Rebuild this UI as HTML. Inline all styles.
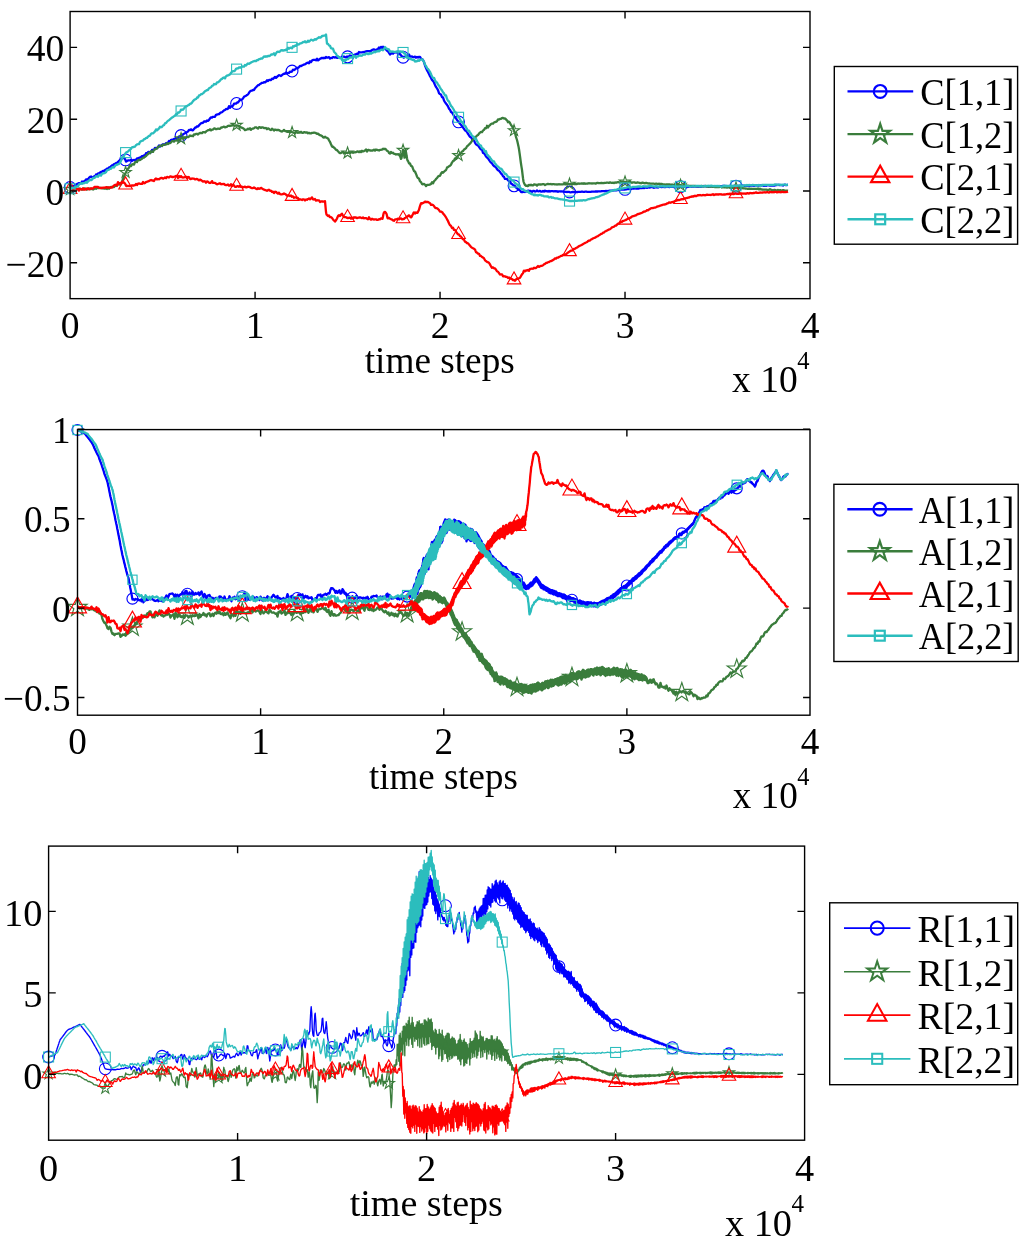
<!DOCTYPE html>
<html><head><meta charset="utf-8"><title>figure</title>
<style>html,body{margin:0;padding:0;background:#fff}svg{display:block}text{font-family:"Liberation Serif", "DejaVu Serif", serif;fill:#000}</style></head><body>
<svg width="1024" height="1244" viewBox="0 0 1024 1244">
<rect width="1024" height="1244" fill="#fff"/>
<path d="M70 187.5L70.5 187.8L71 187.5L71.5 186.6L72 185.8L72.5 186L73 186.2L73.5 186.2L74 186.1L74.5 185.5L75 184.8L75.5 184.8L76 184.8L76.5 184.4L77 184.1L77.5 183.8L78 183.6L78.5 183.4L79 183.1L79.5 183.1L80 183.1L80.5 183.1L81 183.1L81.5 182.3L82 181.5L82.5 181.8L83 182.1L83.5 181.7L84 181.2L84.5 181L85 180.8L85.5 180.1L86 179.4L86.5 179.5L87 179.5L87.5 179.6L88 179.6L88.5 178.6L89 177.8L89.5 177.3L90 176.9L90.5 176.7L91 176.5L91.5 176.8L92 177.2L92.5 177.4L93 177.7L93.5 177L94 176.4L94.5 176.2L95 176L95.5 175.3L96 174.5L96.5 174.7L97 174.8L97.5 174.1L98 173.5L98.5 173.5L99 173.5L99.5 173.1L100 172.6L100.5 172.2L101 171.9L101.5 171.8L102 171.7L102.5 171.2L103 170.8L103.5 171L104 171.2L104.5 170.6L105 170.1L105.5 169.8L106 169.6L106.5 169.1L107 168.6L107.5 168.7L108 168.9L108.5 168.1L109 167.3L109.5 167.3L110 167.4L110.5 166.9L111 166.3L111.5 165.8L112 165.4L112.5 165.2L113 165L113.5 164.6L114 164.2L114.5 164.1L115 163.9L115.5 163.5L116 163.1L116.5 162.9L117 162.7L117.5 162.4L118 162L118.5 161.4L119 160.8L119.5 160.5L120 160.1L120.5 159.8L121 159.5L121.5 159L122 158.3L122.5 158.3L123 158.2L123.5 157.9L124 158L124.5 158.5L125 159L125.5 160.2L126 161.5L126.5 161.4L127 161L127.5 160.7L128 160.4L128.5 160.3L129 160.3L129.5 160.3L130 160.3L130.5 160.2L131 160.1L131.5 160.5L132 161L132.5 160.5L133 160L133.5 160.1L134 160.2L134.5 160.1L135 159.9L135.5 160.1L136 160.2L136.5 159.3L137 158.4L137.5 158.4L138 158.4L138.5 158.1L139 157.9L139.5 157.7L140 157.6L140.5 157.3L141 157.1L141.5 156.6L142 156.1L142.5 156.2L143 156.2L143.5 155.7L144 155.3L144.5 155.5L145 155.8L145.5 154.4L146 153.1L146.5 153.3L147 153.6L147.5 152.8L148 152.1L148.5 152L149 151.8L149.5 152.4L150 152.9L150.5 152.6L151 152.3L151.5 151.1L152 149.9L152.5 150L153 150.1L153.5 149.9L154 149.6L154.5 148.8L155 147.9L155.5 148.1L156 148.4L156.5 148.2L157 148L157.5 147.6L158 147.3L158.5 146.4L159 145.5L159.5 146.1L160 146.6L160.5 146.2L161 145.7L161.5 145.4L162 145.1L162.5 144.6L163 144.3L163.5 144.4L164 144.6L164.5 144.5L165 144.3L165.5 143.8L166 143.2L166.5 143.1L167 143L167.5 143L168 142.9L168.5 141.9L169 141L169.5 141.3L170 141.5L170.5 140.7L171 139.8L171.5 139.8L172 139.7L172.5 139.8L173 139.8L173.5 139.3L174 139L174.5 138.7L175 138.5L175.5 138.4L176 138.2L176.5 138.4L177 138.5L177.5 138.2L178 137.9L178.5 137.2L179 136.5L179.5 136.5L180 136.5L180.5 136.1L181 135.5L181.5 136L182 136.5L182.5 135.3L183 134.2L183.5 134L184 133.8L184.5 133.5L185 133.2L185.5 132.8L186 132.5L186.5 132.3L187 132.1L187.5 131.8L188 131.5L188.5 130.7L189 130L189.5 130.1L190 130.1L190.5 129.7L191 129.3L191.5 129.8L192 130.3L192.5 130.3L193 130.3L193.5 129.6L194 129L194.5 128.4L195 127.7L195.5 127.6L196 127.4L196.5 126.9L197 126.3L197.5 126.4L198 126.5L198.5 125.9L199 125.4L199.5 124.8L200 124.3L200.5 123.8L201 123.3L201.5 123.1L202 123L202.5 122.9L203 122.9L203.5 122.2L204 121.5L204.5 121.5L205 121.5L205.5 121.6L206 121.7L206.5 121.1L207 120.5L207.5 120.7L208 120.9L208.5 120.4L209 120L209.5 119.2L210 118.4L210.5 117.8L211 117.3L211.5 117.4L212 117.5L212.5 117.1L213 116.8L213.5 116.8L214 116.8L214.5 116.8L215 116.8L215.5 115.8L216 114.8L216.5 114.7L217 114.6L217.5 114.4L218 114.3L218.5 114.2L219 114.1L219.5 113.6L220 113.1L220.5 112.7L221 112.4L221.5 112.3L222 112.2L222.5 111.8L223 111.3L223.5 110.8L224 110.4L224.5 110.2L225 110L225.5 109.5L226 109L226.5 109.1L227 109.1L227.5 108.9L228 108.7L228.5 107.4L229 106.1L229.5 106.9L230 107.7L230.5 107.1L231 106.5L231.5 106.4L232 106.2L232.5 106L233 105.8L233.5 104.7L234 103.7L234.5 103.7L235 103.7L235.5 103.6L236 103.6L236.5 103.1L237 102.6L237.5 102.5L238 102.4L238.5 101.8L239 101.2L239.5 100.4L240 99.7L240.5 99.9L241 100.1L241.5 99.8L242 99.5L242.5 98.9L243 98.3L243.5 97.6L244 96.8L244.5 96.5L245 96.2L245.5 96L246 95.8L246.5 95.4L247 95L247.5 94.7L248 94.3L248.5 93.6L249 92.8L249.5 92L250 91.3L250.5 91.1L251 90.8L251.5 90.7L252 90.7L252.5 90.3L253 90L253.5 90L254 90L254.5 89.1L255 88.2L255.5 87.8L256 87.3L256.5 86.8L257 86.2L257.5 85.7L258 85.2L258.5 85.1L259 85L259.5 84.5L260 84L260.5 83.8L261 83.5L261.5 83.1L262 82.8L262.5 82.9L263 82.8L263.5 82.5L264 82.1L264.5 82.3L265 82.4L265.5 82.1L266 81.7L266.5 81L267 80.3L267.5 80.7L268 81.1L268.5 80.5L269 79.9L269.5 79.9L270 79.9L270.5 80L271 80.1L271.5 79.4L272 78.6L272.5 78.8L273 79L273.5 78.5L274 77.8L274.5 77.4L275 76.9L275.5 77.4L276 77.9L276.5 77.4L277 76.9L277.5 76.4L278 76L278.5 75.6L279 75.2L279.5 75.3L280 75.5L280.5 75.7L281 76L281.5 75.5L282 75.1L282.5 74.7L283 74.3L283.5 74L284 73.7L284.5 73.7L285 73.8L285.5 73.1L286 72.5L286.5 73.1L287 73.7L287.5 73.3L288 72.9L288.5 72.9L289 72.9L289.5 72.3L290 71.6L290.5 71.8L291 71.9L291.5 71.7L292 71.4L292.5 70.5L293 69.7L293.5 69.8L294 70L294.5 69.7L295 69.5L295.5 68.9L296 68.4L296.5 68.2L297 68L297.5 67.9L298 67.9L298.5 67.5L299 67.1L299.5 66.5L300 65.9L300.5 66L301 66.2L301.5 65.8L302 65.5L302.5 65.2L303 65L303.5 64.7L304 64.5L304.5 64.4L305 64.3L305.5 64L306 63.6L306.5 63.3L307 62.9L307.5 62.8L308 62.6L308.5 62.9L309 63.2L309.5 62.2L310 61.3L310.5 61.7L311 62.1L311.5 61.3L312 60.5L312.5 60.2L313 59.9L313.5 59.9L314 59.8L314.5 59.8L315 59.9L315.5 60.1L316 60.3L316.5 59.5L317 58.8L317.5 59.6L318 60.4L318.5 60.1L319 59.8L319.5 59.3L320 58.8L320.5 58.6L321 58.4L321.5 58.1L322 57.8L322.5 58.1L323 58.3L323.5 58L324 57.7L324.5 57.9L325 58.1L325.5 57.6L326 57L326.5 57.4L327 57.7L327.5 57.6L328 57.5L328.5 57.3L329 57.1L329.5 57.9L330 58.6L330.5 58.2L331 57.8L331.5 57.9L332 58L332.5 57.6L333 57.1L333.5 57.2L334 57.2L334.5 57.4L335 57.6L335.5 57.3L336 57.1L336.5 57.4L337 57.8L337.5 57.8L338 57.8L338.5 57.6L339 57.3L339.5 57.6L340 57.9L340.5 57.8L341 57.6L341.5 57.5L342 57.3L342.5 57L343 56.6L343.5 56.6L344 56.6L344.5 56.8L345 57.1L345.5 57.3L346 57.5L346.5 57L347 56.5L347.5 56.9L348 57.3L348.5 56.9L349 56.5L349.5 55.9L350 55.4L350.5 55.7L351 55.9L351.5 55.9L352 55.8L352.5 55.4L353 55.1L353.5 55.4L354 55.7L354.5 55L355 54.3L355.5 54.3L356 54.4L356.5 54L357 53.7L357.5 53.8L358 54L358.5 53L359 52L359.5 52.2L360 52.4L360.5 52.4L361 52.3L361.5 52.4L362 52.4L362.5 52.2L363 52L363.5 52.1L364 52.3L364.5 52L365 51.7L365.5 51.6L366 51.4L366.5 51.3L367 51.1L367.5 51.1L368 51.1L368.5 51.2L369 51.3L369.5 51.2L370 51.1L370.5 51L371 50.9L371.5 50.5L372 50.1L372.5 49.8L373 49.6L373.5 49.5L374 49.5L374.5 49.6L375 49.8L375.5 50L376 50.2L376.5 49.8L377 49.3L377.5 49.2L378 49L378.5 48.2L379 47.5L379.5 48.4L380 49.3L380.5 48.1L381 46.9L381.5 47.6L382 48.2L382.5 47.5L383 46.8L383.5 47.1L384 47.7L384.5 48.2L385 48.8L385.5 49.2L386 49.5L386.5 50.1L387 50.6L387.5 51L388 51.3L388.5 52.1L389 52.8L389.5 53.6L390 54.5L390.5 54.1L391 53.8L391.5 53.3L392 52.9L392.5 53.3L393 53.7L393.5 52.9L394 52.2L394.5 52.4L395 52.6L395.5 52.2L396 51.8L396.5 52L397 52.4L397.5 53.2L398 54L398.5 54L399 53.9L399.5 54L400 54.1L400.5 54.7L401 55.3L401.5 56L402 56.7L402.5 56.6L403 56.6L403.5 57.5L404 57.6L404.5 57.3L405 56.9L405.5 56.3L406 55.7L406.5 55.7L407 55.7L407.5 55.6L408 56L408.5 55.3L409 54.5L409.5 55.6L410 56.7L410.5 56.7L411 56.7L411.5 56.6L412 56.4L412.5 56.8L413 57.2L413.5 57.2L414 57.1L414.5 56.8L415 56.6L415.5 57.1L416 57.7L416.5 57.3L417 57L417.5 57.3L418 57.5L418.5 57.1L419 56.9L419.5 56.9L420 56.9L420.5 57.8L421 58.7L421.5 58.9L422 59.2L422.5 59.3L423 60.1L423.5 61.1L424 62.1L424.5 63.8L425 65.5L425.5 66.7L426 68L426.5 69.1L427 70.3L427.5 71.2L428 72L428.5 73L429 74L429.5 75.1L430 76.2L430.5 77L431 77.8L431.5 78.9L432 79.9L432.5 80.4L433 81L433.5 81.7L434 82.5L434.5 83.7L435 84.9L435.5 85.9L436 86.9L436.5 87.7L437 88.4L437.5 89.3L438 90.2L438.5 91.7L439 93.1L439.5 93.6L440 94L440.5 94.3L441 94.5L441.5 95.8L442 97.2L442.5 97.3L443 97.4L443.5 98.9L444 100.5L444.5 101.3L445 102.1L445.5 102.8L446 103.6L446.5 104.2L447 104.8L447.5 105.6L448 106.4L448.5 107.6L449 108.7L449.5 109.2L450 109.8L450.5 110.8L451 111.9L451.5 112.2L452 112.5L452.5 113.3L453 114L453.5 115L454 116L454.5 116.5L455 117L455.5 117.6L456 118.3L456.5 119.1L457 119.9L457.5 120.6L458 121.3L458.5 121.9L459 122.4L459.5 123.1L460 123.8L460.5 124.3L461 124.8L461.5 125.5L462 126.2L462.5 126.8L463 127.5L463.5 128.2L464 128.9L464.5 129.7L465 130.4L465.5 130.6L466 130.8L466.5 131.4L467 132L467.5 132.9L468 133.9L468.5 134.6L469 135.3L469.5 136.1L470 136.9L470.5 137L471 137.1L471.5 138L472 139L472.5 139.6L473 140.2L473.5 140.2L474 140.3L474.5 141.5L475 142.6L475.5 143.5L476 144.3L476.5 144.6L477 144.9L477.5 145.2L478 145.5L478.5 146.2L479 146.9L479.5 147.7L480 148.4L480.5 148.9L481 149.4L481.5 149.3L482 149.2L482.5 151.1L483 152.9L483.5 153L484 153.1L484.5 153.8L485 154.6L485.5 155.5L486 156.5L486.5 157L487 157.5L487.5 157.9L488 158.4L488.5 159.1L489 159.9L489.5 160.7L490 161.4L490.5 162L491 162.5L491.5 162.9L492 163.2L492.5 164.1L493 164.9L493.5 165.5L494 166.1L494.5 166.3L495 166.6L495.5 167L496 167.4L496.5 168.3L497 169.1L497.5 169.7L498 170.3L498.5 170.5L499 170.8L499.5 171.3L500 171.9L500.5 172.7L501 173.5L501.5 174L502 174.4L502.5 175.3L503 176.2L503.5 176.5L504 176.8L504.5 177.9L505 178.9L505.5 178.9L506 178.8L506.5 178.9L507 179L507.5 179.7L508 180.3L508.5 180.8L509 181.3L509.5 181.4L510 181.5L510.5 182.5L511 183.6L511.5 183.8L512 184.1L512.5 184.5L513 184.9L513.5 185.2L514 185.4L514.5 185.8L515 186.1L515.5 186.8L516 187.5L516.5 187.8L517 188.1L517.5 188.8L518 189.4L518.5 189.6L519 189.8L519.5 190.1L520 190.3L520.5 191.1L521 191.9L521.5 192.1L522 192.1L522.5 192L523 192L523.5 191.8L524 191.6L524.5 191.8L525 192.1L525.5 191.5L526 190.9L526.5 191.3L527 191.6L527.5 191.1L528 190.6L528.5 190.7L529 190.8L529.5 190.9L530 191L530.5 191L531 191.1L531.5 191.5L532 191.9L532.5 191.5L533 191L533.5 190.9L534 190.8L534.5 191.2L535 191.5L535.5 191.4L536 191.2L536.5 190.9L537 190.5L537.5 190.9L538 191.2L538.5 191.3L539 191.3L539.5 191.1L540 190.8L540.5 191.2L541 191.6L541.5 191.6L542 191.7L542.5 191.3L543 191L543.5 191.3L544 191.6L544.5 191.1L545 190.6L545.5 191L546 191.3L546.5 191.2L547 191.1L547.5 191.3L548 191.6L548.5 191.3L549 191L549.5 191.3L550 191.6L550.5 191.3L551 191.1L551.5 191.1L552 191.2L552.5 191.2L553 191.2L553.5 191.3L554 191.4L554.5 191.3L555 191.1L555.5 191.3L556 191.5L556.5 191.3L557 191.2L557.5 191.5L558 191.8L558.5 191.6L559 191.3L559.5 191.3L560 191.3L560.5 191.4L561 191.5L561.5 191.4L562 191.3L562.5 191.5L563 191.7L563.5 191.6L564 191.6L564.5 191.7L565 191.9L565.5 191.9L566 191.9L566.5 191.9L567 192L567.5 191.9L568 191.8L568.5 191.8L569 191.9L569.5 192.1L570 192.3L570.5 192.3L571 192.3L571.5 192.2L572 192.2L572.5 192L573 191.9L573.5 192.1L574 192.2L574.5 192.1L575 191.9L575.5 191.9L576 192L576.5 192.1L577 192.2L577.5 192L578 191.9L578.5 191.9L579 191.9L579.5 191.9L580 191.8L580.5 191.8L581 191.8L581.5 191.7L582 191.7L582.5 191.7L583 191.8L583.5 191.8L584 191.8L584.5 191.8L585 191.7L585.5 191.7L586 191.6L586.5 191.7L587 191.8L587.5 191.8L588 191.8L588.5 191.8L589 191.8L589.5 191.8L590 191.9L590.5 191.8L591 191.8L591.5 191.7L592 191.6L592.5 191.6L593 191.6L593.5 191.6L594 191.6L594.5 191.6L595 191.6L595.5 191.5L596 191.4L596.5 191.5L597 191.6L597.5 191.5L598 191.4L598.5 191.4L599 191.4L599.5 191.4L600 191.3L600.5 191.3L601 191.3L601.5 191.2L602 191.2L602.5 191.2L603 191.1L603.5 191.2L604 191.2L604.5 191.2L605 191.3L605.5 191L606 190.8L606.5 191L607 191.2L607.5 191.1L608 191L608.5 190.9L609 190.8L609.5 190.7L610 190.6L610.5 190.6L611 190.6L611.5 190.6L612 190.6L612.5 190.6L613 190.5L613.5 190.4L614 190.3L614.5 190.3L615 190.4L615.5 190.4L616 190.4L616.5 190.3L617 190.2L617.5 190.1L618 190.1L618.5 189.9L619 189.7L619.5 189.7L620 189.8L620.5 189.7L621 189.7L621.5 189.6L622 189.5L622.5 189.6L623 189.6L623.5 189.6L624 189.6L624.5 189.5L625 189.5L625.5 189.4L626 189.3L626.5 189.3L627 189.2L627.5 189.2L628 189.1L628.5 189L629 188.9L629.5 188.9L630 188.9L630.5 188.9L631 188.9L631.5 188.8L632 188.6L632.5 188.5L633 188.4L633.5 188.5L634 188.6L634.5 188.4L635 188.3L635.5 188.5L636 188.7L636.5 188.6L637 188.5L637.5 188.5L638 188.5L638.5 188.5L639 188.4L639.5 188.3L640 188.1L640.5 188.2L641 188.2L641.5 188.2L642 188.2L642.5 188L643 187.8L643.5 187.9L644 188.1L644.5 187.9L645 187.7L645.5 187.6L646 187.6L646.5 187.7L647 187.9L647.5 187.7L648 187.5L648.5 187.4L649 187.3L649.5 187.5L650 187.6L650.5 187.3L651 186.9L651.5 187L652 187.1L652.5 187.3L653 187.5L653.5 187.7L654 187.8L654.5 187.6L655 187.3L655.5 187.4L656 187.4L656.5 187.2L657 187L657.5 187.3L658 187.6L658.5 187.3L659 187L659.5 186.7L660 186.5L660.5 186.8L661 187.1L661.5 187L662 187L662.5 186.9L663 186.8L663.5 186.9L664 187L664.5 187.1L665 187.2L665.5 186.9L666 186.6L666.5 186.8L667 187L667.5 186.8L668 186.6L668.5 186.8L669 187.1L669.5 187L670 186.9L670.5 186.8L671 186.7L671.5 186.8L672 186.9L672.5 186.9L673 186.8L673.5 186.9L674 187L674.5 186.9L675 186.9L675.5 187L676 187.1L676.5 187.3L677 187.4L677.5 187.1L678 186.9L678.5 187L679 187L679.5 187L680 186.9L680.5 186.8L681 186.7L681.5 186.8L682 186.9L682.5 186.9L683 186.9L683.5 186.9L684 186.8L684.5 186.7L685 186.7L685.5 186.6L686 186.6L686.5 186.8L687 187L687.5 186.9L688 186.8L688.5 186.8L689 186.9L689.5 186.6L690 186.4L690.5 186.6L691 186.8L691.5 186.5L692 186.2L692.5 186.4L693 186.6L693.5 186.6L694 186.6L694.5 186.6L695 186.6L695.5 186.5L696 186.5L696.5 186.6L697 186.7L697.5 186.7L698 186.6L698.5 186.6L699 186.6L699.5 186.7L700 186.9L700.5 186.8L701 186.6L701.5 186.5L702 186.4L702.5 186.4L703 186.3L703.5 186.1L704 186L704.5 186.1L705 186.3L705.5 186.3L706 186.3L706.5 186.3L707 186.3L707.5 186.4L708 186.4L708.5 186.6L709 186.8L709.5 186.7L710 186.5L710.5 186.4L711 186.4L711.5 186.3L712 186.2L712.5 186.4L713 186.6L713.5 186.4L714 186.3L714.5 186.5L715 186.7L715.5 186.5L716 186.3L716.5 186.5L717 186.6L717.5 186.5L718 186.4L718.5 186.3L719 186.2L719.5 186.2L720 186.2L720.5 186.2L721 186.2L721.5 186.2L722 186.1L722.5 186L723 185.8L723.5 185.8L724 185.8L724.5 185.9L725 186.1L725.5 186.1L726 186L726.5 186.1L727 186.2L727.5 186.2L728 186.2L728.5 186.2L729 186.3L729.5 186.2L730 186.1L730.5 186.2L731 186.2L731.5 186.2L732 186.2L732.5 186.3L733 186.3L733.5 186.1L734 185.9L734.5 185.8L735 185.7L735.5 185.8L736 186L736.5 186.1L737 186.2L737.5 186.1L738 185.9L738.5 185.9L739 185.9L739.5 185.8L740 185.7L740.5 185.7L741 185.8L741.5 185.8L742 185.9L742.5 185.7L743 185.6L743.5 185.7L744 185.9L744.5 185.9L745 185.9L745.5 185.9L746 185.8L746.5 185.8L747 185.9L747.5 185.8L748 185.7L748.5 185.9L749 186.1L749.5 186L750 185.9L750.5 185.7L751 185.5L751.5 185.6L752 185.7L752.5 185.6L753 185.5L753.5 185.7L754 185.9L754.5 185.7L755 185.5L755.5 185.4L756 185.3L756.5 185.5L757 185.7L757.5 185.7L758 185.6L758.5 185.5L759 185.5L759.5 185.4L760 185.4L760.5 185.4L761 185.4L761.5 185.5L762 185.5L762.5 185.4L763 185.3L763.5 185.6L764 185.9L764.5 185.7L765 185.4L765.5 185.7L766 185.9L766.5 185.6L767 185.3L767.5 185.4L768 185.4L768.5 185.4L769 185.3L769.5 185.5L770 185.6L770.5 185.6L771 185.6L771.5 185.5L772 185.4L772.5 185.5L773 185.6L773.5 185.6L774 185.6L774.5 185.5L775 185.5L775.5 185.3L776 185.1L776.5 185L777 185L777.5 184.9L778 184.9L778.5 184.9L779 185L779.5 185.1L780 185.2L780.5 185.1L781 185L781.5 185.1L782 185.2L782.5 185.3L783 185.5L783.5 185.2L784 185L784.5 184.8L785 184.6L785.5 184.9L786 185.2L786.5 185.1L787 185L787.5 184.9L788 184.9" fill="none" stroke="#0000ff" stroke-width="2.3" stroke-linejoin="round" stroke-linecap="butt"/>
<circle cx="70.1" cy="187.45" r="5.9" fill="none" stroke="#0000ff" stroke-width="1.1"/>
<circle cx="125.59" cy="159.9" r="5.9" fill="none" stroke="#0000ff" stroke-width="1.1"/>
<circle cx="181.08" cy="135.56" r="5.9" fill="none" stroke="#0000ff" stroke-width="1.1"/>
<circle cx="236.58" cy="103.47" r="5.9" fill="none" stroke="#0000ff" stroke-width="1.1"/>
<circle cx="292.07" cy="71.06" r="5.9" fill="none" stroke="#0000ff" stroke-width="1.1"/>
<circle cx="347.56" cy="56.82" r="5.9" fill="none" stroke="#0000ff" stroke-width="1.1"/>
<circle cx="403.05" cy="57.19" r="5.9" fill="none" stroke="#0000ff" stroke-width="1.1"/>
<circle cx="458.55" cy="121.87" r="5.9" fill="none" stroke="#0000ff" stroke-width="1.1"/>
<circle cx="514.04" cy="185.83" r="5.9" fill="none" stroke="#0000ff" stroke-width="1.1"/>
<circle cx="569.53" cy="192" r="5.9" fill="none" stroke="#0000ff" stroke-width="1.1"/>
<circle cx="625.02" cy="189.4" r="5.9" fill="none" stroke="#0000ff" stroke-width="1.1"/>
<circle cx="680.52" cy="186.7" r="5.9" fill="none" stroke="#0000ff" stroke-width="1.1"/>
<circle cx="736.01" cy="186.1" r="5.9" fill="none" stroke="#0000ff" stroke-width="1.1"/>
<path d="M70 189.5L70.5 189.7L71 189.1L71.5 189L72 188.9L72.5 188.3L73 187.7L73.5 188.4L74 189L74.5 189L75 188.9L75.5 188.8L76 188.7L76.5 188.9L77 189.2L77.5 189.2L78 189.3L78.5 188.9L79 188.6L79.5 188.7L80 188.8L80.5 188.9L81 189.1L81.5 189.4L82 189.6L82.5 189.5L83 189.4L83.5 188.9L84 188.3L84.5 188.3L85 188.3L85.5 188.8L86 189.2L86.5 189.4L87 189.6L87.5 189.2L88 188.7L88.5 188.5L89 188.4L89.5 188.8L90 189.3L90.5 188.9L91 188.6L91.5 188.9L92 189.1L92.5 189.3L93 189.5L93.5 189.2L94 188.9L94.5 188.7L95 188.5L95.5 188.6L96 188.8L96.5 188.4L97 188L97.5 188.1L98 188.1L98.5 188L99 187.9L99.5 187.9L100 188.1L100.5 188L101 188L101.5 188.1L102 188.3L102.5 188.3L103 188.3L103.5 188.4L104 188.5L104.5 188.5L105 188.4L105.5 188.5L106 188.5L106.5 188.8L107 189L107.5 188.2L108 187.3L108.5 188L109 188.7L109.5 188.2L110 187.8L110.5 187.3L111 186.8L111.5 186.9L112 187.1L112.5 187L113 186.9L113.5 187L114 187.1L114.5 186.4L115 185.7L115.5 185.8L116 186L116.5 185.8L117 185.6L117.5 185L118 184.3L118.5 184.2L119 184.2L119.5 184.4L120 184.7L120.5 184.5L121 184.3L121.5 183.1L122 181.9L122.5 180.5L123 179.1L123.5 177.8L124 176.6L124.5 175.2L125 173.9L125.5 173L126 172.5L126.5 171.2L127 169.9L127.5 169.4L128 168.8L128.5 168.2L129 167.6L129.5 166.4L130 165.2L130.5 165.7L131 166.1L131.5 165.3L132 164.4L132.5 164.3L133 164.2L133.5 164.4L134 164.6L134.5 163.4L135 162.2L135.5 161.9L136 161.6L136.5 161.8L137 162.1L137.5 161.1L138 160.2L138.5 160.1L139 160L139.5 160L140 160L140.5 159.7L141 159.3L141.5 159L142 158.7L142.5 158.2L143 157.8L143.5 157.7L144 157.6L144.5 157.2L145 156.8L145.5 156.4L146 156L146.5 155.4L147 154.8L147.5 154.5L148 154.1L148.5 153.4L149 152.7L149.5 153L150 153.3L150.5 152.2L151 151.2L151.5 151.5L152 151.9L152.5 151.9L153 151.9L153.5 150.8L154 149.8L154.5 149.6L155 149.4L155.5 149.1L156 148.7L156.5 148.7L157 148.6L157.5 147.8L158 146.9L158.5 146.7L159 146.5L159.5 146.1L160 145.7L160.5 145.6L161 145.6L161.5 145.8L162 146.1L162.5 145.3L163 144.6L163.5 144.7L164 144.8L164.5 144.7L165 144.6L165.5 144.6L166 144.6L166.5 143.9L167 143.2L167.5 143.6L168 144L168.5 143.7L169 143.3L169.5 143.2L170 143.2L170.5 142.8L171 142.4L171.5 141.7L172 141.1L172.5 141.1L173 141.2L173.5 141.4L174 141.6L174.5 141.1L175 140.7L175.5 140.5L176 140.2L176.5 140.5L177 140.7L177.5 140.7L178 140.7L178.5 140L179 139.3L179.5 139.7L180 140.1L180.5 139L181 137.9L181.5 137.7L182 137.5L182.5 138.1L183 138.7L183.5 138.3L184 137.8L184.5 137.9L185 137.9L185.5 137.8L186 137.6L186.5 137.3L187 137L187.5 137.1L188 137.2L188.5 136.9L189 136.6L189.5 136L190 135.4L190.5 135.7L191 136L191.5 135.9L192 135.7L192.5 136L193 136.2L193.5 135.2L194 134.3L194.5 134.4L195 134.5L195.5 134.2L196 133.9L196.5 133.8L197 133.8L197.5 134.1L198 134.5L198.5 134L199 133.5L199.5 133.2L200 132.9L200.5 133L201 133L201.5 133.1L202 133.2L202.5 132.7L203 132.1L203.5 132.1L204 132.1L204.5 132.3L205 132.5L205.5 132.1L206 131.6L206.5 131.2L207 130.7L207.5 130.5L208 130.2L208.5 130.2L209 130.2L209.5 129.7L210 129.2L210.5 129.8L211 130.4L211.5 130.1L212 129.8L212.5 129.6L213 129.5L213.5 129L214 128.5L214.5 128.5L215 128.6L215.5 128.9L216 129.2L216.5 129.1L217 129L217.5 128.8L218 128.6L218.5 128.7L219 128.8L219.5 128.8L220 128.8L220.5 128.2L221 127.6L221.5 127.5L222 127.5L222.5 127.2L223 127L223.5 126.8L224 126.6L224.5 127L225 127.4L225.5 127.2L226 127L226.5 126.9L227 126.8L227.5 126.3L228 125.8L228.5 125.8L229 125.7L229.5 125.8L230 126L230.5 125.8L231 125.6L231.5 125.6L232 125.6L232.5 125.3L233 124.9L233.5 125.2L234 125.4L234.5 125.6L235 125.8L235.5 125.6L236 125.4L236.5 125.5L237 125.8L237.5 125.6L238 125.5L238.5 126L239 126.5L239.5 126.4L240 126.4L240.5 127L241 127.7L241.5 127.7L242 127.7L242.5 128L243 128.3L243.5 128.6L244 128.9L244.5 129.6L245 130.2L245.5 130L246 129.8L246.5 129.7L247 129.5L247.5 129.1L248 128.7L248.5 129L249 129.3L249.5 128.8L250 128.3L250.5 129.1L251 129.8L251.5 129.3L252 128.8L252.5 128.7L253 128.7L253.5 128.5L254 128.3L254.5 127.8L255 127.3L255.5 127.3L256 127.3L256.5 127.6L257 127.9L257.5 128.3L258 128.6L258.5 127.9L259 127.2L259.5 127.2L260 127.3L260.5 127.6L261 127.9L261.5 127.6L262 127.3L262.5 127.4L263 127.4L263.5 127.7L264 128L264.5 128.1L265 128.2L265.5 128.1L266 128L266.5 128.6L267 129.2L267.5 128.8L268 128.4L268.5 128.6L269 128.8L269.5 129.3L270 129.7L270.5 129.9L271 130L271.5 129.3L272 128.6L272.5 129L273 129.5L273.5 130L274 130.6L274.5 130L275 129.5L275.5 129.7L276 129.9L276.5 130L277 130L277.5 130L278 130L278.5 130L279 130.1L279.5 130.4L280 130.7L280.5 131L281 131.3L281.5 131.4L282 131.5L282.5 131.2L283 130.8L283.5 130.4L284 129.9L284.5 130.5L285 131.1L285.5 131.1L286 131.2L286.5 131.5L287 131.8L287.5 131.8L288 131.8L288.5 131.4L289 131.1L289.5 131.7L290 132.4L290.5 131.8L291 131.2L291.5 131.7L292 132.1L292.5 132.3L293 132.6L293.5 132.7L294 132.7L294.5 133.1L295 133.4L295.5 132.4L296 131.4L296.5 132L297 132.7L297.5 132.7L298 132.8L298.5 132.5L299 132.1L299.5 132.4L300 132.6L300.5 132.2L301 131.8L301.5 132.3L302 132.8L302.5 132.9L303 132.9L303.5 132.5L304 132.1L304.5 132.2L305 132.3L305.5 132.5L306 132.6L306.5 132.5L307 132.4L307.5 132.9L308 133.3L308.5 133.1L309 132.8L309.5 133.1L310 133.4L310.5 133.4L311 133.4L311.5 133.1L312 132.9L312.5 132.9L313 132.9L313.5 132.7L314 132.6L314.5 132.7L315 132.8L315.5 132.9L316 133.1L316.5 133.5L317 133.9L317.5 133.7L318 133.6L318.5 134.1L319 134.6L319.5 134.9L320 135.2L320.5 135.3L321 135.4L321.5 135.7L322 136L322.5 136.6L323 137.2L323.5 137.4L324 137.6L324.5 137.2L325 136.7L325.5 137.1L326 137.5L326.5 137.7L327 137.9L327.5 138.2L328 138.5L328.5 139.2L329 140.4L329.5 141.1L330 141.9L330.5 143L331 144.2L331.5 145.3L332 146.4L332.5 146.8L333 146.6L333.5 147.1L334 147.6L334.5 148L335 148.5L335.5 149.2L336 149.8L336.5 149.9L337 150.1L337.5 150.7L338 151.3L338.5 151.8L339 152.4L339.5 152.8L340 153.2L340.5 153.1L341 152.9L341.5 152.6L342 152.3L342.5 152.2L343 152L343.5 152.7L344 153.5L344.5 153.3L345 153.2L345.5 152.9L346 152.6L346.5 152.7L347 152.9L347.5 152.8L348 152.8L348.5 152.4L349 152.1L349.5 152.5L350 153L350.5 152.6L351 152.3L351.5 152.4L352 152.4L352.5 152.6L353 152.8L353.5 152.5L354 152.2L354.5 152.3L355 152.4L355.5 152.2L356 152.1L356.5 151.9L357 151.6L357.5 151.5L358 151.4L358.5 151.8L359 152.2L359.5 151.7L360 151.2L360.5 151.6L361 152.1L361.5 151.4L362 150.8L362.5 151.2L363 151.5L363.5 151.3L364 151.1L364.5 150.8L365 150.5L365.5 150L366 149.4L366.5 150.5L367 151.5L367.5 150.8L368 150L368.5 150L369 150L369.5 150.2L370 150.5L370.5 150.5L371 150.5L371.5 150.6L372 150.6L372.5 150.5L373 150.4L373.5 150L374 149.6L374.5 150.1L375 150.6L375.5 150.1L376 149.5L376.5 149.7L377 149.9L377.5 150L378 150.1L378.5 150.3L379 150.5L379.5 150.2L380 149.8L380.5 149.8L381 149.8L381.5 149.7L382 149.7L382.5 149.2L383 148.7L383.5 148.9L384 149.1L384.5 148.9L385 148.8L385.5 149.1L386 149.4L386.5 150.1L387 150.8L387.5 151L388 151.2L388.5 152L389 152.9L389.5 153.2L390 153.6L390.5 152.7L391 151.9L391.5 152.5L392 153.1L392.5 152.9L393 152.7L393.5 153.3L394 153.8L394.5 153.9L395 153.9L395.5 154.2L396 154.5L396.5 154.3L397 154.2L397.5 154.3L398 154.5L398.5 154.2L399 154.5L399.5 155.2L400 155.8L400.5 157.3L401 158.9L401.5 158.1L402 155.3L402.5 152.5L403 149.7L403.5 152.1L404 154.5L404.5 157.7L405 154.5L405.5 150L406 152.2L406.5 155.3L407 158.3L407.5 160.5L408 160.9L408.5 162.1L409 163.4L409.5 163.5L410 163.5L410.5 164.7L411 165.9L411.5 166L412 166.2L412.5 167.3L413 168.7L413.5 169.9L414 171.2L414.5 171.3L415 171.5L415.5 172.7L416 173.9L416.5 175.2L417 176.5L417.5 177.4L418 178L418.5 178.3L419 178.7L419.5 180L420 181.3L420.5 181.7L421 182.1L421.5 183L422 184L422.5 184.3L423 184.3L423.5 184.1L424 183.9L424.5 184.3L425 184.7L425.5 185.4L426 186.1L426.5 185.6L427 185L427.5 184.9L428 184.9L428.5 184.8L429 184.8L429.5 184.7L430 184.6L430.5 184.3L431 184L431.5 183.1L432 182.3L432.5 183L433 183.4L433.5 182.3L434 181.2L434.5 180.7L435 180.2L435.5 179.7L436 179.1L436.5 178.5L437 178L437.5 177.3L438 176.6L438.5 176.3L439 176L439.5 175.9L440 175.9L440.5 174.7L441 173.5L441.5 172.8L442 172.1L442.5 172.4L443 172.7L443.5 172.2L444 171.7L444.5 171.2L445 170.7L445.5 170.4L446 170.1L446.5 168.9L447 167.6L447.5 167.3L448 167.1L448.5 166.7L449 166.3L449.5 166L450 165.7L450.5 165.2L451 164.7L451.5 163.6L452 162.5L452.5 161.8L453 161L453.5 160.7L454 160.4L454.5 159.4L455 158.5L455.5 158.7L456 158.8L456.5 157.9L457 156.9L457.5 156.4L458 155.9L458.5 155.2L459 154.5L459.5 154.6L460 154.7L460.5 153.8L461 153L461.5 152.2L462 151.5L462.5 151.3L463 151L463.5 150.3L464 149.6L464.5 149.2L465 148.9L465.5 148.6L466 148.2L466.5 147.3L467 146.3L467.5 145.9L468 145.6L468.5 145L469 144.5L469.5 144.1L470 143.7L470.5 143L471 142.3L471.5 141.6L472 140.9L472.5 140.2L473 139.4L473.5 139.1L474 138.8L474.5 137.8L475 136.8L475.5 136.8L476 136.8L476.5 136.2L477 135.5L477.5 135.3L478 135L478.5 134.3L479 133.6L479.5 133.1L480 132.7L480.5 132.2L481 131.8L481.5 131.9L482 132.1L482.5 131.3L483 130.6L483.5 130.2L484 129.8L484.5 129L485 128.2L485.5 128.3L486 128.3L486.5 127.1L487 125.8L487.5 126.7L488 127.5L488.5 126.7L489 125.9L489.5 125.6L490 125.2L490.5 124.6L491 124L491.5 123.8L492 123.6L492.5 123.6L493 123.7L493.5 123.1L494 122.5L494.5 122.3L495 122.1L495.5 121.9L496 121.9L496.5 121.5L497 121.2L497.5 120.3L498 119.4L498.5 119.4L499 119.5L499.5 119.2L500 118.9L500.5 118.8L501 118.8L501.5 118.4L502 118.1L502.5 118L503 117.9L503.5 118.2L504 118.5L504.5 118.5L505 118.4L505.5 118.7L506 119.5L506.5 119.9L507 120.2L507.5 121.2L508 122.2L508.5 121.9L509 121.6L509.5 122.3L510 122.9L510.5 123.9L511 124.9L511.5 125.5L512 126.3L512.5 127.1L513 127.9L513.5 129.3L514 130.7L514.5 131.8L515 132.9L515.5 134.9L516 136.9L516.5 138.5L517 140L517.5 142.1L518 144.2L518.5 146.4L519 149.2L519.5 152.7L520 156.2L520.5 160L521 163.8L521.5 166.9L522 169.9L522.5 174.1L523 178.2L523.5 181.5L524 183L524.5 183.9L525 184.9L525.5 185.4L526 185.8L526.5 185.7L527 185.5L527.5 186L528 186.1L528.5 185.4L529 184.8L529.5 185L530 185.3L530.5 185L531 184.7L531.5 185L532 185.4L532.5 185.4L533 185.4L533.5 184.9L534 184.5L534.5 184.5L535 184.6L535.5 184.6L536 184.6L536.5 185.1L537 185.6L537.5 185L538 184.5L538.5 184.5L539 184.5L539.5 184.4L540 184.4L540.5 184.5L541 184.5L541.5 184.4L542 184.4L542.5 184.2L543 184.1L543.5 184.2L544 184.3L544.5 184.6L545 185L545.5 184.7L546 184.5L546.5 184.3L547 184.2L547.5 184L548 183.9L548.5 184.1L549 184.2L549.5 184.2L550 184.2L550.5 184.1L551 184L551.5 184.2L552 184.4L552.5 184.2L553 184.1L553.5 184.1L554 184.2L554.5 184.3L555 184.4L555.5 184.4L556 184.3L556.5 184.4L557 184.5L557.5 184.4L558 184.3L558.5 184.3L559 184.2L559.5 184.3L560 184.4L560.5 184.3L561 184.3L561.5 184.4L562 184.4L562.5 184.4L563 184.3L563.5 184.2L564 184.2L564.5 184.2L565 184.3L565.5 184.3L566 184.3L566.5 184.1L567 183.9L567.5 184L568 184.1L568.5 184.1L569 184L569.5 184.2L570 184.3L570.5 184.2L571 184L571.5 184.1L572 184.3L572.5 184L573 183.8L573.5 183.9L574 184L574.5 184.1L575 184.2L575.5 184L576 183.9L576.5 184L577 184.1L577.5 183.8L578 183.5L578.5 183.6L579 183.8L579.5 183.7L580 183.7L580.5 183.7L581 183.6L581.5 183.5L582 183.3L582.5 183.6L583 183.8L583.5 183.5L584 183.2L584.5 183.5L585 183.8L585.5 183.7L586 183.6L586.5 183.7L587 183.7L587.5 183.6L588 183.4L588.5 183.3L589 183.2L589.5 183.3L590 183.3L590.5 183.3L591 183.3L591.5 183.4L592 183.5L592.5 183.4L593 183.3L593.5 183.4L594 183.4L594.5 183.4L595 183.4L595.5 183.5L596 183.5L596.5 183.2L597 182.8L597.5 182.9L598 183L598.5 183.1L599 183.2L599.5 183.2L600 183.2L600.5 183.1L601 183L601.5 183L602 183L602.5 183.1L603 183.1L603.5 183.1L604 183L604.5 182.9L605 182.8L605.5 182.8L606 182.8L606.5 182.7L607 182.6L607.5 182.6L608 182.7L608.5 182.8L609 182.9L609.5 182.6L610 182.4L610.5 182.5L611 182.7L611.5 182.8L612 182.9L612.5 182.8L613 182.6L613.5 182.8L614 183.1L614.5 182.8L615 182.5L615.5 182.6L616 182.8L616.5 182.6L617 182.4L617.5 182.2L618 182.1L618.5 182.2L619 182.4L619.5 182.5L620 182.6L620.5 182.4L621 182.1L621.5 182.2L622 182.3L622.5 182.1L623 181.9L623.5 181.9L624 181.9L624.5 182L625 182.1L625.5 182.1L626 182L626.5 182.1L627 182.2L627.5 182.3L628 182.4L628.5 182.2L629 182L629.5 182.1L630 182.1L630.5 182.2L631 182.3L631.5 182.6L632 182.8L632.5 182.6L633 182.3L633.5 182.3L634 182.3L634.5 182.4L635 182.6L635.5 182.7L636 182.9L636.5 182.7L637 182.5L637.5 182.5L638 182.6L638.5 182.7L639 182.7L639.5 182.9L640 183L640.5 183.1L641 183.3L641.5 183L642 182.7L642.5 182.7L643 182.7L643.5 182.9L644 183.1L644.5 183.2L645 183.3L645.5 183L646 182.8L646.5 183L647 183.1L647.5 183.3L648 183.5L648.5 183.4L649 183.3L649.5 183.4L650 183.6L650.5 183.6L651 183.6L651.5 183.7L652 183.7L652.5 183.7L653 183.7L653.5 183.7L654 183.7L654.5 183.9L655 184L655.5 183.8L656 183.6L656.5 183.7L657 183.8L657.5 183.9L658 184L658.5 183.8L659 183.7L659.5 183.8L660 183.9L660.5 183.9L661 183.9L661.5 184L662 184L662.5 184.3L663 184.7L663.5 184.5L664 184.4L664.5 184.5L665 184.7L665.5 184.6L666 184.5L666.5 184.4L667 184.4L667.5 184.4L668 184.4L668.5 184.5L669 184.5L669.5 184.5L670 184.5L670.5 184.7L671 184.8L671.5 184.7L672 184.5L672.5 184.7L673 184.8L673.5 184.9L674 184.9L674.5 184.9L675 184.8L675.5 184.8L676 184.9L676.5 185L677 185.1L677.5 185.1L678 185.2L678.5 185.2L679 185.1L679.5 185.2L680 185.3L680.5 185.2L681 185.2L681.5 185.3L682 185.5L682.5 185.4L683 185.3L683.5 185.2L684 185L684.5 185.2L685 185.4L685.5 185.6L686 185.7L686.5 185.7L687 185.8L687.5 185.7L688 185.6L688.5 185.8L689 186L689.5 185.9L690 185.9L690.5 185.9L691 185.9L691.5 186L692 186.1L692.5 186L693 185.8L693.5 185.9L694 186L694.5 185.9L695 185.9L695.5 186L696 186.2L696.5 186.2L697 186.3L697.5 186.2L698 186.2L698.5 186.2L699 186.3L699.5 186.1L700 186L700.5 186.1L701 186.3L701.5 186.1L702 185.9L702.5 186.3L703 186.6L703.5 186.6L704 186.5L704.5 186.3L705 186L705.5 185.9L706 185.9L706.5 186.3L707 186.8L707.5 186.6L708 186.4L708.5 186.5L709 186.7L709.5 186.5L710 186.4L710.5 186.5L711 186.7L711.5 186.7L712 186.6L712.5 186.8L713 186.9L713.5 186.9L714 186.8L714.5 187L715 187.2L715.5 186.9L716 186.7L716.5 186.9L717 187.1L717.5 187L718 186.9L718.5 187L719 187.1L719.5 186.9L720 186.8L720.5 186.8L721 186.8L721.5 187.2L722 187.5L722.5 187.3L723 187.1L723.5 187.2L724 187.4L724.5 187.4L725 187.4L725.5 187.4L726 187.3L726.5 187.4L727 187.6L727.5 187.4L728 187.2L728.5 187.2L729 187.3L729.5 187.5L730 187.8L730.5 187.6L731 187.5L731.5 187.7L732 187.9L732.5 187.9L733 187.9L733.5 188L734 188.1L734.5 188.1L735 188L735.5 187.8L736 187.5L736.5 187.7L737 187.8L737.5 187.9L738 187.9L738.5 188.1L739 188.3L739.5 188.2L740 188.1L740.5 188.1L741 188L741.5 188.1L742 188.3L742.5 188.2L743 188.2L743.5 188.3L744 188.4L744.5 188.4L745 188.4L745.5 188.6L746 188.7L746.5 188.7L747 188.7L747.5 188.8L748 188.9L748.5 188.8L749 188.7L749.5 188.8L750 188.9L750.5 188.8L751 188.7L751.5 188.8L752 188.9L752.5 188.9L753 188.8L753.5 188.8L754 188.8L754.5 188.8L755 188.8L755.5 188.8L756 188.8L756.5 188.9L757 189L757.5 188.8L758 188.5L758.5 188.9L759 189.4L759.5 189.1L760 188.7L760.5 189.1L761 189.4L761.5 189.4L762 189.5L762.5 189.6L763 189.7L763.5 189.7L764 189.6L764.5 189.6L765 189.6L765.5 189.6L766 189.6L766.5 189.7L767 189.8L767.5 190L768 190.1L768.5 189.9L769 189.7L769.5 189.4L770 189.2L770.5 189.5L771 189.7L771.5 189.8L772 190L772.5 190.3L773 190.7L773.5 190.3L774 189.9L774.5 189.9L775 190L775.5 190.2L776 190.3L776.5 190.3L777 190.3L777.5 190.1L778 190L778.5 190.3L779 190.5L779.5 190.3L780 190.1L780.5 190.2L781 190.3L781.5 190.5L782 190.7L782.5 190.4L783 190.1L783.5 190.2L784 190.3L784.5 190.6L785 190.9L785.5 190.8L786 190.6L786.5 190.6L787 190.6L787.5 190.7L788 190.8" fill="none" stroke="#3a7d3c" stroke-width="2.3" stroke-linejoin="round" stroke-linecap="butt"/>
<path d="M70.1 183.5L71.45 187.64L75.81 187.64L72.28 190.2L73.63 194.35L70.1 191.79L66.57 194.35L67.92 190.2L64.39 187.64L68.75 187.64Z" fill="none" stroke="#3a7d3c" stroke-width="1.1" stroke-linejoin="miter"/>
<path d="M125.59 166.37L126.94 170.52L131.3 170.52L127.77 173.08L129.12 177.23L125.59 174.66L122.07 177.23L123.41 173.08L119.89 170.52L124.25 170.52Z" fill="none" stroke="#3a7d3c" stroke-width="1.1" stroke-linejoin="miter"/>
<path d="M181.08 132.65L182.43 136.8L186.79 136.8L183.26 139.36L184.61 143.5L181.08 140.94L177.56 143.5L178.91 139.36L175.38 136.8L179.74 136.8Z" fill="none" stroke="#3a7d3c" stroke-width="1.1" stroke-linejoin="miter"/>
<path d="M236.58 119.19L237.92 123.33L242.28 123.33L238.76 125.9L240.1 130.04L236.58 127.48L233.05 130.04L234.4 125.9L230.87 123.33L235.23 123.33Z" fill="none" stroke="#3a7d3c" stroke-width="1.1" stroke-linejoin="miter"/>
<path d="M292.07 126.5L293.42 130.65L297.78 130.65L294.25 133.21L295.6 137.35L292.07 134.79L288.54 137.35L289.89 133.21L286.36 130.65L290.72 130.65Z" fill="none" stroke="#3a7d3c" stroke-width="1.1" stroke-linejoin="miter"/>
<path d="M347.56 146.94L348.91 151.08L353.27 151.08L349.74 153.64L351.09 157.79L347.56 155.23L344.04 157.79L345.38 153.64L341.86 151.08L346.22 151.08Z" fill="none" stroke="#3a7d3c" stroke-width="1.1" stroke-linejoin="miter"/>
<path d="M403.05 144.27L404.4 148.42L408.76 148.42L405.23 150.98L406.58 155.13L403.05 152.57L399.53 155.13L400.88 150.98L397.35 148.42L401.71 148.42Z" fill="none" stroke="#3a7d3c" stroke-width="1.1" stroke-linejoin="miter"/>
<path d="M458.55 149.48L459.89 153.63L464.25 153.63L460.73 156.19L462.07 160.34L458.55 157.78L455.02 160.34L456.37 156.19L452.84 153.63L457.2 153.63Z" fill="none" stroke="#3a7d3c" stroke-width="1.1" stroke-linejoin="miter"/>
<path d="M514.04 124.58L515.39 128.73L519.75 128.73L516.22 131.29L517.57 135.43L514.04 132.87L510.51 135.43L511.86 131.29L508.33 128.73L512.69 128.73Z" fill="none" stroke="#3a7d3c" stroke-width="1.1" stroke-linejoin="miter"/>
<path d="M569.53 178.09L570.88 182.24L575.24 182.24L571.71 184.8L573.06 188.95L569.53 186.38L566.01 188.95L567.35 184.8L563.83 182.24L568.19 182.24Z" fill="none" stroke="#3a7d3c" stroke-width="1.1" stroke-linejoin="miter"/>
<path d="M625.02 176L626.37 180.15L630.73 180.15L627.2 182.71L628.55 186.86L625.02 184.29L621.5 186.86L622.85 182.71L619.32 180.15L623.68 180.15Z" fill="none" stroke="#3a7d3c" stroke-width="1.1" stroke-linejoin="miter"/>
<path d="M680.52 179.26L681.86 183.41L686.22 183.41L682.7 185.97L684.04 190.11L680.52 187.55L676.99 190.11L678.34 185.97L674.81 183.41L679.17 183.41Z" fill="none" stroke="#3a7d3c" stroke-width="1.1" stroke-linejoin="miter"/>
<path d="M736.01 181.9L737.36 186.05L741.72 186.05L738.19 188.61L739.54 192.75L736.01 190.19L732.48 192.75L733.83 188.61L730.3 186.05L734.66 186.05Z" fill="none" stroke="#3a7d3c" stroke-width="1.1" stroke-linejoin="miter"/>
<path d="M70 189.5L70.5 189.6L71 189.3L71.5 189.6L72 189.8L72.5 189.3L73 188.8L73.5 189.5L74 190.1L74.5 189.4L75 188.7L75.5 189.1L76 189.4L76.5 189.3L77 189.2L77.5 189L78 188.8L78.5 189.7L79 190.6L79.5 189.7L80 188.7L80.5 189L81 189.2L81.5 189.4L82 189.5L82.5 188.9L83 188.3L83.5 189L84 189.7L84.5 189.3L85 188.9L85.5 189.2L86 189.5L86.5 188.9L87 188.4L87.5 188.4L88 188.4L88.5 188.9L89 189.4L89.5 189.1L90 188.8L90.5 188.6L91 188.4L91.5 188.5L92 188.5L92.5 188.4L93 188.3L93.5 187.9L94 187.4L94.5 187.1L95 186.8L95.5 186.9L96 187L96.5 187L97 187L97.5 186.9L98 186.9L98.5 187.3L99 187.8L99.5 187.9L100 187.9L100.5 187.9L101 188L101.5 188L102 188.1L102.5 187.8L103 187.6L103.5 187.6L104 187.7L104.5 187.7L105 187.8L105.5 187.5L106 187.2L106.5 187.2L107 187.3L107.5 187.5L108 187.8L108.5 187.6L109 187.4L109.5 187.5L110 187.6L110.5 187.5L111 187.4L111.5 187.5L112 187.6L112.5 187L113 186.5L113.5 186L114 185.5L114.5 185.2L115 184.9L115.5 184.8L116 184.7L116.5 185.1L117 185.5L117.5 183.8L118 182.2L118.5 183L119 183.8L119.5 183.5L120 183.2L120.5 183.2L121 183.2L121.5 182.5L122 181.7L122.5 182.3L123 182.8L123.5 182.3L124 182.3L124.5 183L125 183.6L125.5 184.6L126 185.7L126.5 186L127 185.7L127.5 185.9L128 186L128.5 185.9L129 185.8L129.5 186L130 186.2L130.5 186L131 185.8L131.5 185.6L132 185.4L132.5 185.5L133 185.6L133.5 185.5L134 185.4L134.5 185.3L135 185.1L135.5 184.6L136 184L136.5 184.5L137 185.1L137.5 184.4L138 183.7L138.5 183.6L139 183.5L139.5 183.6L140 183.8L140.5 183.8L141 183.8L141.5 183.8L142 183.9L142.5 182.9L143 182L143.5 182.6L144 183.3L144.5 183.2L145 183.2L145.5 182.5L146 181.8L146.5 181.8L147 181.8L147.5 181.6L148 181.4L148.5 181.2L149 181.1L149.5 180.8L150 180.4L150.5 180.2L151 180L151.5 180.3L152 180.5L152.5 180.5L153 180.4L153.5 180.7L154 181L154.5 180.1L155 179.2L155.5 178.8L156 178.5L156.5 179L157 179.5L157.5 179.3L158 179L158.5 179.2L159 179.3L159.5 178.9L160 178.6L160.5 178.2L161 177.9L161.5 178L162 178L162.5 178.3L163 178.7L163.5 178.4L164 178.2L164.5 177.8L165 177.4L165.5 177.8L166 178.2L166.5 177.6L167 176.9L167.5 177L168 177.2L168.5 177.3L169 177.5L169.5 177L170 176.5L170.5 176.5L171 176.5L171.5 176.8L172 177.1L172.5 177L173 177L173.5 176.9L174 176.8L174.5 176.6L175 176.5L175.5 176.3L176 176L176.5 176L177 176L177.5 177L178 178L178.5 177L179 176L179.5 176.6L180 177.1L180.5 176.6L181 176.1L181.5 176.7L182 177.3L182.5 177.4L183 177.5L183.5 177.4L184 177.4L184.5 177.2L185 177L185.5 176.9L186 176.7L186.5 177.4L187 178.1L187.5 177.6L188 177L188.5 177.1L189 177.2L189.5 178.1L190 178.9L190.5 179L191 179.1L191.5 178.8L192 178.5L192.5 178.6L193 178.6L193.5 178.6L194 178.6L194.5 179L195 179.4L195.5 179.3L196 179.2L196.5 179L197 178.9L197.5 179.2L198 179.6L198.5 180L199 180.4L199.5 180L200 179.6L200.5 179.9L201 180.1L201.5 180.4L202 180.8L202.5 181.3L203 181.7L203.5 181.5L204 181.2L204.5 181.3L205 181.4L205.5 182.1L206 182.7L206.5 182.1L207 181.4L207.5 181.6L208 181.7L208.5 182.2L209 182.7L209.5 182.8L210 183L210.5 182.8L211 182.7L211.5 181.9L212 181.1L212.5 182L213 182.9L213.5 182.9L214 182.9L214.5 182.9L215 182.9L215.5 183.2L216 183.6L216.5 184L217 184.3L217.5 184.2L218 184L218.5 183.8L219 183.6L219.5 183.4L220 183.2L220.5 183.8L221 184.3L221.5 184.2L222 184L222.5 184.1L223 184.2L223.5 184L224 183.9L224.5 184.4L225 184.8L225.5 184.9L226 185.1L226.5 185.1L227 185.1L227.5 184.8L228 184.5L228.5 185.1L229 185.7L229.5 185.6L230 185.6L230.5 184.9L231 184.2L231.5 185.1L232 186L232.5 185.4L233 184.8L233.5 185.1L234 185.5L234.5 186.2L235 186.8L235.5 186.9L236 186.9L236.5 186.6L237 186.3L237.5 186.2L238 186.2L238.5 186.5L239 186.8L239.5 186.2L240 185.7L240.5 186.3L241 186.9L241.5 186.8L242 186.7L242.5 187L243 187.4L243.5 187.2L244 187.1L244.5 186.8L245 186.6L245.5 187L246 187.4L246.5 187.3L247 187.2L247.5 186.9L248 186.7L248.5 186.8L249 186.9L249.5 187L250 187.1L250.5 187.4L251 187.7L251.5 188L252 188.2L252.5 188.1L253 188L253.5 187.8L254 187.5L254.5 187.8L255 188.1L255.5 188.4L256 188.7L256.5 188.9L257 189.1L257.5 188.6L258 188.2L258.5 188.5L259 188.9L259.5 188.7L260 188.6L260.5 188.2L261 187.8L261.5 188.1L262 188.5L262.5 188.8L263 189.2L263.5 189.4L264 189.6L264.5 189.8L265 190.1L265.5 190.2L266 190.3L266.5 190.6L267 190.8L267.5 190.5L268 190.1L268.5 189.9L269 189.7L269.5 190.2L270 190.8L270.5 190.8L271 190.7L271.5 191.3L272 191.9L272.5 191.8L273 191.6L273.5 192.4L274 193L274.5 192.4L275 191.7L275.5 191.8L276 191.8L276.5 192.4L277 192.9L277.5 193.3L278 193.7L278.5 193.2L279 192.6L279.5 193.4L280 194.1L280.5 194.2L281 194.4L281.5 194.3L282 194.3L282.5 194.2L283 194.1L283.5 193.7L284 193.4L284.5 193.7L285 194L285.5 194.3L286 194.6L286.5 195.1L287 195.6L287.5 195.5L288 195.5L288.5 195.5L289 195.5L289.5 195.8L290 196.1L290.5 195.8L291 195.5L291.5 196.1L292 196.8L292.5 196.6L293 196.4L293.5 197.1L294 197.8L294.5 197.6L295 197.4L295.5 197.3L296 197.3L296.5 197.7L297 198L297.5 198L298 198L298.5 198.8L299 199.6L299.5 199.5L300 199.3L300.5 199.4L301 199.6L301.5 199.8L302 200L302.5 199.6L303 199.3L303.5 199.3L304 199.4L304.5 200L305 200.5L305.5 200L306 199.5L306.5 199.6L307 199.8L307.5 199.4L308 199L308.5 198.8L309 198.5L309.5 198.9L310 199.3L310.5 198.9L311 198.5L311.5 197.9L312 197.4L312.5 198.3L313 199.3L313.5 199.4L314 199.5L314.5 199.3L315 199L315.5 199.8L316 200.6L316.5 200.4L317 200.2L317.5 200.3L318 200.3L318.5 200.4L319 200.5L319.5 201.2L320 202L320.5 201.7L321 201.3L321.5 201.4L322 201.5L322.5 201.5L323 201.6L323.5 201.6L324 201.5L324.5 201.3L325 201.2L325.5 206.6L326 212L326.5 214.6L327 214.8L327.5 215.5L328 216.1L328.5 215.8L329 215.5L329.5 216.3L330 217.1L330.5 217.1L331 217.1L331.5 217.5L332 218L332.5 218.7L333 219.4L333.5 220L334 220.5L334.5 221L335 221.6L335.5 220.9L336 220.3L336.5 219.4L337 218.5L337.5 217.3L338 216.1L338.5 215.5L339 215.2L339.5 215.6L340 216L340.5 215.4L341 214.7L341.5 214.1L342 213.8L342.5 214.7L343 215.6L343.5 216.3L344 217L344.5 217.1L345 217.2L345.5 217.2L346 217.2L346.5 217.5L347 217.9L347.5 218L348 218.1L348.5 217.9L349 217.8L349.5 217.7L350 217.6L350.5 218.2L351 218.7L351.5 218.2L352 217.7L352.5 218.1L353 218.5L353.5 217.8L354 217.2L354.5 217.4L355 217.6L355.5 217.5L356 217.4L356.5 217.8L357 218.2L357.5 218L358 217.7L358.5 217.7L359 217.6L359.5 217.5L360 217.4L360.5 217.6L361 217.8L361.5 218L362 218.2L362.5 217.8L363 217.5L363.5 217.9L364 218.3L364.5 218.2L365 218.2L365.5 218.1L366 218.1L366.5 218.4L367 218.7L367.5 218.9L368 219.2L368.5 218.2L369 217.2L369.5 218.1L370 219L370.5 219.3L371 219.7L371.5 219.2L372 218.7L372.5 219L373 219.3L373.5 219.4L374 219.5L374.5 219.4L375 219.3L375.5 219.3L376 219.3L376.5 219.6L377 219.9L377.5 219.9L378 219.8L378.5 219.5L379 219.2L379.5 219.2L380 219.3L380.5 218.9L381 218.4L381.5 218.6L382 218.8L382.5 218.8L383 216.4L383.5 213.8L384 212.4L384.5 212.1L385 211.9L385.5 212.4L386 213L386.5 213.8L387 215.7L387.5 217.9L388 218.4L388.5 218.1L389 217.9L389.5 218.3L390 218.8L390.5 219L391 219.2L391.5 219.4L392 219.5L392.5 220L393 220.4L393.5 220.6L394 220.8L394.5 220.1L395 219.4L395.5 219.4L396 219.4L396.5 219.2L397 219L397.5 218.8L398 218.7L398.5 219L399 219.3L399.5 218.9L400 218.6L400.5 218.5L401 218.4L401.5 218.9L402 219.4L402.5 219.3L403 219.1L403.5 219.1L404 218.9L404.5 218.4L405 218L405.5 217.8L406 217.5L406.5 217L407 216.6L407.5 216.4L408 216.2L408.5 215.6L409 215.4L409.5 215.9L410 216.4L410.5 217L411 217.4L411.5 217.1L412 216L412.5 215L413 214L413.5 212.9L414 212.4L414.5 212.9L415 213.5L415.5 212.9L416 212.4L416.5 212.7L417 212.9L417.5 212.9L418 211.7L418.5 210.7L419 209.7L419.5 207.9L420 206.1L420.5 204.7L421 203.3L421.5 203.1L422 203.6L422.5 203.3L423 203L423.5 202.7L424 202.4L424.5 202L425 201.6L425.5 201.9L426 202.1L426.5 201.9L427 202L427.5 202L428 202L428.5 202.3L429 202.7L429.5 202.9L430 203.2L430.5 204L431 204.9L431.5 204.8L432 204.7L432.5 204.8L433 205L433.5 205.5L434 206L434.5 206.8L435 207.6L435.5 207.9L436 208.1L436.5 208.2L437 208.3L437.5 208.6L438 209L438.5 209.5L439 210.1L439.5 210.8L440 211.5L440.5 211.6L441 211.6L441.5 211.9L442 212.1L442.5 212.5L443 213.4L443.5 214L444 214.6L444.5 215.2L445 215.9L445.5 216.6L446 217.3L446.5 218.3L447 219.2L447.5 220.1L448 221L448.5 222.2L449 223.4L449.5 224.3L450 225.1L450.5 225.5L451 225.9L451.5 227L452 228L452.5 227.8L453 227.7L453.5 228.8L454 229.9L454.5 229.8L455 229.8L455.5 230.6L456 231.4L456.5 232.3L457 233.1L457.5 233.7L458 234.3L458.5 234.4L459 234.6L459.5 235.4L460 236.1L460.5 236.3L461 236.5L461.5 237.3L462 238.1L462.5 238.7L463 239.3L463.5 239.5L464 239.7L464.5 240.7L465 241.7L465.5 241.9L466 242.1L466.5 242.6L467 243.1L467.5 243.2L468 243.3L468.5 243.9L469 244.5L469.5 245.1L470 245.6L470.5 246.3L471 246.9L471.5 247.3L472 247.8L472.5 248L473 248.2L473.5 248.5L474 248.8L474.5 249.2L475 249.5L475.5 250.9L476 252.2L476.5 252.4L477 252.6L477.5 253.2L478 253.7L478.5 253.7L479 253.8L479.5 254.8L480 255.9L480.5 255.9L481 256L481.5 256.5L482 257L482.5 257.3L483 257.6L483.5 257.9L484 258.2L484.5 259.3L485 260.3L485.5 260.7L486 261L486.5 261.5L487 261.9L487.5 262.1L488 262.2L488.5 262.5L489 262.9L489.5 263.6L490 264.4L490.5 265.4L491 266.3L491.5 267.1L492 267.8L492.5 267.5L493 267.3L493.5 267.8L494 268.3L494.5 268.4L495 268.5L495.5 269.1L496 269.7L496.5 270.5L497 271.3L497.5 271.5L498 271.7L498.5 272.4L499 273L499.5 273.8L500 274.5L500.5 274.4L501 274.3L501.5 274.3L502 274.3L502.5 275.3L503 276.3L503.5 276.3L504 276.2L504.5 276.3L505 276.4L505.5 276.6L506 276.9L506.5 276.9L507 277L507.5 277.5L508 278L508.5 277.7L509 277.4L509.5 278.1L510 278.7L510.5 278.5L511 278.4L511.5 278.8L512 279.3L512.5 279.6L513 280L513.5 279.9L514 279.8L514.5 280.5L515 280.8L515.5 280.2L516 279.5L516.5 279.1L517 278.7L517.5 278.8L518 278.8L518.5 278.5L519 278.2L519.5 278L520 277.7L520.5 276.9L521 276L521.5 275.1L522 274.3L522.5 273.7L523 273.2L523.5 271.7L524 270.6L524.5 271L525 271.3L525.5 270.9L526 270.5L526.5 270.5L527 270.6L527.5 270.3L528 270L528.5 270.4L529 270.8L529.5 269.8L530 268.8L530.5 268.8L531 268.8L531.5 268.7L532 268.7L532.5 268.7L533 268.8L533.5 268.2L534 267.7L534.5 267.9L535 268.1L535.5 268.1L536 268.1L536.5 267.5L537 267L537.5 266.5L538 266L538.5 266.5L539 266.9L539.5 266.6L540 266.3L540.5 266.1L541 265.9L541.5 265.8L542 265.8L542.5 265.5L543 265.2L543.5 264.8L544 264.3L544.5 264.1L545 263.9L545.5 263.5L546 263L546.5 262.9L547 262.9L547.5 262.5L548 262.3L548.5 262.1L549 262L549.5 261.7L550 261.3L550.5 261.2L551 261.1L551.5 260.9L552 260.6L552.5 260.4L553 260.1L553.5 259.8L554 259.4L554.5 258.9L555 258.4L555.5 258.5L556 258.6L556.5 258.1L557 257.7L557.5 257.7L558 257.7L558.5 257.4L559 257L559.5 256.7L560 256.5L560.5 256.2L561 255.8L561.5 255.8L562 255.8L562.5 255.3L563 254.8L563.5 254.8L564 254.8L564.5 254.6L565 254.4L565.5 254.4L566 254.3L566.5 253.8L567 253.4L567.5 253L568 252.5L568.5 252.2L569 251.8L569.5 251.6L570 251.3L570.5 250.9L571 250.6L571.5 250.6L572 250.6L572.5 250.2L573 249.8L573.5 249.4L574 248.9L574.5 248.8L575 248.7L575.5 248.4L576 248L576.5 247.8L577 247.6L577.5 247.3L578 246.9L578.5 246.5L579 246.1L579.5 245.9L580 245.7L580.5 245.5L581 245.3L581.5 245L582 244.7L582.5 244.4L583 244.2L583.5 243.8L584 243.5L584.5 243.3L585 243L585.5 242.7L586 242.5L586.5 242.3L587 242L587.5 241.6L588 241.1L588.5 240.9L589 240.6L589.5 240.6L590 240.6L590.5 240L591 239.5L591.5 239.3L592 239.1L592.5 238.7L593 238.4L593.5 238.2L594 238L594.5 237.8L595 237.7L595.5 237.4L596 237.1L596.5 236.8L597 236.5L597.5 236.3L598 236.1L598.5 235.7L599 235.2L599.5 235L600 234.8L600.5 234.3L601 233.9L601.5 233.8L602 233.7L602.5 233.2L603 232.7L603.5 232.6L604 232.5L604.5 232L605 231.5L605.5 231.3L606 231.1L606.5 230.8L607 230.6L607.5 230.3L608 230L608.5 229.7L609 229.4L609.5 229.3L610 229.2L610.5 228.8L611 228.3L611.5 227.9L612 227.4L612.5 227.2L613 227L613.5 226.8L614 226.7L614.5 226.2L615 225.7L615.5 225.7L616 225.6L616.5 225.1L617 224.6L617.5 224.1L618 223.7L618.5 223.7L619 223.7L619.5 223.2L620 222.7L620.5 222.2L621 221.6L621.5 221.7L622 221.8L622.5 221.4L623 221L623.5 220.9L624 220.7L624.5 220.5L625 220.3L625.5 220.1L626 219.9L626.5 219.6L627 219.2L627.5 218.9L628 218.5L628.5 218.6L629 218.6L629.5 218.3L630 217.9L630.5 217.6L631 217.4L631.5 216.9L632 216.5L632.5 216.3L633 216.2L633.5 216.1L634 216L634.5 215.8L635 215.6L635.5 215.4L636 215.3L636.5 214.9L637 214.6L637.5 214.3L638 214L638.5 214L639 213.9L639.5 213.7L640 213.4L640.5 213.3L641 213.2L641.5 213L642 212.8L642.5 212.5L643 212.1L643.5 211.9L644 211.6L644.5 211.6L645 211.5L645.5 211.2L646 211L646.5 210.6L647 210.1L647.5 210.2L648 210.3L648.5 209.9L649 209.5L649.5 209.2L650 208.9L650.5 208.6L651 208.3L651.5 208.2L652 208.1L652.5 208.1L653 208L653.5 207.9L654 207.7L654.5 207.7L655 207.7L655.5 207.5L656 207.3L656.5 206.9L657 206.6L657.5 206.5L658 206.4L658.5 206.3L659 206.1L659.5 205.9L660 205.7L660.5 205.6L661 205.4L661.5 205.2L662 205.1L662.5 204.9L663 204.7L663.5 204.7L664 204.6L664.5 204.5L665 204.3L665.5 204.3L666 204.2L666.5 203.8L667 203.5L667.5 203.4L668 203.3L668.5 202.8L669 202.4L669.5 202.6L670 202.8L670.5 202.7L671 202.6L671.5 202.3L672 202.1L672.5 202.1L673 202L673.5 201.7L674 201.5L674.5 201.3L675 201.1L675.5 200.9L676 200.6L676.5 200.5L677 200.4L677.5 200.1L678 199.9L678.5 200L679 200.2L679.5 200L680 199.8L680.5 199.6L681 199.4L681.5 199.3L682 199.1L682.5 199.2L683 199.3L683.5 199.1L684 198.8L684.5 198.6L685 198.3L685.5 198.3L686 198.2L686.5 198.1L687 198L687.5 197.8L688 197.7L688.5 197.6L689 197.5L689.5 197.2L690 196.9L690.5 196.9L691 196.9L691.5 196.6L692 196.4L692.5 196.5L693 196.6L693.5 196.4L694 196.1L694.5 195.9L695 195.7L695.5 195.9L696 196.2L696.5 195.9L697 195.7L697.5 195.4L698 195.1L698.5 195.2L699 195.3L699.5 195.2L700 195L700.5 195.2L701 195.3L701.5 195.3L702 195.3L702.5 195.2L703 195L703.5 195.1L704 195.2L704.5 195.2L705 195.3L705.5 195.2L706 195.1L706.5 194.8L707 194.6L707.5 194.7L708 194.9L708.5 194.9L709 194.9L709.5 194.9L710 194.8L710.5 194.9L711 195L711.5 194.8L712 194.6L712.5 194.4L713 194.2L713.5 194.6L714 195L714.5 194.7L715 194.4L715.5 194.5L716 194.6L716.5 194.4L717 194.2L717.5 194.5L718 194.7L718.5 194.4L719 194.2L719.5 194.3L720 194.4L720.5 194.3L721 194.2L721.5 194.4L722 194.6L722.5 194.6L723 194.7L723.5 194.6L724 194.4L724.5 194.5L725 194.5L725.5 194.4L726 194.3L726.5 194.2L727 194.2L727.5 194.1L728 193.9L728.5 194L729 194.2L729.5 193.9L730 193.6L730.5 193.9L731 194.2L731.5 194.1L732 194L732.5 193.9L733 193.9L733.5 194L734 194.1L734.5 193.8L735 193.5L735.5 193.5L736 193.6L736.5 193.8L737 193.9L737.5 193.8L738 193.7L738.5 193.8L739 193.8L739.5 193.7L740 193.6L740.5 193.5L741 193.4L741.5 193.5L742 193.6L742.5 193.6L743 193.5L743.5 193.6L744 193.6L744.5 193.6L745 193.5L745.5 193.7L746 193.8L746.5 193.5L747 193.2L747.5 193.2L748 193.2L748.5 193.4L749 193.6L749.5 193.3L750 193L750.5 193.1L751 193.2L751.5 193.2L752 193.3L752.5 193.2L753 193.1L753.5 193L754 193L754.5 192.9L755 192.8L755.5 192.6L756 192.4L756.5 192.6L757 192.9L757.5 192.9L758 192.9L758.5 192.8L759 192.8L759.5 192.7L760 192.5L760.5 192.6L761 192.6L761.5 192.7L762 192.7L762.5 192.6L763 192.4L763.5 192.4L764 192.4L764.5 192.3L765 192.2L765.5 192.4L766 192.5L766.5 192.3L767 192.1L767.5 192.2L768 192.3L768.5 192.5L769 192.7L769.5 192.3L770 191.8L770.5 191.9L771 192L771.5 192.2L772 192.3L772.5 192.2L773 192L773.5 192.2L774 192.3L774.5 192.1L775 191.8L775.5 191.9L776 191.9L776.5 192.1L777 192.4L777.5 192.1L778 191.9L778.5 192L779 192.1L779.5 192L780 192L780.5 192.2L781 192.3L781.5 192L782 191.7L782.5 191.9L783 192L783.5 192.1L784 192.1L784.5 192.1L785 192.2L785.5 192L786 191.9L786.5 191.9L787 192L787.5 191.8L788 191.6" fill="none" stroke="#ff0000" stroke-width="2.3" stroke-linejoin="round" stroke-linecap="butt"/>
<path d="M63.3 193.5L76.9 193.5L70.1 181.5Z" fill="none" stroke="#ff0000" stroke-width="1.1" stroke-linejoin="miter"/>
<path d="M118.79 188.94L132.39 188.94L125.59 176.94Z" fill="none" stroke="#ff0000" stroke-width="1.1" stroke-linejoin="miter"/>
<path d="M174.28 180.32L187.88 180.32L181.08 168.32Z" fill="none" stroke="#ff0000" stroke-width="1.1" stroke-linejoin="miter"/>
<path d="M229.78 190.28L243.38 190.28L236.58 178.28Z" fill="none" stroke="#ff0000" stroke-width="1.1" stroke-linejoin="miter"/>
<path d="M285.27 200.38L298.87 200.38L292.07 188.38Z" fill="none" stroke="#ff0000" stroke-width="1.1" stroke-linejoin="miter"/>
<path d="M340.76 221.52L354.36 221.52L347.56 209.52Z" fill="none" stroke="#ff0000" stroke-width="1.1" stroke-linejoin="miter"/>
<path d="M396.25 222.78L409.85 222.78L403.05 210.78Z" fill="none" stroke="#ff0000" stroke-width="1.1" stroke-linejoin="miter"/>
<path d="M451.75 238.5L465.35 238.5L458.55 226.5Z" fill="none" stroke="#ff0000" stroke-width="1.1" stroke-linejoin="miter"/>
<path d="M507.24 283.87L520.84 283.87L514.04 271.87Z" fill="none" stroke="#ff0000" stroke-width="1.1" stroke-linejoin="miter"/>
<path d="M562.73 255.67L576.33 255.67L569.53 243.67Z" fill="none" stroke="#ff0000" stroke-width="1.1" stroke-linejoin="miter"/>
<path d="M618.23 224.09L631.82 224.09L625.02 212.09Z" fill="none" stroke="#ff0000" stroke-width="1.1" stroke-linejoin="miter"/>
<path d="M673.72 203.55L687.32 203.55L680.52 191.55Z" fill="none" stroke="#ff0000" stroke-width="1.1" stroke-linejoin="miter"/>
<path d="M729.21 197.75L742.81 197.75L736.01 185.75Z" fill="none" stroke="#ff0000" stroke-width="1.1" stroke-linejoin="miter"/>
<path d="M70 188.8L70.5 188.7L71 188.9L71.5 188.5L72 188.1L72.5 188L73 187.9L73.5 188L74 188L74.5 187.6L75 187.1L75.5 187.2L76 187.2L76.5 186.8L77 186.5L77.5 186.4L78 186.3L78.5 185.4L79 184.4L79.5 184.2L80 184L80.5 183.6L81 183.2L81.5 183.5L82 183.8L82.5 183.4L83 183.1L83.5 183.2L84 183.3L84.5 183L85 182.7L85.5 182.4L86 182.1L86.5 182.4L87 182.7L87.5 182.1L88 181.5L88.5 181.1L89 180.7L89.5 180.1L90 179.6L90.5 179.9L91 180.2L91.5 179.9L92 179.6L92.5 178.8L93 178L93.5 178L94 178L94.5 177.8L95 177.7L95.5 177L96 176.2L96.5 176.3L97 176.4L97.5 176.6L98 176.8L98.5 175.7L99 174.7L99.5 175L100 175.3L100.5 175.4L101 175.6L101.5 174.7L102 173.8L102.5 173.6L103 173.4L103.5 173.4L104 173.2L104.5 173.1L105 172.9L105.5 172.5L106 172.1L106.5 171.2L107 170.3L107.5 170.2L108 170L108.5 169.8L109 169.7L109.5 169.2L110 168.7L110.5 168.7L111 168.8L111.5 168.1L112 167.5L112.5 167.2L113 166.9L113.5 167.2L114 167.5L114.5 166.7L115 165.9L115.5 165.4L116 164.9L116.5 164.9L117 164.8L117.5 164.5L118 164.2L118.5 164.1L119 163.9L119.5 163.5L120 163L120.5 161.8L121 160.7L121.5 159.6L122 158.7L122.5 157.7L123 156.7L123.5 156.2L124 155.8L124.5 155L125 154.2L125.5 153.3L126 152.5L126.5 152.3L127 152.2L127.5 151.8L128 151.5L128.5 151L129 150.4L129.5 150.1L130 149.6L130.5 149.2L131 148.8L131.5 148L132 147.3L132.5 147.1L133 147.1L133.5 147L134 147L134.5 146.8L135 146.6L135.5 145.9L136 145.2L136.5 144.8L137 144.4L137.5 144.3L138 144.2L138.5 144.2L139 144.2L139.5 143.1L140 141.9L140.5 141.6L141 141.3L141.5 141L142 140.8L142.5 140.7L143 140.6L143.5 139.9L144 139.2L144.5 139.2L145 139.2L145.5 138.5L146 137.9L146.5 137.9L147 137.9L147.5 137.3L148 136.7L148.5 136.3L149 135.9L149.5 135.8L150 135.7L150.5 134.8L151 133.9L151.5 133.6L152 133.3L152.5 133.3L153 133.3L153.5 132.9L154 132.5L154.5 131.9L155 131.4L155.5 130.4L156 129.4L156.5 129.9L157 130.3L157.5 129.9L158 129.4L158.5 128.9L159 128.4L159.5 127.5L160 126.7L160.5 127L161 127.3L161.5 127.1L162 127L162.5 126.2L163 125.5L163.5 125.3L164 125.1L164.5 124.2L165 123.3L165.5 123.1L166 123L166.5 122.4L167 121.7L167.5 121.2L168 120.7L168.5 120.5L169 120.3L169.5 119.7L170 119.2L170.5 118.8L171 118.4L171.5 118L172 117.6L172.5 117.3L173 117L173.5 116.6L174 116.2L174.5 116L175 115.7L175.5 115L176 114.2L176.5 114.3L177 114.3L177.5 113.4L178 112.4L178.5 112.5L179 112.5L179.5 112.1L180 111.7L180.5 110.7L181 109.6L181.5 109.7L182 109.8L182.5 109.7L183 109.7L183.5 109.1L184 108.5L184.5 107.8L185 107.1L185.5 106.8L186 106.4L186.5 106.2L187 106.1L187.5 105.7L188 105.3L188.5 105.1L189 104.9L189.5 104.4L190 103.9L190.5 103.7L191 103.6L191.5 103.1L192 102.6L192.5 101.9L193 101.1L193.5 100.6L194 100.1L194.5 99.8L195 99.4L195.5 99.2L196 99L196.5 98.3L197 97.5L197.5 97.5L198 97.5L198.5 96.4L199 95.4L199.5 95.3L200 95.2L200.5 94.7L201 94.2L201.5 94.1L202 94.1L202.5 93.7L203 93.3L203.5 92.9L204 92.4L204.5 91.8L205 91.2L205.5 90.9L206 90.7L206.5 90.4L207 90.1L207.5 90L208 90L208.5 89.1L209 88.2L209.5 88L210 87.8L210.5 87.5L211 87.3L211.5 86.6L212 85.9L212.5 85.7L213 85.5L213.5 84.8L214 84L214.5 84.2L215 84.3L215.5 84.2L216 84.1L216.5 83.2L217 82.4L217.5 82.3L218 82.3L218.5 81.9L219 81.6L219.5 81.1L220 80.6L220.5 79.9L221 79.3L221.5 79.1L222 78.9L222.5 78.4L223 77.9L223.5 77.7L224 77.4L224.5 77.9L225 78.4L225.5 77.3L226 76.3L226.5 75.9L227 75.6L227.5 75.5L228 75.4L228.5 75.2L229 74.9L229.5 74.6L230 74.4L230.5 73.6L231 72.8L231.5 72.3L232 71.8L232.5 71.5L233 71.1L233.5 71.2L234 71.2L234.5 70.9L235 70.6L235.5 69.7L236 68.8L236.5 68.6L237 68.5L237.5 68.4L238 68.4L238.5 67.9L239 67.5L239.5 67.5L240 67.4L240.5 67.6L241 67.8L241.5 67L242 66.3L242.5 66.5L243 66.7L243.5 66.7L244 66.7L244.5 65.8L245 64.9L245.5 65.2L246 65.5L246.5 64.9L247 64.3L247.5 63.8L248 63.5L248.5 63.7L249 63.9L249.5 63.5L250 63.1L250.5 62.9L251 62.6L251.5 62.3L252 62L252.5 61.8L253 61.5L253.5 61.3L254 61.2L254.5 61.1L255 60.9L255.5 61L256 61.1L256.5 60.6L257 60.1L257.5 60.1L258 60L258.5 59.6L259 59.2L259.5 59.2L260 59.1L260.5 58.8L261 58.4L261.5 58.5L262 58.7L262.5 58.2L263 57.7L263.5 57L264 56.4L264.5 56.6L265 56.8L265.5 56.5L266 56.2L266.5 56.5L267 56.7L267.5 56.3L268 55.9L268.5 56L269 56.1L269.5 55.9L270 55.7L270.5 55.2L271 54.6L271.5 54.5L272 54.5L272.5 54.4L273 54.3L273.5 53.8L274 53.3L274.5 54.3L275 55.3L275.5 54.3L276 53.4L276.5 52.7L277 52.1L277.5 51.8L278 51.6L278.5 51.8L279 52L279.5 51.7L280 51.4L280.5 50.9L281 50.4L281.5 50.2L282 50.1L282.5 50.4L283 50.7L283.5 50.4L284 50.2L284.5 50.2L285 50.3L285.5 49.9L286 49.6L286.5 49.7L287 49.8L287.5 48.8L288 47.8L288.5 48.3L289 48.8L289.5 48.3L290 47.9L290.5 47.7L291 47.6L291.5 48L292 48.4L292.5 47.3L293 46.2L293.5 46.3L294 46.5L294.5 46.1L295 45.7L295.5 45.8L296 45.9L296.5 45L297 44.1L297.5 44.4L298 44.6L298.5 44.4L299 44.3L299.5 43.9L300 43.5L300.5 43.4L301 43.3L301.5 43.1L302 42.9L302.5 42.5L303 42L303.5 42.1L304 42.2L304.5 41.7L305 41.2L305.5 41.8L306 42.4L306.5 42.2L307 42.1L307.5 41.3L308 40.6L308.5 41.1L309 41.7L309.5 41.2L310 40.7L310.5 40.2L311 39.7L311.5 39.8L312 40L312.5 40.2L313 40.5L313.5 40.2L314 39.9L314.5 39.6L315 39.1L315.5 39.4L316 39.6L316.5 39.1L317 38.7L317.5 38.3L318 38L318.5 37.6L319 37.2L319.5 37.4L320 37.6L320.5 37.5L321 37.4L321.5 36.6L322 35.9L322.5 36L323 36L323.5 35.8L324 35.6L324.5 35.6L325 35.5L325.5 35L326 34.5L326.5 39L327 43.6L327.5 43.8L328 43.9L328.5 44.7L329 45.4L329.5 45.6L330 45.8L330.5 47L331 48.2L331.5 48.3L332 48.5L332.5 48.6L333 48.7L333.5 50.2L334 51.7L334.5 52.2L335 52.7L335.5 53.3L336 53.8L336.5 54.8L337 55.7L337.5 56.1L338 56.2L338.5 56.9L339 57.6L339.5 57.9L340 58.2L340.5 58.1L341 58L341.5 59L342 60L342.5 60.6L343 61.2L343.5 60.7L344 59.8L344.5 60.4L345 61L345.5 60.5L346 59.9L346.5 59.5L347 59.2L347.5 59.2L348 59.2L348.5 58.6L349 58.1L349.5 57.7L350 57.3L350.5 57.5L351 57.6L351.5 57.4L352 57.2L352.5 57.3L353 57.3L353.5 56.5L354 55.7L354.5 56.1L355 56.6L355.5 57.2L356 57.8L356.5 57.1L357 56.4L357.5 56.4L358 56.4L358.5 56.1L359 55.8L359.5 55.6L360 55.3L360.5 55.6L361 55.8L361.5 55.7L362 55.6L362.5 55.2L363 54.7L363.5 54.6L364 54.5L364.5 54.6L365 54.6L365.5 54.1L366 53.6L366.5 53.4L367 53.3L367.5 53.7L368 54.2L368.5 54.1L369 54L369.5 53.5L370 53L370.5 53.4L371 53.7L371.5 53.4L372 53.1L372.5 52.8L373 52.6L373.5 52.2L374 51.9L374.5 52.1L375 52.3L375.5 51.9L376 51.4L376.5 51.5L377 51.5L377.5 51.2L378 50.8L378.5 51.1L379 51.4L379.5 51L380 50.5L380.5 50.1L381 49.8L381.5 49.7L382 49.7L382.5 49.9L383 50.2L383.5 49.5L384 48.9L384.5 48L385 47L385.5 47.6L386 48.3L386.5 48.6L387 48.9L387.5 49L388 49.1L388.5 49.3L389 49.6L389.5 50.7L390 51.8L390.5 51.6L391 51.5L391.5 51.6L392 51.7L392.5 51.6L393 51.5L393.5 51.7L394 51.9L394.5 51.9L395 51.9L395.5 51.9L396 51.8L396.5 51.7L397 51.6L397.5 51.4L398 51.2L398.5 51.3L399 51.4L399.5 51.6L400 51.8L400.5 51.6L401 51.4L401.5 51.8L402 52.2L402.5 51.9L403 51.6L403.5 52.2L404 53.3L404.5 53.4L405 53.5L405.5 54.6L406 55.8L406.5 56.7L407 57.6L407.5 58L408 58.1L408.5 57.9L409 57.8L409.5 58.4L410 59.1L410.5 59L411 58.9L411.5 59.3L412 59.7L412.5 59.8L413 60L413.5 59.8L414 59.7L414.5 60.6L415 61.5L415.5 61.4L416 61.2L416.5 61.3L417 61.3L417.5 60.8L418 60.2L418.5 60.6L419 60.9L419.5 60.4L420 60L420.5 59.7L421 59.5L421.5 59.4L422 59.3L422.5 59.4L423 60.6L423.5 61.2L424 61.9L424.5 63.2L425 64.6L425.5 65.3L426 66L426.5 66.9L427 67.9L427.5 68.5L428 69L428.5 69.7L429 70.4L429.5 71.1L430 71.8L430.5 72.9L431 74L431.5 75.2L432 76.3L432.5 77.1L433 77.8L433.5 77.8L434 77.8L434.5 79L435 80.3L435.5 81.1L436 82L436.5 82.3L437 82.6L437.5 83.6L438 84.5L438.5 85.1L439 85.6L439.5 86.6L440 87.5L440.5 88.3L441 89.1L441.5 89.8L442 90.4L442.5 91.3L443 92.1L443.5 92.8L444 93.4L444.5 94.4L445 95.4L445.5 95.4L446 95.3L446.5 97.1L447 98.8L447.5 99.8L448 100.8L448.5 101.1L449 101.4L449.5 102.6L450 103.8L450.5 104.8L451 105.9L451.5 106.4L452 106.8L452.5 107.6L453 108.3L453.5 109.3L454 110.2L454.5 111.2L455 112.2L455.5 112.4L456 112.6L456.5 113.8L457 115L457.5 115.8L458 116.7L458.5 117L459 117.2L459.5 118.3L460 119.3L460.5 120.3L461 121.3L461.5 121.6L462 121.9L462.5 122.5L463 123.1L463.5 124.2L464 125.3L464.5 125.5L465 125.6L465.5 126.4L466 127.2L466.5 128.2L467 129.2L467.5 130L468 130.8L468.5 130.7L469 130.6L469.5 131.5L470 132.3L470.5 133.1L471 133.9L471.5 134.8L472 135.6L472.5 136L473 136.4L473.5 136.7L474 137.1L474.5 138.1L475 139.1L475.5 138.9L476 138.7L476.5 139.9L477 141.1L477.5 141.9L478 142.8L478.5 143.5L479 144.3L479.5 144.8L480 145.3L480.5 145.5L481 145.6L481.5 146.9L482 148.1L482.5 148.3L483 148.5L483.5 149.1L484 149.7L484.5 150.7L485 151.7L485.5 151.5L486 151.3L486.5 153L487 154.7L487.5 154.9L488 155.2L488.5 155.8L489 156.5L489.5 157L490 157.4L490.5 158.3L491 159.1L491.5 159.7L492 160.3L492.5 160.7L493 161.2L493.5 161.3L494 161.4L494.5 162.5L495 163.5L495.5 164L496 164.5L496.5 165.2L497 165.8L497.5 166.2L498 166.6L498.5 167L499 167.5L499.5 168L500 168.5L500.5 168.6L501 168.7L501.5 169.1L502 169.5L502.5 170.5L503 171.5L503.5 171.9L504 172.3L504.5 173.1L505 174L505.5 174L506 174L506.5 174.6L507 175.3L507.5 176L508 176.8L508.5 177.1L509 177.4L509.5 177.6L510 177.8L510.5 178.7L511 179.5L511.5 179.9L512 180.3L512.5 180.4L513 180.5L513.5 181L514 181.6L514.5 182.3L515 183L515.5 183.3L516 183.7L516.5 184.1L517 184.5L517.5 184.9L518 185.3L518.5 185.2L519 185.1L519.5 186.4L520 187.7L520.5 188.1L521 188.6L521.5 188.9L522 189.3L522.5 189.4L523 189.1L523.5 189.7L524 190.3L524.5 190.6L525 190.9L525.5 191L526 191.2L526.5 191.4L527 191.7L527.5 191.4L528 191.1L528.5 192L529 192.8L529.5 193L530 193.2L530.5 193.4L531 193.7L531.5 194L532 194.3L532.5 194.3L533 194.3L533.5 194.7L534 195.2L534.5 194.9L535 194.5L535.5 195L536 195.3L536.5 195.2L537 195L537.5 195.3L538 195.6L538.5 195.2L539 194.9L539.5 194.9L540 194.8L540.5 195L541 195.1L541.5 195.4L542 195.7L542.5 195.6L543 195.6L543.5 196L544 196.3L544.5 196.4L545 196.4L545.5 196.4L546 196.3L546.5 196.4L547 196.5L547.5 196.5L548 196.5L548.5 196.9L549 197.4L549.5 197.3L550 197.3L550.5 197.1L551 197L551.5 197.4L552 197.8L552.5 197.6L553 197.5L553.5 197.8L554 198L554.5 198.2L555 198.3L555.5 198.3L556 198.3L556.5 198.3L557 198.4L557.5 198.5L558 198.7L558.5 198.8L559 199L559.5 199.1L560 199.1L560.5 199.3L561 199.4L561.5 199.4L562 199.3L562.5 199.5L563 199.7L563.5 199.7L564 199.7L564.5 199.9L565 200.1L565.5 200.1L566 200.1L566.5 200.2L567 200.3L567.5 200.4L568 200.5L568.5 200.7L569 200.9L569.5 201L570 201L570.5 201L571 201L571.5 201L572 201.1L572.5 200.9L573 200.8L573.5 201L574 201.2L574.5 201L575 200.8L575.5 200.8L576 200.7L576.5 200.8L577 200.9L577.5 200.7L578 200.6L578.5 200.6L579 200.5L579.5 200.6L580 200.6L580.5 200.4L581 200.3L581.5 200.5L582 200.6L582.5 200.4L583 200.2L583.5 200.2L584 200.2L584.5 200.3L585 200.4L585.5 200.3L586 200.2L586.5 200L587 199.8L587.5 199.5L588 199.3L588.5 199.2L589 199.2L589.5 199L590 198.9L590.5 198.7L591 198.6L591.5 198.4L592 198.4L592.5 198.3L593 198.2L593.5 198.2L594 198.1L594.5 197.9L595 197.7L595.5 197.5L596 197.2L596.5 197.2L597 197.1L597.5 197L598 196.8L598.5 196.7L599 196.5L599.5 196.2L600 195.9L600.5 195.7L601 195.5L601.5 195.3L602 195.1L602.5 194.8L603 194.6L603.5 194.5L604 194.4L604.5 194.1L605 193.8L605.5 193.7L606 193.6L606.5 193.3L607 193.1L607.5 192.8L608 192.5L608.5 192.2L609 192L609.5 191.7L610 191.4L610.5 191.3L611 191.1L611.5 190.9L612 190.7L612.5 190.6L613 190.5L613.5 190.2L614 189.9L614.5 190L615 190.1L615.5 189.9L616 189.8L616.5 189.7L617 189.6L617.5 189.4L618 189.1L618.5 189L619 188.9L619.5 188.9L620 188.9L620.5 188.8L621 188.7L621.5 188.5L622 188.2L622.5 188.4L623 188.6L623.5 188.3L624 188.1L624.5 187.9L625 187.8L625.5 187.8L626 187.8L626.5 187.6L627 187.4L627.5 187.2L628 187L628.5 187.2L629 187.3L629.5 187.3L630 187.2L630.5 187.2L631 187.3L631.5 187.3L632 187.3L632.5 187.1L633 186.8L633.5 186.8L634 186.8L634.5 186.9L635 187L635.5 187L636 187L636.5 186.8L637 186.6L637.5 186.6L638 186.5L638.5 186.5L639 186.5L639.5 186.4L640 186.4L640.5 186.6L641 186.9L641.5 186.8L642 186.7L642.5 186.5L643 186.2L643.5 186.3L644 186.3L644.5 186.4L645 186.6L645.5 186.5L646 186.5L646.5 186.5L647 186.5L647.5 186.5L648 186.5L648.5 186.3L649 186.1L649.5 186.1L650 186L650.5 186L651 186L651.5 186.1L652 186.2L652.5 186.3L653 186.4L653.5 186.3L654 186.3L654.5 186.5L655 186.8L655.5 186.4L656 186.1L656.5 186.2L657 186.4L657.5 186.5L658 186.6L658.5 186.7L659 186.8L659.5 186.5L660 186.2L660.5 186.3L661 186.4L661.5 186.4L662 186.4L662.5 186.2L663 185.9L663.5 186.2L664 186.6L664.5 186.5L665 186.5L665.5 186.4L666 186.4L666.5 186.5L667 186.6L667.5 186.5L668 186.4L668.5 186.3L669 186.2L669.5 186.4L670 186.6L670.5 186.4L671 186.2L671.5 186.5L672 186.7L672.5 186.3L673 185.9L673.5 186.3L674 186.6L674.5 186.5L675 186.4L675.5 186.5L676 186.5L676.5 186.5L677 186.5L677.5 186.6L678 186.7L678.5 186.5L679 186.3L679.5 186.4L680 186.4L680.5 186.4L681 186.4L681.5 186.5L682 186.6L682.5 186.5L683 186.5L683.5 186.5L684 186.5L684.5 186.5L685 186.5L685.5 186.2L686 186L686.5 186.1L687 186.2L687.5 186.2L688 186.2L688.5 186.2L689 186.2L689.5 186.4L690 186.7L690.5 186.5L691 186.3L691.5 186.3L692 186.4L692.5 186.2L693 186L693.5 186.2L694 186.3L694.5 186.4L695 186.5L695.5 186.3L696 186L696.5 186L697 186L697.5 185.9L698 185.8L698.5 185.9L699 185.9L699.5 186.2L700 186.5L700.5 186.2L701 185.9L701.5 186L702 186.2L702.5 186.3L703 186.3L703.5 186.3L704 186.2L704.5 186.2L705 186.1L705.5 186.1L706 186L706.5 186.1L707 186.2L707.5 186L708 185.7L708.5 185.8L709 185.9L709.5 186L710 186L710.5 185.8L711 185.6L711.5 185.7L712 185.8L712.5 185.9L713 186L713.5 186.1L714 186.3L714.5 186.1L715 185.8L715.5 186L716 186.2L716.5 186L717 185.8L717.5 186.1L718 186.3L718.5 186.1L719 185.9L719.5 186.1L720 186.3L720.5 186.5L721 186.8L721.5 186.5L722 186.3L722.5 186.3L723 186.3L723.5 186L724 185.7L724.5 185.8L725 186L725.5 186L726 186L726.5 186L727 185.9L727.5 186L728 186.1L728.5 185.9L729 185.8L729.5 185.9L730 185.9L730.5 185.9L731 185.8L731.5 185.7L732 185.7L732.5 185.9L733 186.1L733.5 185.9L734 185.7L734.5 185.8L735 185.9L735.5 186.1L736 186.2L736.5 186.1L737 186L737.5 185.8L738 185.6L738.5 185.6L739 185.6L739.5 185.6L740 185.5L740.5 185.6L741 185.6L741.5 185.8L742 186L742.5 186L743 185.9L743.5 185.7L744 185.4L744.5 185.3L745 185.2L745.5 185.4L746 185.7L746.5 185.3L747 184.9L747.5 185.2L748 185.5L748.5 185.2L749 184.9L749.5 185.1L750 185.4L750.5 185.4L751 185.3L751.5 185.2L752 185.1L752.5 185L753 185L753.5 185.1L754 185.3L754.5 185.2L755 185.2L755.5 185.2L756 185.2L756.5 185.4L757 185.7L757.5 185.4L758 185.1L758.5 185.1L759 185L759.5 185.2L760 185.4L760.5 185.6L761 185.8L761.5 185.4L762 185L762.5 185L763 185L763.5 184.9L764 184.9L764.5 184.9L765 185L765.5 185L766 185.1L766.5 184.9L767 184.8L767.5 184.8L768 184.9L768.5 184.8L769 184.8L769.5 184.9L770 185L770.5 184.9L771 184.9L771.5 184.9L772 185L772.5 184.9L773 184.8L773.5 184.8L774 184.9L774.5 184.6L775 184.4L775.5 184.5L776 184.6L776.5 184.7L777 184.7L777.5 184.8L778 184.8L778.5 184.7L779 184.6L779.5 184.6L780 184.7L780.5 184.8L781 185L781.5 184.9L782 184.9L782.5 184.7L783 184.6L783.5 184.7L784 184.7L784.5 184.7L785 184.7L785.5 184.8L786 184.8L786.5 184.8L787 184.8L787.5 184.7L788 184.6" fill="none" stroke="#2bbdbd" stroke-width="2.3" stroke-linejoin="round" stroke-linecap="butt"/>
<rect x="65.1" y="183.71" width="10" height="10" fill="none" stroke="#2bbdbd" stroke-width="1.1"/>
<rect x="120.59" y="147.6" width="10" height="10" fill="none" stroke="#2bbdbd" stroke-width="1.1"/>
<rect x="176.08" y="105.98" width="10" height="10" fill="none" stroke="#2bbdbd" stroke-width="1.1"/>
<rect x="231.58" y="64.11" width="10" height="10" fill="none" stroke="#2bbdbd" stroke-width="1.1"/>
<rect x="287.07" y="42.34" width="10" height="10" fill="none" stroke="#2bbdbd" stroke-width="1.1"/>
<rect x="342.56" y="53.61" width="10" height="10" fill="none" stroke="#2bbdbd" stroke-width="1.1"/>
<rect x="398.05" y="47.46" width="10" height="10" fill="none" stroke="#2bbdbd" stroke-width="1.1"/>
<rect x="453.55" y="112.28" width="10" height="10" fill="none" stroke="#2bbdbd" stroke-width="1.1"/>
<rect x="509.04" y="177.08" width="10" height="10" fill="none" stroke="#2bbdbd" stroke-width="1.1"/>
<rect x="564.53" y="196.09" width="10" height="10" fill="none" stroke="#2bbdbd" stroke-width="1.1"/>
<rect x="620.02" y="182.9" width="10" height="10" fill="none" stroke="#2bbdbd" stroke-width="1.1"/>
<rect x="675.52" y="181.4" width="10" height="10" fill="none" stroke="#2bbdbd" stroke-width="1.1"/>
<rect x="731.01" y="180.8" width="10" height="10" fill="none" stroke="#2bbdbd" stroke-width="1.1"/>
<rect x="70.1" y="11.5" width="739.9" height="287.15" fill="none" stroke="#000" stroke-width="1.4"/>
<text x="70.1" y="338.25" font-size="37.5" text-anchor="middle" >0</text>
<text x="255.07" y="338.25" font-size="37.5" text-anchor="middle" >1</text>
<text x="440.05" y="338.25" font-size="37.5" text-anchor="middle" >2</text>
<text x="625.02" y="338.25" font-size="37.5" text-anchor="middle" >3</text>
<text x="810" y="338.25" font-size="37.5" text-anchor="middle" >4</text>
<text x="64.2" y="61.3" font-size="37.5" text-anchor="end" >40</text>
<text x="64.2" y="133.08" font-size="37.5" text-anchor="end" >20</text>
<text x="64.2" y="204.86" font-size="37.5" text-anchor="end" >0</text>
<text x="64.2" y="276.64" font-size="37.5" text-anchor="end" >−20</text>
<path d="M255.07 298.65v-7M255.07 11.5v7M440.05 298.65v-7M440.05 11.5v7M625.02 298.65v-7M625.02 11.5v7M70.1 47.4h7M810 47.4h-7M70.1 119.18h7M810 119.18h-7M70.1 190.96h7M810 190.96h-7M70.1 262.74h7M810 262.74h-7" stroke="#000" stroke-width="1.4" fill="none"/>
<text x="439.75" y="372.95" font-size="37.5" text-anchor="middle" textLength="150" lengthAdjust="spacingAndGlyphs">time steps</text>
<text x="797.7" y="392.45" font-size="37.5" text-anchor="end" >x 10</text>
<text x="797.2" y="368.85" font-size="24.5" text-anchor="start" >4</text>
<rect x="834.3" y="66.5" width="183.3" height="177.7" fill="#fff" stroke="#000" stroke-width="1.4"/>
<path d="M847.5 91.4H913.2" stroke="#0000ff" stroke-width="2.4" fill="none"/>
<circle cx="880.2" cy="91.4" r="6.4" fill="none" stroke="#0000ff" stroke-width="2.2"/>
<text x="920.2" y="104.9" font-size="37.5" text-anchor="start" textLength="94.2" lengthAdjust="spacingAndGlyphs">C[1,1]</text>
<path d="M847.5 134.1H913.2" stroke="#3a7d3c" stroke-width="2.4" fill="none"/>
<path d="M880.2 123.9L882.49 130.95L889.9 130.95L883.91 135.3L886.2 142.35L880.2 138L874.2 142.35L876.49 135.3L870.5 130.95L877.91 130.95Z" fill="none" stroke="#3a7d3c" stroke-width="2.2" stroke-linejoin="miter"/>
<text x="920.2" y="147.6" font-size="37.5" text-anchor="start" textLength="94.2" lengthAdjust="spacingAndGlyphs">C[1,2]</text>
<path d="M847.5 176.6H913.2" stroke="#ff0000" stroke-width="2.4" fill="none"/>
<path d="M871.1 182.1L889.3 182.1L880.2 165.8Z" fill="none" stroke="#ff0000" stroke-width="2.2" stroke-linejoin="miter"/>
<text x="920.2" y="190.1" font-size="37.5" text-anchor="start" textLength="94.2" lengthAdjust="spacingAndGlyphs">C[2,1]</text>
<path d="M847.5 219.3H913.2" stroke="#2bbdbd" stroke-width="2.4" fill="none"/>
<rect x="875.25" y="214.35" width="9.9" height="9.9" fill="none" stroke="#2bbdbd" stroke-width="2.2"/>
<text x="920.2" y="232.8" font-size="37.5" text-anchor="start" textLength="94.2" lengthAdjust="spacingAndGlyphs">C[2,2]</text>
<path d="M77.5 430L77.8 430.2L78 430.3L78.2 430.4L78.5 430.5L78.8 430.6L79 430.7L79.2 430.9L79.5 431L79.8 431L80 431L80.2 431L80.5 431L80.8 431.2L81 431.4L81.2 431.6L81.5 431.7L81.8 431.9L82 432.1L82.2 432.3L82.5 432.6L82.8 432.7L83 432.8L83.2 433L83.5 433.2L83.8 433.2L84 433.2L84.2 433.3L84.5 433.3L84.8 433.5L85 433.7L85.2 434.1L85.5 434.5L85.8 434.8L86 435.1L86.2 435.5L86.5 435.8L86.8 436.1L87 436.4L87.2 436.7L87.5 437L87.8 437.3L88 437.6L88.2 437.9L88.5 438.2L88.8 438.5L89 438.8L89.2 439.2L89.5 439.5L89.8 439.8L90 440.2L90.2 440.5L90.5 440.9L90.8 441.2L91 441.5L91.2 441.8L91.5 442.2L91.8 442.6L92 443L92.2 443.4L92.5 443.9L92.8 444.4L93 444.9L93.2 445.4L93.5 445.9L93.8 446.5L94 447.2L94.2 447.8L94.5 448.4L94.8 448.9L95 449.4L95.2 449.9L95.5 450.4L95.8 450.9L96 451.4L96.2 451.9L96.5 452.5L96.8 453L97 453.5L97.2 454L97.5 454.5L97.8 454.9L98 455.3L98.2 455.7L98.5 456L98.8 456.8L99 457.7L99.2 458.5L99.5 459.3L99.8 459.8L100 460.4L100.2 461.2L100.5 461.9L100.8 462.6L101 463.2L101.2 463.9L101.5 464.6L101.8 465.3L102 466.1L102.2 466.8L102.5 467.6L102.8 468.4L103 469.1L103.2 469.9L103.5 470.6L103.8 471.5L104 472.3L104.2 473.2L104.5 474L104.8 474.7L105 475.3L105.2 475.9L105.5 476.6L105.8 477.2L106 477.8L106.2 478.4L106.5 479L106.8 479.8L107 480.6L107.2 481.4L107.5 482.2L107.8 483.4L108 484.5L108.2 485.6L108.5 486.8L108.8 488L109 489.3L109.2 490.6L109.5 491.9L109.8 493.1L110 494.4L110.2 495.6L110.5 496.8L110.8 497.7L111 498.7L111.2 499.7L111.5 500.7L111.8 501.8L112 503L112.2 504.1L112.5 505.3L112.8 506.6L113 508L113.2 509.3L113.5 510.7L113.8 511.7L114 512.8L114.2 513.8L114.5 514.9L114.8 516.2L115 517.4L115.2 518.8L115.5 520.2L115.8 521.3L116 522.4L116.2 523.5L116.5 524.6L116.8 525.9L117 527.2L117.2 528.5L117.5 529.8L117.8 531L118 532.3L118.2 533.6L118.5 534.9L118.8 536.1L119 537.3L119.2 538.6L119.5 539.8L119.8 541.2L120 542.7L120.2 544.1L120.5 545.6L120.8 546.8L121 548L121.2 549.2L121.5 550.4L121.8 551.7L122 553L122.2 554.2L122.5 555.4L122.8 556.4L123 557.4L123.2 558.4L123.5 559.4L123.8 560.4L124 561.5L124.2 562.6L124.5 563.7L124.8 564.6L125 565.6L125.2 566.6L125.5 567.6L125.8 568.6L126 569.6L126.2 570.6L126.5 571.6L126.8 572.6L127 573.5L127.2 574.4L127.5 575.3L127.8 576.1L128 576.8L128.2 577.5L128.5 578.2L128.8 579.4L129 580.9L129.2 582.3L129.5 583.8L129.8 585.1L130 586.4L130.2 587.7L130.5 589L130.8 590.3L131 591.6L131.2 593L131.5 594.3L131.8 595.6L132 596.9L132.2 598.2L132.5 599.5L132.8 599.4L133 599.3L133.2 599.2L133.5 599.2L133.8 599.4L134 599.7L134.2 599.9L134.5 600.1L134.8 599.8L135 599.6L135.2 599.3L135.5 598.9L135.8 599L136 599.1L136.2 599.1L136.5 599.3L136.8 599.3L137 599.2L137.2 599.2L137.5 599.1L137.8 599.3L138 599.5L138.2 599.7L138.5 599.9L138.8 600L139 600.1L139.2 600.3L139.5 600.4L139.8 600.2L140 600.1L140.2 599.9L140.5 599.7L140.8 600.1L141 600.5L141.2 600.9L141.5 601.3L141.8 600.5L142 599.6L142.2 598.8L142.5 598L142.8 599.1L143 600.2L143.2 601.3L143.5 602.3L143.8 601.7L144 601.1L144.2 600.5L144.5 599.9L144.8 600.1L145 600.2L145.2 600.4L145.5 600.5L145.8 599.8L146 599L146.2 598.3L146.5 597.5L146.8 598.1L147 598.7L147.2 599.4L147.5 600L147.8 599.9L148 599.8L148.2 599.7L148.5 599.6L148.8 599.4L149 599.2L149.2 598.9L149.5 598.7L149.8 598.9L150 599L150.2 599.2L150.5 599.3L150.8 599.1L151 599L151.2 598.9L151.5 598.7L151.8 598.9L152 599.1L152.2 599.2L152.5 599.4L152.8 599.5L153 599.6L153.2 599.7L153.5 599.7L153.8 600L154 600.2L154.2 600.5L154.5 600.7L154.8 600.8L155 600.9L155.2 600.9L155.5 601L155.8 600.9L156 600.8L156.2 600.7L156.5 600.6L156.8 600.5L157 600.3L157.2 600.1L157.5 599.9L157.8 600.2L158 600.5L158.2 600.8L158.5 601.2L158.8 600.8L159 600.5L159.2 600.3L159.5 600L159.8 600.3L160 600.5L160.2 600.7L160.5 600.8L160.8 600.4L161 599.9L161.2 599.4L161.5 599L161.8 599.6L162 600.2L162.2 600.8L162.5 601.4L162.8 600.7L163 600L163.2 599.2L163.5 598.5L163.8 599L164 599.5L164.2 599.9L164.5 600.4L164.8 599.6L165 598.8L165.2 598L165.5 597.1L165.8 596.7L166 596.3L166.2 595.9L166.5 595.4L166.8 596.3L167 597.2L167.2 598.1L167.5 599L167.8 598.4L168 597.7L168.2 597L168.5 596.3L168.8 595.8L169 595.2L169.2 594.7L169.5 594.1L169.8 594L170 593.8L170.2 593.8L170.5 593.9L170.8 593.8L171 593.8L171.2 593.7L171.5 593.7L171.8 593.6L172 593.6L172.2 593.5L172.5 593.5L172.8 593.8L173 594.1L173.2 594.4L173.5 594.7L173.8 595.3L174 595.8L174.2 596.4L174.5 596.9L174.8 596.3L175 595.7L175.2 595.1L175.5 594.5L175.8 595.1L176 595.7L176.2 596.3L176.5 596.9L176.8 596.4L177 595.9L177.2 595.3L177.5 594.8L177.8 595.3L178 595.8L178.2 596.4L178.5 596.9L178.8 596.5L179 596.1L179.2 595.7L179.5 595.4L179.8 595.1L180 594.8L180.2 594.5L180.5 594.2L180.8 594.2L181 594.2L181.2 594.2L181.5 594.2L181.8 593.7L182 593.2L182.2 592.6L182.5 592.1L182.8 592.6L183 593.2L183.2 593.8L183.5 594.3L183.8 594.5L184 594.7L184.2 594.8L184.5 595L184.8 594L185 592.9L185.2 591.9L185.5 590.9L185.8 590.9L186 590.9L186.2 590.9L186.5 590.9L186.8 591.9L187 593L187.2 594L187.5 595L187.8 594.9L188 594.9L188.2 594.8L188.5 594.8L188.8 594.2L189 593.6L189.2 593L189.5 592.4L189.8 593.2L190 594L190.2 594.8L190.5 595.6L190.8 595.3L191 595.1L191.2 594.9L191.5 594.6L191.8 593.9L192 593.1L192.2 592.4L192.5 591.6L192.8 592.4L193 593.1L193.2 593.8L193.5 594.5L193.8 594.5L194 594.6L194.2 594.6L194.5 594.7L194.8 594.2L195 593.8L195.2 593.4L195.5 592.9L195.8 593.2L196 593.5L196.2 593.8L196.5 594.1L196.8 594L197 593.9L197.2 593.8L197.5 593.7L197.8 593.4L198 593.1L198.2 592.7L198.5 592.4L198.8 593.2L199 593.9L199.2 594.6L199.5 595.3L199.8 594.7L200 594.1L200.2 593.7L200.5 593.2L200.8 592.8L201 592.3L201.2 591.9L201.5 591.5L201.8 592.3L202 593L202.2 593.8L202.5 594.6L202.8 595.3L203 596.1L203.2 596.8L203.5 597.5L203.8 596.6L204 595.7L204.2 594.9L204.5 594L204.8 594.4L205 594.7L205.2 595.1L205.5 595.5L205.8 596.3L206 597.1L206.2 597.9L206.5 598.8L206.8 598.1L207 597.4L207.2 596.8L207.5 596.2L207.8 595.9L208 595.7L208.2 595.4L208.5 595.1L208.8 595.1L209 595.1L209.2 595L209.5 595L209.8 595.5L210 596L210.2 596.4L210.5 596.8L210.8 597.3L211 597.8L211.2 598.3L211.5 598.7L211.8 598.5L212 598.3L212.2 598L212.5 597.8L212.8 598L213 598.2L213.2 598.3L213.5 598.5L213.8 598.9L214 599.2L214.2 599.5L214.5 599.9L214.8 599.4L215 598.9L215.2 598.5L215.5 598L215.8 598L216 597.9L216.2 597.9L216.5 597.9L216.8 598L217 598.2L217.2 598.3L217.5 598.5L217.8 598.6L218 598.7L218.2 598.7L218.5 598.7L218.8 598.1L219 597.5L219.2 596.9L219.5 596.3L219.8 596.3L220 596.4L220.2 596.4L220.5 596.4L220.8 596.7L221 597L221.2 597.3L221.5 597.6L221.8 597.8L222 598L222.2 598.3L222.5 598.6L222.8 599.1L223 599.6L223.2 600.1L223.5 600.6L223.8 599.6L224 598.6L224.2 597.6L224.5 596.5L224.8 597.4L225 598.2L225.2 599L225.5 599.9L225.8 599.8L226 599.7L226.2 599.7L226.5 599.6L226.8 599.6L227 599.6L227.2 599.6L227.5 599.6L227.8 599.4L228 599.2L228.2 599L228.5 598.8L228.8 598.1L229 597.5L229.2 596.9L229.5 596.2L229.8 597L230 597.8L230.2 598.6L230.5 599.3L230.8 599.8L231 600.2L231.2 600.7L231.5 601.2L231.8 600.3L232 599.5L232.2 598.6L232.5 597.7L232.8 597.9L233 598.1L233.2 598.4L233.5 598.6L233.8 598.1L234 597.6L234.2 597.1L234.5 596.7L234.8 597.3L235 598L235.2 598.6L235.5 599.3L235.8 599.1L236 598.9L236.2 598.7L236.5 598.5L236.8 598.4L237 598.3L237.2 598.2L237.5 598.1L237.8 597.7L238 597.4L238.2 597L238.5 596.6L238.8 596.7L239 596.7L239.2 596.8L239.5 596.9L239.8 597.2L240 597.5L240.2 597.9L240.5 598.2L240.8 597.7L241 597.3L241.2 596.9L241.5 596.4L241.8 596.3L242 596.1L242.2 595.9L242.5 595.8L242.8 595.8L243 595.8L243.2 595.8L243.5 595.8L243.8 594.8L244 593.9L244.2 593.1L244.5 592.4L244.8 594.2L245 596L245.2 597.8L245.5 599.6L245.8 599L246 598.5L246.2 598L246.5 597.4L246.8 598L247 598.6L247.2 599.2L247.5 599.8L247.8 599.1L248 598.1L248.2 597.1L248.5 596.1L248.8 597L249 598L249.2 599L249.5 599.9L249.8 599.4L250 598.9L250.2 598.3L250.5 597.8L250.8 597.7L251 597.7L251.2 597.6L251.5 597.6L251.8 597.7L252 597.7L252.2 597.8L252.5 597.8L252.8 597.5L253 597.3L253.2 597L253.5 596.7L253.8 597.4L254 598.2L254.2 598.9L254.5 599.6L254.8 599.8L255 600.1L255.2 600.3L255.5 600.5L255.8 599.7L256 598.8L256.2 598L256.5 597.1L256.8 597.3L257 597.5L257.2 597.7L257.5 597.9L257.8 598L258 598.1L258.2 598.2L258.5 598.3L258.8 598.7L259 599.1L259.2 599.6L259.5 600.1L259.8 599.2L260 598.4L260.2 597.5L260.5 596.6L260.8 597.1L261 597.7L261.2 598.3L261.5 598.9L261.8 599.3L262 599.7L262.2 600.1L262.5 600.5L262.8 599.8L263 599.2L263.2 598.5L263.5 597.8L263.8 597.8L264 597.8L264.2 597.8L264.5 597.8L264.8 598.4L265 599L265.2 599.6L265.5 600.1L265.8 599.7L266 599.2L266.2 598.8L266.5 598.3L266.8 597.8L267 597.3L267.2 596.8L267.5 596.3L267.8 596.7L268 597.1L268.2 597.5L268.5 597.9L268.8 598.3L269 598.7L269.2 599L269.5 599.4L269.8 599.1L270 598.8L270.2 598.4L270.5 598L270.8 597.9L271 597.7L271.2 597.5L271.5 597.4L271.8 597.1L272 596.8L272.2 596.5L272.5 596.2L272.8 595.8L273 595.5L273.2 595.1L273.5 594.8L273.8 595.1L274 595.4L274.2 595.8L274.5 596.1L274.8 596.4L275 596.8L275.2 597.2L275.5 597.5L275.8 597.5L276 597.5L276.2 597.5L276.5 597.5L276.8 597.1L277 596.8L277.2 596.4L277.5 595.9L277.8 597L278 598L278.2 599L278.5 600L278.8 599.5L279 599L279.2 598.5L279.5 598L279.8 598.2L280 598.4L280.2 598.7L280.5 598.9L280.8 598.8L281 598.8L281.2 598.8L281.5 598.8L281.8 599.1L282 599.3L282.2 599.6L282.5 599.9L282.8 599.4L283 598.9L283.2 598.4L283.5 597.9L283.8 598.7L284 599.5L284.2 600.3L284.5 601.1L284.8 600.9L285 600.6L285.2 600.4L285.5 600.1L285.8 599.5L286 598.9L286.2 598.3L286.5 597.7L286.8 596.9L287 596L287.2 595.1L287.5 594.2L287.8 594.9L288 595.6L288.2 596.3L288.5 597L288.8 597.4L289 597.7L289.2 598L289.5 598.4L289.8 598.1L290 597.8L290.2 597.5L290.5 597.3L290.8 596.9L291 596.6L291.2 596.2L291.5 595.9L291.8 596.4L292 597L292.2 597.5L292.5 598.1L292.8 597.8L293 597.4L293.2 597L293.5 596.7L293.8 597.5L294 598.3L294.2 599.2L294.5 600L294.8 599.4L295 598.7L295.2 598.1L295.5 597.5L295.8 598.1L296 598.7L296.2 599.2L296.5 599.8L296.8 599.2L297 598.7L297.2 598.2L297.5 597.7L297.8 596.9L298 596.1L298.2 595.3L298.5 594.5L298.8 594.6L299 594.7L299.2 594.8L299.5 594.9L299.8 594.8L300 594.7L300.2 594.9L300.5 595L300.8 595.6L301 596.2L301.2 596.8L301.5 597.4L301.8 596.7L302 595.9L302.2 595.2L302.5 594.4L302.8 595.5L303 596.5L303.2 597.6L303.5 598.4L303.8 598.1L304 597.8L304.2 597.4L304.5 597.1L304.8 596.7L305 596.4L305.2 596L305.5 595.7L305.8 596.1L306 596.5L306.2 596.9L306.5 597.4L306.8 597L307 596.7L307.2 596.5L307.5 596.3L307.8 596.8L308 597.3L308.2 597.8L308.5 598.4L308.8 598.2L309 598L309.2 597.9L309.5 597.7L309.8 597.7L310 597.8L310.2 597.8L310.5 597.8L310.8 597.6L311 597.5L311.2 597.3L311.5 597.1L311.8 597.9L312 598.7L312.2 599.5L312.5 600.3L312.8 600.2L313 600L313.2 599.9L313.5 599.7L313.8 599.7L314 599.7L314.2 599.6L314.5 599.4L314.8 599.2L315 598.9L315.2 598.5L315.5 598.1L315.8 598.3L316 598.5L316.2 598.6L316.5 598.8L316.8 598L317 597.3L317.2 596.6L317.5 595.8L317.8 595.5L318 595.1L318.2 595L318.5 594.8L318.8 594.9L319 595.1L319.2 595.2L319.5 595.3L319.8 595.1L320 594.9L320.2 594.7L320.5 594.5L320.8 595.3L321 596.1L321.2 597L321.5 597.8L321.8 597.4L322 596.9L322.2 596.4L322.5 595.9L322.8 595.6L323 595.3L323.2 595L323.5 594.7L323.8 594.7L324 594.6L324.2 594.6L324.5 594.6L324.8 594.4L325 594.3L325.2 594L325.5 593.8L325.8 594.1L326 594.4L326.2 594.7L326.5 595L326.8 594.7L327 594.4L327.2 594.1L327.5 593.8L327.8 593.7L328 593.5L328.2 593.4L328.5 593.2L328.8 593.3L329 593.4L329.2 593.5L329.5 593.5L329.8 592.5L330 591.6L330.2 590.6L330.5 589.6L330.8 589.2L331 588.7L331.2 588.2L331.5 588.1L331.8 588.1L332 588.1L332.2 588.2L332.5 588.2L332.8 588.4L333 588.7L333.2 589L333.5 589.3L333.8 589.5L334 589.7L334.2 590L334.5 590.2L334.8 590.9L335 591.6L335.2 592.2L335.5 592.9L335.8 592.4L336 591.9L336.2 591.4L336.5 590.9L336.8 591.4L337 591.9L337.2 592.4L337.5 592.9L337.8 592.5L338 592.2L338.2 591.8L338.5 591.5L338.8 591.2L339 590.8L339.2 590.5L339.5 590.2L339.8 591.1L340 591.9L340.2 592.8L340.5 593.6L340.8 593.5L341 593.4L341.2 593.3L341.5 593.2L341.8 592.2L342 591.2L342.2 590.2L342.5 589.1L342.8 589.5L343 589.9L343.2 590.3L343.5 590.7L343.8 591.2L344 592L344.2 592.9L344.5 593.7L344.8 593.5L345 593.2L345.2 592.9L345.5 592.7L345.8 593.4L346 594.2L346.2 594.9L346.5 595.7L346.8 595.4L347 595.1L347.2 594.8L347.5 594.4L347.8 595.8L348 597L348.2 598.3L348.5 599.6L348.8 598.8L349 598L349.2 597.2L349.5 596.4L349.8 597L350 597.7L350.2 598.1L350.5 598.5L350.8 598.2L351 598L351.2 597.7L351.5 597.4L351.8 597.1L352 596.8L352.2 596.5L352.5 596.3L352.8 596.8L353 597.3L353.2 597.9L353.5 598.4L353.8 598.6L354 598.7L354.2 598.9L354.5 599L354.8 598.5L355 598L355.2 597.6L355.5 597.1L355.8 596.8L356 596.5L356.2 596.2L356.5 595.9L356.8 596.2L357 596.5L357.2 596.9L357.5 597.2L357.8 597.4L358 597.6L358.2 597.8L358.5 598L358.8 597.7L359 597.6L359.2 597.4L359.5 597.3L359.8 597.3L360 597.4L360.2 597.5L360.5 597.5L360.8 597.5L361 597.6L361.2 597.6L361.5 597.6L361.8 597.8L362 598.1L362.2 598.3L362.5 598.5L362.8 598.3L363 598.1L363.2 597.9L363.5 597.7L363.8 598.1L364 598.6L364.2 599L364.5 599.5L364.8 599.1L365 598.6L365.2 598.1L365.5 597.6L365.8 597.9L366 598.1L366.2 598.2L366.5 598.4L366.8 598L367 597.6L367.2 597.2L367.5 596.8L367.8 597.4L368 598L368.2 598.7L368.5 599.3L368.8 599.2L369 599.2L369.2 599.2L369.5 599.1L369.8 599.2L370 599.4L370.2 599.5L370.5 599.6L370.8 598.9L371 598.2L371.2 597.4L371.5 596.7L371.8 596.7L372 596.7L372.2 596.8L372.5 596.8L372.8 596.6L373 596.4L373.2 596.2L373.5 596L373.8 596L374 596.1L374.2 596.1L374.5 596.1L374.8 596.1L375 596.1L375.2 596.2L375.5 596.2L375.8 596.1L376 595.9L376.2 595.7L376.5 595.5L376.8 595.9L377 596.3L377.2 596.7L377.5 597.2L377.8 597.6L378 598L378.2 598.4L378.5 598.8L378.8 598.5L379 598.3L379.2 598L379.5 597.7L379.8 597.4L380 597.1L380.2 596.8L380.5 596.4L380.8 597.2L381 597.9L381.2 598.6L381.5 599.3L381.8 598.6L382 598L382.2 597.4L382.5 596.7L382.8 596.7L383 596.7L383.2 596.6L383.5 596.6L383.8 597L384 597.3L384.2 597.7L384.5 598L384.8 598L385 598L385.2 598L385.5 598L385.8 597.1L386 596.2L386.2 595.3L386.5 594.3L386.8 594.2L387 594L387.2 593.8L387.5 593.7L387.8 594.7L388 595.6L388.2 596.6L388.5 597.6L388.8 596.9L389 596.2L389.2 595.5L389.5 594.9L389.8 595.5L390 596.1L390.2 596.8L390.5 597.4L390.8 597.7L391 598L391.2 598.3L391.5 598.7L391.8 598.6L392 598.5L392.2 598.4L392.5 598.3L392.8 598.3L393 598.3L393.2 598.3L393.5 598.3L393.8 598.2L394 598L394.2 597.9L394.5 597.7L394.8 597.7L395 597.7L395.2 597.6L395.5 597.6L395.8 597.7L396 597.8L396.2 597.8L396.5 597.9L396.8 598.2L397 598.5L397.2 598.8L397.5 599.1L397.8 598.7L398 598.4L398.2 598L398.5 597.7L398.8 598.1L399 598.6L399.2 599L399.5 599.5L399.8 598.9L400 598.4L400.2 597.8L400.5 597.2L400.8 597.5L401 597.9L401.2 598.2L401.5 598.6L401.8 598.8L402 598.9L402.2 599.1L402.5 599.2L402.8 598.5L403 597.8L403.2 597.2L403.5 596.6L403.8 597.1L404 597.6L404.2 598.1L404.5 598.7L404.8 598.3L405 598L405.2 597.7L405.5 597.3L405.8 597.3L406 597.3L406.2 597.3L406.5 597.2L406.8 597.1L407 596.9L407.2 596.7L407.5 596.4L407.8 596.3L408 596.1L408.2 596L408.5 595.8L408.8 595.9L409 595.9L409.2 595.8L409.5 596.3L409.8 595.8L410 596.8L410.2 595.4L410.5 596.7L410.8 594.3L411 595.7L411.2 592.9L411.5 594.7L411.8 592.1L412 594.5L412.2 591.6L412.5 594.7L412.8 590.3L413 594L413.2 588.4L413.5 593.4L413.8 586.8L414 594.6L414.2 585.2L414.5 595.5L414.8 584L415 596.9L415.2 583.8L415.5 596.7L415.8 582.3L416 593.1L416.2 579.4L416.5 589.6L416.8 577.5L417 591.8L417.2 577.8L417.5 594L417.8 576.3L418 592.1L418.2 573.6L418.5 589.7L418.8 571.6L419 589.1L419.2 570.6L419.5 588L419.8 570.2L420 587.2L420.2 570.1L420.5 586.5L420.8 569.5L421 584.9L421.2 568.7L421.5 583.2L421.8 567.6L422 581.3L422.2 565.7L422.5 580L422.8 562.8L423 577.2L423.2 559.2L423.5 574.1L423.8 557.8L424 574.2L424.2 558.2L424.5 574.2L424.8 558.3L425 573L425.2 558.4L425.5 572.1L425.8 557.9L426 569.5L426.2 556.3L426.5 567.9L426.8 554.8L427 568.4L427.2 554.3L427.5 568.9L427.8 554.4L428 569.1L428.2 555L428.5 569.4L428.8 554.2L429 566.7L429.2 551.8L429.5 563.7L429.8 550.3L430 562.9L430.2 549.9L430.5 562.6L430.8 547.7L431 561.3L431.2 544.6L431.5 560.1L431.8 542.2L432 558.9L432.2 542L432.5 557L432.8 542.8L433 557.2L433.2 544.5L433.5 558.2L433.8 543.6L434 555.7L434.2 540.9L434.5 553.1L434.8 539.6L435 553.7L435.2 539.7L435.5 554.1L435.8 538.6L436 552.2L436.2 537.1L436.5 549.7L436.8 536.3L437 548.2L437.2 536L437.5 547L437.8 535.2L438 546L438.2 534.4L438.5 545.1L438.8 533.8L439 545.3L439.2 532.6L439.5 545.9L439.8 530.2L440 543.8L440.2 526.9L440.5 541L440.8 526.7L441 542.2L441.2 528.6L441.5 543.1L441.8 529.3L442 542.1L442.2 528.6L442.5 541.1L442.8 527L443 538.3L443.2 524.5L443.5 535.6L443.8 522.8L444 534.3L444.2 521.7L444.5 532.9L444.8 520.3L445 531.6L445.2 519.3L445.5 530.8L445.8 519.7L446 532L446.2 521.4L446.5 533L446.8 521.7L447 531.8L447.2 521L447.5 530.5L447.8 520.3L448 529.2L448.2 519.7L448.5 528L448.8 519.7L449 528.6L449.2 520.6L449.5 529.7L449.8 521.1L450 529.5L450.2 521L450.5 529.2L450.8 521L451 529.4L451.2 521.4L451.5 529.7L451.8 521.7L452 529.9L452.2 522L452.5 530.1L452.8 522.1L453 530.3L453.2 521.3L453.5 530.8L453.8 520.4L454 531.1L454.2 519.7L454.5 530.9L454.8 519.8L455 530.9L455.2 520.1L455.5 531L455.8 520.9L456 532L456.2 522.3L456.5 533.1L456.8 522.6L457 532.1L457.2 521.9L457.5 531.2L457.8 521.5L458 531L458.2 521.4L458.5 531L458.8 521.3L459 531.3L459.2 521.4L459.5 531.7L459.8 521.7L460 532.9L460.2 522.2L460.5 534L460.8 522.5L461 534.8L461.2 522.9L461.5 535L461.8 524L462 535.5L462.2 525.3L462.5 536L462.8 525.3L463 535L463.2 523.8L463.5 533.9L463.8 523.9L464 536L464.2 525.3L464.5 538.3L464.8 525.6L465 538.3L465.2 524.7L465.5 538.1L465.8 525.5L466 539.7L466.2 527.5L466.5 541.4L466.8 528.2L467 540L467.2 528L467.5 538.4L467.8 528.6L468 538.2L468.2 529.7L468.5 539L468.8 529.6L469 539.4L469.2 529.3L469.5 539.8L469.8 529.1L470 540.4L470.2 528.9L470.5 540.9L470.8 528.8L471 541.1L471.2 529.1L471.5 540.8L471.8 529.4L472 540.1L472.2 529.5L472.5 539.4L472.8 530.2L473 540L473.2 531.5L473.5 540.6L473.8 532.8L474 541.7L474.2 533.4L474.5 543L474.8 533.1L475 542.6L475.2 532.3L475.5 542.2L475.8 532.2L476 542.5L476.2 532.5L476.5 542.7L476.8 533.1L477 544.3L477.2 534L477.5 545.7L477.8 534.7L478 546.6L478.2 535.3L478.5 547.1L478.8 536.3L479 548L479.2 537.3L479.5 548.6L479.8 538.4L480 548.5L480.2 539.2L480.5 548.3L480.8 540.1L481 548.9L481.2 540.6L481.5 549.7L481.8 541.7L482 551.7L482.2 543.4L482.5 553.5L482.8 544.2L483 553.7L483.2 544.2L483.5 553.9L483.8 544.8L484 554.6L484.2 545.9L484.5 555.3L484.8 546.5L485 555.2L485.2 546.8L485.5 555.1L485.8 547.5L486 555.9L486.2 548.6L486.5 556.5L486.8 549.3L487 555.7L487.2 549.5L487.5 554.9L487.8 550L488 555.6L488.2 550.3L488.5 556.7L488.8 550.5L489 557.4L489.2 550.6L489.5 557.6L489.8 551.6L490 558.7L490.2 553L490.5 559.8L490.8 554.3L491 560.9L491.2 555.5L491.5 561.9L491.8 556L492 561.7L492.2 556L492.5 561.4L492.8 556.3L493 561.8L493.2 557L493.5 562.4L493.8 557.7L494 563.8L494.2 558.8L494.5 565.3L494.8 559.2L495 565.2L495.2 559L495.5 564.7L495.8 559.5L496 565.8L496.2 560.6L496.5 566.8L496.8 561.3L497 566.7L497.2 561.3L497.5 566.6L497.8 561.4L498 567L498.2 561.6L498.5 567.5L498.8 561.9L499 568.2L499.2 562.3L499.5 569.1L499.8 562.7L500 569.8L500.2 563L500.5 570.3L500.8 563.7L501 570.3L501.2 564.4L501.5 570.3L501.8 565.1L502 570.5L502.2 565.6L502.5 570.7L502.8 566L503 571L503.2 566.3L503.5 571.6L503.8 566.6L504 573.2L504.2 567.4L504.5 574.8L504.8 567.5L505 574L505.2 567.1L505.5 573.3L505.8 567.2L506 573.7L506.2 568L506.5 574.1L506.8 568.7L507 574.5L507.2 569.5L507.5 574.9L507.8 570.2L508 575.3L508.2 570.9L508.5 575.7L508.8 571.4L509 576.1L509.2 571.7L509.5 576.6L509.8 572L510 577.3L510.2 572.4L510.5 578L510.8 572.4L511 578.1L511.2 572.1L511.5 578.1L511.8 572.3L512 578.6L512.2 573L512.5 579.1L512.8 573.3L513 578.9L513.2 573L513.5 578.9L513.8 573.3L514 580L514.2 574L514.5 580.9L514.8 574.3L515 581L515.2 574.3L515.5 581L515.8 574.7L516 581.9L516.2 575.6L516.5 582.6L516.8 576.1L517 582.6L517.2 576.2L517.5 582.4L517.8 576.6L518 582.2L518.2 577.1L518.5 582.2L518.8 577.6L519 583.5L519.2 578.2L519.5 584.7L519.8 578.6L520 585.4L520.2 579.2L520.5 585.6L520.8 579.9L521 585.7L521.2 580.7L521.5 585.9L521.8 581.5L522 586L522.2 582.3L522.5 586.2L522.8 582.8L523 586.4L523.2 582.6L523.5 586.9L523.8 582.7L524 587.8L524.2 583.3L524.5 588.2L524.8 584.4L525 588.5L525.2 585.5L525.5 588.9L525.8 586.1L526 589.2L526.2 586.4L526.5 589.1L526.8 586L527 588.8L527.2 585.7L527.5 588.6L527.8 585.5L528 588.6L528.2 585.5L528.5 588.6L528.8 585.1L529 588L529.2 584.5L529.5 587.4L529.8 583.8L530 586.9L530.2 583.1L530.5 586.5L530.8 582.7L531 586.4L531.2 582.6L531.5 586.1L531.8 582.7L532 585.7L532.2 582.8L532.5 585.3L532.8 582.2L533 584.5L533.2 581L533.5 583.8L533.8 579.9L534 583.3L534.2 579.2L534.5 582.6L534.8 578.7L535 582.2L535.2 578.3L535.5 581.7L535.8 577.8L536 581L536.2 577.1L536.5 581L536.8 577.8L537 581.5L537.2 578.4L537.5 581.9L537.8 579.1L538 582.6L538.2 579.8L538.5 583.4L538.8 580.5L539 584.3L539.2 581.2L539.5 585.1L539.8 582L540 585.9L540.2 582.8L540.5 586.8L540.8 583.6L541 587.6L541.2 584.5L541.5 588.1L541.8 584.7L542 588.1L542.2 584.9L542.5 588.1L542.8 585.1L543 588.7L543.2 585.5L543.5 589.3L543.8 585.9L544 589.4L544.2 586.3L544.5 589.5L544.8 586.7L545 589.6L545.2 587.1L545.5 589.9L545.8 587.3L546 590.3L546.2 587.5L546.5 590.8L546.8 587.7L547 590.7L547.2 587.8L547.5 590.6L547.8 588.2L548 591.3L548.2 588.9L548.5 592.3L548.8 589.2L549 592.6L549.2 589.2L549.5 592.9L549.8 589.5L550 593.2L550.2 590L550.5 593.4L550.8 590.2L551 593.3L551.2 590.1L551.5 593.3L551.8 590.2L552 593.5L552.2 590.3L552.5 593.6L552.8 590.5L553 594.1L553.2 590.9L553.5 594.5L553.8 591.1L554 594.3L554.2 591L554.5 594.1L554.8 591.2L555 594.5L555.2 591.6L555.5 595L555.8 591.7L556 595.2L556.2 591.7L556.5 595.3L556.8 592.3L557 595.7L557.2 593.1L557.5 596.1L557.8 593.6L558 596L558.2 593.5L558.5 596.1L558.8 593.4L559 596.1L559.2 593.4L559.5 596L559.8 593.5L560 596.1L560.2 593.8L560.5 596.2L560.8 593.9L561 596.6L561.2 593.9L561.5 596.9L561.8 594.1L562 597.5L562.2 594.5L562.5 598L562.8 594.6L563 598L563.2 594.6L563.5 598.1L563.8 594.6L564 598.3L564.2 594.7L564.5 598.4L564.8 594.9L565 598.6L565.2 595.3L565.5 598.7L565.8 595.8L566 599.1L566.2 596.5L566.5 599.6L566.8 596.8L567 599.5L567.2 596.7L567.5 599.3L567.8 596.8L568 599.7L568.2 597.1L568.5 600.1L568.8 597.1L569 600.1L569.2 596.9L569.5 600.1L569.8 597L570 600.7L570.2 597.4L570.5 601.2L570.8 597.8L571 601L571.2 598L571.5 600.7L571.8 598.3L572 600.9L572.2 598.5L572.5 601.1L572.8 598.5L573 601.1L573.2 598.3L573.5 601.1L573.8 598.4L574 601.9L574.2 598.9L574.5 602.7L574.8 599.3L575 602.9L575.2 599.4L575.5 603.1L575.8 599.5L576 603.1L576.2 599.5L576.5 603L576.8 599.8L577 603.3L577.2 600.3L577.5 603.5L577.8 600.6L578 603.5L578.2 600.9L578.5 603.5L578.8 600.9L579 603.2L579.2 600.6L579.5 603.1L579.8 600.4L580 603.4L580.2 600.6L580.5 603.6L580.8 600.9L581 603.8L581.2 601.1L581.5 604L581.8 601.4L582 604.5L582.2 601.9L582.5 605.1L582.8 602L583 604.9L583.2 601.7L583.5 604.8L583.8 601.8L584 605.2L584.2 602.1L584.5 605.5L584.8 602.4L585 605.4L585.2 602.6L585.5 605.2L585.8 602.7L586 605.3L586.2 602.6L586.5 605.6L586.8 602.5L587 605.8L587.2 602.3L587.5 605.8L587.8 602.3L588 605.9L588.2 602.3L588.5 606L588.8 602.4L589 606L589.2 602.6L589.5 606.1L589.8 602.7L590 606L590.2 602.7L590.5 606L590.8 602.7L591 605.8L591.2 602.5L591.5 605.5L591.8 602.8L592 605.8L592.2 603.3L592.5 606.1L592.8 603.6L593 606.1L593.2 603.3L593.5 606.3L593.8 603L594 606.3L594.2 602.7L594.5 606.1L594.8 602.8L595 606.2L595.2 603.2L595.5 606.3L595.8 603.4L596 606.6L596.2 603.4L596.5 606.9L596.8 603.3L597 606.9L597.2 603.3L597.5 606.6L597.8 603.4L598 606.2L598.2 603.5L598.5 606L598.8 603.1L599 605.7L599.2 602.7L599.5 605.4L599.8 602.3L600 605.2L600.2 602L600.5 604.8L600.8 601.7L601 604.5L601.2 601.4L601.5 604.2L601.8 601.2L602 604.1L602.2 601L602.5 603.9L602.8 600.9L603 603.7L603.2 600.9L603.5 603.5L603.8 600.7L604 602.9L604.2 600.2L604.5 602.5L604.8 599.8L605 602.7L605.2 599.7L605.5 602.8L605.8 599.4L606 602.4L606.2 598.8L606.5 602L606.8 598.5L607 602L607.2 598.5L607.5 602L607.8 598.3L608 601.5L608.2 597.9L608.5 600.9L608.8 597.8L609 600.8L609.2 597.8L609.5 600.6L609.8 597.7L610 600.5L610.2 597.2L610.5 600.2L610.8 596.5L611 599.7L611.2 595.9L611.5 599L611.8 595.6L612 598.9L612.2 595.6L612.5 598.8L612.8 595.2L613 598.1L613.2 594.5L613.5 597.3L613.8 594.1L614 597.1L614.2 593.9L614.5 596.9L614.8 593.6L615 596.6L615.2 593.3L615.5 596.2L615.8 592.9L616 595.4L616.2 592.3L616.5 594.6L616.8 591.8L617 594.5L617.2 591.5L617.5 594.4L617.8 591L618 593.9L618.2 590.4L618.5 593.3L618.8 590L619 592.8L619.2 589.7L619.5 592.4L619.8 589.2L620 591.9L620.2 588.6L620.5 591.5L620.8 588.2L621 591.3L621.2 588.2L621.5 591L621.8 588.1L622 590.6L622.2 588L622.5 590.4L622.8 587.4L623 589.7L623.2 586.6L623.5 589L623.8 586.2L624 588.9L624.2 586.4L624.5 588.7L624.8 586.3L625 588.2L625.2 585.7L625.5 587.9L625.8 585.2L626 587.9L626.2 584.9L626.5 587.8L626.8 584.5L627 586.9L627.2 583.8L627.5 586L627.8 583.3L628 585.6L628.2 582.8L628.5 585.3L628.8 582.1L629 584.9L629.2 581.5L629.5 584.3L629.8 581.1L630 583.9L630.2 580.8L630.5 583.5L630.8 580.6L631 583.3L631.2 580.7L631.5 583L631.8 580.3L632 581.9L632.2 579.2L632.5 581.1L632.8 578.5L633 581L633.2 578.1L633.5 580.9L633.8 577.9L634 580.3L634.2 577.7L634.5 579.8L634.8 577.4L635 579.3L635.2 576.7L635.5 578.9L635.8 576.2L636 578.8L636.2 575.9L636.5 578.4L636.8 575.6L637 577.8L637.2 575.2L637.5 577.2L637.8 574.7L638 576.7L638.2 574.1L638.5 576.3L638.8 573.5L639 576L639.2 573.1L639.5 575.5L639.8 572.9L640 575.1L640.2 572.6L640.5 574.7L640.8 572.1L641 574.2L641.2 571.5L641.5 573.8L641.8 570.8L642 573.1L642.2 570.4L642.5 572.3L642.8 570L643 571.6L643.2 569.5L643.5 571.1L643.8 569.1L644 570.7L644.2 568.7L644.5 570.3L644.8 568.2L645 569.9L645.2 567.4L645.5 569.5L645.8 566.7L646 569L646.2 566.2L646.5 568.2L646.8 565.7L647 567.3L647.2 565.1L647.5 566.5L647.8 564.6L648 566.2L648.2 564.3L648.5 565.9L648.8 563.8L649 565.4L649.2 563.1L649.5 564.8L649.8 562.4L650 564.2L650.2 561.7L650.5 563.4L650.8 561.2L651 562.9L651.2 560.9L651.5 562.5L651.8 560.4L652 562.1L652.2 559.7L652.5 561.6L652.8 559L653 561.4L653.2 558.7L653.5 560.9L653.8 558.3L654 560L654.2 557.8L654.5 559.2L654.8 557.3L655 558.7L655.2 556.8L655.5 558.2L655.8 556.4L656 557.9L656.2 555.9L656.5 557.6L656.8 555.3L657 557L657.2 554.5L657.5 556.2L657.8 553.9L658 555.5L658.2 553.3L658.5 554.8L658.8 552.8L659 554.3L659.2 552.2L659.5 553.7L659.8 551.6L660 553.2L660.2 551.2L660.5 552.7L660.8 550.9L661 552.6L661.2 551L661.5 552.6L661.8 550.5L662 551.8L662.2 549.7L662.5 550.9L662.8 549.1L663 550.5L663.2 548.7L663.5 550.1L663.8 548L664 549.1L664.2 547L664.5 548L664.8 546.3L665 547.9L665.2 546.1L665.5 547.8L665.8 545.7L666 547L666.2 544.9L666.5 546.3L666.8 544.6L667 546.3L667.2 544.6L667.5 546.3L667.8 544.2L668 545.8L668.2 543.5L668.5 545.2L668.8 542.8L669 544.5L669.2 542.2L669.5 543.8L669.8 541.7L670 543.4L670.2 541.4L670.5 543.1L670.8 541.1L671 542.5L671.2 540.6L671.5 541.9L671.8 540.3L672 541.6L672.2 540.2L672.5 541.3L672.8 539.7L673 540.7L673.2 538.9L673.5 540.1L673.8 538.3L674 539.6L674.2 537.8L674.5 539.1L674.8 537.5L675 538.8L675.2 537.3L675.5 538.4L675.8 537.1L676 538.5L676.2 537.1L676.5 538.5L676.8 537.2L677 538.5L677.2 537.3L677.5 538.5L677.8 536.9L678 537.6L678.2 536.1L678.5 536.7L678.8 535.1L679 535.5L679.2 533.8L679.5 534.2L679.8 533.4L680 534.7L680.2 533.7L680.5 535.1L680.8 533.8L681 535.1L681.2 533.7L681.5 535.1L681.8 533.2L682 534.2L682.2 532.3L682.5 533.2L682.8 531.9L683 533.1L683.2 531.9L683.5 533L683.8 531.9L684 532.7L684.2 531.6L684.5 532.3L684.8 531.2L685 531.9L685.2 530.8L685.5 531.6L685.8 530.5L686 531.6L686.2 530.4L686.5 531.6L686.8 529.9L687 530.6L687.2 529L687.5 529.6L687.8 528.4L688 529.1L688.2 527.9L688.5 528.8L688.8 527.5L689 528.2L689.2 526.9L689.5 527.7L689.8 526.3L690 527.1L690.2 525.8L690.5 526.6L690.8 525.3L691 526.1L691.2 524.9L691.5 525.4L691.8 524.2L692 525L692.2 524L692.5 524.8L692.8 523.5L693 524.1L693.2 522.8L693.5 523.4L693.8 521.9L694 522.1L694.2 520.7L694.5 520.9L694.8 519.5L695 519.7L695.2 518.3L695.5 518.4L695.8 517.4L696 517.6L696.2 516.6L696.5 516.8L696.8 516.2L697 516.7L697.2 516.1L697.5 516.7L697.8 515.4L698 515.4L698.2 514L698.5 514.1L698.8 513L699 513.3L699.2 512.1L699.5 512.5L699.8 511.2L700 511.3L700.2 510.2L700.5 510.6L700.8 509.9L701 510.6L701.2 510L701.5 510.5L701.8 509.8L702 510.1L702.2 509.4L702.5 509.7L702.8 509.2L703 509.7L703.2 509.1L703.5 509.7L703.8 508.6L704 508.6L704.2 507.5L704.5 507.6L704.8 507.1L705 507.9L705.2 507.5L705.5 508.3L705.8 507.5L706 507.9L706.2 507.1L706.5 507.5L706.8 506.7L707 507.1L707.2 506.2L707.5 506.6L707.8 506.3L708 507.1L708.2 506.7L708.5 507.5L708.8 506.5L709 506.4L709.2 505.4L709.5 505.4L709.8 504.7L710 505.1L710.2 504.3L710.5 504.8L710.8 504L711 504.5L711.2 503.7L711.5 504.2L711.8 503.4L712 503.9L712.2 503.2L712.5 503.6L712.8 502.5L713 502.4L713.2 501.3L713.5 501.2L713.8 500.9L714 501.7L714.2 501.4L714.5 502.2L714.8 501.3L715 501.6L715.2 500.7L715.5 501L715.8 500.6L716 501.3L716.2 501L716.5 501.7L716.8 500.8L717 500.9L717.2 500.1L717.5 500.2L717.8 499.5L718 499.6L718.2 498.9L718.5 499L718.8 498.3L719 498.4L719.2 497.6L719.5 497.7L719.8 497.5L720 498.1L720.2 497.9L720.5 498.6L720.8 497.6L721 497.6L721.2 496.5L721.5 496.5L721.8 496.2L722 497L722.2 496.7L722.5 497.5L722.8 496.6L723 496.7L723.2 495.8L723.5 495.9L723.8 495.3L724 495.6L724.2 495.1L724.5 495.3L724.8 494.5L725 494.7L725.2 493.8L725.5 494L725.8 493.3L726 493.7L726.2 492.9L726.5 493.3L726.8 492.5L727 493L727.2 492.2L727.5 492.7L727.8 492.4L728 493.3L728.2 493L728.5 493.8L728.8 492.9L729 493.1L729.2 492.3L729.5 492.4L729.8 491.7L730 491.8L730.2 491L730.5 491.2L730.8 491.1L731 492L731.2 491.8L731.5 492.7L731.8 491.8L732 491.9L732.2 491L732.5 491.2L732.8 490.9L733 491.7L733.2 491.4L733.5 492.2L733.8 491.1L734 491L734.2 489.8L734.5 489.8L734.8 489.3L735 490L735.2 489.6L735.5 490.3L735.8 489.6L736 489.9L736.2 489.2L736.5 489.5L736.8 488.7L737 488.9L737.2 488.2L737.5 488.4L737.8 487.7L738 487.9L738.2 487.2L738.5 487.4L738.8 486.6L739 486.8L739.2 486L739.5 486.2L739.8 485.8L740 486.4L740.2 486L740.5 486.6L740.8 485.7L741 485.7L741.2 484.9L741.5 484.9L741.8 484L742 483.9L742.2 482.9L742.5 483L742.8 482.5L743 483.3L743.2 482.8L743.5 483.5L743.8 482.8L744 483.2L744.2 482.4L744.5 482.8L744.8 482.2L745 482.6L745.2 482.1L745.5 482.5L745.8 481.5L746 481.5L746.2 480.5L746.5 480.5L746.8 479.7L747 480L747.2 479.3L747.5 479.5L747.8 479.3L748 479.9L748.2 479.7L748.5 480.3L748.8 480.1L749 480.9L749.2 480.7L749.5 481.4L749.8 481.2L750 481.8L750.2 481.6L750.5 482.2L750.8 481.9L751 482.3L751.2 482L751.5 482.4L751.8 482.4L752 483.1L752.2 483.1L752.5 483.8L752.8 483.6L753 484.2L753.2 484.1L753.5 484.6L753.8 484.6L754 485.3L754.2 485.2L754.5 486L754.8 485.8L755 486.6L755.2 485.6L755.5 485.6L755.8 484.3L756 483.8L756.2 482.6L756.5 482.1L756.8 481.4L757 481.6L757.2 480.9L757.5 481.1L757.8 480.1L758 479.8L758.2 478.8L758.5 478.5L758.8 477.6L759 477.5L759.2 476.5L759.5 476.5L759.8 475.5L760 475.5L760.2 474.6L760.5 474.6L760.8 473.6L761 473.5L761.2 472.5L761.5 472.5L761.8 471.6L762 471.7L762.2 470.9L762.5 471L762.8 470.6L763 471L763.2 470.7L763.5 471.1L763.8 471.2L764 472L764.2 472.1L764.5 472.9L764.8 473.3L765 474.4L765.2 474.8L765.5 476L765.8 475.7L766 476.2L766.2 475.9L766.5 476.4L766.8 475.9L767 476.4L767.2 476L767.5 476.4L767.8 476.7L768 478L768.2 478.3L768.5 479.5L768.8 479.3L769 480L769.2 479.7L769.5 480.4L769.8 480.3L770 481.1L770.2 480.2L770.5 480.1L770.8 479.2L771 479L771.2 478.1L771.5 477.8L771.8 477.2L772 477.3L772.2 476.7L772.5 476.7L772.8 475.9L773 475.8L773.2 474.9L773.5 474.8L773.8 474.1L774 474.3L774.2 473.6L774.5 473.7L774.8 473L775 473L775.2 472.3L775.5 472.3L775.8 471.4L776 471.2L776.2 470.3L776.5 471L776.8 471.3L777 472.2L777.2 472.4L777.5 473.3L777.8 473.5L778 474.4L778.2 474.6L778.5 475.5L778.8 475.5L779 476.4L779.2 476.3L779.5 477.2L779.8 477.3L780 478.2L780.2 478.4L780.5 479.3L780.8 479.4L781 480L781.2 480.1L781.5 480L781.8 479.4L782 479.4L782.2 478.7L782.5 478.7L782.8 477.9L783 477.7L783.2 476.9L783.5 476.7L783.8 476.3L784 476.7L784.2 476.3L784.5 476.7L784.8 476.2L785 476.6L785.2 476.1L785.5 476.4L785.8 475.8L786 475.7L786.2 475.1L786.5 475L786.8 474.6L787 474.7L787.2 474.2L787.5 474.3L787.8 473.9L788 474.1" fill="none" stroke="#0000ff" stroke-width="2.3" stroke-linejoin="round" stroke-linecap="butt"/>
<circle cx="77.5" cy="430" r="5.5" fill="none" stroke="#0000ff" stroke-width="1.15"/>
<circle cx="132.44" cy="598.69" r="5.5" fill="none" stroke="#0000ff" stroke-width="1.15"/>
<circle cx="187.38" cy="593.77" r="5.5" fill="none" stroke="#0000ff" stroke-width="1.15"/>
<circle cx="242.31" cy="596.29" r="5.5" fill="none" stroke="#0000ff" stroke-width="1.15"/>
<circle cx="297.25" cy="597.99" r="5.5" fill="none" stroke="#0000ff" stroke-width="1.15"/>
<circle cx="352.19" cy="597.68" r="5.5" fill="none" stroke="#0000ff" stroke-width="1.15"/>
<circle cx="407.12" cy="596.61" r="5.5" fill="none" stroke="#0000ff" stroke-width="1.15"/>
<circle cx="462.06" cy="529.8" r="5.5" fill="none" stroke="#0000ff" stroke-width="1.15"/>
<circle cx="517" cy="579.15" r="5.5" fill="none" stroke="#0000ff" stroke-width="1.15"/>
<circle cx="571.94" cy="599.79" r="5.5" fill="none" stroke="#0000ff" stroke-width="1.15"/>
<circle cx="626.88" cy="585.49" r="5.5" fill="none" stroke="#0000ff" stroke-width="1.15"/>
<circle cx="681.81" cy="533.33" r="5.5" fill="none" stroke="#0000ff" stroke-width="1.15"/>
<circle cx="736.75" cy="488.36" r="5.5" fill="none" stroke="#0000ff" stroke-width="1.15"/>
<path d="M77.5 607.5L77.8 607.4L78 607.4L78.2 607.5L78.5 607.5L78.8 607.7L79 607.9L79.2 608.1L79.5 608.3L79.8 608.1L80 607.8L80.2 607.6L80.5 607.4L80.8 607.7L81 608L81.2 608.4L81.5 608.7L81.8 608.3L82 608L82.2 607.6L82.5 607.2L82.8 607.4L83 607.7L83.2 607.9L83.5 608.1L83.8 608.1L84 608.1L84.2 608.1L84.5 608.1L84.8 608.4L85 608.6L85.2 608.9L85.5 609.1L85.8 608.9L86 608.7L86.2 608.5L86.5 608.3L86.8 608.2L87 608.1L87.2 607.9L87.5 607.8L87.8 608.2L88 608.6L88.2 609.1L88.5 609.5L88.8 609.6L89 609.7L89.2 609.8L89.5 609.9L89.8 609.4L90 608.9L90.2 608.4L90.5 607.9L90.8 608.2L91 608.6L91.2 609L91.5 609.3L91.8 609.1L92 608.8L92.2 608.6L92.5 608.3L92.8 608.6L93 609L93.2 609.3L93.5 609.7L93.8 609.9L94 610.1L94.2 610.3L94.5 610.5L94.8 610.2L95 610L95.2 609.7L95.5 609.4L95.8 610L96 610.6L96.2 611.2L96.5 611.8L96.8 611.6L97 611.5L97.2 611.4L97.5 611.2L97.8 611.4L98 611.6L98.2 611.9L98.5 612.1L98.8 612.5L99 612.8L99.2 613.2L99.5 613.6L99.8 613.3L100 613L100.2 612.9L100.5 612.8L100.8 613.4L101 614L101.2 614.5L101.5 615.1L101.8 616.1L102 617.1L102.2 618.1L102.5 619.1L102.8 619.6L103 620.2L103.2 620.7L103.5 621.3L103.8 621.7L104 622.1L104.2 622.5L104.5 623L104.8 622.9L105 622.8L105.2 622.7L105.5 622.6L105.8 623.3L106 624.1L106.2 624.8L106.5 625.6L106.8 626.2L107 626.8L107.2 627.5L107.5 628.2L107.8 628.4L108 628.6L108.2 628.8L108.5 629L108.8 628.4L109 627.9L109.2 627.3L109.5 626.8L109.8 627L110 627.2L110.2 627.4L110.5 627.6L110.8 628.6L111 629.6L111.2 630.7L111.5 631.7L111.8 632.3L112 632.9L112.2 633.5L112.5 634L112.8 633.9L113 633.8L113.2 633.7L113.5 633.5L113.8 634.2L114 634.5L114.2 634.9L114.5 635.2L114.8 634.9L115 634.6L115.2 634.3L115.5 634.1L115.8 634L116 633.9L116.2 633.9L116.5 633.8L116.8 633.8L117 633.8L117.2 633.8L117.5 633.7L117.8 633.7L118 633.6L118.2 633.5L118.5 633.6L118.8 633.5L119 633.4L119.2 633.3L119.5 633.3L119.8 634.1L120 635L120.2 635.9L120.5 636.8L120.8 636.6L121 636.4L121.2 636.3L121.5 636.1L121.8 635.7L122 635.3L122.2 634.8L122.5 634.4L122.8 634.5L123 634.6L123.2 634.8L123.5 634.9L123.8 634.7L124 634.5L124.2 634.3L124.5 634.1L124.8 634.6L125 635.2L125.2 635.5L125.5 635.8L125.8 634.9L126 633.9L126.2 632.9L126.5 631.9L126.8 632L127 632L127.2 632.1L127.5 632.1L127.8 632.1L128 632.2L128.2 632.2L128.5 632.3L128.8 631.9L129 631.5L129.2 631.1L129.5 630.8L129.8 630.6L130 630.4L130.2 630.2L130.5 630.1L130.8 629.3L131 628.5L131.2 627.7L131.5 626.8L131.8 627.2L132 627.5L132.2 627.9L132.5 628.2L132.8 627.6L133 627L133.2 626.4L133.5 625.7L133.8 625.9L134 626.1L134.2 626.2L134.5 626.4L134.8 625.5L135 624.6L135.2 623.8L135.5 622.9L135.8 623.2L136 623.6L136.2 623.9L136.5 624.2L136.8 623.5L137 622.6L137.2 621.8L137.5 621L137.8 620.9L138 620.9L138.2 620.8L138.5 620.7L138.8 620.1L139 619.5L139.2 618.9L139.5 618.4L139.8 618.2L140 618L140.2 617.8L140.5 617.6L140.8 617.5L141 617.3L141.2 617.2L141.5 617L141.8 617.4L142 617.7L142.2 618L142.5 618.3L142.8 617.7L143 617L143.2 616.4L143.5 615.8L143.8 615.7L144 615.7L144.2 615.6L144.5 615.5L144.8 615.8L145 616L145.2 616.3L145.5 616.6L145.8 616.1L146 615.7L146.2 615.3L146.5 614.9L146.8 614.4L147 614L147.2 613.5L147.5 613.1L147.8 613.2L148 613.4L148.2 613.6L148.5 613.8L148.8 613.2L149 612.7L149.2 612.1L149.5 611.5L149.8 611.5L150 611.5L150.2 611.4L150.5 611.4L150.8 612.1L151 612.8L151.2 613.4L151.5 614.1L151.8 614.9L152 615.8L152.2 616.6L152.5 617.4L152.8 617.2L153 617L153.2 616.7L153.5 616.5L153.8 616.7L154 616.9L154.2 617.1L154.5 617.3L154.8 616.7L155 616L155.2 615.4L155.5 614.8L155.8 614.4L156 614.1L156.2 613.7L156.5 613.4L156.8 614L157 614.6L157.2 615.2L157.5 615.7L157.8 615L158 614.3L158.2 613.5L158.5 612.8L158.8 612.2L159 611.7L159.2 611L159.5 610.4L159.8 611.5L160 612.6L160.2 613.7L160.5 614.8L160.8 615L161 615.2L161.2 615.4L161.5 615.6L161.8 615.5L162 615.4L162.2 615.2L162.5 615.1L162.8 615.4L163 615.8L163.2 616.1L163.5 616.5L163.8 616.2L164 616L164.2 615.8L164.5 615.6L164.8 615.5L165 615.4L165.2 615.3L165.5 615.3L165.8 614.8L166 614.4L166.2 614L166.5 613.5L166.8 613.8L167 614.1L167.2 614.5L167.5 614.8L167.8 614.4L168 614L168.2 613.7L168.5 613.3L168.8 613.6L169 613.9L169.2 614.2L169.5 614.4L169.8 615.2L170 616L170.2 616.8L170.5 617.6L170.8 617L171 616.4L171.2 615.9L171.5 615.3L171.8 615.4L172 615.4L172.2 615.5L172.5 615.6L172.8 615.2L173 614.8L173.2 614.5L173.5 614.1L173.8 615.2L174 616.4L174.2 617.6L174.5 618.8L174.8 617.3L175 615.8L175.2 614.2L175.5 612.7L175.8 613.1L176 613.6L176.2 614L176.5 614.4L176.8 615.1L177 615.8L177.2 616.5L177.5 617.2L177.8 616.6L178 616.1L178.2 615.5L178.5 614.9L178.8 614.9L179 614.9L179.2 614.9L179.5 614.9L179.8 615.3L180 615.8L180.2 616.3L180.5 616.7L180.8 616.8L181 616.9L181.2 617L181.5 617.1L181.8 617.2L182 617.2L182.2 617.2L182.5 617.2L182.8 616.7L183 616.3L183.2 615.8L183.5 615.3L183.8 615.9L184 616.5L184.2 617.1L184.5 617.7L184.8 617.1L185 616.4L185.2 615.8L185.5 615.1L185.8 615.3L186 615.4L186.2 615.5L186.5 615.7L186.8 615.7L187 615.7L187.2 615.7L187.5 615.7L187.8 616.2L188 616.6L188.2 617.1L188.5 617.6L188.8 617.3L189 617L189.2 616.8L189.5 616.5L189.8 616.2L190 616L190.2 615.7L190.5 615.5L190.8 615.8L191 616.1L191.2 616.4L191.5 616.7L191.8 616.3L192 615.9L192.2 615.5L192.5 615.1L192.8 615.3L193 615.5L193.2 615.7L193.5 615.9L193.8 615.9L194 616L194.2 616.1L194.5 616.1L194.8 616L195 615.9L195.2 615.9L195.5 615.8L195.8 615.6L196 615.5L196.2 615.3L196.5 615.2L196.8 615.1L197 615.1L197.2 615L197.5 614.9L197.8 615.8L198 616.6L198.2 617.5L198.5 618.3L198.8 617.2L199 616.1L199.2 615L199.5 614L199.8 614.8L200 615.5L200.2 616.3L200.5 617L200.8 616.5L201 616L201.2 615.5L201.5 615.1L201.8 615L202 614.9L202.2 614.9L202.5 614.8L202.8 614.3L203 613.9L203.2 613.4L203.5 613L203.8 613.5L204 614.1L204.2 614.7L204.5 615.3L204.8 615.1L205 614.8L205.2 614.6L205.5 614.4L205.8 614.9L206 615.5L206.2 616L206.5 616.5L206.8 615.9L207 615.3L207.2 614.8L207.5 614.2L207.8 614L208 613.8L208.2 613.6L208.5 613.5L208.8 613.4L209 613.4L209.2 613.4L209.5 613.3L209.8 614.1L210 614.8L210.2 615.6L210.5 616.3L210.8 616.2L211 615.9L211.2 615.7L211.5 615.4L211.8 615L212 614.5L212.2 614.1L212.5 613.7L212.8 614.2L213 614.8L213.2 615.4L213.5 616L213.8 615.4L214 614.8L214.2 614.2L214.5 613.6L214.8 613.3L215 613.1L215.2 612.9L215.5 612.6L215.8 612.9L216 613.2L216.2 613.4L216.5 613.7L216.8 613.1L217 612.5L217.2 611.9L217.5 611.3L217.8 611.7L218 612.1L218.2 612.6L218.5 613L218.8 612.6L219 612.2L219.2 611.8L219.5 611.4L219.8 612L220 612.7L220.2 613.3L220.5 613.9L220.8 614L221 614L221.2 614.1L221.5 614.1L221.8 613.9L222 613.7L222.2 613.5L222.5 613.3L222.8 613.8L223 614.2L223.2 614.7L223.5 615.2L223.8 614.6L224 614L224.2 613.5L224.5 612.9L224.8 613.4L225 613.9L225.2 614.4L225.5 614.9L225.8 614.6L226 614.4L226.2 614.1L226.5 613.9L226.8 613.5L227 613.1L227.2 612.8L227.5 612.4L227.8 613L228 613.7L228.2 614.3L228.5 614.9L228.8 615.3L229 615.6L229.2 616L229.5 616.3L229.8 616.8L230 617.3L230.2 617.7L230.5 618.2L230.8 617.2L231 616.1L231.2 615L231.5 613.9L231.8 614.1L232 614.2L232.2 614.3L232.5 614.4L232.8 614.8L233 615.3L233.2 615.7L233.5 616.2L233.8 615.2L234 614.2L234.2 613.2L234.5 612.3L234.8 613.2L235 614.1L235.2 615L235.5 615.8L235.8 614.7L236 613.5L236.2 612.4L236.5 611.2L236.8 611.3L237 611.5L237.2 611.6L237.5 611.7L237.8 611.9L238 612.2L238.2 612.5L238.5 612.7L238.8 612.6L239 612.5L239.2 612.3L239.5 612.2L239.8 612.6L240 613L240.2 613.5L240.5 613.9L240.8 613.2L241 612.5L241.2 611.8L241.5 611.1L241.8 611.4L242 611.7L242.2 612.1L242.5 612.4L242.8 612.3L243 612.3L243.2 612.2L243.5 612.1L243.8 612.3L244 612.5L244.2 612.6L244.5 612.8L244.8 612.9L245 613L245.2 613.1L245.5 613.2L245.8 613.2L246 613.3L246.2 613.3L246.5 613.4L246.8 613.1L247 612.9L247.2 612.6L247.5 612.3L247.8 612.3L248 612.4L248.2 612.4L248.5 612.5L248.8 612.4L249 612.3L249.2 612.2L249.5 612.1L249.8 611.6L250 611L250.2 610.5L250.5 609.9L250.8 609.9L251 609.8L251.2 609.7L251.5 609.6L251.8 610.3L252 611L252.2 611.8L252.5 612.5L252.8 611.8L253 611.1L253.2 610.4L253.5 609.7L253.8 609.8L254 610L254.2 610.1L254.5 610.3L254.8 610.6L255 610.9L255.2 611.2L255.5 611.6L255.8 611.5L256 611.3L256.2 611.2L256.5 611L256.8 610.9L257 610.8L257.2 610.6L257.5 610.5L257.8 610.5L258 610.5L258.2 610.5L258.5 610.5L258.8 610.9L259 611.3L259.2 611.6L259.5 612L259.8 612.5L260 613L260.2 613.5L260.5 614L260.8 612.9L261 611.8L261.2 610.7L261.5 609.5L261.8 610.1L262 610.6L262.2 611.1L262.5 611.7L262.8 612.1L263 612.5L263.2 612.9L263.5 613.4L263.8 613.1L264 612.8L264.2 612.6L264.5 612.3L264.8 612L265 611.7L265.2 611.4L265.5 611.1L265.8 611.3L266 611.5L266.2 611.7L266.5 612L266.8 612.1L267 612.2L267.2 612.4L267.5 612.5L267.8 612.7L268 613L268.2 613.2L268.5 613.4L268.8 612.5L269 611.5L269.2 610.6L269.5 609.7L269.8 609.9L270 610.2L270.2 610.5L270.5 610.7L270.8 611.2L271 611.6L271.2 612L271.5 612.4L271.8 612.5L272 612.5L272.2 612.6L272.5 612.7L272.8 612.6L273 612.6L273.2 612.5L273.5 612.4L273.8 612.5L274 612.7L274.2 612.8L274.5 612.9L274.8 613.1L275 613.4L275.2 613.6L275.5 613.8L275.8 613.7L276 613.6L276.2 613.5L276.5 613.4L276.8 614.2L277 615L277.2 615.8L277.5 616.6L277.8 615.4L278 614.2L278.2 613.1L278.5 611.9L278.8 612L279 612.1L279.2 612.2L279.5 612.4L279.8 612L280 611.6L280.2 611.2L280.5 610.8L280.8 611.5L281 612.3L281.2 612.9L281.5 613.6L281.8 613.4L282 613.2L282.2 613L282.5 612.9L282.8 612.7L283 612.4L283.2 612.2L283.5 612L283.8 611.6L284 611.2L284.2 610.8L284.5 610.4L284.8 611.4L285 612.6L285.2 613.7L285.5 614.9L285.8 614.3L286 613.8L286.2 613.3L286.5 612.7L286.8 612.9L287 613.1L287.2 613.3L287.5 613.4L287.8 612.7L288 611.9L288.2 611.1L288.5 610.4L288.8 611L289 611.6L289.2 612.3L289.5 612.9L289.8 613L290 613.1L290.2 613.2L290.5 613.2L290.8 613.7L291 614.2L291.2 614.6L291.5 615.1L291.8 614.7L292 614.3L292.2 613.9L292.5 613.5L292.8 613.7L293 613.8L293.2 614L293.5 614.2L293.8 613.2L294 612.3L294.2 611.3L294.5 610.3L294.8 610.8L295 611.3L295.2 611.8L295.5 612.3L295.8 612.4L296 612.5L296.2 612.6L296.5 612.8L296.8 612.7L297 612.7L297.2 612.7L297.5 612.6L297.8 612.6L298 612.5L298.2 612.4L298.5 612.4L298.8 612.4L299 612.3L299.2 612.3L299.5 612.3L299.8 612.8L300 613.4L300.2 613.9L300.5 614.4L300.8 613.7L301 613L301.2 612.3L301.5 611.6L301.8 612L302 612.3L302.2 612.7L302.5 613.1L302.8 613L303 612.9L303.2 612.8L303.5 612.8L303.8 612.4L304 612.1L304.2 611.7L304.5 611.3L304.8 611.5L305 611.7L305.2 611.9L305.5 612.1L305.8 611.2L306 610.3L306.2 609.4L306.5 608.5L306.8 609.1L307 609.7L307.2 610.3L307.5 610.8L307.8 611.3L308 611.8L308.2 612.3L308.5 612.8L308.8 612.1L309 611.3L309.2 610.6L309.5 609.8L309.8 609.2L310 608.6L310.2 607.9L310.5 607.3L310.8 608.4L311 609.5L311.2 610.6L311.5 611.7L311.8 610.9L312 610.1L312.2 609.3L312.5 608.5L312.8 609.4L313 610.4L313.2 611.4L313.5 612.4L313.8 611.9L314 611.4L314.2 610.9L314.5 610.3L314.8 609.8L315 609.3L315.2 608.7L315.5 608.2L315.8 608.4L316 608.5L316.2 608.7L316.5 608.8L316.8 609.6L317 610.4L317.2 611.1L317.5 611.9L317.8 611.3L318 610.7L318.2 610.2L318.5 609.6L318.8 609.5L319 609.3L319.2 609.2L319.5 609L319.8 609L320 609.1L320.2 609.1L320.5 609.1L320.8 609L321 608.8L321.2 608.6L321.5 608.4L321.8 608.2L322 607.9L322.2 607.6L322.5 607.4L322.8 607.7L323 608.1L323.2 608.4L323.5 608.8L323.8 609L324 609.2L324.2 609.3L324.5 609.5L324.8 608.9L325 608.3L325.2 608L325.5 607.7L325.8 608.6L326 609.5L326.2 610.4L326.5 611.3L326.8 611.5L327 611.7L327.2 611.9L327.5 612L327.8 611.4L328 610.8L328.2 610.2L328.5 609.6L328.8 610.8L329 611.9L329.2 613L329.5 614.1L329.8 614.6L330 615.1L330.2 615.4L330.5 615.8L330.8 614.6L331 613.5L331.2 612.4L331.5 611.2L331.8 611.9L332 612.5L332.2 613.1L332.5 613.8L332.8 614.2L333 614.7L333.2 615.2L333.5 615.6L333.8 615.2L334 614.8L334.2 614.4L334.5 614.1L334.8 614.5L335 614.9L335.2 615.3L335.5 615.7L335.8 615.7L336 615.7L336.2 615.7L336.5 615.6L336.8 615.5L337 615.4L337.2 615.3L337.5 615.1L337.8 615.1L338 615.2L338.2 615.2L338.5 615.2L338.8 614.8L339 614.4L339.2 614L339.5 613.6L339.8 613.4L340 613.3L340.2 613.1L340.5 612.9L340.8 612.6L341 612.2L341.2 611.9L341.5 611.5L341.8 611L342 610.4L342.2 609.8L342.5 609.2L342.8 609.1L343 609.1L343.2 609.1L343.5 609L343.8 609.1L344 609.1L344.2 609.2L344.5 609.3L344.8 609.7L345 610.1L345.2 610.5L345.5 610.9L345.8 610.4L346 609.8L346.2 609.3L346.5 608.7L346.8 609.6L347 610.5L347.2 611.4L347.5 612.3L347.8 611.4L348 610.6L348.2 609.8L348.5 609L348.8 610L349 611L349.2 612.1L349.5 613.1L349.8 612.3L350 611.5L350.2 610.8L350.5 610L350.8 609.9L351 609.8L351.2 609.8L351.5 609.7L351.8 609.7L352 609.8L352.2 609.8L352.5 609.8L352.8 610.2L353 610.5L353.2 610.8L353.5 611.2L353.8 611L354 610.9L354.2 610.7L354.5 610.6L354.8 610.2L355 609.7L355.2 609.3L355.5 608.9L355.8 609.3L356 609.7L356.2 610.1L356.5 610.4L356.8 610.5L357 610.6L357.2 610.7L357.5 610.8L357.8 610.7L358 610.6L358.2 610.5L358.5 610.3L358.8 610.7L359 611L359.2 611.3L359.5 611.6L359.8 610L360 608.5L360.2 607L360.5 605.4L360.8 606.2L361 606.9L361.2 607.6L361.5 608.3L361.8 608L362 607.7L362.2 607.5L362.5 607.2L362.8 607.6L363 608L363.2 608.3L363.5 608.7L363.8 609.2L364 609.7L364.2 610.2L364.5 610.7L364.8 609.5L365 608.2L365.2 607L365.5 605.8L365.8 606L366 606.2L366.2 606.5L366.5 606.7L366.8 607L367 607.3L367.2 607.5L367.5 607.8L367.8 608.3L368 608.8L368.2 609.3L368.5 609.8L368.8 609.9L369 609.9L369.2 610L369.5 610.1L369.8 609.5L370 608.9L370.2 608.3L370.5 607.7L370.8 608.4L371 609L371.2 609.7L371.5 610.3L371.8 610L372 609.8L372.2 609.5L372.5 609.2L372.8 609.7L373 610.1L373.2 610.6L373.5 611.1L373.8 610.7L374 610.3L374.2 609.9L374.5 609.5L374.8 609.6L375 609.7L375.2 609.8L375.5 610L375.8 609.7L376 609.5L376.2 609.2L376.5 609L376.8 608.6L377 608.2L377.2 607.8L377.5 607.5L377.8 607.5L378 607.5L378.2 607.5L378.5 607.6L378.8 608.1L379 608.7L379.2 609.2L379.5 609.8L379.8 609.4L380 608.9L380.2 608.7L380.5 608.4L380.8 608.5L381 608.5L381.2 608.5L381.5 608.6L381.8 609L382 609.4L382.2 609.8L382.5 610.2L382.8 610.5L383 610.9L383.2 611.3L383.5 611.6L383.8 611.8L384 612L384.2 612.2L384.5 612.4L384.8 612L385 611.6L385.2 611.2L385.5 610.8L385.8 611.2L386 611.5L386.2 611.8L386.5 612.1L386.8 612.5L387 612.9L387.2 613.3L387.5 613.7L387.8 613.4L388 613L388.2 612.7L388.5 612.4L388.8 613.2L389 614L389.2 614.8L389.5 615.6L389.8 615.4L390 615.3L390.2 615L390.5 614.6L390.8 614.2L391 613.7L391.2 613.2L391.5 612.7L391.8 613.3L392 613.9L392.2 614.5L392.5 615.1L392.8 614.7L393 614.3L393.2 614L393.5 613.6L393.8 614.3L394 615L394.2 615.6L394.5 616.3L394.8 615.7L395 615L395.2 614.3L395.5 613.7L395.8 614.3L396 614.8L396.2 615.3L396.5 615.8L396.8 616L397 616.2L397.2 616.4L397.5 616.5L397.8 615.8L398 615.1L398.2 614.3L398.5 613.6L398.8 613.5L399 613.3L399.2 613.2L399.5 613.1L399.8 612.7L400 612.4L400.2 612.1L400.5 611.8L400.8 612.1L401 612.3L401.2 612.6L401.5 612.8L401.8 613.1L402 613.5L402.2 613.8L402.5 614.1L402.8 614.6L403 615.1L403.2 615.6L403.5 616.1L403.8 615.9L404 615.7L404.2 615.4L404.5 615.2L404.8 614.5L405 613.8L405.2 613L405.5 612.3L405.8 613.2L406 614L406.2 614.9L406.5 615.8L406.8 615.1L407 614.4L407.2 613.7L407.5 613L407.8 613.8L408 614.6L408.2 615.2L408.5 616.3L408.8 615.3L409 615.2L409.2 614L409.5 614.1L409.8 612.7L410 613.1L410.2 611.3L410.5 612.2L410.8 609.5L411 610.4L411.2 607.3L411.5 608.8L411.8 606.3L412 609.5L412.2 606.4L412.5 610L412.8 605.6L413 608.6L413.2 604L413.5 607.4L413.8 602.7L414 607L414.2 601.7L414.5 606.6L414.8 600.7L415 606.4L415.2 600.3L415.5 605.6L415.8 599.8L416 604.1L416.2 599L416.5 602.8L416.8 598.1L417 602.8L417.2 597.7L417.5 602.9L417.8 597L418 602.5L418.2 596.4L418.5 602.1L418.8 595.8L419 601.8L419.2 595.3L419.5 601.4L419.8 594.5L420 600.4L420.2 593.5L420.5 599.8L420.8 593.2L421 599.2L421.2 593.2L421.5 598.6L421.8 593.6L422 598.8L422.2 593.8L422.5 599.4L422.8 593.6L423 599.4L423.2 593.1L423.5 599.3L423.8 592.3L424 598.2L424.2 591.2L424.5 597L424.8 590.8L425 597.5L425.2 591.3L425.5 598L425.8 591.4L426 597.8L426.2 591.2L426.5 597.8L426.8 591.3L427 597.2L427.2 591L427.5 596.7L427.8 591.2L428 597.4L428.2 591.8L428.5 598.2L428.8 591.9L429 598L429.2 591.7L429.5 597.8L429.8 591.6L430 598L430.2 591.7L430.5 598L430.8 592L431 597.7L431.2 592.1L431.5 597.3L431.8 592.8L432 598.4L432.2 593.6L432.5 599.6L432.8 593.6L433 599.2L433.2 593L433.5 598.5L433.8 592.6L434 597.8L434.2 592.2L434.5 597L434.8 592.3L435 597.9L435.2 592.9L435.5 598.8L435.8 593.3L436 599.4L436.2 593.6L436.5 599.9L436.8 593.7L437 599.9L437.2 593.6L437.5 600L437.8 594.2L438 601.2L438.2 595.5L438.5 602.4L438.8 595.9L439 601.8L439.2 595.8L439.5 601.1L439.8 596L440 601.4L440.2 596.7L440.5 601.8L440.8 597L441 602.2L441.2 597.4L441.5 602.6L441.8 597.8L442 602.9L442.2 598.2L442.5 603.3L442.8 598.3L443 602.8L443.2 597.8L443.5 602.4L443.8 597.6L444 602.7L444.2 597.7L444.5 602.9L444.8 598.3L445 603.4L445.2 599.3L445.5 604.3L445.8 600.6L446 605.7L446.2 601.6L446.5 607.2L446.8 602.3L447 607.9L447.2 602.7L447.5 608.4L447.8 603.5L448 609.3L448.2 604.7L448.5 610.1L448.8 605.2L449 610.8L449.2 605.1L449.5 611.4L449.8 605.5L450 612.9L450.2 607L450.5 614.4L450.8 608.4L451 615.1L451.2 609.4L451.5 616.1L451.8 610.4L452 617.4L452.2 611.4L452.5 618.7L452.8 612.6L453 620.2L453.2 614L453.5 621.6L453.8 615.2L454 622.9L454.2 616.4L454.5 623.9L454.8 617.9L455 624.9L455.2 619L455.5 625.3L455.8 619.5L456 625.7L456.2 619.4L456.5 626L456.8 619.9L457 627.5L457.2 621.1L457.5 628.7L457.8 622.1L458 629.2L458.2 622.8L458.5 629.7L458.8 623.6L459 630.5L459.2 624.6L459.5 631.4L459.8 625.5L460 631.8L460.2 626.5L460.5 632.1L460.8 627.4L461 632.3L461.2 628.1L461.5 633L461.8 628.7L462 634.2L462.2 629.4L462.5 635.5L462.8 630.5L463 636.4L463.2 631.7L463.5 637.3L463.8 632.6L464 637.6L464.2 632.9L464.5 638.2L464.8 633.2L465 639L465.2 633.5L465.5 639.7L465.8 634L466 640.5L466.2 634.7L466.5 641.4L466.8 635.5L467 642.5L467.2 636.6L467.5 643.4L467.8 637.2L468 643.6L468.2 637.4L468.5 643.8L468.8 637.9L469 644.8L469.2 638.7L469.5 645.8L469.8 639.6L470 646.1L470.2 640.5L470.5 646.3L470.8 641.3L471 646.4L471.2 641.6L471.5 646.7L471.8 642.5L472 648.2L472.2 643.8L472.5 649.8L472.8 644.7L473 650.7L473.2 645.2L473.5 651.7L473.8 645.5L474 651.8L474.2 646.1L474.5 651.7L474.8 646.8L475 652.1L475.2 647.7L475.5 652.7L475.8 648.3L476 653.5L476.2 649.1L476.5 654.4L476.8 649.9L477 655.6L477.2 650.7L477.5 656.9L477.8 651L478 657.2L478.2 650.8L478.5 657.5L478.8 651.3L479 659.2L479.2 652.5L479.5 660.7L479.8 653.7L480 660.8L480.2 654.6L480.5 660.9L480.8 654.9L481 660.6L481.2 654L481.5 660.4L481.8 654L482 662.1L482.2 655.2L482.5 663L482.8 656.7L483 663.4L483.2 658.1L483.5 663.8L483.8 658.9L484 664.3L484.2 659.2L484.5 664.8L484.8 659.7L485 666L485.2 660.5L485.5 667.5L485.8 660.8L486 668.3L486.2 660.7L486.5 668.9L486.8 661.4L487 669.4L487.2 662.3L487.5 669.9L487.8 663L488 670.1L488.2 663.5L488.5 670.4L488.8 663.9L489 670.5L489.2 664L489.5 670.8L489.8 664.7L490 672.4L490.2 666L490.5 674L490.8 666.8L491 674.2L491.2 667.1L491.5 674.3L491.8 667.9L492 675.5L492.2 669.5L492.5 676.5L492.8 670.8L493 676.5L493.2 671.6L493.5 676.9L493.8 672.2L494 679L494.2 673.2L494.5 681.1L494.8 673.5L495 681L495.2 673.1L495.5 680.3L495.8 672.7L496 679.8L496.2 672.5L496.5 679.1L496.8 673.6L497 680.5L497.2 675.8L497.5 682L497.8 676.8L498 681.8L498.2 676.5L498.5 681.7L498.8 676.7L499 682.4L499.2 677L499.5 683.5L499.8 676.9L500 684.2L500.2 676.7L500.5 684.6L500.8 676.9L501 683.5L501.2 676.7L501.5 682.4L501.8 676.9L502 682.4L502.2 677L502.5 682.7L502.8 677.4L503 683.6L503.2 678.2L503.5 684.6L503.8 678.6L504 684.2L504.2 678.3L504.5 683.8L504.8 678.3L505 683.7L505.2 678.5L505.5 683.6L505.8 679L506 684.3L506.2 679.4L506.5 685.5L506.8 679.6L507 686.5L507.2 679.6L507.5 687.1L507.8 680.4L508 687.1L508.2 681.4L508.5 687.1L508.8 682L509 687.1L509.2 681.3L509.5 687.3L509.8 680.8L510 688L510.2 680.7L510.5 688L510.8 681.2L511 688.4L511.2 682L511.5 688.7L511.8 682.5L512 688.7L512.2 682.8L512.5 688.6L512.8 683.2L513 689L513.2 683.4L513.5 689.7L513.8 683.1L514 689.4L514.2 682.3L514.5 689.1L514.8 682.8L515 690.3L515.2 684.2L515.5 691.6L515.8 684.5L516 690.6L516.2 683.7L516.5 689.5L516.8 683.9L517 690.3L517.2 685L517.5 691.2L517.8 685.6L518 691.1L518.2 685.7L518.5 691L518.8 685.3L519 690.6L519.2 684.6L519.5 690.2L519.8 684.3L520 690.6L520.2 684.4L520.5 691L520.8 684.3L521 691.1L521.2 683.9L521.5 691L521.8 684.2L522 691.5L522.2 684.8L522.5 692L522.8 685.2L523 692.3L523.2 685.3L523.5 692.8L523.8 685.1L524 692.8L524.2 684.9L524.5 692.3L524.8 685.3L525 692.2L525.2 685.8L525.5 692.1L525.8 686L526 691.6L526.2 685.8L526.5 691.2L526.8 686.1L527 691.7L527.2 686.5L527.5 692.5L527.8 686.5L528 692.7L528.2 686.3L528.5 692.9L528.8 686.1L529 692.8L529.2 685.8L529.5 692.6L529.8 685.5L530 692.6L530.2 685.1L530.5 692.4L530.8 685L531 693.1L531.2 685.5L531.5 693.7L531.8 685.4L532 692.8L532.2 684.6L532.5 692L532.8 684.4L533 691.7L533.2 684.6L533.5 691.5L533.8 684.7L534 691.1L534.2 684.5L534.5 691L534.8 684.4L535 691.4L535.2 684.5L535.5 691.6L535.8 684.5L536 691.4L536.2 684.2L536.5 691.1L536.8 683.8L537 690.6L537.2 683L537.5 690.1L537.8 682.6L538 690.4L538.2 682.7L538.5 690L538.8 683.2L539 689.3L539.2 683.5L539.5 688.5L539.8 683.8L540 688.9L540.2 684.1L540.5 689.2L540.8 684.4L541 689.6L541.2 684.3L541.5 690.3L541.8 683.7L542 690.4L542.2 682.8L542.5 690L542.8 682.9L543 689.3L543.2 683.2L543.5 688.5L543.8 683.4L544 688.4L544.2 683L544.5 688.7L544.8 682.2L545 688.4L545.2 681.4L545.5 687.5L545.8 681.4L546 687.3L546.2 681.8L546.5 687L546.8 681.6L547 687.2L547.2 680.9L547.5 687.3L547.8 680.6L548 688.1L548.2 681.4L548.5 688.2L548.8 681.8L549 687.3L549.2 681.7L549.5 686.7L549.8 681L550 686.4L550.2 680.1L550.5 686L550.8 679.7L551 686.4L551.2 680.1L551.5 686.7L551.8 680.1L552 686.3L552.2 679.8L552.5 685.8L552.8 679.9L553 685.9L553.2 680.2L553.5 685.9L553.8 680.2L554 685.1L554.2 679.8L554.5 684.4L554.8 679.5L555 684.1L555.2 679.3L555.5 683.9L555.8 679.2L556 684.1L556.2 679.3L556.5 684.4L556.8 679L557 684.7L557.2 678.5L557.5 685L557.8 678.3L558 685.4L558.2 678.6L558.5 685.7L558.8 678.4L559 685.1L559.2 677.9L559.5 684.6L559.8 677.4L560 684.6L560.2 677.1L560.5 684.5L560.8 676.9L561 684.6L561.2 676.9L561.5 684.7L561.8 676.6L562 684L562.2 676.4L562.5 682.8L562.8 676.7L563 682.2L563.2 677.3L563.5 682.2L563.8 677L564 682.9L564.2 676.7L564.5 683.7L564.8 676L565 683.2L565.2 675.2L565.5 682.4L565.8 675L566 683L566.2 675.7L566.5 683.1L566.8 676.2L567 681.9L567.2 676.1L567.5 680.7L567.8 675.9L568 681L568.2 675.8L568.5 681.2L568.8 675.6L569 681.6L569.2 675.5L569.5 682.1L569.8 675.1L570 682.2L570.2 674.4L570.5 682L570.8 674L571 681.2L571.2 673.5L571.5 680.4L571.8 673.2L572 679.8L572.2 673.2L572.5 679.2L572.8 673.7L573 679.3L573.2 674.3L573.5 679.7L573.8 674.3L574 679.1L574.2 673.7L574.5 678.5L574.8 673.4L575 678.5L575.2 673.6L575.5 678.4L575.8 673.7L576 678.6L576.2 673.5L576.5 679.3L576.8 672.9L577 679.3L577.2 672L577.5 679.1L577.8 671.7L578 678.7L578.2 671.6L578.5 678.3L578.8 671.4L579 677.8L579.2 671.3L579.5 677.2L579.8 671.6L580 677.2L580.2 672L580.5 677.7L580.8 672.2L581 678.6L581.2 672.6L581.5 679.6L581.8 672.2L582 678.6L582.2 670.8L582.5 677.6L582.8 670L583 677.4L583.2 669.9L583.5 676.9L583.8 670.2L584 677L584.2 670.8L584.5 677L584.8 671.2L585 677.4L585.2 671.7L585.5 677.7L585.8 671.6L586 677.1L586.2 670.8L586.5 676.6L586.8 670.3L587 676.7L587.2 670L587.5 676.7L587.8 669.8L588 676.7L588.2 669.6L588.5 676.7L588.8 669.6L589 676.4L589.2 669.8L589.5 676.1L589.8 669.8L590 675.3L590.2 669.4L590.5 674.7L590.8 669.2L591 674.2L591.2 669.1L591.5 673.9L591.8 669.2L592 674.2L592.2 669.5L592.5 674.5L592.8 670L593 675.1L593.2 670.6L593.5 675.7L593.8 670.2L594 674.4L594.2 668.9L594.5 673.2L594.8 668.4L595 673.7L595.2 668.7L595.5 674.2L595.8 668.6L596 674.5L596.2 668.2L596.5 674.8L596.8 667.7L597 674.8L597.2 667.7L597.5 674.3L597.8 668.1L598 674.2L598.2 668.6L598.5 674.2L598.8 668.5L599 674.2L599.2 668L599.5 674.1L599.8 667.9L600 674.7L600.2 668.2L600.5 675.4L600.8 667.9L601 675L601.2 667.3L601.5 674.3L601.8 667.1L602 673.9L602.2 667L602.5 673.5L602.8 667.2L603 673.8L603.2 667.6L603.5 674.3L603.8 668L604 674.5L604.2 668.4L604.5 674.6L604.8 669.1L605 675.3L605.2 670.1L605.5 676L605.8 670L606 674.9L606.2 669L606.5 673.9L606.8 668.9L607 674.5L607.2 669.6L607.5 675.2L607.8 669.4L608 674.1L608.2 668.4L608.5 673.1L608.8 668.2L609 674L609.2 669L609.5 675L609.8 669.6L610 675L610.2 669.9L610.5 675.1L610.8 669.9L611 674.4L611.2 669.4L611.5 673.8L611.8 669.3L612 674L612.2 669.6L612.5 674.5L612.8 669.1L613 674.5L613.2 668.2L613.5 674.5L613.8 667.6L614 674.3L614.2 667.9L614.5 673.9L614.8 668.3L615 673.7L615.2 668.6L615.5 674.2L615.8 668.6L616 675L616.2 668.7L616.5 675.8L616.8 668.4L617 675L617.2 667.9L617.5 674.1L617.8 668.3L618 675.1L618.2 669.7L618.5 676L618.8 670.3L619 675.2L619.2 670.1L619.5 674.7L619.8 669.5L620 674.9L620.2 669.2L620.5 675.2L620.8 669.2L621 676.1L621.2 669.6L621.5 677L621.8 669.6L622 677L622.2 669.3L622.5 676.6L622.8 670L623 677.3L623.2 671.2L623.5 678L623.8 671.2L624 676.8L624.2 670.2L624.5 675.6L624.8 669.9L625 676L625.2 670.1L625.5 676.7L625.8 670L626 677L626.2 669.6L626.5 677L626.8 670.3L627 677.2L627.2 671.5L627.5 677.4L627.8 672L628 676.6L628.2 671.4L628.5 676.1L628.8 671L629 676L629.2 670.8L629.5 676.3L629.8 670.3L630 676.4L630.2 669.8L630.5 676.6L630.8 669.8L631 677L631.2 670.4L631.5 677.4L631.8 671L632 678.1L632.2 671.8L632.5 678.6L632.8 672.2L633 678.3L633.2 672.2L633.5 678L633.8 672.6L634 678.7L634.2 673.5L634.5 679.4L634.8 673.6L635 678.5L635.2 673L635.5 677.5L635.8 673.1L636 677.9L636.2 673.8L636.5 678.6L636.8 674L637 678.4L637.2 673.8L637.5 678.3L637.8 673.8L638 679.2L638.2 674.1L638.5 680L638.8 674.2L639 680.2L639.2 674.4L639.5 680L639.8 674.9L640 679.9L640.2 675.3L640.5 679.9L640.8 675L641 679.7L641.2 674.4L641.5 679.3L641.8 674.5L642 680L642.2 675.8L642.5 680.7L642.8 676.3L643 679.8L643.2 675.8L643.5 679.1L643.8 675.4L644 679.5L644.2 675.7L644.5 679.9L644.8 676L645 680L645.2 676.4L645.5 680.1L645.8 676.9L646 680.4L646.2 677.4L646.5 680.6L646.8 678.3L647 681.8L647.2 679.8L647.5 683L647.8 680.6L648 683.1L648.2 680.8L648.5 683.1L648.8 680.9L649 682.7L649.2 680.6L649.5 682.4L649.8 680.1L650 681.7L650.2 679.6L650.5 681L650.8 679.8L651 681.8L651.2 681L651.5 682.8L651.8 681.4L652 682.5L652.2 681.2L652.5 682.2L652.8 680.6L653 681L653.2 679.3L653.5 679.7L653.8 679.4L654 681.2L654.2 680.8L654.5 682.6L654.8 682L655 683.4L655.2 683.1L655.5 684.3L655.8 683.6L656 683.9L656.2 683.3L656.5 683.4L656.8 683.5L657 684.1L657.2 684.3L657.5 684.7L657.8 685.4L658 686.2L658.2 686.9L658.5 687.6L658.8 687.6L659 687.7L659.2 687.7L659.5 687.7L659.8 686.5L660 685.3L660.2 684.1L660.5 682.9L660.8 683.9L661 684.8L661.2 685.8L661.5 686.7L661.8 686.6L662 686.5L662.2 686.5L662.5 686.6L662.8 686.8L663 687.1L663.2 687.3L663.5 687.6L663.8 687.4L664 687.2L664.2 687L664.5 686.8L664.8 687.2L665 687.7L665.2 688.1L665.5 688.6L665.8 687.8L666 687.1L666.2 686.3L666.5 685.5L666.8 686.3L667 687.1L667.2 687.9L667.5 688.7L667.8 689.2L668 689.7L668.2 690.2L668.5 690.7L668.8 690.1L669 689.5L669.2 688.9L669.5 688.3L669.8 688.7L670 689.1L670.2 689.5L670.5 689.9L670.8 689.9L671 690L671.2 690L671.5 690L671.8 690.5L672 690.9L672.2 691.4L672.5 691.8L672.8 692.3L673 692.7L673.2 693.1L673.5 693.5L673.8 693.1L674 692.7L674.2 692.2L674.5 691.8L674.8 692.7L675 693.6L675.2 694.4L675.5 695.2L675.8 694.3L676 693.5L676.2 692.6L676.5 691.8L676.8 692.3L677 692.7L677.2 693.1L677.5 693.6L677.8 693.5L678 693.4L678.2 693.3L678.5 693.2L678.8 692.6L679 692.1L679.2 691.6L679.5 691L679.8 691.1L680 691.2L680.2 691.3L680.5 691.3L680.8 691.6L681 691.9L681.2 692.2L681.5 692.5L681.8 692.2L682 691.9L682.2 691.5L682.5 691.2L682.8 691.2L683 691.1L683.2 691L683.5 691L683.8 691.4L684 691.7L684.2 692.1L684.5 692.5L684.8 692.2L685 691.9L685.2 691.7L685.5 691.4L685.8 691.9L686 692.3L686.2 692.7L686.5 693.2L686.8 693.1L687 693.1L687.2 693.1L687.5 693.1L687.8 693.4L688 693.7L688.2 693.9L688.5 694.1L688.8 694.2L689 694.3L689.2 694.3L689.5 694.4L689.8 693.7L690 692.9L690.2 692.2L690.5 691.5L690.8 691.8L691 692.1L691.2 692.4L691.5 692.6L691.8 692.9L692 693.2L692.2 693.5L692.5 693.7L692.8 694.4L693 695L693.2 695.6L693.5 696.2L693.8 695.8L694 695.4L694.2 695L694.5 694.6L694.8 694.8L695 695L695.2 695.3L695.5 695.5L695.8 695.5L696 695.6L696.2 695.7L696.5 695.7L696.8 696.6L697 697.4L697.2 698.2L697.5 699.1L697.8 698.6L698 698.2L698.2 697.8L698.5 697.4L698.8 697.7L699 698L699.2 698.3L699.5 698.6L699.8 698.7L700 698.9L700.2 699.1L700.5 699.2L700.8 698.9L701 698.6L701.2 698.3L701.5 698L701.8 698.1L702 698.1L702.2 698.2L702.5 698.3L702.8 698.1L703 697.9L703.2 697.7L703.5 697.5L703.8 697.6L704 697.6L704.2 697.6L704.5 697.7L704.8 697.6L705 697.5L705.2 697.5L705.5 697.4L705.8 696.9L706 696.4L706.2 695.9L706.5 695.4L706.8 695.6L707 695.9L707.2 696.1L707.5 696.4L707.8 695.6L708 694.9L708.2 694.2L708.5 693.4L708.8 693.3L709 693.2L709.2 693.2L709.5 693.1L709.8 692.7L710 692.4L710.2 692L710.5 691.7L710.8 691.3L711 690.9L711.2 690.5L711.5 690.1L711.8 690L712 689.9L712.2 689.8L712.5 689.7L712.8 689.5L713 689.3L713.2 689.2L713.5 689L713.8 688.5L714 688L714.2 687.5L714.5 686.9L714.8 686.9L715 686.8L715.2 686.7L715.5 686.6L715.8 686.2L716 685.7L716.2 685.2L716.5 684.7L716.8 684.8L717 684.8L717.2 684.9L717.5 684.9L717.8 684.3L718 683.8L718.2 683.2L718.5 682.6L718.8 682.4L719 682.2L719.2 682L719.5 681.8L719.8 681.7L720 681.5L720.2 681.4L720.5 681.2L720.8 681.3L721 681.3L721.2 681.4L721.5 681.4L721.8 681.4L722 681.3L722.2 681.3L722.5 681.3L722.8 680.6L723 680L723.2 679.3L723.5 678.7L723.8 678.8L724 679L724.2 679.1L724.5 679.2L724.8 679.1L725 678.9L725.2 678.7L725.5 678.4L725.8 678L726 677.6L726.2 677.1L726.5 676.7L726.8 676.7L727 676.6L727.2 676.6L727.5 676.5L727.8 676.3L728 676.1L728.2 675.9L728.5 675.6L728.8 675.3L729 674.9L729.2 674.6L729.5 674.2L729.8 673.8L730 673.3L730.2 672.9L730.5 672.5L730.8 672.7L731 672.9L731.2 673.1L731.5 673.3L731.8 673.1L732 672.8L732.2 672.6L732.5 672.3L732.8 672.2L733 672.1L733.2 672L733.5 671.9L733.8 671.7L734 671.6L734.2 671.5L734.5 671.3L734.8 671.4L735 671.4L735.2 671.5L735.5 671.5L735.8 670.9L736 670.3L736.2 669.6L736.5 668.9L736.8 668.8L737 668.7L737.2 668.7L737.5 668.6L737.8 668.2L738 667.7L738.2 667.3L738.5 666.9L738.8 666.4L739 666L739.2 665.6L739.5 665.1L739.8 664.8L740 664.4L740.2 664L740.5 663.7L740.8 663.3L741 663L741.2 662.6L741.5 662.3L741.8 661.9L742 661.5L742.2 661.1L742.5 660.7L742.8 660.9L743 661L743.2 661.1L743.5 661.3L743.8 661L744 660.7L744.2 660.4L744.5 660.1L744.8 659.6L745 659.1L745.2 658.5L745.5 658L745.8 658L746 657.9L746.2 657.9L746.5 657.9L746.8 657.4L747 657L747.2 656.6L747.5 656.2L747.8 655.8L748 655.5L748.2 655.1L748.5 654.8L748.8 654.3L749 653.9L749.2 653.4L749.5 653L749.8 652.7L750 652.4L750.2 652L750.5 651.7L750.8 651.6L751 651.5L751.2 651.4L751.5 651.4L751.8 651L752 650.7L752.2 650.3L752.5 650L752.8 649.6L753 649.2L753.2 648.7L753.5 648.3L753.8 648.2L754 648.1L754.2 648L754.5 647.9L754.8 647.4L755 647L755.2 646.6L755.5 646.1L755.8 645.5L756 644.8L756.2 644.2L756.5 643.5L756.8 643.6L757 643.7L757.2 643.8L757.5 643.9L757.8 643.2L758 642.6L758.2 642L758.5 641.4L758.8 641.5L759 641.5L759.2 641.5L759.5 641.6L759.8 640.8L760 640L760.2 639.2L760.5 638.4L760.8 637.9L761 637.4L761.2 636.8L761.5 636.3L761.8 636.4L762 636.6L762.2 636.6L762.5 636.7L762.8 636.5L763 636.3L763.2 636.1L763.5 635.9L763.8 635.2L764 634.5L764.2 633.8L764.5 633.1L764.8 632.8L765 632.4L765.2 632.2L765.5 631.9L765.8 632L766 632.1L766.2 632.2L766.5 632.2L766.8 631.8L767 631.4L767.2 631L767.5 630.6L767.8 630.4L768 630.1L768.2 629.9L768.5 629.6L768.8 629.2L769 628.8L769.2 628.4L769.5 627.9L769.8 627.6L770 627.3L770.2 627L770.5 626.8L770.8 626.4L771 626L771.2 625.7L771.5 625.3L771.8 625.1L772 624.8L772.2 624.6L772.5 624.4L772.8 624.3L773 624.2L773.2 624L773.5 623.9L773.8 623.7L774 623.5L774.2 623.3L774.5 623.1L774.8 623.1L775 623L775.2 622.9L775.5 622.8L775.8 622.5L776 622.2L776.2 621.8L776.5 621.5L776.8 621L777 620.5L777.2 620L777.5 619.6L777.8 619.3L778 619L778.2 618.7L778.5 618.4L778.8 618.1L779 617.8L779.2 617.6L779.5 617.3L779.8 617L780 616.6L780.2 616.2L780.5 615.8L780.8 615.9L781 615.9L781.2 615.9L781.5 615.9L781.8 615.3L782 614.7L782.2 614.2L782.5 613.6L782.8 613.4L783 613.2L783.2 613L783.5 612.8L783.8 612.4L784 612L784.2 611.6L784.5 611.1L784.8 610.8L785 610.6L785.2 610.3L785.5 610L785.8 610L786 610L786.2 610L786.5 610L786.8 609.8L787 609.6L787.2 609.4L787.5 609.2L787.8 608.9L788 608.6" fill="none" stroke="#3a7d3c" stroke-width="2.3" stroke-linejoin="round" stroke-linecap="butt"/>
<path d="M77.5 597.5L79.75 604.41L87.01 604.41L81.13 608.68L83.38 615.59L77.5 611.32L71.62 615.59L73.87 608.68L67.99 604.41L75.25 604.41Z" fill="none" stroke="#3a7d3c" stroke-width="1.15" stroke-linejoin="miter"/>
<path d="M132.44 617.09L134.68 624L141.95 624L136.07 628.27L138.32 635.18L132.44 630.91L126.56 635.18L128.8 628.27L122.93 624L130.19 624Z" fill="none" stroke="#3a7d3c" stroke-width="1.15" stroke-linejoin="miter"/>
<path d="M187.38 606.24L189.62 613.15L196.89 613.15L191.01 617.42L193.25 624.33L187.38 620.06L181.5 624.33L183.74 617.42L177.86 613.15L185.13 613.15Z" fill="none" stroke="#3a7d3c" stroke-width="1.15" stroke-linejoin="miter"/>
<path d="M242.31 602.84L244.56 609.75L251.82 609.75L245.95 614.02L248.19 620.93L242.31 616.66L236.43 620.93L238.68 614.02L232.8 609.75L240.07 609.75Z" fill="none" stroke="#3a7d3c" stroke-width="1.15" stroke-linejoin="miter"/>
<path d="M297.25 602.5L299.5 609.41L306.76 609.41L300.88 613.68L303.13 620.59L297.25 616.32L291.37 620.59L293.62 613.68L287.74 609.41L295 609.41Z" fill="none" stroke="#3a7d3c" stroke-width="1.15" stroke-linejoin="miter"/>
<path d="M352.19 601.21L354.43 608.12L361.7 608.12L355.82 612.39L358.07 619.3L352.19 615.03L346.31 619.3L348.55 612.39L342.68 608.12L349.94 608.12Z" fill="none" stroke="#3a7d3c" stroke-width="1.15" stroke-linejoin="miter"/>
<path d="M407.12 603.69L409.37 610.6L416.64 610.6L410.76 614.87L413 621.78L407.12 617.51L401.25 621.78L403.49 614.87L397.61 610.6L404.88 610.6Z" fill="none" stroke="#3a7d3c" stroke-width="1.15" stroke-linejoin="miter"/>
<path d="M462.06 621.84L464.31 628.75L471.57 628.75L465.7 633.02L467.94 639.93L462.06 635.66L456.18 639.93L458.43 633.02L452.55 628.75L459.82 628.75Z" fill="none" stroke="#3a7d3c" stroke-width="1.15" stroke-linejoin="miter"/>
<path d="M517 677.31L519.25 684.22L526.51 684.22L520.63 688.49L522.88 695.4L517 691.13L511.12 695.4L513.37 688.49L507.49 684.22L514.75 684.22Z" fill="none" stroke="#3a7d3c" stroke-width="1.15" stroke-linejoin="miter"/>
<path d="M571.94 667.3L574.18 674.21L581.45 674.21L575.57 678.48L577.82 685.39L571.94 681.12L566.06 685.39L568.3 678.48L562.43 674.21L569.69 674.21Z" fill="none" stroke="#3a7d3c" stroke-width="1.15" stroke-linejoin="miter"/>
<path d="M626.88 663.62L629.12 670.53L636.39 670.53L630.51 674.81L632.75 681.72L626.88 677.45L621 681.72L623.24 674.81L617.36 670.53L624.63 670.53Z" fill="none" stroke="#3a7d3c" stroke-width="1.15" stroke-linejoin="miter"/>
<path d="M681.81 682.5L684.06 689.41L691.32 689.41L685.45 693.68L687.69 700.59L681.81 696.32L675.93 700.59L678.18 693.68L672.3 689.41L679.57 689.41Z" fill="none" stroke="#3a7d3c" stroke-width="1.15" stroke-linejoin="miter"/>
<path d="M736.75 659.09L739 666L746.26 666L740.38 670.27L742.63 677.18L736.75 672.91L730.87 677.18L733.12 670.27L727.24 666L734.5 666Z" fill="none" stroke="#3a7d3c" stroke-width="1.15" stroke-linejoin="miter"/>
<path d="M77.5 607.5L77.8 607.3L78 607.1L78.2 607L78.5 606.8L78.8 607.1L79 607.4L79.2 607.7L79.5 608L79.8 607.8L80 607.7L80.2 607.5L80.5 607.3L80.8 607.3L81 607.2L81.2 607.2L81.5 607.2L81.8 607.1L82 607L82.2 607L82.5 606.9L82.8 607.2L83 607.5L83.2 607.8L83.5 608.2L83.8 607.9L84 607.5L84.2 607.2L84.5 606.9L84.8 607.2L85 607.5L85.2 607.9L85.5 608.2L85.8 608L86 607.8L86.2 607.6L86.5 607.4L86.8 607.6L87 607.7L87.2 607.9L87.5 608L87.8 608L88 608L88.2 607.9L88.5 607.9L88.8 608.1L89 608.2L89.2 608.4L89.5 608.5L89.8 608.5L90 608.6L90.2 608.6L90.5 608.6L90.8 608.1L91 607.6L91.2 607.1L91.5 606.6L91.8 607.1L92 607.6L92.2 608.1L92.5 608.6L92.8 608.6L93 608.5L93.2 608.5L93.5 608.5L93.8 608.6L94 608.7L94.2 608.8L94.5 609L94.8 609.1L95 609.3L95.2 609.7L95.5 610L95.8 609.4L96 608.7L96.2 608L96.5 607.3L96.8 608.5L97 609.7L97.2 610.9L97.5 612.2L97.8 611.3L98 610.4L98.2 609.5L98.5 608.5L98.8 609L99 609.5L99.2 610L99.5 610.5L99.8 611L100 611.5L100.2 612L100.5 612.5L100.8 612.9L101 613.3L101.2 613.7L101.5 614.2L101.8 614.2L102 614.2L102.2 614.2L102.5 614.3L102.8 614.4L103 614.6L103.2 614.8L103.5 615L103.8 615.3L104 615.7L104.2 616L104.5 616.4L104.8 616.1L105 615.8L105.2 615.6L105.5 615.3L105.8 615.9L106 616.6L106.2 617.3L106.5 617.9L106.8 619L107 620.2L107.2 621.3L107.5 622.5L107.8 621.2L108 619.8L108.2 618.5L108.5 617.1L108.8 618.2L109 619.3L109.2 620.4L109.5 621.5L109.8 621.9L110 622.3L110.2 622.2L110.5 622.2L110.8 621.8L111 621.4L111.2 621L111.5 620.6L111.8 620.7L112 620.8L112.2 620.9L112.5 621L112.8 620.9L113 620.9L113.2 620.8L113.5 620.8L113.8 620.5L114 620.9L114.2 621.3L114.5 621.7L114.8 622.2L115 622.7L115.2 623.2L115.5 623.7L115.8 623.9L116 624L116.2 624.1L116.5 624.2L116.8 625.2L117 626.2L117.2 627.3L117.5 628.3L117.8 628.3L118 628.3L118.2 628.4L118.5 628.4L118.8 628.7L119 628.4L119.2 628L119.5 627.7L119.8 628.5L120 629.4L120.2 630.3L120.5 631.2L120.8 630.1L121 629L121.2 627.9L121.5 626.8L121.8 626.6L122 626.5L122.2 626.4L122.5 626.3L122.8 626.1L123 625.9L123.2 625.7L123.5 625.5L123.8 626.6L124 627.7L124.2 628.7L124.5 629.8L124.8 629.6L125 629.4L125.2 629.2L125.5 629L125.8 629.4L126 629.8L126.2 630.1L126.5 630.5L126.8 631.2L127 631.9L127.2 632.7L127.5 633.4L127.8 632.6L128 631.9L128.2 631.1L128.5 630.4L128.8 629.3L129 628.2L129.2 627L129.5 626L129.8 625.8L130 625.5L130.2 625.3L130.5 625.1L130.8 624.4L131 623.8L131.2 623.1L131.5 622.9L131.8 622.5L132 622.2L132.2 621.9L132.5 621.5L132.8 621.1L133 620.7L133.2 620.2L133.5 619.7L133.8 620L134 620.2L134.2 620.5L134.5 620.8L134.8 619.9L135 619L135.2 618.1L135.5 617.3L135.8 617.8L136 618.3L136.2 618.9L136.5 619.4L136.8 619.1L137 619L137.2 618.8L137.5 618.6L137.8 618.2L138 617.7L138.2 617.3L138.5 616.8L138.8 616.9L139 616.9L139.2 616.9L139.5 617L139.8 618.2L140 619.4L140.2 620.6L140.5 621.7L140.8 620L141 618.3L141.2 616.6L141.5 614.9L141.8 615.5L142 616.1L142.2 616.7L142.5 617.3L142.8 617L143 616.7L143.2 616.4L143.5 616.1L143.8 616.3L144 616.4L144.2 616.6L144.5 616.9L144.8 616.8L145 616.7L145.2 616.6L145.5 616.6L145.8 616.8L146 617L146.2 617.2L146.5 617.4L146.8 617.3L147 617.3L147.2 617.2L147.5 617.1L147.8 616.9L148 616.5L148.2 616.1L148.5 615.8L148.8 615.2L149 614.6L149.2 614L149.5 613.5L149.8 613.7L150 614L150.2 614.3L150.5 614.6L150.8 614.7L151 614.9L151.2 615.1L151.5 615.3L151.8 615.2L152 615.1L152.2 615L152.5 614.9L152.8 615.1L153 615.2L153.2 615.3L153.5 615.5L153.8 614.9L154 614.4L154.2 613.9L154.5 613.3L154.8 612.9L155 612.5L155.2 612.1L155.5 611.7L155.8 611.8L156 612L156.2 612.1L156.5 612.3L156.8 612.5L157 612.8L157.2 613L157.5 613.2L157.8 613.4L158 613.6L158.2 613.8L158.5 614L158.8 614L159 613.9L159.2 613.9L159.5 613.9L159.8 613.8L160 613.6L160.2 613.6L160.5 613.5L160.8 612.8L161 612.1L161.2 611.4L161.5 610.7L161.8 611L162 611.3L162.2 611.6L162.5 611.9L162.8 612.2L163 612.5L163.2 612.8L163.5 613.1L163.8 613L164 612.9L164.2 612.8L164.5 612.7L164.8 612.9L165 613L165.2 613.2L165.5 613.3L165.8 612.6L166 611.8L166.2 611.1L166.5 610.4L166.8 611L167 611.6L167.2 612.3L167.5 612.9L167.8 611.7L168 610.5L168.2 609.3L168.5 608.2L168.8 608.9L169 609.7L169.2 610.5L169.5 611.3L169.8 611.5L170 611.7L170.2 611.7L170.5 611.8L170.8 611.6L171 611.3L171.2 611.1L171.5 610.8L171.8 611.1L172 611.4L172.2 611.7L172.5 612.1L172.8 611.5L173 611L173.2 610.5L173.5 610L173.8 609.9L174 610L174.2 610L174.5 610.1L174.8 610.2L175 610.4L175.2 610.6L175.5 610.8L175.8 610.2L176 609.7L176.2 609.1L176.5 608.5L176.8 609.3L177 610.1L177.2 610.9L177.5 611.6L177.8 610.8L178 610.1L178.2 609.3L178.5 608.5L178.8 608.9L179 609.3L179.2 609.6L179.5 610L179.8 609.9L180 609.7L180.2 609.5L180.5 609.3L180.8 609L181 608.8L181.2 608.5L181.5 608.1L181.8 608.2L182 608.2L182.2 608.3L182.5 608.3L182.8 608.2L183 608.2L183.2 608.1L183.5 608.1L183.8 607.7L184 607.3L184.2 606.9L184.5 606.5L184.8 607.2L185 608.1L185.2 609.1L185.5 610L185.8 608.9L186 607.8L186.2 606.7L186.5 605.5L186.8 605.9L187 606.2L187.2 606.6L187.5 607L187.8 607.4L188 607.8L188.2 608.2L188.5 608.6L188.8 608.3L189 608.1L189.2 607.9L189.5 607.6L189.8 607.8L190 608L190.2 608.2L190.5 608.4L190.8 607.4L191 606.5L191.2 605.6L191.5 604.7L191.8 605.1L192 605.5L192.2 606L192.5 606.3L192.8 606.3L193 606.3L193.2 606.3L193.5 606.3L193.8 606.7L194 607L194.2 607.3L194.5 607.7L194.8 606.8L195 606L195.2 605.2L195.5 604.4L195.8 604.6L196 604.8L196.2 605L196.5 605.2L196.8 605.9L197 606.5L197.2 607.2L197.5 607.9L197.8 607.3L198 606.8L198.2 606.2L198.5 605.7L198.8 605.6L199 605.6L199.2 605.6L199.5 605.6L199.8 605.4L200 605.1L200.2 605L200.5 604.8L200.8 605.3L201 605.8L201.2 606.2L201.5 606.7L201.8 605.6L202 604.6L202.2 603.5L202.5 602.5L202.8 602.9L203 603.3L203.2 603.7L203.5 604.1L203.8 604.2L204 604.4L204.2 604.5L204.5 604.7L204.8 605L205 605.3L205.2 605.6L205.5 605.9L205.8 605.9L206 605.9L206.2 605.9L206.5 606L206.8 605.3L207 604.6L207.2 603.8L207.5 603.1L207.8 603.9L208 604.7L208.2 605.5L208.5 606.3L208.8 605.9L209 605.6L209.2 605.3L209.5 604.9L209.8 606.2L210 607.5L210.2 608.8L210.5 610.1L210.8 609.1L211 608.1L211.2 607.1L211.5 606.2L211.8 606.7L212 607.3L212.2 607.9L212.5 608.5L212.8 608.1L213 607.6L213.2 607.2L213.5 606.7L213.8 606.9L214 607.2L214.2 607.4L214.5 607.6L214.8 607.4L215 607.2L215.2 607L215.5 606.8L215.8 607.4L216 608L216.2 608.7L216.5 609.3L216.8 609.4L217 609.6L217.2 609.8L217.5 610L217.8 609.1L218 608.2L218.2 607.3L218.5 606.3L218.8 607L219 607.6L219.2 608.2L219.5 608.8L219.8 608.9L220 609L220.2 609.1L220.5 609.2L220.8 609.4L221 609.6L221.2 609.8L221.5 610L221.8 609.3L222 608.7L222.2 608.2L222.5 607.6L222.8 608.4L223 609.2L223.2 610L223.5 610.8L223.8 609.9L224 609L224.2 608.2L224.5 607.3L224.8 607.9L225 608.5L225.2 609.1L225.5 609.7L225.8 609.4L226 609.1L226.2 608.8L226.5 608.5L226.8 608.6L227 608.6L227.2 608.6L227.5 608.7L227.8 609.1L228 609.6L228.2 610L228.5 610.5L228.8 610.3L229 610L229.2 609.8L229.5 609.6L229.8 610.4L230 611.3L230.2 612.1L230.5 612.9L230.8 611.9L231 610.8L231.2 609.8L231.5 608.7L231.8 608.4L232 608.2L232.2 608L232.5 607.7L232.8 608.4L233 609L233.2 609.7L233.5 610.3L233.8 609.9L234 609.5L234.2 609.1L234.5 608.8L234.8 608.5L235 608.2L235.2 607.8L235.5 607.5L235.8 608L236 608.6L236.2 609.1L236.5 609.6L236.8 609.7L237 609.7L237.2 609.8L237.5 609.9L237.8 608.9L238 607.8L238.2 606.8L238.5 605.8L238.8 606.2L239 606.6L239.2 607L239.5 607.5L239.8 608L240 608.6L240.2 609.2L240.5 609.8L240.8 609.2L241 608.5L241.2 607.9L241.5 607.2L241.8 608.1L242 609.1L242.2 610L242.5 610.9L242.8 610.3L243 609.7L243.2 609.1L243.5 608.5L243.8 608.8L244 609L244.2 609.2L244.5 609.4L244.8 609.4L245 609.3L245.2 609.2L245.5 609.2L245.8 608.7L246 608.3L246.2 607.8L246.5 607.4L246.8 607.8L247 608.1L247.2 608.5L247.5 608.8L247.8 608.6L248 608.3L248.2 608L248.5 607.8L248.8 607.8L249 607.8L249.2 607.8L249.5 607.8L249.8 608.2L250 608.7L250.2 609.1L250.5 609.6L250.8 609.3L251 609.1L251.2 608.8L251.5 608.6L251.8 608.3L252 608.1L252.2 607.8L252.5 607.5L252.8 607.7L253 607.9L253.2 608.1L253.5 608.4L253.8 608.8L254 609.3L254.2 609.8L254.5 610.3L254.8 609.8L255 609.3L255.2 608.7L255.5 608.1L255.8 607.9L256 607.7L256.2 607.5L256.5 607.3L256.8 607.6L257 607.9L257.2 608.3L257.5 608.6L257.8 608.1L258 607.6L258.2 607L258.5 606.5L258.8 606.2L259 605.9L259.2 605.7L259.5 605.5L259.8 606.6L260 607.7L260.2 608.9L260.5 610L260.8 608.9L261 607.9L261.2 606.8L261.5 605.7L261.8 606.2L262 606.7L262.2 607.1L262.5 607.6L262.8 607.7L263 607.8L263.2 607.8L263.5 607.9L263.8 607.6L264 607.3L264.2 607L264.5 606.8L264.8 607.5L265 608.3L265.2 609.1L265.5 609.9L265.8 609.9L266 609.9L266.2 609.9L266.5 609.9L266.8 609.3L267 608.8L267.2 608.3L267.5 607.7L267.8 607L268 606.3L268.2 605.6L268.5 604.9L268.8 605.6L269 606.3L269.2 607L269.5 607.7L269.8 606.9L270 606.1L270.2 605.4L270.5 604.6L270.8 605.4L271 606.2L271.2 607.1L271.5 607.9L271.8 608L272 608.1L272.2 608.2L272.5 608.3L272.8 608.1L273 607.8L273.2 607.6L273.5 607.4L273.8 607.8L274 608.2L274.2 608.5L274.5 608.9L274.8 608.5L275 608.2L275.2 607.8L275.5 607.4L275.8 607L276 606.7L276.2 606.3L276.5 605.9L276.8 606.1L277 606.3L277.2 606.5L277.5 606.6L277.8 607.1L278 607.6L278.2 608.1L278.5 608.6L278.8 607.3L279 606L279.2 604.7L279.5 603.5L279.8 604.3L280 605.1L280.2 605.9L280.5 606.7L280.8 606.1L281 605.5L281.2 605L281.5 604.5L281.8 605.9L282 607.3L282.2 608.7L282.5 610.1L282.8 608.8L283 607.5L283.2 606.2L283.5 604.9L283.8 604.7L284 604.5L284.2 604.3L284.5 604.1L284.8 605.4L285 606.5L285.2 607.6L285.5 608.8L285.8 608.7L286 608.6L286.2 608.6L286.5 608.5L286.8 607.8L287 607.2L287.2 606.5L287.5 605.9L287.8 606.1L288 606.2L288.2 606.4L288.5 606.5L288.8 605.9L289 605.4L289.2 604.8L289.5 604.3L289.8 604.6L290 604.9L290.2 605.2L290.5 605.5L290.8 605.8L291 606.1L291.2 606.4L291.5 606.6L291.8 606.3L292 606L292.2 605.8L292.5 605.6L292.8 605.4L293 605.3L293.2 605.2L293.5 605.1L293.8 604.9L294 604.7L294.2 604.5L294.5 604.3L294.8 605L295 605.6L295.2 606.3L295.5 606.9L295.8 607.2L296 607.6L296.2 608L296.5 608.4L296.8 608.4L297 608.4L297.2 608.4L297.5 608.4L297.8 607.6L298 606.7L298.2 605.8L298.5 605L298.8 605.7L299 606.4L299.2 607.1L299.5 607.8L299.8 607.3L300 606.8L300.2 606.3L300.5 605.8L300.8 605.9L301 605.9L301.2 606L301.5 606L301.8 606.2L302 606.4L302.2 606.5L302.5 606.7L302.8 607.4L303 608.2L303.2 608.9L303.5 609.8L303.8 609L304 608.2L304.2 607.4L304.5 606.5L304.8 606.5L305 606.4L305.2 606.4L305.5 606.4L305.8 606.2L306 606.1L306.2 606L306.5 605.8L306.8 606.3L307 606.7L307.2 607.1L307.5 607.4L307.8 606.5L308 605.7L308.2 604.8L308.5 603.9L308.8 604.7L309 605.5L309.2 606.3L309.5 607.1L309.8 607.1L310 607.2L310.2 607.2L310.5 607.2L310.8 606.5L311 606L311.2 605.5L311.5 605L311.8 606.1L312 607.2L312.2 608.3L312.5 609.4L312.8 609.9L313 610.3L313.2 610.7L313.5 611.1L313.8 610.1L314 609.1L314.2 608.1L314.5 606.9L314.8 607.3L315 607.7L315.2 608.1L315.5 608.5L315.8 607.8L316 607.1L316.2 606.4L316.5 605.7L316.8 605.4L317 605.1L317.2 604.8L317.5 604.5L317.8 604.9L318 605.2L318.2 605.9L318.5 606.6L318.8 606.5L319 606.4L319.2 606.3L319.5 606.2L319.8 605.7L320 605.2L320.2 604.7L320.5 604.1L320.8 604.1L321 604.2L321.2 604.2L321.5 604.2L321.8 604.9L322 605.5L322.2 606L322.5 606.6L322.8 605.9L323 605.2L323.2 604.5L323.5 603.8L323.8 603.8L324 603.7L324.2 603.7L324.5 603.7L324.8 604L325 604.3L325.2 604.6L325.5 604.8L325.8 604.6L326 604.4L326.2 604.2L326.5 604L326.8 604.2L327 604.5L327.2 604.7L327.5 604.9L327.8 605.4L328 605.9L328.2 606.4L328.5 606.9L328.8 605.5L329 604.2L329.2 602.8L329.5 601.5L329.8 602.5L330 603.4L330.2 604.4L330.5 605.4L330.8 604.2L331 603L331.2 601.9L331.5 600.7L331.8 601.1L332 601.6L332.2 602.1L332.5 602.5L332.8 603.1L333 603.6L333.2 604.1L333.5 604.7L333.8 605.3L334 606L334.2 606.6L334.5 607.3L334.8 605.9L335 604.4L335.2 603L335.5 601.6L335.8 603.1L336 604.5L336.2 605.9L336.5 607.4L336.8 606.8L337 606.2L337.2 605.7L337.5 605.1L337.8 605.3L338 605.5L338.2 605.8L338.5 606L338.8 606.2L339 606.5L339.2 606.8L339.5 607.1L339.8 607.7L340 608.3L340.2 608.8L340.5 609.4L340.8 609.8L341 610.1L341.2 610.4L341.5 610.7L341.8 610L342 609.4L342.2 608.7L342.5 608L342.8 607.8L343 607.5L343.2 607.2L343.5 606.9L343.8 606.9L344 607L344.2 606.9L344.5 606.9L344.8 606.4L345 605.9L345.2 605.5L345.5 605L345.8 605.3L346 605.6L346.2 605.8L346.5 606.1L346.8 607.2L347 608.3L347.2 609.3L347.5 610.4L347.8 609.3L348 608.1L348.2 607L348.5 605.8L348.8 605.9L349 606L349.2 606.1L349.5 606.2L349.8 606.3L350 606.5L350.2 606.7L350.5 606.8L350.8 606.7L351 606.5L351.2 606.4L351.5 606.4L351.8 606.3L352 606.3L352.2 606.2L352.5 606.2L352.8 606.2L353 606.1L353.2 606.1L353.5 606L353.8 606.2L354 606.3L354.2 606.5L354.5 606.7L354.8 607.4L355 608.2L355.2 609L355.5 609.8L355.8 609.5L356 609.2L356.2 608.9L356.5 608.6L356.8 608.4L357 608.2L357.2 607.9L357.5 607.7L357.8 607.4L358 607L358.2 606.7L358.5 606.4L358.8 606.7L359 606.9L359.2 607.1L359.5 607.3L359.8 607.2L360 607.1L360.2 607.1L360.5 607L360.8 606.4L361 605.9L361.2 605.3L361.5 604.8L361.8 604.5L362 604.3L362.2 604.1L362.5 603.9L362.8 604.4L363 605L363.2 605.5L363.5 606.1L363.8 605.7L364 605.3L364.2 605L364.5 604.6L364.8 604.6L365 604.6L365.2 604.6L365.5 604.6L365.8 604.9L366 605.2L366.2 605.4L366.5 605.6L366.8 605.5L367 605.4L367.2 605.3L367.5 605.2L367.8 604.8L368 604.4L368.2 604L368.5 603.5L368.8 604.5L369 605.4L369.2 606.3L369.5 607.3L369.8 606.7L370 606.2L370.2 605.8L370.5 605.3L370.8 605.2L371 605.1L371.2 605L371.5 604.8L371.8 605.2L372 605.7L372.2 606.1L372.5 606.5L372.8 606.8L373 607.1L373.2 607.4L373.5 607.7L373.8 607.1L374 606.5L374.2 605.9L374.5 605.3L374.8 604.2L375 603.1L375.2 602L375.5 600.9L375.8 601.4L376 601.8L376.2 602.3L376.5 602.7L376.8 603.1L377 603.5L377.2 603.9L377.5 604.4L377.8 604.6L378 604.8L378.2 605L378.5 605.2L378.8 605.8L379 606.3L379.2 606.9L379.5 607.5L379.8 607.3L380 607L380.2 606.8L380.5 606.6L380.8 606.4L381 606.1L381.2 605.8L381.5 605.5L381.8 605.9L382 606.3L382.2 606.7L382.5 607.1L382.8 606.5L383 605.9L383.2 605.3L383.5 604.7L383.8 605.3L384 605.9L384.2 606.5L384.5 607.1L384.8 606.1L385 605.1L385.2 604L385.5 602.9L385.8 604.1L386 605.2L386.2 606.3L386.5 607.5L386.8 606.7L387 606L387.2 605.2L387.5 604.5L387.8 604.9L388 605.3L388.2 605.6L388.5 606.1L388.8 605.8L389 605.5L389.2 605.1L389.5 604.8L389.8 604.5L390 604.1L390.2 603.8L390.5 603.5L390.8 604L391 604.6L391.2 605.1L391.5 605.7L391.8 605.9L392 606.1L392.2 606.2L392.5 606.4L392.8 606.5L393 606.6L393.2 606.7L393.5 606.8L393.8 606.8L394 606.8L394.2 606.8L394.5 606.8L394.8 607L395 607.1L395.2 607.3L395.5 607.4L395.8 607.1L396 606.7L396.2 606.4L396.5 606L396.8 605.6L397 605.2L397.2 604.8L397.5 604.3L397.8 604.8L398 605.3L398.2 605.8L398.5 606.3L398.8 606L399 605.6L399.2 605.3L399.5 605L399.8 605.5L400 606L400.2 606.4L400.5 606.8L400.8 606.7L401 606.6L401.2 606.4L401.5 606.3L401.8 606.4L402 606.5L402.2 606.5L402.5 606.6L402.8 606.3L403 606L403.2 605.7L403.5 605.3L403.8 605.7L404 606.1L404.2 606.4L404.5 606.8L404.8 606.7L405 606.6L405.2 606.5L405.5 606.4L405.8 606.4L406 606.4L406.2 606.4L406.5 606.3L406.8 606.2L407 605.9L407.2 605.6L407.5 605.3L407.8 605.2L408 605.4L408.2 604.9L408.5 605.5L408.8 604.6L409 605.4L409.2 604.2L409.5 605.4L409.8 603.4L410 604.5L410.2 602.7L410.5 604L410.8 601.9L411 603.2L411.2 600.8L411.5 602.7L411.8 601L412 604.4L412.2 602.2L412.5 606L412.8 603.4L413 607.6L413.2 604.5L413.5 609L413.8 604.1L414 608.4L414.2 602.7L414.5 607.8L414.8 602.4L415 608.9L415.2 603.1L415.5 609.9L415.8 603.5L416 610L416.2 603.4L416.5 610L416.8 603.8L417 610.8L417.2 604.7L417.5 611.6L417.8 605.4L418 611.8L418.2 606L418.5 612L418.8 606.6L419 612.4L419.2 607.2L419.5 613L419.8 607.7L420 614.1L420.2 608.3L420.5 615.1L420.8 608.7L421 615.4L421.2 608.7L421.5 615.7L421.8 609.7L422 617.7L422.2 611.9L422.5 619.4L422.8 613.4L423 619.1L423.2 613.9L423.5 619L423.8 614.1L424 618.9L424.2 614.2L424.5 618.8L424.8 614.6L425 619.5L425.2 615.2L425.5 620.3L425.8 615.7L426 621.2L426.2 616.4L426.5 622.2L426.8 616.7L427 622.3L427.2 616.6L427.5 622.5L427.8 616.8L428 622.7L428.2 617.3L428.5 623L428.8 618.2L429 623.5L429.2 618.4L429.5 624.2L429.8 618.1L430 623.9L430.2 617.3L430.5 623.5L430.8 617L431 623.6L431.2 617L431.5 623.6L431.8 617L432 623.4L432.2 617.3L432.5 623.1L432.8 617.2L433 621.9L433.2 616.5L433.5 621.2L433.8 616L434 621.9L434.2 616.3L434.5 622.7L434.8 616.2L435 622.2L435.2 615.7L435.5 621.6L435.8 615L436 620.7L436.2 613.9L436.5 619.9L436.8 613.1L437 619.6L437.2 612.6L437.5 619.2L437.8 612.5L438 619.3L438.2 612.7L438.5 619.4L438.8 612.8L439 619L439.2 612.8L439.5 618.4L439.8 612.7L440 617.4L440.2 612.2L440.5 616.7L440.8 611.8L441 616.5L441.2 611.6L441.5 616.3L441.8 611.4L442 616.1L442.2 611L442.5 615.8L442.8 610.6L443 615.6L443.2 610L443.5 615.5L443.8 609.4L444 615.7L444.2 609L444.5 615.7L444.8 609L445 615.6L445.2 609.1L445.5 615.4L445.8 609.1L446 615.1L446.2 608.9L446.5 614.8L446.8 608.2L447 613.5L447.2 607L447.5 612.2L447.8 606.5L448 611.9L448.2 606.4L448.5 611.5L448.8 606L449 611.1L449.2 605.2L449.5 610.6L449.8 604.6L450 610.4L450.2 604.1L450.5 609L450.8 603.1L451 607.3L451.2 602L451.5 605.8L451.8 600.5L452 605.5L452.2 599.3L452.5 605.2L452.8 597.9L453 603.8L453.2 596.8L453.5 602L453.8 595.6L454 599.8L454.2 594.1L454.5 597.9L454.8 592.9L455 597.2L455.2 592.4L455.5 597L455.8 591.6L456 595.6L456.2 590.1L456.5 594.1L456.8 589L457 593.6L457.2 588.5L457.5 593L457.8 587.9L458 592.3L458.2 587.3L458.5 591.6L458.8 586.3L459 590.6L459.2 585.1L459.5 589.6L459.8 583.9L460 588.9L460.2 582.7L460.5 588.2L460.8 581.7L461 588.1L461.2 581.2L461.5 587.4L461.8 581L462 586.4L462.2 580.7L462.5 585.3L462.8 580L463 584.6L463.2 578.6L463.5 583.8L463.8 577.8L464 583.8L464.2 577.7L464.5 583.5L464.8 577.4L465 582.2L465.2 576.5L465.5 581L465.8 575.3L466 579.9L466.2 574.1L466.5 578.7L466.8 573.2L467 578.6L467.2 572.4L467.5 578.5L467.8 571.3L468 577.7L468.2 570.1L468.5 576.2L468.8 569.7L469 575.2L469.2 569.7L469.5 574.2L469.8 569.1L470 573.9L470.2 567.8L470.5 573.6L470.8 566.5L471 573.2L471.2 565.5L471.5 572.3L471.8 564.9L472 571.8L472.2 564.5L472.5 571.3L472.8 563.5L473 570.1L473.2 562.2L473.5 568.8L473.8 561.2L474 568.1L474.2 560.8L474.5 567.4L474.8 560.1L475 566.2L475.2 559.2L475.5 565.5L475.8 558.1L476 564.8L476.2 556.9L476.5 564L476.8 556.2L477 563.8L477.2 555.9L477.5 563.6L477.8 555.4L478 563.1L478.2 555L478.5 562.5L478.8 554.1L479 560.7L479.2 552.5L479.5 558.8L479.8 552.2L480 558.8L480.2 552.9L480.5 558.7L480.8 553L481 558L481.2 552.3L481.5 557.6L481.8 551.8L482 557.3L482.2 551.4L482.5 557L482.8 550.8L483 556.2L483.2 550L483.5 555.3L483.8 549.4L484 554.9L484.2 549.2L484.5 554.5L484.8 548.6L485 553.4L485.2 547.4L485.5 552.3L485.8 546.3L486 551.6L486.2 545.3L486.5 550.9L486.8 544.4L487 551L487.2 543.7L487.5 551L487.8 542.5L488 549.7L488.2 541.5L488.5 548.1L488.8 541.4L489 548.1L489.2 542L489.5 548.3L489.8 541.4L490 546.7L490.2 539.8L490.5 545L490.8 539.1L491 545.7L491.2 539.3L491.5 546.5L491.8 538.5L492 545.3L492.2 537L492.5 543.9L492.8 536L493 543.3L493.2 535.4L493.5 542.9L493.8 534.5L494 542.3L494.2 533.3L494.5 541.8L494.8 532.6L495 541.3L495.2 533L495.5 540.8L495.8 533.5L496 540.1L496.2 533.7L496.5 539.9L496.8 533L497 539.1L497.2 531.8L497.5 538.2L497.8 530.9L498 537.9L498.2 530.5L498.5 537.5L498.8 530.4L499 538L499.2 530.8L499.5 538.6L499.8 530.2L500 537.5L500.2 528.9L500.5 536.3L500.8 528.7L501 536.6L501.2 529.4L501.5 536.8L501.8 529.6L502 536.8L502.2 528.8L502.5 537L502.8 527.5L503 536.2L503.2 526L503.5 535.4L503.8 526.3L504 536.9L504.2 527.9L504.5 538.5L504.8 527.9L505 536.7L505.2 526.4L505.5 534.9L505.8 525.3L506 534.1L506.2 525L506.5 532.9L506.8 525.8L507 533.4L507.2 527.2L507.5 534.2L507.8 526.8L508 533.7L508.2 525.4L508.5 533.2L508.8 524.2L509 532.5L509.2 523.4L509.5 531.7L509.8 523L510 531.6L510.2 522.9L510.5 531.8L510.8 522.8L511 532.8L511.2 523L511.5 533.8L511.8 523.4L512 533.5L512.2 523.7L512.5 533.2L512.8 523.7L513 532L513.2 522.8L513.5 531.3L513.8 522L514 530.8L514.2 521.2L514.5 530L514.8 521.2L515 529.5L515.2 521.7L515.5 529L515.8 522.3L516 529.5L516.2 522.2L516.5 530.3L516.8 521.6L517 530.2L517.2 520.7L517.5 529.7L517.8 520.5L518 529.5L518.2 520.5L518.5 529.4L518.8 520.4L519 529L519.2 520.3L519.5 528.7L519.8 520.5L520 529L520.2 521L520.5 529.1L520.8 520.8L521 527.7L521.2 519.8L521.5 526.6L521.8 518.8L522 527L522.2 518.3L522.5 527.4L522.8 517.4L523 526.2L523.2 516.7L523.5 524.6L523.8 516.9L524 525L524.2 518.1L524.5 525.8L524.8 518L525 524.9L525.2 516L525.5 520.3L525.8 513.5L526 517L526.2 511.7L526.5 511L526.8 509.9L527 508.5L527.2 506.9L527.5 505.3L527.8 502.8L528 500.2L528.2 497.6L528.5 495.1L528.8 492.7L529 490.3L529.2 487.8L529.5 485.4L529.8 482.5L530 479.6L530.2 476.8L530.5 473.9L530.8 471.6L531 469.4L531.2 467.1L531.5 466L531.8 464.7L532 463.4L532.2 462.1L532.5 460.7L532.8 459.3L533 457.9L533.2 456.5L533.5 455.1L533.8 453.8L534 453.7L534.2 453.6L534.5 453.4L534.8 453.1L535 452.7L535.2 452.3L535.5 452L535.8 452L536 452.1L536.2 452.1L536.5 452.9L536.8 453.2L537 453.5L537.2 453.8L537.5 454.2L537.8 454.7L538 455.3L538.2 455.9L538.5 456.5L538.8 457.2L539 458.9L539.2 460.7L539.5 462.4L539.8 463.9L540 465.5L540.2 467.1L540.5 468.7L540.8 470.1L541 471.5L541.2 472.9L541.5 473.5L541.8 473.9L542 474.3L542.2 474.7L542.5 475.1L542.8 476L543 476.9L543.2 477.8L543.5 478.7L543.8 479.4L544 480.2L544.2 481L544.5 481.7L544.8 482.6L545 483.6L545.2 483.7L545.5 483.8L545.8 484.1L546 484.3L546.2 484.6L546.5 484.9L546.8 484.8L547 484.7L547.2 484.6L547.5 484.5L547.8 484L548 483.5L548.2 483L548.5 482.4L548.8 482.7L549 483L549.2 483.2L549.5 483.5L549.8 483.4L550 483.4L550.2 483.3L550.5 483.2L550.8 483L551 482.7L551.2 482.5L551.5 482.3L551.8 482.3L552 482.3L552.2 482.3L552.5 482.3L552.8 482.7L553 483L553.2 483.4L553.5 483.8L553.8 483.6L554 483.3L554.2 483.1L554.5 482.9L554.8 482.9L555 482.9L555.2 482.9L555.5 482.9L555.8 482.9L556 482.8L556.2 482.7L556.5 482.7L556.8 482L557 481.4L557.2 480.7L557.5 480L557.8 480.8L558 481.6L558.2 482.4L558.5 483.1L558.8 483.3L559 483.5L559.2 483.7L559.5 483.9L559.8 484.2L560 484.5L560.2 484.8L560.5 485.2L560.8 485.4L561 485.6L561.2 485.8L561.5 486L561.8 485.3L562 484.7L562.2 484L562.5 483.4L562.8 483.7L563 484.1L563.2 484.4L563.5 484.8L563.8 484.8L564 484.8L564.2 484.8L564.5 484.8L564.8 485.1L565 485.4L565.2 485.7L565.5 486L565.8 485.9L566 485.7L566.2 485.6L566.5 485.5L566.8 486L567 486.5L567.2 487L567.5 487.5L567.8 487.8L568 488.1L568.2 488.4L568.5 488.7L568.8 488.9L569 489.1L569.2 489.3L569.5 489.5L569.8 489.6L570 489.6L570.2 489.7L570.5 489.7L570.8 489.9L571 490.2L571.2 490.4L571.5 490.7L571.8 490.5L572 490.3L572.2 490L572.5 489.8L572.8 489.9L573 489.9L573.2 489.9L573.5 490L573.8 490.2L574 490.3L574.2 490.5L574.5 490.7L574.8 490.8L575 490.8L575.2 490.9L575.5 490.9L575.8 491.2L576 491.4L576.2 491.7L576.5 492L576.8 492.2L577 492.5L577.2 492.8L577.5 493.1L577.8 493L578 492.9L578.2 492.7L578.5 492.6L578.8 492.3L579 492.1L579.2 491.9L579.5 491.6L579.8 491.8L580 491.9L580.2 492.1L580.5 492.3L580.8 492.9L581 493.6L581.2 494.2L581.5 494.9L581.8 495L582 495.2L582.2 495.4L582.5 495.6L582.8 495.7L583 495.8L583.2 495.9L583.5 496L583.8 495.4L584 494.7L584.2 494L584.5 493.4L584.8 494.4L585 495.4L585.2 496.4L585.5 497.4L585.8 498.1L586 498.8L586.2 499.4L586.5 500.1L586.8 499.5L587 499L587.2 498.5L587.5 497.9L587.8 498L588 498.1L588.2 498.2L588.5 498.2L588.8 498.7L589 499.1L589.2 499.5L589.5 500L589.8 499.6L590 499.2L590.2 498.8L590.5 498.4L590.8 498.4L591 498.4L591.2 498.4L591.5 498.4L591.8 499.1L592 499.8L592.2 500.6L592.5 501.3L592.8 501L593 500.6L593.2 500.2L593.5 499.8L593.8 500.4L594 501L594.2 501.6L594.5 502.2L594.8 502L595 501.9L595.2 501.7L595.5 501.6L595.8 501.7L596 501.9L596.2 502.1L596.5 502.3L596.8 502.2L597 502.2L597.2 502.1L597.5 502.1L597.8 502.5L598 503L598.2 503.5L598.5 504L598.8 504L599 503.9L599.2 503.9L599.5 503.8L599.8 503.9L600 504L600.2 504.1L600.5 504.1L600.8 504.2L601 504.2L601.2 504.2L601.5 504.2L601.8 504.3L602 504.3L602.2 504.4L602.5 504.5L602.8 505L603 505.5L603.2 506L603.5 506.5L603.8 506.5L604 506.5L604.2 506.4L604.5 506.4L604.8 506.5L605 506.6L605.2 506.7L605.5 506.7L605.8 506.2L606 505.7L606.2 505.1L606.5 504.6L606.8 505.1L607 505.7L607.2 506.2L607.5 506.8L607.8 506.3L608 505.9L608.2 505.4L608.5 504.9L608.8 506L609 507L609.2 508L609.5 509L609.8 509.2L610 509.3L610.2 509.5L610.5 509.8L610.8 509.8L611 509.9L611.2 510L611.5 510.1L611.8 510L612 509.9L612.2 509.9L612.5 509.8L612.8 510L613 510.2L613.2 510.4L613.5 510.6L613.8 510.6L614 510.6L614.2 510.5L614.5 510.4L614.8 510.4L615 510.4L615.2 510.2L615.5 510L615.8 510.5L616 511.1L616.2 511.6L616.5 512.1L616.8 512.1L617 512.2L617.2 512.3L617.5 512.4L617.8 512L618 511.6L618.2 511.2L618.5 510.9L618.8 510.6L619 510.4L619.2 510.2L619.5 509.9L619.8 510.2L620 510.5L620.2 510.8L620.5 511L620.8 511.1L621 511.2L621.2 511.3L621.5 511.3L621.8 511.1L622 510.9L622.2 510.8L622.5 510.6L622.8 510.1L623 509.7L623.2 509.3L623.5 508.8L623.8 508.8L624 508.8L624.2 508.9L624.5 508.9L624.8 509.2L625 509.5L625.2 510L625.5 510.5L625.8 511.1L626 511.7L626.2 512.4L626.5 513L626.8 512.1L627 511.2L627.2 510.3L627.5 509.4L627.8 510L628 510.5L628.2 511.1L628.5 511.6L628.8 511.6L629 511.4L629.2 511.3L629.5 511.1L629.8 511.3L630 511.5L630.2 511.7L630.5 511.9L630.8 511.8L631 511.7L631.2 511.7L631.5 511.6L631.8 511.9L632 512.2L632.2 512.5L632.5 512.8L632.8 512.5L633 512.2L633.2 511.9L633.5 511.6L633.8 511.4L634 511.2L634.2 511L634.5 510.8L634.8 511.1L635 511.3L635.2 511.6L635.5 511.9L635.8 511.9L636 511.9L636.2 511.8L636.5 511.8L636.8 512L637 512.2L637.2 512.4L637.5 512.6L637.8 512.5L638 512.4L638.2 512.3L638.5 512.1L638.8 512.1L639 512.1L639.2 512.1L639.5 512.1L639.8 511.9L640 511.7L640.2 511.5L640.5 511.3L640.8 511.2L641 511.2L641.2 511.1L641.5 511L641.8 511L642 510.9L642.2 510.9L642.5 510.9L642.8 511L643 511.1L643.2 511.2L643.5 511.4L643.8 511.7L644 512L644.2 512.3L644.5 512.6L644.8 512.7L645 512.8L645.2 512.6L645.5 512.4L645.8 511.6L646 510.7L646.2 509.8L646.5 509L646.8 508.9L647 508.7L647.2 508.6L647.5 508.5L647.8 508.5L648 508.6L648.2 508.6L648.5 508.7L648.8 509.2L649 509.7L649.2 510.2L649.5 510.7L649.8 509.9L650 509.2L650.2 508.4L650.5 507.6L650.8 507.9L651 508.1L651.2 508.4L651.5 508.7L651.8 508L652 507.3L652.2 506.6L652.5 505.9L652.8 506.7L653 507.4L653.2 508.2L653.5 508.9L653.8 508.6L654 508.2L654.2 507.9L654.5 507.5L654.8 507.7L655 507.9L655.2 508.1L655.5 508.2L655.8 508.4L656 508.6L656.2 508.8L656.5 508.9L656.8 508.2L657 507.5L657.2 506.8L657.5 506.1L657.8 505.8L658 505.4L658.2 505.1L658.5 504.8L658.8 505.5L659 506.2L659.2 506.9L659.5 507.7L659.8 507.4L660 507.1L660.2 506.8L660.5 506.5L660.8 506.8L661 507L661.2 507.3L661.5 507.6L661.8 507.8L662 508L662.2 508.3L662.5 508.5L662.8 507.8L663 507.1L663.2 506.4L663.5 505.7L663.8 505.6L664 505.5L664.2 505.3L664.5 505.2L664.8 505.3L665 505.3L665.2 505.4L665.5 505.5L665.8 505.2L666 505L666.2 504.8L666.5 504.5L666.8 504.8L667 505L667.2 505.2L667.5 505.4L667.8 505.9L668 506.4L668.2 506.8L668.5 507.3L668.8 506.8L669 506.3L669.2 505.8L669.5 505.3L669.8 505.1L670 504.8L670.2 504.5L670.5 504.3L670.8 504.6L671 505L671.2 505.4L671.5 505.7L671.8 505.6L672 505.6L672.2 505.5L672.5 505.4L672.8 504.8L673 504.2L673.2 503.6L673.5 503.1L673.8 503.8L674 504.5L674.2 505.3L674.5 506L674.8 506L675 506L675.2 506.1L675.5 506.1L675.8 506.5L676 506.9L676.2 507.3L676.5 507.7L676.8 507.6L677 507.4L677.2 507.2L677.5 506.9L677.8 507.1L678 507.2L678.2 507.3L678.5 507.4L678.8 507.3L679 507.2L679.2 507.1L679.5 507L679.8 507.8L680 508.6L680.2 509.4L680.5 510.2L680.8 509.9L681 509.6L681.2 509.2L681.5 508.9L681.8 509L682 509.1L682.2 509.2L682.5 509.3L682.8 509.4L683 509.4L683.2 509.5L683.5 509.6L683.8 509.6L684 509.6L684.2 509.5L684.5 509.5L684.8 509.9L685 510.3L685.2 510.8L685.5 511.2L685.8 511.1L686 511.1L686.2 511.1L686.5 511.1L686.8 511.7L687 512.2L687.2 512.8L687.5 513.4L687.8 513.2L688 513L688.2 512.7L688.5 512.5L688.8 512.7L689 513L689.2 513.3L689.5 513.6L689.8 513.1L690 512.6L690.2 512.1L690.5 511.6L690.8 511.9L691 512.1L691.2 512.4L691.5 512.7L691.8 512.9L692 513L692.2 513.1L692.5 513.3L692.8 513.1L693 512.9L693.2 512.7L693.5 512.6L693.8 512.8L694 513L694.2 513.2L694.5 513.4L694.8 513.5L695 513.5L695.2 513.5L695.5 513.6L695.8 513.5L696 513.4L696.2 513.3L696.5 513.2L696.8 513.7L697 514.1L697.2 514.5L697.5 514.9L697.8 514.7L698 514.5L698.2 514.2L698.5 514L698.8 514.2L699 514.4L699.2 514.6L699.5 514.8L699.8 514.6L700 514.3L700.2 514.1L700.5 513.9L700.8 514.2L701 514.6L701.2 514.9L701.5 515.2L701.8 515.2L702 515.2L702.2 515.2L702.5 515.1L702.8 515.4L703 515.7L703.2 515.9L703.5 516.1L703.8 516.7L704 517.2L704.2 517.8L704.5 518.4L704.8 518.5L705 518.6L705.2 518.7L705.5 518.8L705.8 518.7L706 518.7L706.2 518.7L706.5 518.6L706.8 518.8L707 518.9L707.2 519L707.5 519.2L707.8 519.6L708 520L708.2 520.5L708.5 520.9L708.8 520.7L709 520.6L709.2 520.4L709.5 520.2L709.8 520.5L710 520.7L710.2 520.9L710.5 521.3L710.8 521.9L711 522.4L711.2 523L711.5 523.5L711.8 523.8L712 524L712.2 524.3L712.5 524.5L712.8 524.5L713 524.5L713.2 524.6L713.5 524.6L713.8 524.8L714 525L714.2 525.2L714.5 525.4L714.8 525.7L715 525.9L715.2 526.2L715.5 526.4L715.8 526.5L716 526.7L716.2 526.8L716.5 526.9L716.8 527.2L717 527.4L717.2 527.6L717.5 527.9L717.8 528.3L718 528.7L718.2 529.1L718.5 529.5L718.8 529.5L719 529.5L719.2 529.5L719.5 529.5L719.8 529.7L720 529.8L720.2 530L720.5 530.1L720.8 530.2L721 530.3L721.2 530.4L721.5 530.5L721.8 530.9L722 531.4L722.2 531.8L722.5 532.2L722.8 532.2L723 532.1L723.2 532.1L723.5 532L723.8 532.4L724 532.8L724.2 533.2L724.5 533.6L724.8 533.5L725 533.5L725.2 533.5L725.5 533.5L725.8 533.9L726 534.3L726.2 534.7L726.5 535.1L726.8 535.5L727 535.9L727.2 536.3L727.5 536.7L727.8 536.8L728 536.9L728.2 537L728.5 537.1L728.8 537.6L729 538L729.2 538.4L729.5 538.9L729.8 539.1L730 539.4L730.2 539.6L730.5 539.9L730.8 540.1L731 540.2L731.2 540.4L731.5 540.6L731.8 541.1L732 541.6L732.2 542L732.5 542.5L732.8 542.7L733 542.9L733.2 543L733.5 543.2L733.8 543.4L734 543.5L734.2 543.6L734.5 543.7L734.8 544.1L735 544.4L735.2 544.8L735.5 545.1L735.8 545.5L736 545.9L736.2 546.3L736.5 546.7L736.8 546.7L737 546.7L737.2 546.7L737.5 546.7L737.8 546.9L738 547.2L738.2 547.5L738.5 547.8L738.8 548.4L739 549.1L739.2 549.8L739.5 550.5L739.8 550.5L740 550.5L740.2 550.5L740.5 550.5L740.8 550.9L741 551.3L741.2 551.8L741.5 552.2L741.8 552.2L742 552.3L742.2 552.3L742.5 552.4L742.8 553.1L743 553.8L743.2 554.4L743.5 555.1L743.8 555.5L744 555.9L744.2 556.3L744.5 556.6L744.8 556.7L745 556.7L745.2 556.7L745.5 556.7L745.8 557.3L746 557.9L746.2 558.5L746.5 559.1L746.8 559.2L747 559.2L747.2 559.2L747.5 559.2L747.8 559.7L748 560.1L748.2 560.6L748.5 561L748.8 561.6L749 562.2L749.2 562.7L749.5 563.3L749.8 563.7L750 564L750.2 564.4L750.5 564.8L750.8 564.8L751 564.8L751.2 564.8L751.5 564.8L751.8 565.4L752 565.9L752.2 566.4L752.5 567L752.8 566.9L753 566.9L753.2 566.9L753.5 566.9L753.8 567.4L754 568L754.2 568.6L754.5 569.1L754.8 569L755 568.8L755.2 568.7L755.5 568.5L755.8 569.2L756 569.8L756.2 570.4L756.5 571L756.8 571.1L757 571.3L757.2 571.4L757.5 571.6L757.8 571.7L758 571.9L758.2 572L758.5 572.2L758.8 572.7L759 573.1L759.2 573.6L759.5 574.1L759.8 574.4L760 574.7L760.2 575L760.5 575.3L760.8 575.6L761 576L761.2 576.4L761.5 576.7L761.8 577.2L762 577.7L762.2 578.1L762.5 578.5L762.8 578.5L763 578.6L763.2 578.6L763.5 578.7L763.8 579L764 579.3L764.2 579.5L764.5 579.8L764.8 580.2L765 580.6L765.2 581L765.5 581.4L765.8 581.6L766 581.9L766.2 582.1L766.5 582.3L766.8 582.7L767 583.1L767.2 583.5L767.5 583.9L767.8 584.1L768 584.2L768.2 584.3L768.5 584.5L768.8 585.1L769 585.8L769.2 586.4L769.5 587L769.8 587L770 587L770.2 587L770.5 587L770.8 587.6L771 588.2L771.2 588.8L771.5 589.3L771.8 589.6L772 589.9L772.2 590.2L772.5 590.4L772.8 590.4L773 590.5L773.2 590.5L773.5 590.6L773.8 591.1L774 591.6L774.2 592.1L774.5 592.6L774.8 593L775 593.4L775.2 593.8L775.5 594.2L775.8 594.3L776 594.3L776.2 594.4L776.5 594.4L776.8 594.8L777 595.2L777.2 595.6L777.5 595.9L777.8 596L778 596L778.2 596.1L778.5 596.1L778.8 596.7L779 597.3L779.2 597.8L779.5 598.4L779.8 598.5L780 598.6L780.2 598.8L780.5 598.9L780.8 599.4L781 600L781.2 600.5L781.5 601L781.8 601.2L782 601.5L782.2 601.7L782.5 601.9L782.8 602.1L783 602.3L783.2 602.4L783.5 602.6L783.8 602.8L784 603L784.2 603.1L784.5 603.3L784.8 603.8L785 604.3L785.2 604.9L785.5 605.4L785.8 605.7L786 606L786.2 606.3L786.5 606.6L786.8 606.6L787 606.6L787.2 606.7L787.5 606.7L787.8 607.2L788 607.6" fill="none" stroke="#ff0000" stroke-width="2.3" stroke-linejoin="round" stroke-linecap="butt"/>
<path d="M68.5 612.8L86.5 612.8L77.5 596.9Z" fill="none" stroke="#ff0000" stroke-width="1.15" stroke-linejoin="miter"/>
<path d="M123.44 627.01L141.44 627.01L132.44 611.11Z" fill="none" stroke="#ff0000" stroke-width="1.15" stroke-linejoin="miter"/>
<path d="M178.38 612.83L196.38 612.83L187.38 596.93Z" fill="none" stroke="#ff0000" stroke-width="1.15" stroke-linejoin="miter"/>
<path d="M233.31 613.59L251.31 613.59L242.31 597.69Z" fill="none" stroke="#ff0000" stroke-width="1.15" stroke-linejoin="miter"/>
<path d="M288.25 611.56L306.25 611.56L297.25 595.66Z" fill="none" stroke="#ff0000" stroke-width="1.15" stroke-linejoin="miter"/>
<path d="M343.19 612.8L361.19 612.8L352.19 596.9Z" fill="none" stroke="#ff0000" stroke-width="1.15" stroke-linejoin="miter"/>
<path d="M398.12 610.13L416.12 610.13L407.12 594.23Z" fill="none" stroke="#ff0000" stroke-width="1.15" stroke-linejoin="miter"/>
<path d="M453.06 588.53L471.06 588.53L462.06 572.63Z" fill="none" stroke="#ff0000" stroke-width="1.15" stroke-linejoin="miter"/>
<path d="M508 530.49L526 530.49L517 514.59Z" fill="none" stroke="#ff0000" stroke-width="1.15" stroke-linejoin="miter"/>
<path d="M562.94 494.99L580.94 494.99L571.94 479.08Z" fill="none" stroke="#ff0000" stroke-width="1.15" stroke-linejoin="miter"/>
<path d="M617.88 516.52L635.88 516.52L626.88 500.62Z" fill="none" stroke="#ff0000" stroke-width="1.15" stroke-linejoin="miter"/>
<path d="M672.81 513.84L690.81 513.84L681.81 497.94Z" fill="none" stroke="#ff0000" stroke-width="1.15" stroke-linejoin="miter"/>
<path d="M727.75 552.16L745.75 552.16L736.75 536.26Z" fill="none" stroke="#ff0000" stroke-width="1.15" stroke-linejoin="miter"/>
<path d="M77.5 430L77.8 430.1L78 430.2L78.2 430.3L78.5 430.3L78.8 430.4L79 430.5L79.2 430.5L79.5 430.6L79.8 430.8L80 430.9L80.2 431.1L80.5 431.3L80.8 431.4L81 431.5L81.2 431.6L81.5 431.6L81.8 431.7L82 431.7L82.2 431.7L82.5 431.7L82.8 431.8L83 432L83.2 432.1L83.5 432.2L83.8 432.3L84 432.3L84.2 432.4L84.5 432.4L84.8 432.5L85 432.6L85.2 432.7L85.5 432.8L85.8 433L86 433.3L86.2 433.5L86.5 433.7L86.8 433.7L87 433.7L87.2 433.7L87.5 433.7L87.8 434.1L88 434.5L88.2 434.9L88.5 435.3L88.8 435.6L89 435.9L89.2 436.2L89.5 436.5L89.8 436.8L90 437.1L90.2 437.5L90.5 437.8L90.8 438.1L91 438.3L91.2 438.6L91.5 438.9L91.8 439.2L92 439.5L92.2 439.9L92.5 440.2L92.8 440.6L93 441L93.2 441.4L93.5 441.8L93.8 442.1L94 442.5L94.2 442.9L94.5 443.2L94.8 443.4L95 443.6L95.2 443.9L95.5 444.3L95.8 444.9L96 445.4L96.2 446L96.5 446.6L96.8 447.2L97 447.8L97.2 448.4L97.5 449L97.8 449.6L98 450.2L98.2 450.8L98.5 451.4L98.8 452L99 452.5L99.2 453L99.5 453.5L99.8 454.1L100 454.6L100.2 455.2L100.5 455.8L100.8 456.3L101 456.8L101.2 457.3L101.5 457.8L101.8 458.3L102 458.8L102.2 459.2L102.5 459.7L102.8 460.5L103 461.3L103.2 462.1L103.5 462.9L103.8 463.8L104 464.6L104.2 465.5L104.5 466.4L104.8 467.1L105 467.7L105.2 468.4L105.5 469.1L105.8 469.8L106 470.5L106.2 471.2L106.5 471.8L106.8 472.8L107 473.7L107.2 474.6L107.5 475.5L107.8 476.2L108 476.9L108.2 477.6L108.5 478.2L108.8 479L109 479.7L109.2 480.5L109.5 481.2L109.8 482.1L110 482.9L110.2 483.7L110.5 484.5L110.8 485.1L111 485.7L111.2 486.2L111.5 486.8L111.8 487.6L112 488.3L112.2 489.1L112.5 489.8L112.8 490.9L113 492L113.2 493L113.5 494.1L113.8 495.5L114 496.9L114.2 498.3L114.5 499.7L114.8 500.9L115 502.2L115.2 503.4L115.5 504.6L115.8 505.8L116 506.9L116.2 508.1L116.5 509.2L116.8 510.4L117 511.6L117.2 512.8L117.5 514L117.8 515.3L118 516.5L118.2 517.8L118.5 519.1L118.8 520.2L119 521.4L119.2 522.5L119.5 523.6L119.8 524.8L120 526L120.2 527.1L120.5 528.3L120.8 529.5L121 530.6L121.2 531.7L121.5 532.8L121.8 534L122 535.2L122.2 536.4L122.5 537.5L122.8 538.8L123 540L123.2 541.3L123.5 542.5L123.8 543.6L124 544.7L124.2 545.8L124.5 546.8L124.8 548L125 549.1L125.2 550.2L125.5 551.4L125.8 552.5L126 553.7L126.2 554.8L126.5 555.8L126.8 556.8L127 557.8L127.2 558.9L127.5 559.9L127.8 560.9L128 561.9L128.2 562.9L128.5 564L128.8 565L129 566L129.2 567L129.5 568L129.8 569L130 570L130.2 571L130.5 572L130.8 572.9L131 573.9L131.2 574.9L131.5 575.8L131.8 576.7L132 577.6L132.2 578.5L132.5 579.4L132.8 580.4L133 581.5L133.2 582.5L133.5 583.6L133.8 584.3L134 585L134.2 585.7L134.5 586.4L134.8 587.3L135 588.2L135.2 589.2L135.5 590.1L135.8 591.1L136 592.2L136.2 593.3L136.5 593.9L136.8 594L137 594.1L137.2 594.2L137.5 594.2L137.8 594.2L138 594.2L138.2 594.1L138.5 594L138.8 594.5L139 595.1L139.2 595.7L139.5 596.3L139.8 596.2L140 596L140.2 595.6L140.5 595.3L140.8 595.3L141 595.3L141.2 595.3L141.5 595.2L141.8 595.8L142 596.4L142.2 597.1L142.5 597.7L142.8 597.5L143 597.4L143.2 597.3L143.5 597.1L143.8 598L144 598.8L144.2 599.7L144.5 600.5L144.8 599.2L145 597.9L145.2 596.5L145.5 595.2L145.8 595.6L146 596L146.2 596.3L146.5 596.7L146.8 596.9L147 597.1L147.2 597.2L147.5 597.4L147.8 597.7L148 598L148.2 598.3L148.5 598.6L148.8 598.1L149 597.6L149.2 597.1L149.5 596.6L149.8 597.2L150 597.8L150.2 598.4L150.5 599L150.8 598.6L151 598.1L151.2 597.7L151.5 597.2L151.8 597L152 596.7L152.2 596.5L152.5 596.2L152.8 596.4L153 596.6L153.2 596.9L153.5 597.1L153.8 597.1L154 597.2L154.2 597.3L154.5 597.3L154.8 597.3L155 597.3L155.2 597.3L155.5 597.2L155.8 597.1L156 596.9L156.2 596.7L156.5 596.5L156.8 596.6L157 596.7L157.2 596.8L157.5 596.9L157.8 597.2L158 597.6L158.2 597.9L158.5 598.3L158.8 598.2L159 598.2L159.2 598.3L159.5 598.4L159.8 598.8L160 599.3L160.2 599.8L160.5 600.2L160.8 599.5L161 598.8L161.2 598.1L161.5 597.4L161.8 597.5L162 597.5L162.2 597.6L162.5 597.7L162.8 598.8L163 599.8L163.2 600.8L163.5 601.9L163.8 601.3L164 600.8L164.2 600.2L164.5 599.7L164.8 599.7L165 599.7L165.2 599.7L165.5 599.7L165.8 599.3L166 598.9L166.2 598.5L166.5 598.2L166.8 598.6L167 599.1L167.2 599.5L167.5 600L167.8 599.9L168 599.9L168.2 599.8L168.5 599.8L168.8 599.8L169 599.9L169.2 599.9L169.5 599.9L169.8 600.4L170 600.8L170.2 601.2L170.5 601.6L170.8 601L171 600.3L171.2 599.7L171.5 599.1L171.8 599.4L172 599.7L172.2 600.1L172.5 600.4L172.8 599.8L173 599.2L173.2 598.6L173.5 598L173.8 598.7L174 599.4L174.2 600L174.5 600.7L174.8 600.1L175 599.6L175.2 599L175.5 598.5L175.8 599.4L176 600.2L176.2 601.1L176.5 602L176.8 600.9L177 599.9L177.2 598.8L177.5 597.8L177.8 598.8L178 599.8L178.2 600.8L178.5 601.8L178.8 601.1L179 600.3L179.2 599.6L179.5 598.8L179.8 598.6L180 598.4L180.2 598.2L180.5 598L180.8 598.7L181 599.3L181.2 599.9L181.5 600.4L181.8 600.4L182 600.4L182.2 600.3L182.5 600.3L182.8 599.9L183 599.5L183.2 599.1L183.5 598.6L183.8 598.5L184 598.4L184.2 598.2L184.5 598.1L184.8 597.7L185 597.3L185.2 597L185.5 596.7L185.8 597.3L186 598L186.2 598.7L186.5 599.4L186.8 599.6L187 599.9L187.2 600.1L187.5 600.3L187.8 599.6L188 598.9L188.2 598.1L188.5 597.4L188.8 598.1L189 598.8L189.2 599.6L189.5 600.3L189.8 600.8L190 601.3L190.2 601.8L190.5 602.3L190.8 601.3L191 600.2L191.2 599.2L191.5 598.1L191.8 598.9L192 599.7L192.2 600.5L192.5 601.2L192.8 601.2L193 601.3L193.2 601.3L193.5 601.3L193.8 600.9L194 600.6L194.2 600.2L194.5 599.9L194.8 600.2L195 600.5L195.2 600.8L195.5 601.1L195.8 600.7L196 600.2L196.2 599.8L196.5 599.3L196.8 599.7L197 600.2L197.2 600.7L197.5 601.1L197.8 601.5L198 601.8L198.2 602.2L198.5 602.5L198.8 601.9L199 601.2L199.2 600.5L199.5 599.9L199.8 599.8L200 599.7L200.2 599.6L200.5 599.5L200.8 599L201 598.5L201.2 598.1L201.5 597.6L201.8 598.9L202 600.1L202.2 601.3L202.5 602.6L202.8 602.6L203 602.6L203.2 602.6L203.5 602.6L203.8 601.8L204 601.1L204.2 600.3L204.5 599.5L204.8 599.7L205 600L205.2 600.2L205.5 600.4L205.8 600.3L206 600.3L206.2 600.2L206.5 600.2L206.8 600.7L207 601.1L207.2 601.7L207.5 602.2L207.8 601.3L208 600.5L208.2 599.6L208.5 598.7L208.8 599.5L209 600.3L209.2 601.1L209.5 601.9L209.8 601L210 600.1L210.2 599.2L210.5 598.3L210.8 599.3L211 600.2L211.2 601L211.5 601.9L211.8 601.4L212 600.9L212.2 600.4L212.5 599.9L212.8 600.5L213 601.1L213.2 601.7L213.5 602.3L213.8 602L214 601.7L214.2 601.4L214.5 601.1L214.8 600.7L215 600.2L215.2 599.7L215.5 599.3L215.8 599.2L216 599L216.2 598.9L216.5 598.8L216.8 598.5L217 598.3L217.2 598.1L217.5 597.8L217.8 598.7L218 599.5L218.2 600.5L218.5 601.5L218.8 601.5L219 601.4L219.2 601.3L219.5 601.2L219.8 600.7L220 600.3L220.2 599.9L220.5 599.4L220.8 599.3L221 599.2L221.2 599L221.5 598.9L221.8 599.6L222 600.2L222.2 600.8L222.5 601.4L222.8 601.2L223 601L223.2 600.9L223.5 600.7L223.8 600.5L224 600.3L224.2 600.2L224.5 600L224.8 600.2L225 600.3L225.2 600.5L225.5 600.7L225.8 600.8L226 600.9L226.2 601L226.5 601.1L226.8 600.8L227 600.5L227.2 600.2L227.5 599.9L227.8 600.1L228 600.2L228.2 600.4L228.5 600.5L228.8 600.2L229 599.9L229.2 599.7L229.5 599.4L229.8 599.5L230 599.6L230.2 599.6L230.5 599.6L230.8 599.3L231 598.9L231.2 598.6L231.5 598.3L231.8 598.6L232 599L232.2 599.3L232.5 599.7L232.8 599.4L233 599.1L233.2 598.9L233.5 598.7L233.8 598.5L234 598.3L234.2 598.1L234.5 597.9L234.8 598.1L235 598.2L235.2 598.3L235.5 598.4L235.8 598.3L236 598.1L236.2 597.9L236.5 597.8L236.8 597.7L237 597.7L237.2 597.7L237.5 597.7L237.8 597.9L238 598.2L238.2 598.4L238.5 598.6L238.8 598.7L239 598.8L239.2 598.9L239.5 599L239.8 598.1L240 597.3L240.2 596.4L240.5 595.5L240.8 595.9L241 596.3L241.2 596.6L241.5 597L241.8 597L242 596.9L242.2 596.9L242.5 596.9L242.8 596.4L243 595.9L243.2 595.4L243.5 594.9L243.8 595.3L244 595.7L244.2 596.1L244.5 596.5L244.8 596.2L245 595.9L245.2 595.7L245.5 595.5L245.8 595.4L246 595.3L246.2 595.2L246.5 595.2L246.8 594.8L247 594.4L247.2 594L247.5 593.7L247.8 593.8L248 594.1L248.2 594.3L248.5 594.6L248.8 595.3L249 595.9L249.2 596.6L249.5 597.3L249.8 598L250 598.7L250.2 599.4L250.5 600.1L250.8 599.6L251 599L251.2 598.4L251.5 597.9L251.8 597.4L252 597L252.2 596.5L252.5 596L252.8 597.2L253 598.4L253.2 599.6L253.5 600.8L253.8 600.6L254 600.3L254.2 600.1L254.5 599.8L254.8 600.2L255 600.7L255.2 601L255.5 601.2L255.8 600.5L256 599.9L256.2 599.2L256.5 598.5L256.8 599L257 599.4L257.2 599.8L257.5 600.2L257.8 599.9L258 599.7L258.2 599.5L258.5 599.2L258.8 598.6L259 598.1L259.2 597.7L259.5 597.2L259.8 597.5L260 597.9L260.2 598.2L260.5 598.6L260.8 598.8L261 599L261.2 599.2L261.5 599.4L261.8 599.2L262 598.9L262.2 598.6L262.5 598.3L262.8 599L263 599.7L263.2 600.4L263.5 601.1L263.8 600.6L264 600.1L264.2 599.5L264.5 599L264.8 599.5L265 599.9L265.2 600.3L265.5 600.7L265.8 600.4L266 600L266.2 599.7L266.5 599.3L266.8 599.6L267 599.9L267.2 600.3L267.5 600.6L267.8 600.6L268 600.6L268.2 600.6L268.5 600.6L268.8 599.8L269 599L269.2 598.2L269.5 597.4L269.8 598L270 598.5L270.2 599.1L270.5 599.6L270.8 600L271 600.3L271.2 600.6L271.5 600.9L271.8 600.6L272 600.2L272.2 599.9L272.5 599.5L272.8 600.1L273 600.8L273.2 601.4L273.5 602L273.8 601.9L274 601.9L274.2 601.9L274.5 601.9L274.8 601.2L275 600.6L275.2 600L275.5 599.3L275.8 599.7L276 600L276.2 600.4L276.5 600.7L276.8 600.9L277 601L277.2 601.2L277.5 601.3L277.8 601L278 600.6L278.2 600.3L278.5 599.9L278.8 600.7L279 601.5L279.2 602.3L279.5 603.2L279.8 602.9L280 602.7L280.2 602.4L280.5 602.2L280.8 602L281 601.8L281.2 601.5L281.5 601.3L281.8 601L282 600.7L282.2 600.4L282.5 600.1L282.8 600.1L283 600L283.2 600L283.5 600L283.8 600L284 600L284.2 600L284.5 600.1L284.8 600.5L285 601L285.2 601.4L285.5 601.8L285.8 601.2L286 600.5L286.2 599.9L286.5 599.3L286.8 599.8L287 600.3L287.2 600.8L287.5 601.3L287.8 601.7L288 602.1L288.2 602.5L288.5 602.9L288.8 601.7L289 600.5L289.2 599.4L289.5 598.2L289.8 598.5L290 598.7L290.2 599L290.5 599.3L290.8 599.9L291 600.5L291.2 601.1L291.5 601.7L291.8 601.5L292 601.3L292.2 601L292.5 600.8L292.8 600.4L293 600.1L293.2 599.8L293.5 599.4L293.8 599.7L294 600L294.2 600.3L294.5 600.6L294.8 600.7L295 600.7L295.2 600.8L295.5 600.8L295.8 601.1L296 601.4L296.2 601.7L296.5 602L296.8 601.5L297 601L297.2 600.5L297.5 600L297.8 600.3L298 600.5L298.2 600.7L298.5 601L298.8 601.1L299 601.1L299.2 601.2L299.5 601.3L299.8 601.5L300 601.6L300.2 601.8L300.5 602L300.8 601.8L301 601.6L301.2 601.4L301.5 601.3L301.8 600.9L302 600.5L302.2 600.1L302.5 599.7L302.8 599.7L303 599.8L303.2 599.9L303.5 599.9L303.8 600.8L304 601.7L304.2 602.5L304.5 603.4L304.8 602.9L305 602.4L305.2 601.8L305.5 601.3L305.8 601.5L306 601.7L306.2 602L306.5 602.2L306.8 602.2L307 602.2L307.2 602.1L307.5 602.1L307.8 602.2L308 602.3L308.2 602.4L308.5 602.5L308.8 602.8L309 603.1L309.2 603.4L309.5 603.7L309.8 603.3L310 602.8L310.2 602.4L310.5 601.9L310.8 602.1L311 602.2L311.2 602.4L311.5 602.5L311.8 602.3L312 602.1L312.2 601.9L312.5 601.7L312.8 601.5L313 601.3L313.2 601.1L313.5 600.9L313.8 600.4L314 599.8L314.2 599.2L314.5 598.8L314.8 599.1L315 599.3L315.2 599.5L315.5 599.7L315.8 600.2L316 600.6L316.2 601.1L316.5 601.5L316.8 601.1L317 600.7L317.2 600.2L317.5 599.8L317.8 599.8L318 599.8L318.2 599.7L318.5 599.7L318.8 599.7L319 599.7L319.2 599.7L319.5 599.8L319.8 599.4L320 599.1L320.2 598.8L320.5 598.5L320.8 598.6L321 598.7L321.2 598.8L321.5 598.9L321.8 599.2L322 599.5L322.2 599.8L322.5 600.1L322.8 599.6L323 599.2L323.2 598.8L323.5 598.4L323.8 598.2L324 598L324.2 597.8L324.5 597.6L324.8 598.2L325 598.8L325.2 599.4L325.5 600L325.8 599.9L326 599.9L326.2 599.8L326.5 599.7L326.8 599.3L327 598.9L327.2 598.6L327.5 598.2L327.8 597.8L328 597.3L328.2 596.9L328.5 596.5L328.8 597.1L329 597.7L329.2 598.3L329.5 599L329.8 598.8L330 598.6L330.2 598.4L330.5 598.2L330.8 597.6L331 596.9L331.2 596.3L331.5 595.6L331.8 595.9L332 596.1L332.2 596.3L332.5 596.5L332.8 596.5L333 596.5L333.2 596.4L333.5 596.4L333.8 596.3L334 596.2L334.2 596.2L334.5 596.1L334.8 597.3L335 598.5L335.2 599.8L335.5 601L335.8 601.2L336 601.4L336.2 601.5L336.5 601.7L336.8 600.6L337 599.5L337.2 598.4L337.5 597.3L337.8 598.3L338 599.3L338.2 600.3L338.5 601.2L338.8 601.1L339 600.9L339.2 600.8L339.5 600.6L339.8 600.9L340 601.1L340.2 601.2L340.5 601.3L340.8 601.5L341 601.7L341.2 601.8L341.5 602L341.8 602L342 602L342.2 602L342.5 602L342.8 601.7L343 601.4L343.2 601.1L343.5 600.8L343.8 600.6L344 600.4L344.2 600.3L344.5 600.1L344.8 600.6L345 601L345.2 601.5L345.5 602L345.8 602.4L346 602.9L346.2 603.3L346.5 603.7L346.8 602.8L347 601.8L347.2 600.9L347.5 599.9L347.8 600.1L348 600.2L348.2 600.3L348.5 600.4L348.8 600.5L349 600.6L349.2 600.7L349.5 600.9L349.8 600.5L350 600.2L350.2 599.9L350.5 599.6L350.8 599.7L351 599.8L351.2 599.9L351.5 600L351.8 600.5L352 601L352.2 601.4L352.5 601.9L352.8 601.8L353 601.6L353.2 601.5L353.5 601.3L353.8 601.2L354 601L354.2 600.9L354.5 600.7L354.8 600.8L355 600.9L355.2 601L355.5 601.1L355.8 600.9L356 600.7L356.2 600.5L356.5 600.4L356.8 600.9L357 601.5L357.2 602L357.5 602.6L357.8 602.2L358 601.8L358.2 601.5L358.5 601.1L358.8 600.9L359 600.7L359.2 600.4L359.5 600.2L359.8 600.3L360 600.4L360.2 600.6L360.5 600.7L360.8 600.8L361 600.9L361.2 601.1L361.5 601.2L361.8 601.6L362 602.1L362.2 602.5L362.5 602.9L362.8 602.4L363 601.8L363.2 601.2L363.5 600.7L363.8 600.5L364 600.3L364.2 600.1L364.5 600L364.8 600.8L365 601.6L365.2 602.4L365.5 603.2L365.8 602.4L366 601.6L366.2 600.9L366.5 600.2L366.8 600.7L367 601.2L367.2 601.8L367.5 602.3L367.8 602L368 601.8L368.2 601.6L368.5 601.4L368.8 601.5L369 601.6L369.2 601.7L369.5 601.9L369.8 601.3L370 600.7L370.2 600.1L370.5 599.4L370.8 599.9L371 600.4L371.2 600.8L371.5 601.3L371.8 601L372 600.6L372.2 600.3L372.5 600L372.8 599.7L373 599.5L373.2 599.2L373.5 599L373.8 599.5L374 600L374.2 600.5L374.5 601.1L374.8 600.9L375 600.7L375.2 600.5L375.5 600.3L375.8 600.4L376 600.4L376.2 600.5L376.5 600.6L376.8 600.8L377 601.1L377.2 601.3L377.5 601.6L377.8 600.5L378 599.3L378.2 598.2L378.5 597.1L378.8 597.9L379 598.7L379.2 599.5L379.5 600.3L379.8 599.6L380 598.9L380.2 598.3L380.5 597.6L380.8 597.5L381 597.4L381.2 597.4L381.5 597.3L381.8 597.8L382 598.4L382.2 598.9L382.5 599.5L382.8 599.3L383 599.1L383.2 599L383.5 598.8L383.8 598.2L384 597.5L384.2 596.9L384.5 596.3L384.8 597L385 597.7L385.2 598.4L385.5 599.1L385.8 599.2L386 599.2L386.2 599.3L386.5 599.3L386.8 599.7L387 600L387.2 600.3L387.5 600.6L387.8 600.5L388 600.4L388.2 600.4L388.5 600.2L388.8 599.7L389 599.2L389.2 598.7L389.5 598.2L389.8 597.6L390 597L390.2 596.3L390.5 595.7L390.8 596L391 596.4L391.2 596.7L391.5 597L391.8 597.1L392 597.2L392.2 597.3L392.5 597.5L392.8 597.5L393 597.5L393.2 597.6L393.5 597.6L393.8 597.6L394 597.7L394.2 597.7L394.5 597.7L394.8 597.4L395 597.1L395.2 596.8L395.5 596.5L395.8 596.5L396 596.6L396.2 596.7L396.5 596.7L396.8 596.4L397 596.1L397.2 595.8L397.5 595.4L397.8 595.5L398 595.5L398.2 595.5L398.5 595.6L398.8 595.9L399 596.1L399.2 596.4L399.5 596.7L399.8 596.9L400 597L400.2 597.2L400.5 597.3L400.8 596.7L401 596L401.2 595.3L401.5 594.7L401.8 594.9L402 595.2L402.2 595.5L402.5 595.8L402.8 595.9L403 596L403.2 596.1L403.5 596.1L403.8 596.3L404 596.5L404.2 596.7L404.5 597L404.8 596.7L405 596.4L405.2 596.1L405.5 595.8L405.8 596.7L406 597.5L406.2 598.4L406.5 599.3L406.8 598.5L407 597.5L407.2 596.5L407.5 595.4L407.8 594.8L408 594.3L408.2 593.5L408.5 593.4L408.8 592.7L409 593.7L409.2 592.4L409.5 594.1L409.8 591.8L410 593.8L410.2 591L410.5 593.6L410.8 590.6L411 594L411.2 590.5L411.5 594.4L411.8 590.4L412 594.6L412.2 589.8L412.5 595.4L412.8 589.3L413 596.3L413.2 589L413.5 597.4L413.8 588.6L414 597.9L414.2 588L414.5 598.3L414.8 587L415 598.2L415.2 585.4L415.5 596.8L415.8 582.9L416 594.6L416.2 580.4L416.5 591.8L416.8 579.3L417 591.6L417.2 579.3L417.5 591.3L417.8 578.3L418 589.1L418.2 575.8L418.5 587.2L418.8 574.2L419 586.8L419.2 573.4L419.5 585.9L419.8 572.9L420 585L420.2 572.4L420.5 584L420.8 571L421 583L421.2 568.8L421.5 582.1L421.8 567.5L422 583.1L422.2 567.6L422.5 583.8L422.8 566.2L423 581.1L423.2 563.1L423.5 578.2L423.8 561.4L424 576.1L424.2 560.4L424.5 574L424.8 559.5L425 572.6L425.2 558.5L425.5 571.9L425.8 558L426 572.1L426.2 558.2L426.5 571.7L426.8 557.3L427 568.3L427.2 554.9L427.5 564.9L427.8 553.4L428 565.7L428.2 552.6L428.5 566.5L428.8 551.1L429 565.8L429.2 549.5L429.5 564.4L429.8 548.7L430 564.2L430.2 548.6L430.5 564.1L430.8 547.3L431 562.3L431.2 545.1L431.5 560.5L431.8 544.1L432 560.5L432.2 545L432.5 560.2L432.8 545.8L433 559.8L433.2 546.5L433.5 560L433.8 545.4L434 558.1L434.2 543.2L434.5 556.2L434.8 542.1L435 557.7L435.2 542.1L435.5 558.9L435.8 540.5L436 557.1L436.2 538.5L436.5 554.1L436.8 537.4L437 552.5L437.2 537.2L437.5 551.2L437.8 535.6L438 549.3L438.2 533.3L438.5 547.4L438.8 532.1L439 547.3L439.2 532.5L439.5 546.9L439.8 532.2L440 545.2L440.2 531.2L440.5 543.9L440.8 530L441 542.5L441.2 528.9L441.5 540.9L441.8 528.2L442 540.4L442.2 527.8L442.5 539.8L442.8 526.6L443 537.6L443.2 524.9L443.5 535.3L443.8 524.6L444 535.4L444.2 525.5L444.5 535.8L444.8 524.3L445 534.2L445.2 522.4L445.5 533.4L445.8 521.2L446 532.3L446.2 521L446.5 531.1L446.8 521L447 530.7L447.2 521.3L447.5 530.5L447.8 521.3L448 530.1L448.2 521L448.5 529.7L448.8 520.4L449 528.8L449.2 519.5L449.5 528.5L449.8 519.3L450 528.7L450.2 519.6L450.5 528.5L450.8 520.7L451 529.7L451.2 522.4L451.5 531.3L451.8 522.5L452 531.7L452.2 521.5L452.5 532L452.8 521L453 532.4L453.2 522.2L453.5 532.3L453.8 523.6L454 532.6L454.2 525.1L454.5 533.3L454.8 525.4L455 532.6L455.2 524.8L455.5 531.7L455.8 523.8L456 531.9L456.2 522.3L456.5 532L456.8 521.7L457 533.7L457.2 522.7L457.5 534.4L457.8 523.3L458 533.3L458.2 522.9L458.5 532.2L458.8 523.5L459 533.1L459.2 525.2L459.5 534.2L459.8 526.1L460 534.4L460.2 525.5L460.5 535L460.8 525.1L461 536.2L461.2 525.3L461.5 536.8L461.8 525.3L462 535.7L462.2 524.5L462.5 534.6L462.8 523.9L463 534.4L463.2 523.5L463.5 534.1L463.8 524.1L464 535.8L464.2 525.5L464.5 537.6L464.8 526.4L465 538.3L465.2 526.8L465.5 539L465.8 527.1L466 538.7L466.2 527L466.5 538.5L466.8 526.9L467 538.2L467.2 527.3L467.5 537.8L467.8 527.8L468 537.7L468.2 528.3L468.5 537.9L468.8 528.5L469 538.1L469.2 528.7L469.5 538.3L469.8 529.4L470 538.9L470.2 530.5L470.5 539.6L470.8 530.7L471 538.6L471.2 529.7L471.5 538.1L471.8 529.4L472 539.4L472.2 530.1L472.5 540.4L472.8 531.1L473 541L473.2 532.1L473.5 541.5L473.8 532.7L474 541.6L474.2 532.4L474.5 542L474.8 532.1L475 542.4L475.2 532.3L475.5 542.7L475.8 533.4L476 543.2L476.2 534.7L476.5 543.7L476.8 535.9L477 545L477.2 537L477.5 546.2L477.8 537.9L478 547L478.2 538.8L478.5 547.7L478.8 539L479 547.1L479.2 538.7L479.5 546.6L479.8 539.7L480 549L480.2 542.1L480.5 551.4L480.8 543.2L481 551.4L481.2 542.8L481.5 551.6L481.8 542.8L482 552.4L482.2 543.4L482.5 552.7L482.8 544.2L483 552.7L483.2 544.9L483.5 552.6L483.8 545.9L484 553.3L484.2 547.1L484.5 554L484.8 548.5L485 555.2L485.2 549.9L485.5 556.4L485.8 550.8L486 556.8L486.2 551.4L486.5 557.3L486.8 551.5L487 557L487.2 551.4L487.5 556.8L487.8 551.8L488 557.9L488.2 552.5L488.5 559.1L488.8 553L489 560.1L489.2 553.6L489.5 560.9L489.8 554.2L490 561.1L490.2 554.4L490.5 561.4L490.8 555.4L491 562.5L491.2 557.3L491.5 563.5L491.8 558.6L492 563.5L492.2 558.9L492.5 564L492.8 558.9L493 564.2L493.2 558.8L493.5 564.4L493.8 558.9L494 564.7L494.2 559L494.5 565L494.8 559.6L495 566.2L495.2 560.7L495.5 567.3L495.8 561.3L496 567.6L496.2 561.6L496.5 567.8L496.8 562.1L497 568.1L497.2 562.7L497.5 568.5L497.8 562.9L498 569L498.2 562.8L498.5 569.6L498.8 563.2L499 570.8L499.2 564.4L499.5 571.5L499.8 565.4L500 571.4L500.2 565.9L500.5 571.3L500.8 566.7L501 572L501.2 567.7L501.5 572.6L501.8 568.4L502 573.1L502.2 568.3L502.5 573.9L502.8 568.1L503 574.4L503.2 567.8L503.5 574.5L503.8 568.1L504 575.2L504.2 568.7L504.5 575.8L504.8 569.1L505 575.9L505.2 569.4L505.5 576L505.8 569.8L506 576.6L506.2 570.5L506.5 577.3L506.8 570.8L507 577.5L507.2 570.9L507.5 577.6L507.8 571.3L508 578.6L508.2 572.2L508.5 579.6L508.8 572.5L509 579L509.2 572.2L509.5 578.4L509.8 572.7L510 579.5L510.2 574.1L510.5 580.4L510.8 575L511 580.5L511.2 575.5L511.5 580.6L511.8 576.1L512 581.1L512.2 576.8L512.5 581.6L512.8 577.2L513 581.5L513.2 576.8L513.5 581.9L513.8 576.7L514 583L514.2 577L514.5 583.9L514.8 578.1L515 584.1L515.2 579.2L515.5 584.3L515.8 580.1L516 584.5L516.2 580.1L516.5 585.1L516.8 580.2L517 586L517.2 580.5L517.5 586.8L517.8 580.9L518 587.5L518.2 581.3L518.5 588.2L518.8 581.8L519 588.7L519.2 582.3L519.5 589.2L519.8 582.8L520 589.7L520.2 583.8L520.5 589.5L520.8 585L521 588.6L521.2 585.7L521.5 587.9L521.8 586.6L522 589.1L522.2 588.7L522.5 590.5L522.8 590.3L523 590.6L523.2 590.8L523.5 591L523.8 591.8L524 592.7L524.2 593.4L524.5 594.1L524.8 593.6L525 593.1L525.2 592.7L525.5 592.4L525.8 593.3L526 594.2L526.2 595L526.5 595.8L526.8 595.9L527 596L527.2 596.2L527.5 596.5L527.8 598.2L528 599.9L528.2 601.6L528.5 603.3L528.8 606.1L529 608.8L529.2 611.6L529.5 614.4L529.8 613.9L530 613.3L530.2 612.8L530.5 612.2L530.8 611.2L531 610.2L531.2 609.1L531.5 608.1L531.8 607.4L532 606.8L532.2 606.1L532.5 605.4L532.8 605.2L533 604.9L533.2 604.7L533.5 604.4L533.8 603.8L534 603.3L534.2 602.7L534.5 602.1L534.8 602L535 601.9L535.2 601.8L535.5 601.7L535.8 601.3L536 600.9L536.2 600.5L536.5 600.1L536.8 600.1L537 600L537.2 599.9L537.5 599.8L537.8 599.2L538 598.7L538.2 598.1L538.5 597.5L538.8 597.9L539 598.3L539.2 598.7L539.5 599L539.8 598.9L540 598.9L540.2 598.7L540.5 598.6L540.8 598.8L541 599L541.2 599.2L541.5 599.3L541.8 599.4L542 599.5L542.2 599.7L542.5 599.8L542.8 599.7L543 599.7L543.2 599.7L543.5 599.7L543.8 599.7L544 599.7L544.2 599.7L544.5 599.7L544.8 599.9L545 600.1L545.2 600.3L545.5 600.6L545.8 600.3L546 600.1L546.2 599.9L546.5 599.7L546.8 600L547 600.4L547.2 600.7L547.5 601L547.8 600.9L548 600.8L548.2 600.7L548.5 600.6L548.8 600.4L549 600.2L549.2 600.1L549.5 599.9L549.8 600.2L550 600.4L550.2 600.7L550.5 601L550.8 601.1L551 601.1L551.2 601.2L551.5 601.3L551.8 601.4L552 601.4L552.2 601.5L552.5 601.6L552.8 601.4L553 601.3L553.2 601.2L553.5 601.1L553.8 601.4L554 601.7L554.2 602L554.5 602.2L554.8 602.7L555 603.1L555.2 603.5L555.5 603.9L555.8 604L556 604L556.2 604L556.5 604.1L556.8 603.7L557 603.3L557.2 602.8L557.5 602.4L557.8 602.6L558 602.8L558.2 603L558.5 603.2L558.8 603.1L559 603.1L559.2 603L559.5 603L559.8 602.8L560 602.7L560.2 602.6L560.5 602.4L560.8 602.4L561 602.4L561.2 602.4L561.5 602.4L561.8 602.7L562 602.9L562.2 603.2L562.5 603.4L562.8 603.7L563 603.9L563.2 604.1L563.5 604.4L563.8 604.3L564 604.3L564.2 604.2L564.5 604.2L564.8 604.3L565 604.3L565.2 604.4L565.5 604.4L565.8 604.6L566 604.7L566.2 604.9L566.5 605L566.8 604.7L567 604.3L567.2 603.9L567.5 603.5L567.8 603.6L568 603.7L568.2 603.8L568.5 604L568.8 603.8L569 603.6L569.2 603.4L569.5 603.2L569.8 603.5L570 603.8L570.2 604L570.5 604.3L570.8 604.5L571 604.7L571.2 604.8L571.5 605L571.8 605.2L572 605.4L572.2 605.6L572.5 605.8L572.8 605.5L573 605.1L573.2 604.8L573.5 604.5L573.8 604.6L574 604.7L574.2 604.8L574.5 604.9L574.8 604.9L575 605L575.2 605.1L575.5 605.2L575.8 605.2L576 605.3L576.2 605.3L576.5 605.3L576.8 605.1L577 604.9L577.2 604.7L577.5 604.5L577.8 604.9L578 605.3L578.2 605.8L578.5 606.2L578.8 606.1L579 606L579.2 605.9L579.5 605.8L579.8 605.8L580 605.9L580.2 605.9L580.5 606L580.8 605.9L581 605.9L581.2 605.8L581.5 605.8L581.8 605.8L582 605.9L582.2 606L582.5 606.1L582.8 606L583 605.9L583.2 605.8L583.5 605.7L583.8 605.8L584 605.8L584.2 605.9L584.5 606L584.8 606.3L585 606.6L585.2 606.9L585.5 607.2L585.8 607.1L586 606.9L586.2 606.8L586.5 606.6L586.8 606.8L587 606.9L587.2 607.1L587.5 607.2L587.8 607.2L588 607.1L588.2 607L588.5 606.9L588.8 606.6L589 606.2L589.2 605.9L589.5 605.6L589.8 605.5L590 605.4L590.2 605.2L590.5 605.1L590.8 605.4L591 605.8L591.2 606.1L591.5 606.5L591.8 606.2L592 606L592.2 605.7L592.5 605.5L592.8 605.5L593 605.6L593.2 605.7L593.5 605.7L593.8 605.6L594 605.5L594.2 605.4L594.5 605.3L594.8 605.2L595 605L595.2 604.9L595.5 604.8L595.8 605.2L596 605.6L596.2 606.1L596.5 606.5L596.8 606.7L597 606.9L597.2 607.1L597.5 607.4L597.8 607.1L598 606.8L598.2 606.6L598.5 606.3L598.8 605.8L599 605.4L599.2 604.9L599.5 604.4L599.8 604.5L600 604.5L600.2 604.6L600.5 604.6L600.8 604.7L601 604.7L601.2 604.7L601.5 604.8L601.8 604.4L602 604.1L602.2 603.7L602.5 603.4L602.8 603.4L603 603.5L603.2 603.6L603.5 603.7L603.8 603.8L604 603.8L604.2 603.9L604.5 603.9L604.8 604.1L605 604.3L605.2 604.6L605.5 604.8L605.8 604.1L606 603.5L606.2 602.8L606.5 602.2L606.8 602.4L607 602.6L607.2 602.7L607.5 602.9L607.8 602.6L608 602.2L608.2 601.9L608.5 601.6L608.8 601.2L609 600.9L609.2 600.6L609.5 600.3L609.8 600.7L610 601.1L610.2 601.5L610.5 601.9L610.8 601.4L611 600.8L611.2 600.3L611.5 599.8L611.8 599.9L612 600.1L612.2 600.3L612.5 600.5L612.8 600.6L613 600.8L613.2 600.9L613.5 601L613.8 600.8L614 600.6L614.2 600.4L614.5 600.2L614.8 600L615 599.8L615.2 599.5L615.5 599.3L615.8 599.4L616 599.5L616.2 599.5L616.5 599.6L616.8 599.2L617 598.8L617.2 598.4L617.5 597.9L617.8 597.7L618 597.6L618.2 597.5L618.5 597.4L618.8 597.6L619 597.9L619.2 598.2L619.5 598.4L619.8 598.1L620 597.8L620.2 597.5L620.5 597.2L620.8 597L621 596.7L621.2 596.5L621.5 596.2L621.8 596L622 595.7L622.2 595.5L622.5 595.3L622.8 595.2L623 595.2L623.2 595.2L623.5 595.1L623.8 595.2L624 595.4L624.2 595.5L624.5 595.6L624.8 595.2L625 594.7L625.2 594.3L625.5 594L625.8 594L626 594L626.2 594.1L626.5 594.1L626.8 594.2L627 594.4L627.2 594.5L627.5 594.7L627.8 594.5L628 594.4L628.2 594.2L628.5 594.1L628.8 593.5L629 592.8L629.2 592L629.5 591.3L629.8 591.6L630 591.8L630.2 592.1L630.5 592.3L630.8 591.5L631 590.6L631.2 589.7L631.5 588.8L631.8 589.2L632 589.5L632.2 589.9L632.5 590.2L632.8 589.7L633 589.2L633.2 588.7L633.5 588.1L633.8 588.1L634 588L634.2 588L634.5 587.9L634.8 587.8L635 587.7L635.2 587.5L635.5 587.4L635.8 587.2L636 587L636.2 586.8L636.5 586.6L636.8 586.5L637 586.4L637.2 586.4L637.5 586.3L637.8 586L638 585.7L638.2 585.4L638.5 585.2L638.8 585.4L639 585.6L639.2 585.8L639.5 586L639.8 585.4L640 584.8L640.2 584.3L640.5 583.7L640.8 583.4L641 583L641.2 582.7L641.5 582.4L641.8 582.4L642 582.4L642.2 582.4L642.5 582.4L642.8 582.1L643 581.7L643.2 581.3L643.5 580.9L643.8 580.7L644 580.6L644.2 580.5L644.5 580.4L644.8 580.1L645 579.8L645.2 579.4L645.5 579.1L645.8 579L646 578.8L646.2 578.7L646.5 578.5L646.8 578.3L647 578.2L647.2 578L647.5 577.8L647.8 577.7L648 577.6L648.2 577.4L648.5 577.3L648.8 577.2L649 577L649.2 576.9L649.5 576.8L649.8 576.4L650 576.1L650.2 575.8L650.5 575.4L650.8 575.1L651 574.7L651.2 574.4L651.5 574L651.8 573.7L652 573.5L652.2 573.2L652.5 572.9L652.8 572.6L653 572.4L653.2 572.1L653.5 571.8L653.8 572.1L654 572.3L654.2 572.6L654.5 572.9L654.8 572.3L655 571.7L655.2 571.1L655.5 570.5L655.8 570.2L656 570L656.2 569.7L656.5 569.5L656.8 569.3L657 569.1L657.2 569L657.5 568.8L657.8 568.7L658 568.5L658.2 568.3L658.5 568.2L658.8 568.1L659 568L659.2 568L659.5 567.9L659.8 567.5L660 567.1L660.2 566.6L660.5 566.1L660.8 565.5L661 564.9L661.2 564.3L661.5 563.7L661.8 563.7L662 563.7L662.2 563.8L662.5 563.8L662.8 563.4L663 563L663.2 562.6L663.5 562.2L663.8 561.8L664 561.5L664.2 561.1L664.5 560.8L664.8 560.8L665 560.8L665.2 560.8L665.5 560.8L665.8 560.3L666 559.8L666.2 559.3L666.5 558.8L666.8 558.5L667 558.2L667.2 558L667.5 557.7L667.8 557.5L668 557.4L668.2 557.2L668.5 557.1L668.8 556.7L669 556.4L669.2 556L669.5 555.7L669.8 555.3L670 555L670.2 554.7L670.5 554.4L670.8 554L671 553.6L671.2 553.2L671.5 552.8L671.8 552.4L672 551.9L672.2 551.4L672.5 550.9L672.8 550.7L673 550.4L673.2 550.2L673.5 549.9L673.8 549.8L674 549.6L674.2 549.4L674.5 549.2L674.8 549L675 548.8L675.2 548.6L675.5 548.4L675.8 548.3L676 548.2L676.2 548.2L676.5 548.1L676.8 547.4L677 546.8L677.2 546.1L677.5 545.5L677.8 545.5L678 545.5L678.2 545.6L678.5 545.6L678.8 544.9L679 544.2L679.2 543.5L679.5 542.8L679.8 543.2L680 543.7L680.2 544.1L680.5 544.6L680.8 544.3L681 544.1L681.2 543.8L681.5 543.6L681.8 543.2L682 542.7L682.2 542.3L682.5 541.9L682.8 541.7L683 541.5L683.2 541.2L683.5 541L683.8 540.8L684 540.7L684.2 540.5L684.5 540.2L684.8 539.7L685 539.2L685.2 538.7L685.5 538.2L685.8 538.1L686 537.9L686.2 537.7L686.5 537.6L686.8 537.3L687 537.1L687.2 536.9L687.5 536.6L687.8 535.9L688 535.2L688.2 534.6L688.5 534L688.8 533.9L689 533.8L689.2 533.7L689.5 533.7L689.8 533.2L690 532.8L690.2 532.3L690.5 531.9L690.8 532L691 532.2L691.2 532.3L691.5 532.5L691.8 531.7L692 530.8L692.2 529.9L692.5 529.1L692.8 528.8L693 528.5L693.2 528.2L693.5 527.9L693.8 527.6L694 527.2L694.2 526.9L694.5 526.5L694.8 526L695 525.5L695.2 525L695.5 524.4L695.8 523.8L696 523.1L696.2 522.5L696.5 521.8L696.8 521.5L697 521.2L697.2 520.9L697.5 520.6L697.8 519.9L698 519.2L698.2 518.6L698.5 517.9L698.8 517.6L699 517.3L699.2 517L699.5 516.7L699.8 515.9L700 515L700.2 514.2L700.5 513.4L700.8 513L701 512.7L701.2 512.4L701.5 512.1L701.8 511.9L702 511.8L702.2 511.6L702.5 511.4L702.8 511.4L703 511.3L703.2 511.3L703.5 511.2L703.8 511L704 510.9L704.2 510.8L704.5 510.6L704.8 510L705 509.4L705.2 508.8L705.5 508.2L705.8 508.8L706 509.3L706.2 509.9L706.5 510.4L706.8 509.8L707 509.1L707.2 508.5L707.5 507.8L707.8 508L708 508.3L708.2 508.5L708.5 508.8L708.8 508.3L709 507.8L709.2 507.3L709.5 506.9L709.8 506.4L710 505.9L710.2 505.4L710.5 505L710.8 505.2L711 505.3L711.2 505.5L711.5 505.7L711.8 505.5L712 505.2L712.2 505L712.5 504.7L712.8 504.7L713 504.7L713.2 504.7L713.5 504.7L713.8 504.4L714 504.1L714.2 503.8L714.5 503.5L714.8 503.5L715 503.5L715.2 503.4L715.5 503.2L715.8 503L716 502.7L716.2 502.4L716.5 502.1L716.8 501.6L717 501.1L717.2 500.7L717.5 500.2L717.8 500.1L718 500L718.2 500L718.5 499.9L718.8 499.4L719 498.9L719.2 498.3L719.5 497.8L719.8 497.5L720 497.2L720.2 496.9L720.5 496.6L720.8 496.2L721 495.8L721.2 495.3L721.5 495L721.8 495.1L722 495.2L722.2 495.3L722.5 495.3L722.8 495L723 494.6L723.2 494.3L723.5 493.9L723.8 493.4L724 492.9L724.2 492.4L724.5 491.9L724.8 491.8L725 491.7L725.2 491.7L725.5 491.6L725.8 491.7L726 491.7L726.2 491.8L726.5 491.8L726.8 491.6L727 491.4L727.2 491.2L727.5 490.9L727.8 490.8L728 490.6L728.2 490.4L728.5 490.3L728.8 489.9L729 489.6L729.2 489.4L729.5 489.1L729.8 489L730 489L730.2 489L730.5 489L730.8 488.8L731 488.7L731.2 488.5L731.5 488.3L731.8 488.3L732 488.3L732.2 488.3L732.5 488.3L732.8 487.9L733 487.6L733.2 487.2L733.5 486.8L733.8 487L734 487.1L734.2 487.2L734.5 487.3L734.8 486.8L735 486.2L735.2 485.7L735.5 485.2L735.8 485.2L736 485.1L736.2 485.1L736.5 485.1L736.8 485.2L737 485.3L737.2 485.4L737.5 485.4L737.8 484.8L738 484.2L738.2 483.5L738.5 482.9L738.8 483L739 483L739.2 483.1L739.5 483.2L739.8 483.3L740 483.5L740.2 483.7L740.5 483.9L740.8 483.5L741 483.1L741.2 482.7L741.5 482.3L741.8 482.1L742 482L742.2 481.8L742.5 481.7L742.8 482L743 482.2L743.2 482.5L743.5 482.7L743.8 482.6L744 482.5L744.2 482.3L744.5 482.2L744.8 481.9L745 481.6L745.2 481.3L745.5 481.1L745.8 480.8L746 480.6L746.2 480.4L746.5 480.1L746.8 480.2L747 480.4L747.2 480.5L747.5 480.6L747.8 480.3L748 479.9L748.2 479.6L748.5 479.3L748.8 479.6L749 479.9L749.2 480.2L749.5 480.5L749.8 479.9L750 479.4L750.2 478.8L750.5 478.2L750.8 478.1L751 478.1L751.2 478L751.5 478L751.8 477.9L752 477.8L752.2 477.7L752.5 477.5L752.8 477.8L753 478L753.2 478.2L753.5 478.4L753.8 478.6L754 478.8L754.2 479L754.5 479.2L754.8 478.9L755 478.7L755.2 478.4L755.5 478.1L755.8 478.3L756 478.5L756.2 478.6L756.5 478.8L756.8 478.6L757 478.4L757.2 478.3L757.5 478.1L757.8 477.9L758 477.6L758.2 477.4L758.5 477.1L758.8 476.9L759 476.6L759.2 476.4L759.5 476.1L759.8 475.8L760 475.4L760.2 475.1L760.5 474.8L760.8 474.4L761 474.1L761.2 473.7L761.5 473.3L761.8 473.3L762 473.2L762.2 473.2L762.5 473.1L762.8 473.4L763 473.6L763.2 473.9L763.5 474.2L763.8 474.5L764 474.9L764.2 475.2L764.5 475.5L764.8 475.7L765 475.8L765.2 475.9L765.5 476L765.8 476.4L766 476.8L766.2 477.2L766.5 477.6L766.8 477.7L767 477.8L767.2 477.9L767.5 477.9L767.8 478.5L768 479L768.2 479.5L768.5 480L768.8 479.9L769 479.9L769.2 479.9L769.5 479.9L769.8 480.1L770 480.4L770.2 479.9L770.5 479.4L770.8 479.4L771 479.4L771.2 479.4L771.5 479.4L771.8 478.8L772 478.2L772.2 477.6L772.5 477L772.8 476.7L773 476.3L773.2 476L773.5 475.7L773.8 475.3L774 474.8L774.2 474.4L774.5 474L774.8 473.6L775 473.3L775.2 472.9L775.5 472.5L775.8 471.7L776 470.9L776.2 470.1L776.5 470.2L776.8 470.9L777 471.7L777.2 472.4L777.5 473.2L777.8 473.7L778 474.3L778.2 474.8L778.5 475.4L778.8 475.7L779 476L779.2 476.4L779.5 476.7L779.8 477.3L780 477.9L780.2 478.5L780.5 479.1L780.8 479.4L781 479.6L781.2 479.9L781.5 479.6L781.8 479.4L782 479.3L782.2 479.1L782.5 478.9L782.8 478.7L783 478.5L783.2 478.3L783.5 478.1L783.8 477.7L784 477.4L784.2 477L784.5 476.6L784.8 476.1L785 475.6L785.2 475.1L785.5 474.6L785.8 474.8L786 474.9L786.2 475L786.5 475.2L786.8 474.9L787 474.6L787.2 474.3L787.5 474.1L787.8 473.7L788 473.4" fill="none" stroke="#2bbdbd" stroke-width="2.3" stroke-linejoin="round" stroke-linecap="butt"/>
<rect x="72.9" y="425.4" width="9.2" height="9.2" fill="none" stroke="#2bbdbd" stroke-width="1.15"/>
<rect x="127.84" y="575.15" width="9.2" height="9.2" fill="none" stroke="#2bbdbd" stroke-width="1.15"/>
<rect x="182.78" y="595.4" width="9.2" height="9.2" fill="none" stroke="#2bbdbd" stroke-width="1.15"/>
<rect x="237.71" y="592.32" width="9.2" height="9.2" fill="none" stroke="#2bbdbd" stroke-width="1.15"/>
<rect x="292.65" y="596.64" width="9.2" height="9.2" fill="none" stroke="#2bbdbd" stroke-width="1.15"/>
<rect x="347.59" y="596.65" width="9.2" height="9.2" fill="none" stroke="#2bbdbd" stroke-width="1.15"/>
<rect x="402.52" y="590.46" width="9.2" height="9.2" fill="none" stroke="#2bbdbd" stroke-width="1.15"/>
<rect x="457.46" y="526.17" width="9.2" height="9.2" fill="none" stroke="#2bbdbd" stroke-width="1.15"/>
<rect x="512.4" y="578.71" width="9.2" height="9.2" fill="none" stroke="#2bbdbd" stroke-width="1.15"/>
<rect x="567.34" y="600.33" width="9.2" height="9.2" fill="none" stroke="#2bbdbd" stroke-width="1.15"/>
<rect x="622.27" y="589.46" width="9.2" height="9.2" fill="none" stroke="#2bbdbd" stroke-width="1.15"/>
<rect x="677.21" y="538.5" width="9.2" height="9.2" fill="none" stroke="#2bbdbd" stroke-width="1.15"/>
<rect x="732.15" y="480.18" width="9.2" height="9.2" fill="none" stroke="#2bbdbd" stroke-width="1.15"/>
<rect x="77.5" y="429.6" width="732.5" height="285.6" fill="none" stroke="#000" stroke-width="1.4"/>
<text x="77.5" y="754.48" font-size="37.2" text-anchor="middle" >0</text>
<text x="260.62" y="754.48" font-size="37.2" text-anchor="middle" >1</text>
<text x="443.75" y="754.48" font-size="37.2" text-anchor="middle" >2</text>
<text x="626.88" y="754.48" font-size="37.2" text-anchor="middle" >3</text>
<text x="810" y="754.48" font-size="37.2" text-anchor="middle" >4</text>
<text x="70.5" y="443.09" font-size="37.2" text-anchor="end" >1</text>
<text x="70.5" y="532.49" font-size="37.2" text-anchor="end" >0.5</text>
<text x="70.5" y="621.89" font-size="37.2" text-anchor="end" >0</text>
<text x="70.5" y="711.29" font-size="37.2" text-anchor="end" >−0.5</text>
<path d="M260.62 715.2v-6.94M260.62 429.6v6.94M443.75 715.2v-6.94M443.75 429.6v6.94M626.88 715.2v-6.94M626.88 429.6v6.94M77.5 429.3h6.94M810 429.3h-6.94M77.5 518.7h6.94M810 518.7h-6.94M77.5 608.1h6.94M810 608.1h-6.94M77.5 697.5h6.94M810 697.5h-6.94" stroke="#000" stroke-width="1.4" fill="none"/>
<text x="443.45" y="788.91" font-size="37.2" text-anchor="middle" textLength="148.8" lengthAdjust="spacingAndGlyphs">time steps</text>
<text x="797.8" y="808.25" font-size="37.2" text-anchor="end" >x 10</text>
<text x="797.3" y="784.84" font-size="24.3" text-anchor="start" >4</text>
<rect x="833.9" y="484.3" width="184.3" height="177.2" fill="#fff" stroke="#000" stroke-width="1.4"/>
<path d="M847.3 509.2H912.6" stroke="#0000ff" stroke-width="2.4" fill="none"/>
<circle cx="879.8" cy="509.2" r="6.4" fill="none" stroke="#0000ff" stroke-width="2.2"/>
<text x="918.8" y="522.7" font-size="37.5" text-anchor="start" textLength="95.6" lengthAdjust="spacingAndGlyphs">A[1,1]</text>
<path d="M847.3 551.3H912.6" stroke="#3a7d3c" stroke-width="2.4" fill="none"/>
<path d="M879.8 541.1L882.09 548.15L889.5 548.15L883.51 552.5L885.8 559.55L879.8 555.2L873.8 559.55L876.09 552.5L870.1 548.15L877.51 548.15Z" fill="none" stroke="#3a7d3c" stroke-width="2.2" stroke-linejoin="miter"/>
<text x="918.8" y="564.8" font-size="37.5" text-anchor="start" textLength="95.6" lengthAdjust="spacingAndGlyphs">A[1,2]</text>
<path d="M847.3 593.5H912.6" stroke="#ff0000" stroke-width="2.4" fill="none"/>
<path d="M870.7 599L888.9 599L879.8 582.7Z" fill="none" stroke="#ff0000" stroke-width="2.2" stroke-linejoin="miter"/>
<text x="918.8" y="607" font-size="37.5" text-anchor="start" textLength="95.6" lengthAdjust="spacingAndGlyphs">A[2,1]</text>
<path d="M847.3 635.7H912.6" stroke="#2bbdbd" stroke-width="2.4" fill="none"/>
<rect x="874.85" y="630.75" width="9.9" height="9.9" fill="none" stroke="#2bbdbd" stroke-width="2.2"/>
<text x="918.8" y="649.2" font-size="37.5" text-anchor="start" textLength="95.6" lengthAdjust="spacingAndGlyphs">A[2,2]</text>
<path d="M48.8 1057L49.2 1056.8L49.8 1056.7L50.2 1056.5L50.8 1056.4L51.2 1056.2L51.8 1056L52.2 1055.9L52.8 1055.8L53.2 1055.7L53.8 1055.5L54.2 1055.3L54.8 1055.2L55.2 1054.5L55.8 1052.9L56.2 1051.3L56.8 1049.7L57.2 1048.3L57.8 1046.8L58.2 1045.3L58.8 1043.7L59.2 1042.2L59.8 1040.7L60.2 1039.6L60.8 1039L61.2 1038.3L61.8 1037.7L62.2 1037L62.8 1036.4L63.2 1035.7L63.8 1035.1L64.2 1034.4L64.8 1033.7L65.2 1032.9L65.8 1032.3L66.2 1031.6L66.8 1031.1L67.2 1030.6L67.8 1030.1L68.2 1029.7L68.8 1029.4L69.2 1029.2L69.8 1029L70.2 1028.8L70.8 1028.6L71.2 1028.4L71.8 1028.2L72.2 1028L72.8 1027.7L73.2 1027.4L73.8 1027.1L74.2 1026.9L74.8 1026.8L75.2 1026.7L75.8 1026.4L76.2 1026.1L76.8 1025.9L77.2 1025.7L77.8 1025.5L78.2 1025.2L78.8 1024.9L79.2 1024.6L79.8 1024.4L80.2 1024.7L80.8 1025.5L81.2 1026.1L81.8 1026.8L82.2 1027.4L82.8 1028L83.2 1028.7L83.8 1029.3L84.2 1030L84.8 1030.6L85.2 1031.3L85.8 1031.9L86.2 1032.6L86.8 1033.3L87.2 1034L87.8 1034.6L88.2 1035.2L88.8 1035.8L89.2 1036.5L89.8 1037.2L90.2 1037.9L90.8 1038.8L91.2 1039.6L91.8 1040.5L92.2 1041.4L92.8 1042.3L93.2 1043.2L93.8 1044.1L94.2 1045L94.8 1045.8L95.2 1046.6L95.8 1047.5L96.2 1048.4L96.8 1049.3L97.2 1050.2L97.8 1051.1L98.2 1052L98.8 1052.9L99.2 1053.9L99.8 1054.7L100.2 1055.8L100.8 1057.1L101.2 1058.4L101.8 1059.7L102.2 1061L102.8 1062.3L103.2 1063.9L103.8 1065.4L104.2 1066.7L104.8 1068L105.2 1068.8L105.8 1068.9L106.2 1069L106.8 1069.1L107.2 1069.3L107.8 1069.3L108.2 1069.4L108.8 1069.5L109.2 1069.5L109.8 1069.6L110.2 1069.8L110.8 1069.8L111.2 1069.8L111.8 1069.8L112.2 1069.7L112.8 1069.6L113.2 1069.7L113.8 1069.7L114.2 1069.7L114.8 1069.7L115.2 1069.7L115.8 1069.7L116.2 1069.5L116.8 1069.3L117.2 1069.2L117.8 1069.2L118.2 1069.2L118.8 1069.3L119.2 1069.4L119.8 1069.2L120.2 1069L120.8 1068.8L121.2 1068.5L121.8 1068.5L122.2 1068.6L122.8 1068.6L123.2 1068.5L123.8 1068.5L124.2 1068.4L124.8 1068.2L125.2 1067.8L125.8 1067.4L126.2 1067.8L126.8 1068.2L127.2 1068.2L127.8 1068.1L128.2 1067.9L128.8 1067.6L129.2 1067.1L129.8 1066.5L130.2 1066.4L130.8 1068L131.2 1069.7L131.8 1068.7L132.2 1067.6L132.8 1066.9L133.2 1066.2L133.8 1066.4L134.2 1067L134.8 1067.4L135.2 1067.3L135.8 1067.6L136.2 1069.1L136.8 1070.8L137.2 1070.1L137.8 1069.5L138.2 1068.6L138.8 1067.8L139.2 1068.5L139.8 1070.4L140.2 1071.4L140.8 1071L141.2 1070.5L141.8 1069.1L142.2 1067.6L142.8 1066.2L143.2 1064.8L143.8 1064.7L144.2 1064.8L144.8 1064.6L145.2 1064.3L145.8 1064L146.2 1063.8L146.8 1063.5L147.2 1063.2L147.8 1062.8L148.2 1063L148.8 1063.3L149.2 1062L149.8 1060.2L150.2 1060.8L150.8 1063.1L151.2 1063.2L151.8 1060L152.2 1057.7L152.8 1059.2L153.2 1060.8L153.8 1059.3L154.2 1057.9L154.8 1058.6L155.2 1059.9L155.8 1059.5L156.2 1058.1L156.8 1057.2L157.2 1057.3L157.8 1057.7L158.2 1059.1L158.8 1060.6L159.2 1058.8L159.8 1057L160.2 1056.4L160.8 1056.1L161.2 1056.4L161.8 1057.1L162.2 1057.3L162.8 1056.5L163.2 1056L163.8 1056.1L164.2 1056.3L164.8 1055.5L165.2 1054.7L165.8 1054.5L166.2 1054.4L166.8 1053.5L167.2 1052L167.8 1052L168.2 1054.3L168.8 1056L169.2 1055.1L169.8 1054.2L170.2 1055.3L170.8 1056.5L171.2 1056.4L171.8 1055.9L172.2 1056.6L172.8 1058L173.2 1058.6L173.8 1058.3L174.2 1057.8L174.8 1057.1L175.2 1056.4L175.8 1058.7L176.2 1061.1L176.8 1062.1L177.2 1062.7L177.8 1061.1L178.2 1058.2L178.8 1056.6L179.2 1057.1L179.8 1057.2L180.2 1056.1L180.8 1055L181.2 1054.6L181.8 1054.4L182.2 1056.5L182.8 1059.1L183.2 1058.6L183.8 1055.9L184.2 1054.7L184.8 1055.7L185.2 1056.8L185.8 1057.7L186.2 1058.6L186.8 1059L187.2 1059.4L187.8 1059.7L188.2 1060L188.8 1061.7L189.2 1064.3L189.8 1064.6L190.2 1061.5L190.8 1058.8L191.2 1058.5L191.8 1058.1L192.2 1058.7L192.8 1059.3L193.2 1058.8L193.8 1058L194.2 1058.1L194.8 1058.8L195.2 1059.2L195.8 1059.5L196.2 1059.7L196.8 1059.3L197.2 1059L197.8 1057.8L198.2 1056.5L198.8 1057.6L199.2 1059.3L199.8 1059.3L200.2 1058.2L200.8 1057.8L201.2 1059.1L201.8 1059.8L202.2 1057.9L202.8 1056.1L203.2 1056.5L203.8 1057L204.2 1057.3L204.8 1057.5L205.2 1056.8L205.8 1055.5L206.2 1055.1L206.8 1056.2L207.2 1056.8L207.8 1055.8L208.2 1054.9L208.8 1053.5L209.2 1052.1L209.8 1051.4L210.2 1050.9L210.8 1052.2L211.2 1054.7L211.8 1056.3L212.2 1056.4L212.8 1056.6L213.2 1056.9L213.8 1057.2L214.2 1055.4L214.8 1053.7L215.2 1052.2L215.8 1050.8L216.2 1052.6L216.8 1056.5L217.2 1058.5L217.8 1057.6L218.2 1056.8L218.8 1056.5L219.2 1056.2L219.8 1055.4L220.2 1054.7L220.8 1054.3L221.2 1054L221.8 1054.3L222.2 1055L222.8 1055.5L223.2 1055.7L223.8 1055.7L224.2 1054.7L224.8 1053.6L225.2 1056.1L225.8 1058.6L226.2 1057.1L226.8 1054.6L227.2 1053.7L227.8 1054.1L228.2 1054.2L228.8 1054.2L229.2 1054.6L229.8 1056.4L230.2 1058.1L230.8 1057.8L231.2 1057.6L231.8 1057.3L232.2 1057.1L232.8 1056.7L233.2 1056.4L233.8 1056.3L234.2 1056.8L234.8 1057L235.2 1055.7L235.8 1054.5L236.2 1053.8L236.8 1053.1L237.2 1054.1L237.8 1055.5L238.2 1055.6L238.8 1054.8L239.2 1053.8L239.8 1052.6L240.2 1051.9L240.8 1053.5L241.2 1055.1L241.8 1053.4L242.2 1051.8L242.8 1052.2L243.2 1052.9L243.8 1053L244.2 1052.7L244.8 1052.7L245.2 1052.9L245.8 1053.2L246.2 1053.2L246.8 1049.8L247.2 1045.8L247.8 1045.9L248.2 1048.4L248.8 1050.5L249.2 1050.5L249.8 1051.2L250.2 1052.1L250.8 1053.6L251.2 1054.9L251.8 1055.4L252.2 1055.9L252.8 1054.2L253.2 1052.5L253.8 1052.2L254.2 1052.3L254.8 1052.3L255.2 1052.3L255.8 1051.7L256.2 1050.1L256.8 1049.7L257.2 1054.3L257.8 1058.9L258.2 1056.9L258.8 1054.9L259.2 1053.6L259.8 1052.4L260.2 1050.5L260.8 1048L261.2 1047.7L261.8 1050.7L262.2 1053.3L262.8 1053.4L263.2 1053.5L263.8 1053L264.2 1052.4L264.8 1050.6L265.2 1048.3L265.8 1049.4L266.2 1052.9L266.8 1053.5L267.2 1049.9L267.8 1047.4L268.2 1049.3L268.8 1051.1L269.2 1056.1L269.8 1061L270.2 1058.2L270.8 1053.5L271.2 1051.3L271.8 1050.8L272.2 1050.6L272.8 1050.8L273.2 1050.7L273.8 1049L274.2 1047.4L274.8 1048.9L275.2 1050.5L275.8 1050.7L276.2 1050.5L276.8 1052L277.2 1054.5L277.8 1055L278.2 1052.3L278.8 1050.1L279.2 1049.6L279.8 1049.1L280.2 1047L280.8 1044.8L281.2 1047L281.8 1050.2L282.2 1050.2L282.8 1048.2L283.2 1047.2L283.8 1047.9L284.2 1048.2L284.8 1046.4L285.2 1042.6L285.8 1040.8L286.2 1039.1L286.8 1041.6L287.2 1043.4L287.8 1045.6L288.2 1047L288.8 1047.9L289.2 1048L289.8 1048.3L290.2 1049.2L290.8 1050.3L291.2 1048.8L291.8 1047.4L292.2 1047L292.8 1046.8L293.2 1046.9L293.8 1047.2L294.2 1047.7L294.8 1048.5L295.2 1048.8L295.8 1048.2L296.2 1047.4L296.8 1048.1L297.2 1048.8L297.8 1048.1L298.2 1047.1L298.8 1045.4L299.2 1043.2L299.8 1041.4L300.2 1040L300.8 1039.9L301.2 1045L301.8 1050.2L302.2 1047.1L302.8 1044L303.2 1041.3L303.8 1038.7L304.2 1040.9L304.8 1046.4L305.2 1047.7L305.8 1042.7L306.2 1037.9L306.8 1034.4L307.2 1030.8L307.8 1032.8L308.2 1034.9L308.8 1034.2L309.2 1032.9L309.8 1031L310.2 1021.5L310.8 1010.7L311.2 1006.7L311.8 1013.5L312.2 1027.5L312.8 1033.9L313.2 1035.5L313.8 1036.2L314.2 1025.8L314.8 1014.9L315.2 1013.2L315.8 1020.9L316.2 1030.2L316.8 1033.3L317.2 1035.1L317.8 1035.5L318.2 1035.4L318.8 1034.2L319.2 1032.9L319.8 1032.5L320.2 1032.2L320.8 1031.4L321.2 1030L321.8 1024.6L322.2 1018.7L322.8 1018.2L323.2 1025L323.8 1031.8L324.2 1032.9L324.8 1033.5L325.2 1031.2L325.8 1026.8L326.2 1021.7L326.8 1027L327.2 1033.2L327.8 1038.3L328.2 1040.5L328.8 1045.1L329.2 1049.3L329.8 1047.4L330.2 1045.4L330.8 1045.8L331.2 1046.7L331.8 1047.9L332.2 1048.3L332.8 1048.6L333.2 1048.9L333.8 1049.2L334.2 1049L334.8 1048.9L335.2 1046.9L335.8 1044.9L336.2 1045.9L336.8 1047.7L337.2 1048.8L337.8 1049.3L338.2 1049.2L338.8 1048.5L339.2 1047.5L339.8 1045.3L340.2 1043.1L340.8 1043.3L341.2 1043.5L341.8 1046.6L342.2 1050.7L342.8 1049.7L343.2 1045.3L343.8 1042.6L344.2 1042.7L344.8 1042.3L345.2 1039.9L345.8 1037.5L346.2 1039.5L346.8 1041.4L347.2 1042.5L347.8 1043.4L348.2 1040.9L348.8 1036L349.2 1033.5L349.8 1034.5L350.2 1035.6L350.8 1037.2L351.2 1038.7L351.8 1038L352.2 1037.2L352.8 1034.2L353.2 1030.6L353.8 1030.3L354.2 1031.2L354.8 1032.8L355.2 1036.9L355.8 1040.2L356.2 1034.5L356.8 1027.7L357.2 1031.7L357.8 1035.7L358.2 1035L358.8 1033.1L359.2 1033.3L359.8 1035L360.2 1035.9L360.8 1035.8L361.2 1035.7L361.8 1035L362.2 1034.4L362.8 1033.7L363.2 1032.6L363.8 1034.1L364.2 1036.3L364.8 1036.3L365.2 1035.1L365.8 1033.4L366.2 1031.1L366.8 1029.9L367.2 1032.7L367.8 1034.4L368.2 1030.6L368.8 1026.8L369.2 1028.9L369.8 1031.1L370.2 1031.9L370.8 1030.9L371.2 1029.9L371.8 1028.8L372.2 1028.9L372.8 1033.8L373.2 1038.8L373.8 1039.2L374.2 1039.7L374.8 1040L375.2 1039.5L375.8 1039.3L376.2 1039.9L376.8 1039.7L377.2 1038.3L377.8 1036.8L378.2 1035.3L378.8 1033.5L379.2 1031.4L379.8 1029.4L380.2 1030.6L380.8 1034.4L381.2 1036.6L381.8 1035.9L382.2 1035.8L382.8 1037L383.2 1038.4L383.8 1040.6L384.2 1042.9L384.8 1041.3L385.2 1039.7L385.8 1041.5L386.2 1044.2L386.8 1045.5L387.2 1045.9L387.8 1043.7L388.2 1037.5L388.8 1033.2L389.2 1038.2L389.8 1042.9L390.2 1043.6L390.8 1044.4L391.2 1046L391.8 1048L392.2 1047.2L392.8 1043.5L393.2 1039.4L393.8 1036.2L394.2 1033.2L394.8 1032.7L395.2 1029.6L395.8 1033.6L396.2 1027.3L396.8 1025.2L397.2 1013.2L397.8 1018.5L398.2 1007.3L398.8 1014.3L399.2 998.8L399.8 1012.1L400.2 989.3L400.8 1005.6L401.2 975.3L401.8 997.4L402.2 963.5L402.8 997.2L403.2 958.9L403.8 992.4L404.2 951.8L404.8 990.6L405.2 944.4L405.8 985.3L406.2 941.3L406.8 980L407.2 933.6L407.8 970.9L408.2 929.6L408.8 969.8L409.2 932.8L409.8 975.7L410.2 922L410.8 957.4L411.2 913.7L411.8 954.9L412.2 909.2L412.8 948.4L413.2 901.6L413.8 947.9L414.2 898.3L414.8 941.7L415.2 897.1L415.8 942.3L416.2 890.8L416.8 932.3L417.2 881.1L417.8 927.7L418.2 878.1L418.8 925.8L419.2 871.6L419.8 924.9L420.2 881.7L420.8 926.7L421.2 879.5L421.8 920L422.2 876.2L422.8 916.1L423.2 876.9L423.8 907.7L424.2 876.2L424.8 908.4L425.2 876.7L425.8 905L426.2 876.2L426.8 904.6L427.2 878.6L427.8 902.1L428.2 877.1L428.8 896.1L429.2 879.6L429.8 892.1L430.2 875.6L430.8 891.7L431.2 878.2L431.8 898.6L432.2 879.8L432.8 904.2L433.2 885.1L433.8 905.2L434.2 889.8L434.8 910.9L435.2 889.2L435.8 913.5L436.2 895L436.8 910.9L437.2 898.9L437.8 919.9L438.2 900.6L438.8 916L439.2 904.8L439.8 916.7L440.2 909.2L440.8 915.9L441.2 912.5L441.8 916.7L442.2 916.1L442.8 919.7L443.2 917.3L443.8 920.8L444.2 917.5L444.8 920.6L445.2 919.8L445.8 925.3L446.2 923.3L446.8 926.3L447.2 925.1L447.8 926.7L448.2 921L448.8 921.4L449.2 915.8L449.8 915.7L450.2 911.2L450.8 915.9L451.2 915.7L451.8 920.7L452.2 920L452.8 926.3L453.2 928.5L453.8 933.8L454.2 931.6L454.8 931.6L455.2 927.4L455.8 929.2L456.2 922.9L456.8 922.5L457.2 917.7L457.8 919.6L458.2 914.5L458.8 914.9L459.2 912.4L459.8 918.3L460.2 919L460.8 925.5L461.2 926L461.8 932.1L462.2 928L462.8 928.9L463.2 922.7L463.8 923.2L464.2 917.3L464.8 916.4L465.2 915.9L465.8 923L466.2 925.6L466.8 935.1L467.2 936.2L467.8 942.9L468.2 939.7L468.8 941.5L469.2 934.5L469.8 932.5L470.2 925.9L470.8 925.8L471.2 921.3L471.8 921.4L472.2 915.6L472.8 917.9L473.2 912.9L473.8 913.6L474.2 907.7L474.8 909.1L475.2 906.1L475.8 912.4L476.2 910.8L476.8 921.4L477.2 912.2L477.8 923.1L478.2 911.1L478.8 924L479.2 908.9L479.8 921.6L480.2 907.3L480.8 919.6L481.2 906.2L481.8 918L482.2 905.5L482.8 914.9L483.2 898.4L483.8 916.4L484.2 898.4L484.8 916.1L485.2 895.2L485.8 914.2L486.2 895.2L486.8 911.5L487.2 890L487.8 908.9L488.2 886.8L488.8 904.3L489.2 887.6L489.8 905.4L490.2 888.9L490.8 907.1L491.2 889.5L491.8 902.5L492.2 883.7L492.8 902L493.2 886.3L493.8 898.4L494.2 884.9L494.8 900.8L495.2 881.1L495.8 902.1L496.2 880.1L496.8 896.8L497.2 882.9L497.8 897.8L498.2 885.1L498.8 899.1L499.2 881.9L499.8 902.9L500.2 880.5L500.8 896L501.2 883.6L501.8 898.2L502.2 882.2L502.8 898.9L503.2 880.9L503.8 896.7L504.2 883.7L504.8 900L505.2 883.4L505.8 901.4L506.2 885.7L506.8 902L507.2 885.1L507.8 908.1L508.2 887.5L508.8 905.1L509.2 889L509.8 910.9L510.2 890.5L510.8 908.7L511.2 893.6L511.8 911.6L512.2 897.2L512.8 914L513.2 899.9L513.8 918.5L514.2 897.8L514.8 919.9L515.2 902.1L515.8 918.3L516.2 901.4L516.8 919.5L517.2 905.1L517.8 922L518.2 903L518.8 923.1L519.2 903.5L519.8 924.3L520.2 905.6L520.8 927.5L521.2 907.7L521.8 926.2L522.2 910.7L522.8 927L523.2 911.9L523.8 929.2L524.2 912.7L524.8 930.4L525.2 914.6L525.8 932.7L526.2 915.3L526.8 931.1L527.2 915.3L527.8 930.2L528.2 919.3L528.8 932.4L529.2 920L529.8 935.6L530.2 918.9L530.8 938.5L531.2 921.7L531.8 936.3L532.2 924L532.8 937.7L533.2 922.9L533.8 939.8L534.2 923.6L534.8 940.8L535.2 927.3L535.8 938.1L536.2 928.8L536.8 939.6L537.2 928.2L537.8 942.5L538.2 930.1L538.8 940.7L539.2 927.7L539.8 941.1L540.2 929.4L540.8 944.7L541.2 931.1L541.8 946.5L542.2 932L542.8 943L543.2 932.8L543.8 946.7L544.2 933.5L544.8 947L545.2 935.8L545.8 950.2L546.2 937.3L546.8 954L547.2 939.1L547.8 952.3L548.2 944L548.8 957.4L549.2 944L549.8 958.5L550.2 945.3L550.8 955.4L551.2 947.4L551.8 960.6L552.2 948.6L552.8 958.5L553.2 951.3L553.8 963.8L554.2 953.2L554.8 964.2L555.2 954.3L555.8 968.8L556.2 955.4L556.8 970.3L557.2 959.1L557.8 971.4L558.2 962.1L558.8 971.1L559.2 961.3L559.8 973.8L560.2 962.8L560.8 971L561.2 963.7L561.8 973.6L562.2 964.3L562.8 973.9L563.2 966.7L563.8 976.9L564.2 967.9L564.8 976.6L565.2 969.3L565.8 977.3L566.2 970.4L566.8 979.1L567.2 971.4L567.8 979.7L568.2 971.1L568.8 983.1L569.2 971.8L569.8 982.7L570.2 972.9L570.8 984L571.2 971.4L571.8 983.4L572.2 976.7L572.8 985.3L573.2 977.8L573.8 987.1L574.2 977.6L574.8 987.5L575.2 980.9L575.8 988.5L576.2 981.8L576.8 991.2L577.2 981.4L577.8 989.4L578.2 983.2L578.8 991.3L579.2 984.1L579.8 995L580.2 984.4L580.8 996.5L581.2 986L581.8 997.2L582.2 988.8L582.8 996.7L583.2 992.1L583.8 998.5L584.2 993.8L584.8 1001.5L585.2 994L585.8 1001L586.2 994.4L586.8 1000.2L587.2 995.3L587.8 1004L588.2 995.7L588.8 1003.3L589.2 996.6L589.8 1005.4L590.2 997.9L590.8 1006.7L591.2 999L591.8 1005.4L592.2 1000.9L592.8 1007.6L593.2 1001.1L593.8 1009.9L594.2 1001.6L594.8 1010.2L595.2 1003.1L595.8 1012.4L596.2 1003.1L596.8 1012.8L597.2 1005L597.8 1012.6L598.2 1006.9L598.8 1014.7L599.2 1008.3L599.8 1014.4L600.2 1010L600.8 1015.4L601.2 1010.7L601.8 1017.1L602.2 1011L602.8 1017.3L603.2 1011.6L603.8 1018.9L604.2 1012.8L604.8 1018.1L605.2 1014.5L605.8 1019.6L606.2 1014.9L606.8 1020.9L607.2 1015.1L607.8 1021.2L608.2 1016.5L608.8 1021.6L609.2 1017.7L609.8 1024L610.2 1018.7L610.8 1023.1L611.2 1019.8L611.8 1023.5L612.2 1020.5L612.8 1024.4L613.2 1020.9L613.8 1025.8L614.2 1020.9L614.8 1027.3L615.2 1022.3L615.8 1026.4L616.2 1023.5L616.8 1027.5L617.2 1023.8L617.8 1028.1L618.2 1024.1L618.8 1027.9L619.2 1025.5L619.8 1028.9L620.2 1025.8L620.8 1029.1L621.2 1025.4L621.8 1030.5L622.2 1026.4L622.8 1029.4L623.2 1026.8L623.8 1030.5L624.2 1026.4L624.8 1031.4L625.2 1027.3L625.8 1030.8L626.2 1027.7L626.8 1032.3L627.2 1028.4L627.8 1031.9L628.2 1029.1L628.8 1032.1L629.2 1030.3L629.8 1033.2L630.2 1030.5L630.8 1033.2L631.2 1030.4L631.8 1034.1L632.2 1030.7L632.8 1034.5L633.2 1031.4L633.8 1034.8L634.2 1031.9L634.8 1035.2L635.2 1032.2L635.8 1035.1L636.2 1032.6L636.8 1035.6L637.2 1033.6L637.8 1035.9L638.2 1034.7L638.8 1036.7L639.2 1034.5L639.8 1036.6L640.2 1034.5L640.8 1037.2L641.2 1035L641.8 1037L642.2 1035.2L642.8 1037.7L643.2 1035.4L643.8 1038.4L644.2 1035.9L644.8 1038.6L645.2 1036.2L645.8 1038.7L646.2 1037L646.8 1038.8L647.2 1037.5L647.8 1039.3L648.2 1037.7L648.8 1039.4L649.2 1038L649.8 1039.5L650.2 1038.4L650.8 1040.4L651.2 1038.8L651.8 1040.9L652.2 1039.3L652.8 1041.3L653.2 1039.7L653.8 1041.9L654.2 1040L654.8 1042.5L655.2 1040.4L655.8 1042.5L656.2 1040.8L656.8 1043L657.2 1041L657.8 1043.3L658.2 1041.3L658.8 1043.8L659.2 1041.9L659.8 1044.1L660.2 1042.5L660.8 1044L661.2 1042.9L661.8 1044.9L662.2 1043L662.8 1044.9L663.2 1043.4L663.8 1045.5L664.2 1043.9L664.8 1045.5L665.2 1044.3L665.8 1046.2L666.2 1044.7L666.8 1046.1L667.2 1045L667.8 1047L668.2 1045.1L668.8 1047.3L669.2 1045.5L669.8 1047.6L670.2 1046L670.8 1048L671.2 1046.4L671.8 1048.4L672.2 1046.9L672.8 1048.7L673.2 1047.3L673.8 1049.3L674.2 1047.8L674.8 1049.1L675.2 1048.1L675.8 1049.4L676.2 1048.5L676.8 1049.7L677.2 1048.8L677.8 1050.6L678.2 1049.2L678.8 1050.7L679.2 1049.8L679.8 1050.9L680.2 1050.2L680.8 1051.5L681.2 1050.5L681.8 1051.9L682.2 1051.1L682.8 1052.1L683.2 1051.3L683.8 1052.7L684.2 1051.5L684.8 1053.1L685.2 1052L685.8 1053.1L686.2 1052.1L686.8 1053.4L687.2 1052.2L687.8 1053.1L688.2 1052.2L688.8 1053.3L689.2 1052.3L689.8 1053.3L690.2 1052.5L690.8 1053.6L691.2 1052.5L691.8 1053.7L692.2 1052.7L692.8 1053.5L693.2 1052.9L693.8 1053.7L694.2 1053L694.8 1053.7L695.2 1053.2L695.8 1053.7L696.2 1053.2L696.8 1053.6L697.2 1053.3L697.8 1053.7L698.2 1053.5L698.8 1053.8L699.2 1053.6L699.8 1054L700.2 1053.7L700.8 1054.1L701.2 1053.8L701.8 1054L702.2 1053.8L702.8 1053.8L703.2 1053.5L703.8 1053.6L704.2 1053.5L704.8 1053.5L705.2 1053.5L705.8 1053.8L706.2 1054.2L706.8 1054.4L707.2 1054.2L707.8 1054.1L708.2 1054.1L708.8 1054L709.2 1053.8L709.8 1053.5L710.2 1053.5L710.8 1053.6L711.2 1053.7L711.8 1053.7L712.2 1053.8L712.8 1053.8L713.2 1053.8L713.8 1053.7L714.2 1053.5L714.8 1053.8L715.2 1054L715.8 1054.1L716.2 1054L716.8 1054L717.2 1053.9L717.8 1053.8L718.2 1053.7L718.8 1053.7L719.2 1053.8L719.8 1054L720.2 1053.9L720.8 1053.8L721.2 1054L721.8 1054.1L722.2 1054.1L722.8 1053.8L723.2 1053.7L723.8 1053.7L724.2 1053.8L724.8 1053.7L725.2 1053.7L725.8 1053.5L726.2 1053.3L726.8 1053.4L727.2 1053.7L727.8 1053.8L728.2 1053.9L728.8 1053.9L729.2 1053.9L729.8 1053.8L730.2 1053.8L730.8 1053.8L731.2 1054L731.8 1054.3L732.2 1054.2L732.8 1054L733.2 1054L733.8 1054.2L734.2 1054.3L734.8 1054.2L735.2 1054.2L735.8 1054.1L736.2 1054.1L736.8 1054.1L737.2 1054.1L737.8 1054.1L738.2 1054.1L738.8 1054.2L739.2 1054.3L739.8 1054.3L740.2 1054L740.8 1053.7L741.2 1053.8L741.8 1053.9L742.2 1054.1L742.8 1054.3L743.2 1054.4L743.8 1054.5L744.2 1054.5L744.8 1054.5L745.2 1054.4L745.8 1054.2L746.2 1054.1L746.8 1054.1L747.2 1054.1L747.8 1054.2L748.2 1054.4L748.8 1054.4L749.2 1054.3L749.8 1054.2L750.2 1054L750.8 1054L751.2 1054.3L751.8 1054.5L752.2 1054.5L752.8 1054.6L753.2 1054.6L753.8 1054.5L754.2 1054.7L754.8 1055L755.2 1054.9L755.8 1054.5L756.2 1054.3L756.8 1054.5L757.2 1054.6L757.8 1054.7L758.2 1054.7L758.8 1054.6L759.2 1054.6L759.8 1054.6L760.2 1054.6L760.8 1054.7L761.2 1054.8L761.8 1054.8L762.2 1054.7L762.8 1054.7L763.2 1054.7L763.8 1054.8L764.2 1054.8L764.8 1054.7L765.2 1054.6L765.8 1054.4L766.2 1054.3L766.8 1054.4L767.2 1054.5L767.8 1054.5L768.2 1054.4L768.8 1054.3L769.2 1054.2L769.8 1054.4L770.2 1054.5L770.8 1054.6L771.2 1054.6L771.8 1054.6L772.2 1054.5L772.8 1054.5L773.2 1054.7L773.8 1054.9L774.2 1054.8L774.8 1054.7L775.2 1054.8L775.8 1055L776.2 1054.8L776.8 1054.6L777.2 1054.5L777.8 1054.4L778.2 1054.5L778.8 1054.6L779.2 1054.8L779.8 1055L780.2 1055.1L780.8 1054.7L781.2 1054.4L781.8 1054.3L782.2 1054.3L782.8 1054.4" fill="none" stroke="#0000ff" stroke-width="1.35" stroke-linejoin="round" stroke-linecap="butt"/>
<circle cx="48.6" cy="1057" r="5.9" fill="none" stroke="#0000ff" stroke-width="1.05"/>
<circle cx="105.3" cy="1068.8" r="5.9" fill="none" stroke="#0000ff" stroke-width="1.05"/>
<circle cx="162" cy="1056.25" r="5.9" fill="none" stroke="#0000ff" stroke-width="1.05"/>
<circle cx="218.7" cy="1055" r="5.9" fill="none" stroke="#0000ff" stroke-width="1.05"/>
<circle cx="275.4" cy="1049.95" r="5.9" fill="none" stroke="#0000ff" stroke-width="1.05"/>
<circle cx="332.1" cy="1047.42" r="5.9" fill="none" stroke="#0000ff" stroke-width="1.05"/>
<circle cx="388.8" cy="1045.74" r="5.9" fill="none" stroke="#0000ff" stroke-width="1.05"/>
<circle cx="445.5" cy="905.7" r="5.9" fill="none" stroke="#0000ff" stroke-width="1.05"/>
<circle cx="502.2" cy="899.9" r="5.9" fill="none" stroke="#0000ff" stroke-width="1.05"/>
<circle cx="558.9" cy="966.56" r="5.9" fill="none" stroke="#0000ff" stroke-width="1.05"/>
<circle cx="615.6" cy="1025.02" r="5.9" fill="none" stroke="#0000ff" stroke-width="1.05"/>
<circle cx="672.3" cy="1047.71" r="5.9" fill="none" stroke="#0000ff" stroke-width="1.05"/>
<circle cx="729" cy="1053.76" r="5.9" fill="none" stroke="#0000ff" stroke-width="1.05"/>
<path d="M48.8 1073.8L49.2 1073.8L49.8 1074L50.2 1074L50.8 1073.9L51.2 1074L51.8 1074.2L52.2 1074.2L52.8 1073.9L53.2 1073.7L53.8 1073.7L54.2 1073.6L54.8 1073.8L55.2 1074L55.8 1073.8L56.2 1073.5L56.8 1073.4L57.2 1073.4L57.8 1073.4L58.2 1073.6L58.8 1073.7L59.2 1073.6L59.8 1073.4L60.2 1073.6L60.8 1073.7L61.2 1073.8L61.8 1073.9L62.2 1073.9L62.8 1073.9L63.2 1073.8L63.8 1073.5L64.2 1073.3L64.8 1073.4L65.2 1073.6L65.8 1073.7L66.2 1073.8L66.8 1073.7L67.2 1073.5L67.8 1073.5L68.2 1073.7L68.8 1074L69.2 1074.4L69.8 1074.7L70.2 1074.4L70.8 1074.2L71.2 1074.2L71.8 1074.3L72.2 1074.4L72.8 1074.5L73.2 1074.7L73.8 1074.9L74.2 1075L74.8 1075L75.2 1074.9L75.8 1074.9L76.2 1074.8L76.8 1074.9L77.2 1075L77.8 1075.6L78.2 1076.3L78.8 1076.5L79.2 1076.2L79.8 1076.2L80.2 1076.5L80.8 1076.8L81.2 1077.3L81.8 1077.8L82.2 1078L82.8 1078.2L83.2 1078.5L83.8 1078.8L84.2 1079.2L84.8 1079.6L85.2 1079.8L85.8 1079.7L86.2 1079.8L86.8 1080.3L87.2 1080.7L87.8 1081.1L88.2 1081.6L88.8 1081.6L89.2 1081.5L89.8 1081.7L90.2 1082L90.8 1082.2L91.2 1082.4L91.8 1082.6L92.2 1083L92.8 1083.4L93.2 1084L93.8 1084.6L94.2 1084.7L94.8 1084.8L95.2 1084.9L95.8 1085L96.2 1085.1L96.8 1085.2L97.2 1085.4L97.8 1085.9L98.2 1086.4L98.8 1086.3L99.2 1086.2L99.8 1086.2L100.2 1086.1L100.8 1086.4L101.2 1086.7L101.8 1087L102.2 1087.5L102.8 1087.9L103.2 1088L103.8 1088L104.2 1088.2L104.8 1088.4L105.2 1087.3L105.8 1085.6L106.2 1085.3L106.8 1086.1L107.2 1086.4L107.8 1086L108.2 1085.5L108.8 1084.7L109.2 1083.9L109.8 1083L110.2 1082.1L110.8 1081.5L111.2 1080.9L111.8 1080.6L112.2 1080.6L112.8 1080.4L113.2 1079.7L113.8 1079.1L114.2 1078.9L114.8 1078.6L115.2 1078.8L115.8 1079.1L116.2 1079.2L116.8 1079.3L117.2 1079.1L117.8 1078.6L118.2 1078L118.8 1077.4L119.2 1076.8L119.8 1076.6L120.2 1076.6L120.8 1076.7L121.2 1076.7L121.8 1076.6L122.2 1076.4L122.8 1076.8L123.2 1077.5L123.8 1077.9L124.2 1077.7L124.8 1077.1L125.2 1075.1L125.8 1073L126.2 1073.6L126.8 1074.3L127.2 1074.4L127.8 1074.4L128.2 1074.5L128.8 1074.7L129.2 1074.8L129.8 1074.7L130.2 1074.7L130.8 1074.5L131.2 1074.3L131.8 1074.1L132.2 1073.8L132.8 1072.5L133.2 1071L133.8 1070.3L134.2 1070L134.8 1070.8L135.2 1073.2L135.8 1074.9L136.2 1073.3L136.8 1071.7L137.2 1072.1L137.8 1072.6L138.2 1073.4L138.8 1074.3L139.2 1074.1L139.8 1073.1L140.2 1072.6L140.8 1072.9L141.2 1072.5L141.8 1069.3L142.2 1066.1L142.8 1069.1L143.2 1072.3L143.8 1072.8L144.2 1072.7L144.8 1072.3L145.2 1071.8L145.8 1071.6L146.2 1072.1L146.8 1072.3L147.2 1071L147.8 1069.7L148.2 1069.1L148.8 1068.5L149.2 1069.2L149.8 1070.1L150.2 1070.9L150.8 1071.5L151.2 1071.6L151.8 1070.8L152.2 1070.3L152.8 1070.8L153.2 1071.5L153.8 1072.6L154.2 1073.7L154.8 1073.8L155.2 1073.6L155.8 1074.6L156.2 1076.4L156.8 1077.2L157.2 1076.4L157.8 1075.2L158.2 1073.2L158.8 1071.3L159.2 1076.1L159.8 1081L160.2 1079.5L160.8 1076.4L161.2 1073.6L161.8 1070.9L162.2 1069.4L162.8 1070L163.2 1070.5L163.8 1070.6L164.2 1070.8L164.8 1070.8L165.2 1070.8L165.8 1069.6L166.2 1068.1L166.8 1068.9L167.2 1071.1L167.8 1071.7L168.2 1069.9L168.8 1068.9L169.2 1071.5L169.8 1074.1L170.2 1073.5L170.8 1073L171.2 1075.5L171.8 1078.7L172.2 1080.5L172.8 1081.4L173.2 1082L173.8 1082.4L174.2 1082.9L174.8 1084.3L175.2 1085.6L175.8 1081.7L176.2 1077.8L176.8 1076.9L177.2 1076.8L177.8 1079.6L178.2 1084.5L178.8 1085.1L179.2 1079.2L179.8 1074.7L180.2 1075.2L180.8 1075.7L181.2 1074.5L181.8 1073.8L182.2 1074.4L182.8 1075.5L183.2 1076.4L183.8 1077.3L184.2 1077.6L184.8 1077L185.2 1077.5L185.8 1082.3L186.2 1086.6L186.8 1087.2L187.2 1087.7L187.8 1082.7L188.2 1076.3L188.8 1074.1L189.2 1074.7L189.8 1075.2L190.2 1075.7L190.8 1075.4L191.2 1071.9L191.8 1068.5L192.2 1070.2L192.8 1071.9L193.2 1072.6L193.8 1072.9L194.2 1074.6L194.8 1077.1L195.2 1076.5L195.8 1071.1L196.2 1067.6L196.8 1071.9L197.2 1076.2L197.8 1075.2L198.2 1074.2L198.8 1074L199.2 1074L199.8 1073.5L200.2 1072.9L200.8 1073.3L201.2 1075.2L201.8 1076.7L202.2 1076.9L202.8 1077.2L203.2 1074.2L203.8 1070.9L204.2 1067.7L204.8 1065.5L205.2 1065L205.8 1067.1L206.2 1070.8L206.8 1073.2L207.2 1074.4L207.8 1071.7L208.2 1069L208.8 1071.2L209.2 1073.3L209.8 1076.1L210.2 1079.3L210.8 1072.5L211.2 1059.1L211.8 1054.4L212.2 1062.8L212.8 1071.2L213.2 1078.9L213.8 1086.6L214.2 1080.3L214.8 1074.3L215.2 1073.9L215.8 1075L216.2 1076.2L216.8 1077.3L217.2 1078.2L217.8 1078.5L218.2 1078.3L218.8 1075.6L219.2 1072.7L219.8 1075.9L220.2 1079.2L220.8 1077.3L221.2 1074.1L221.8 1075.6L222.2 1080.3L222.8 1080.2L223.2 1072.9L223.8 1067.3L224.2 1068.9L224.8 1070.4L225.2 1073.8L225.8 1077.1L226.2 1076.7L226.8 1075.4L227.2 1076.9L227.8 1080.2L228.2 1081.5L228.8 1079.4L229.2 1077L229.8 1074.3L230.2 1071.6L230.8 1074.5L231.2 1077.4L231.8 1075.3L232.2 1072L232.8 1070.2L233.2 1069.5L233.8 1069L234.2 1068.7L234.8 1069.4L235.2 1073.7L235.8 1078.1L236.2 1072.5L236.8 1067L237.2 1068L237.8 1070.7L238.2 1069.6L238.8 1066L239.2 1065.5L239.8 1069.8L240.2 1073.2L240.8 1072.7L241.2 1072.3L241.8 1071.3L242.2 1070.3L242.8 1070.9L243.2 1071.9L243.8 1072.6L244.2 1073L244.8 1072L245.2 1068.9L245.8 1067.4L246.2 1072.4L246.8 1081.9L247.2 1085.8L247.8 1084.6L248.2 1082.9L248.8 1082.3L249.2 1081.8L249.8 1079L250.2 1078.2L250.8 1080.3L251.2 1081.4L251.8 1078L252.2 1074.5L252.8 1073.8L253.2 1073.1L253.8 1075.1L254.2 1077.9L254.8 1077.7L255.2 1075.5L255.8 1074.5L256.2 1075.3L256.8 1075.9L257.2 1075.9L257.8 1076L258.2 1074.3L258.8 1072.6L259.2 1072.1L259.8 1071.9L260.2 1070.7L260.8 1068.9L261.2 1068.3L261.8 1069.4L262.2 1070.9L262.8 1074.4L263.2 1077.8L263.8 1078.3L264.2 1078.9L264.8 1077.5L265.2 1075.7L265.8 1075.2L266.2 1075.5L266.8 1075.1L267.2 1073.5L267.8 1072.5L268.2 1073.9L268.8 1075.4L269.2 1075.2L269.8 1075L270.2 1075L270.8 1075.1L271.2 1077.6L271.8 1081.4L272.2 1082.4L272.8 1079L273.2 1076.1L273.8 1074.9L274.2 1073.8L274.8 1073.3L275.2 1072.9L275.8 1072.6L276.2 1072.6L276.8 1075.3L277.2 1079.8L277.8 1081.1L278.2 1077.7L278.8 1074.4L279.2 1071.2L279.8 1068.1L280.2 1067.9L280.8 1067.9L281.2 1068.2L281.8 1068.6L282.2 1070.4L282.8 1073.1L283.2 1074.6L283.8 1074.6L284.2 1075.3L284.8 1078.8L285.2 1082.4L285.8 1082.6L286.2 1082.8L286.8 1080.4L287.2 1077.5L287.8 1076.9L288.2 1077.8L288.8 1078.7L289.2 1079.5L289.8 1079.6L290.2 1076.9L290.8 1074.2L291.2 1076.4L291.8 1078.5L292.2 1075.6L292.8 1071.5L293.2 1070.6L293.8 1071.8L294.2 1074.2L294.8 1078.2L295.2 1080.5L295.8 1076.6L296.2 1072.3L296.8 1070.5L297.2 1068.7L297.8 1069.3L298.2 1070.6L298.8 1069L299.2 1065.6L299.8 1064.4L300.2 1066.5L300.8 1067.4L301.2 1063.1L301.8 1051.6L302.2 1047.3L302.8 1051.7L303.2 1059.8L303.8 1066.6L304.2 1067L304.8 1067.1L305.2 1068L305.8 1069.9L306.2 1071.3L306.8 1070.4L307.2 1069.6L307.8 1073.4L308.2 1077.2L308.8 1075.1L309.2 1071.7L309.8 1075.8L310.2 1084.8L310.8 1087.6L311.2 1081.1L311.8 1075.5L312.2 1073.2L312.8 1070.8L313.2 1079.1L313.8 1087.1L314.2 1088.3L314.8 1087.9L315.2 1086.8L315.8 1085.3L316.2 1085.8L316.8 1095.2L317.2 1102.6L317.8 1092.1L318.2 1072.2L318.8 1072.7L319.2 1080.2L319.8 1076L320.2 1070.3L320.8 1069.6L321.2 1071.1L321.8 1072.2L322.2 1072.9L322.8 1072.9L323.2 1070.6L323.8 1068.4L324.2 1069.4L324.8 1070.4L325.2 1072.4L325.8 1074.8L326.2 1075.1L326.8 1074L327.2 1073.3L327.8 1073.3L328.2 1073.7L328.8 1076.2L329.2 1078.8L329.8 1078.3L330.2 1077.5L330.8 1076.3L331.2 1075.1L331.8 1072.1L332.2 1067.8L332.8 1066.9L333.2 1071L333.8 1074.1L334.2 1073.3L334.8 1072.5L335.2 1072.8L335.8 1073.1L336.2 1073.4L336.8 1073.7L337.2 1072.9L337.8 1071.2L338.2 1070.7L338.8 1072L339.2 1072.1L339.8 1067.4L340.2 1062.7L340.8 1065L341.2 1067.3L341.8 1067.6L342.2 1067.4L342.8 1066.4L343.2 1064.7L343.8 1063.8L344.2 1064L344.8 1064.7L345.2 1067.3L345.8 1070L346.2 1066.7L346.8 1063.5L347.2 1063.1L347.8 1063.4L348.2 1062.9L348.8 1061.8L349.2 1062.9L349.8 1067L350.2 1069.8L350.8 1067.3L351.2 1064.8L351.8 1066.1L352.2 1067.4L352.8 1065.9L353.2 1063.6L353.8 1066.4L354.2 1072.6L354.8 1074.7L355.2 1070.5L355.8 1066.9L356.2 1066.5L356.8 1066.1L357.2 1063.1L357.8 1060.2L358.2 1061.5L358.8 1063.7L359.2 1062.7L359.8 1060.8L360.2 1061.1L360.8 1063.3L361.2 1065.4L361.8 1065.3L362.2 1065L362.8 1070.7L363.2 1076.4L363.8 1073.1L364.2 1067.5L364.8 1067.1L365.2 1070.3L365.8 1073.3L366.2 1075.9L366.8 1077.9L367.2 1077.3L367.8 1076.6L368.2 1076.8L368.8 1077.2L369.2 1081.6L369.8 1086.2L370.2 1087L370.8 1084.4L371.2 1082L371.8 1082.7L372.2 1083.3L372.8 1082.2L373.2 1081.1L373.8 1082.7L374.2 1084.2L374.8 1082L375.2 1078.7L375.8 1077.8L376.2 1078.5L376.8 1080.3L377.2 1083.7L377.8 1085.9L378.2 1083.5L378.8 1081L379.2 1080.2L379.8 1079.3L380.2 1081.2L380.8 1084.1L381.2 1081.5L381.8 1075.3L382.2 1074.2L382.8 1081.1L383.2 1086L383.8 1083.6L384.2 1081.2L384.8 1082.3L385.2 1083.3L385.8 1082L386.2 1080L386.8 1076.7L387.2 1072.5L387.8 1070L388.2 1070.2L388.8 1071.3L389.2 1075.8L389.8 1080.6L390.2 1088.6L390.8 1099.2L391.2 1107.6L391.8 1100.1L392.2 1088.4L392.8 1076.1L393.2 1069.9L393.8 1067.2L394.2 1064.9L394.8 1067.3L395.2 1064.6L395.8 1066L396.2 1059.8L396.8 1064.6L397.2 1044.3L397.8 1055.6L398.2 1044.1L398.8 1061.3L399.2 1035.3L399.8 1065.6L400.2 1033.1L400.8 1051.4L401.2 1038.4L401.8 1049.8L402.2 1031.3L402.8 1055.1L403.2 1026.6L403.8 1043.9L404.2 1026L404.8 1055.8L405.2 1026.8L405.8 1041.2L406.2 1023.3L406.8 1045.3L407.2 1024.7L407.8 1037.7L408.2 1020.8L408.8 1045.8L409.2 1017.1L409.8 1039.1L410.2 1025.4L410.8 1037.7L411.2 1023.2L411.8 1044.3L412.2 1017.3L412.8 1047.4L413.2 1022.7L413.8 1036.6L414.2 1027.1L414.8 1041.2L415.2 1027.4L415.8 1038.5L416.2 1024.9L416.8 1039.4L417.2 1021.6L417.8 1045.8L418.2 1022.3L418.8 1037.8L419.2 1020.6L419.8 1047.2L420.2 1024L420.8 1038L421.2 1024.1L421.8 1047.1L422.2 1023.5L422.8 1036.8L423.2 1025.6L423.8 1043.7L424.2 1019.9L424.8 1045.3L425.2 1019.9L425.8 1037.1L426.2 1021.1L426.8 1044.8L427.2 1022.1L427.8 1043.4L428.2 1018.1L428.8 1043.7L429.2 1019.8L429.8 1036.6L430.2 1020L430.8 1042.3L431.2 1018.9L431.8 1049.6L432.2 1022.5L432.8 1046.1L433.2 1030.8L433.8 1045.3L434.2 1032.9L434.8 1047.2L435.2 1029.1L435.8 1054L436.2 1030.3L436.8 1047.4L437.2 1034.1L437.8 1046.8L438.2 1034.5L438.8 1058.7L439.2 1029.5L439.8 1055.8L440.2 1033.5L440.8 1048.7L441.2 1034.7L441.8 1061.3L442.2 1030.2L442.8 1059.4L443.2 1036L443.8 1049.1L444.2 1039L444.8 1053.8L445.2 1036.4L445.8 1053.4L446.2 1035.3L446.8 1058.2L447.2 1033.3L447.8 1061.6L448.2 1033.2L448.8 1056.5L449.2 1033.9L449.8 1059.6L450.2 1039.5L450.8 1055.3L451.2 1038.7L451.8 1058.5L452.2 1036.9L452.8 1057L453.2 1038.1L453.8 1055.1L454.2 1038.3L454.8 1055.9L455.2 1040.2L455.8 1055L456.2 1044.5L456.8 1055.5L457.2 1043.8L457.8 1059.2L458.2 1040.7L458.8 1058.7L459.2 1039.2L459.8 1061L460.2 1034.4L460.8 1064.7L461.2 1040.2L461.8 1059.1L462.2 1042.7L462.8 1058.2L463.2 1040.6L463.8 1066L464.2 1038.9L464.8 1065.1L465.2 1042.2L465.8 1062.4L466.2 1042.7L466.8 1063.4L467.2 1044.4L467.8 1058.9L468.2 1048.3L468.8 1057.1L469.2 1043.8L469.8 1065L470.2 1038.7L470.8 1058.5L471.2 1041.6L471.8 1052.1L472.2 1041.6L472.8 1057.4L473.2 1040.5L473.8 1053L474.2 1038.3L474.8 1056.8L475.2 1030.9L475.8 1049.7L476.2 1033.1L476.8 1058L477.2 1035L477.8 1055.2L478.2 1039.8L478.8 1051.2L479.2 1039.8L479.8 1046.9L480.2 1031.3L480.8 1057.6L481.2 1036.2L481.8 1050.9L482.2 1037.5L482.8 1056.8L483.2 1036.8L483.8 1049.3L484.2 1041.9L484.8 1052.5L485.2 1041L485.8 1049.1L486.2 1038.4L486.8 1059.1L487.2 1038.5L487.8 1051.5L488.2 1039.8L488.8 1054L489.2 1039.4L489.8 1049.8L490.2 1039.9L490.8 1054.1L491.2 1035.8L491.8 1059.4L492.2 1035.8L492.8 1055.6L493.2 1040.5L493.8 1051.6L494.2 1039.3L494.8 1060.4L495.2 1041.1L495.8 1051.7L496.2 1039L496.8 1058.5L497.2 1036.6L497.8 1053.9L498.2 1040.2L498.8 1055.1L499.2 1040L499.8 1060.1L500.2 1040.9L500.8 1057.6L501.2 1042.1L501.8 1061.1L502.2 1043.8L502.8 1054L503.2 1046.5L503.8 1055L504.2 1048.9L504.8 1060.4L505.2 1049.5L505.8 1059.8L506.2 1050.5L506.8 1061.2L507.2 1051.7L507.8 1063.6L508.2 1053.3L508.8 1063.1L509.2 1056.2L509.8 1065.3L510.2 1060L510.8 1065.1L511.2 1062.3L511.8 1070L512.2 1064.7L512.8 1069.8L513.2 1067.4L513.8 1070.6L514.2 1068.3L514.8 1072.3L515.2 1070.1L515.8 1073.4L516.2 1072.8L516.8 1073.5L517.2 1071.9L517.8 1072L518.2 1070L518.8 1071L519.2 1068L519.8 1069.7L520.2 1066.6L520.8 1068.4L521.2 1065.7L521.8 1068.2L522.2 1064.5L522.8 1067.3L523.2 1064L523.8 1065.7L524.2 1063.6L524.8 1064.7L525.2 1062.6L525.8 1065L526.2 1062.8L526.8 1063.9L527.2 1062.3L527.8 1064.5L528.2 1061.9L528.8 1063.7L529.2 1061.8L529.8 1064L530.2 1061.3L530.8 1063.7L531.2 1061.1L531.8 1062.9L532.2 1061.2L532.8 1062.4L533.2 1061.1L533.8 1062.1L534.2 1060.5L534.8 1062.3L535.2 1060.1L535.8 1062L536.2 1060.1L536.8 1061.6L537.2 1060L537.8 1061.1L538.2 1059.7L538.8 1061.2L539.2 1058.7L539.8 1060.6L540.2 1059.1L540.8 1060.3L541.2 1059.4L541.8 1060.5L542.2 1058.8L542.8 1061L543.2 1058.7L543.8 1060.1L544.2 1059L544.8 1060.3L545.2 1058.4L545.8 1060.4L546.2 1058L546.8 1060L547.2 1058.4L547.8 1060.5L548.2 1058.4L548.8 1059.5L549.2 1058.7L549.8 1059.6L550.2 1058.3L550.8 1060L551.2 1058.3L551.8 1059.4L552.2 1058.2L552.8 1059.8L553.2 1057.7L553.8 1059.9L554.2 1057.5L554.8 1059.5L555.2 1057.8L555.8 1058.9L556.2 1057.7L556.8 1059.3L557.2 1057.1L557.8 1059.4L558.2 1056.6L558.8 1059.2L559.2 1056.7L559.8 1059.4L560.2 1057.2L560.8 1059.4L561.2 1057.4L561.8 1059.5L562.2 1057.5L562.8 1059.5L563.2 1057.5L563.8 1059.4L564.2 1057.8L564.8 1059.2L565.2 1058.2L565.8 1059.5L566.2 1058.1L566.8 1059.6L567.2 1057.6L567.8 1060L568.2 1057.9L568.8 1059.7L569.2 1058.3L569.8 1060.5L570.2 1057.9L570.8 1060.3L571.2 1058.2L571.8 1060.2L572.2 1058.4L572.8 1060.2L573.2 1058.3L573.8 1060.3L574.2 1058.3L574.8 1060.1L575.2 1058.6L575.8 1060.5L576.2 1058.6L576.8 1060.9L577.2 1058.7L577.8 1060.5L578.2 1059.2L578.8 1060.2L579.2 1059.6L579.8 1060.3L580.2 1059.7L580.8 1060.6L581.2 1059.8L581.8 1062.2L582.2 1060.6L582.8 1062.3L583.2 1061.2L583.8 1062.9L584.2 1061.9L584.8 1063.1L585.2 1062.4L585.8 1064.1L586.2 1062.4L586.8 1064.9L587.2 1063.4L587.8 1065.1L588.2 1064.5L588.8 1065.6L589.2 1065L589.8 1066L590.2 1065.6L590.8 1066.6L591.2 1065.8L591.8 1067.9L592.2 1066.2L592.8 1068L593.2 1066.9L593.8 1069.1L594.2 1067.4L594.8 1069.5L595.2 1067.8L595.8 1069.8L596.2 1068.1L596.8 1070.6L597.2 1068.7L597.8 1071L598.2 1069.5L598.8 1070.5L599.2 1070.1L599.8 1070.9L600.2 1070.5L600.8 1071.4L601.2 1070.8L601.8 1072.2L602.2 1070.8L602.8 1072.9L603.2 1070.9L603.8 1072.9L604.2 1071.7L604.8 1073.3L605.2 1071.8L605.8 1073.9L606.2 1072.1L606.8 1074.4L607.2 1072.4L607.8 1074.8L608.2 1072.9L608.8 1075.2L609.2 1073.3L609.8 1075.5L610.2 1073.5L610.8 1075L611.2 1073.8L611.8 1075.3L612.2 1073.9L612.8 1075.6L613.2 1074.1L613.8 1075.4L614.2 1073.9L614.8 1075.8L615.2 1074.5L615.8 1075.7L616.2 1074.7L616.8 1075.5L617.2 1074.6L617.8 1076L618.2 1074.4L618.8 1076.2L619.2 1074.3L619.8 1075.6L620.2 1074.6L620.8 1075.7L621.2 1074.7L621.8 1076.4L622.2 1074.8L622.8 1076.2L623.2 1074.8L623.8 1076.8L624.2 1074.9L624.8 1076.3L625.2 1075.1L625.8 1076.9L626.2 1075.2L626.8 1076.5L627.2 1076L627.8 1076.6L628.2 1075.8L628.8 1076.7L629.2 1075.6L629.8 1077.4L630.2 1075.3L630.8 1077.4L631.2 1075.3L631.8 1077L632.2 1075.7L632.8 1076.5L633.2 1075.6L633.8 1077.2L634.2 1075.3L634.8 1077.1L635.2 1075.1L635.8 1077L636.2 1075.2L636.8 1077.2L637.2 1075.2L637.8 1077L638.2 1075L638.8 1076.9L639.2 1075.1L639.8 1076.7L640.2 1075L640.8 1076.7L641.2 1074.9L641.8 1076.9L642.2 1074.9L642.8 1076.5L643.2 1075.1L643.8 1076.2L644.2 1075L644.8 1076.8L645.2 1074.7L645.8 1076.8L646.2 1074.8L646.8 1076.5L647.2 1075L647.8 1076.4L648.2 1074.9L648.8 1076.7L649.2 1074.5L649.8 1076.6L650.2 1074.6L650.8 1076.2L651.2 1074.9L651.8 1076.2L652.2 1074.9L652.8 1076.1L653.2 1074.8L653.8 1076.3L654.2 1074.8L654.8 1076.3L655.2 1074.8L655.8 1076.1L656.2 1074.9L656.8 1075.8L657.2 1074.8L657.8 1075.9L658.2 1074.4L658.8 1076L659.2 1074.2L659.8 1076.3L660.2 1074.7L660.8 1075.6L661.2 1074.2L661.8 1075.6L662.2 1073.9L662.8 1075.5L663.2 1074.1L663.8 1075.4L664.2 1073.9L664.8 1075.2L665.2 1073.6L665.8 1075.3L666.2 1073.6L666.8 1074.5L667.2 1073.7L667.8 1074.5L668.2 1073.7L668.8 1074.5L669.2 1073.7L669.8 1074.4L670.2 1073.7L670.8 1074.3L671.2 1073.5L671.8 1074.2L672.2 1073.2L672.8 1074.6L673.2 1073.1L673.8 1074L674.2 1073L674.8 1074.5L675.2 1072.7L675.8 1074.6L676.2 1072.8L676.8 1074.6L677.2 1073.1L677.8 1074.6L678.2 1073.1L678.8 1074.2L679.2 1073.1L679.8 1074L680.2 1073.1L680.8 1074.1L681.2 1072.7L681.8 1074.5L682.2 1072.7L682.8 1074.3L683.2 1072.8L683.8 1074L684.2 1072.7L684.8 1074L685.2 1072.8L685.8 1073.8L686.2 1072.7L686.8 1074.2L687.2 1072.7L687.8 1073.5L688.2 1073L688.8 1073.6L689.2 1073L689.8 1073.6L690.2 1072.8L690.8 1073.7L691.2 1073L691.8 1073.5L692.2 1072.8L692.8 1073.6L693.2 1072.5L693.8 1073.9L694.2 1072.4L694.8 1074.1L695.2 1072.3L695.8 1073.8L696.2 1072.2L696.8 1073.8L697.2 1072.3L697.8 1073.4L698.2 1072.5L698.8 1073L699.2 1072.4L699.8 1073.6L700.2 1072.3L700.8 1073.9L701.2 1072.3L701.8 1073.6L702.2 1072.5L702.8 1073.3L703.2 1072.3L703.8 1073.5L704.2 1072.5L704.8 1073.1L705.2 1072.3L705.8 1073.8L706.2 1072.4L706.8 1073.4L707.2 1072.4L707.8 1073.5L708.2 1072.3L708.8 1073.1L709.2 1072.2L709.8 1073.5L710.2 1071.9L710.8 1073.8L711.2 1071.9L711.8 1073.8L712.2 1072.1L712.8 1073.5L713.2 1072.3L713.8 1073.2L714.2 1072.3L714.8 1073.4L715.2 1072.2L715.8 1073L716.2 1072.3L716.8 1073.5L717.2 1072.1L717.8 1073.1L718.2 1072L718.8 1073.6L719.2 1071.9L719.8 1073.3L720.2 1072L720.8 1073.5L721.2 1072.1L721.8 1073.1L722.2 1072.3L722.8 1072.9L723.2 1072.1L723.8 1072.8L724.2 1071.9L724.8 1073.4L725.2 1072.1L725.8 1073L726.2 1072L726.8 1073L727.2 1071.9L727.8 1073.4L728.2 1071.9L728.8 1073.1L729.2 1072L729.8 1073.7L730.2 1072L730.8 1073L731.2 1072.1L731.8 1073.5L732.2 1071.9L732.8 1073.5L733.2 1071.9L733.8 1073L734.2 1072.2L734.8 1073.3L735.2 1072.2L735.8 1073.3L736.2 1072.4L736.8 1073.5L737.2 1072.1L737.8 1073.4L738.2 1072.1L738.8 1073.6L739.2 1072.2L739.8 1073.3L740.2 1072.5L740.8 1073.4L741.2 1072.4L741.8 1073.8L742.2 1072.3L742.8 1073.5L743.2 1072.3L743.8 1073.8L744.2 1072.3L744.8 1073.7L745.2 1072.5L745.8 1073.5L746.2 1072.9L746.8 1073.4L747.2 1072.4L747.8 1073.8L748.2 1072.5L748.8 1073.4L749.2 1072.7L749.8 1073.4L750.2 1072.5L750.8 1073.8L751.2 1072.4L751.8 1073.9L752.2 1072.6L752.8 1073.7L753.2 1072.5L753.8 1074L754.2 1072.3L754.8 1074.1L755.2 1072.6L755.8 1073.5L756.2 1072.8L756.8 1073.7L757.2 1072.7L757.8 1074L758.2 1072.6L758.8 1074L759.2 1072.8L759.8 1073.7L760.2 1072.6L760.8 1073.5L761.2 1072.6L761.8 1073.8L762.2 1072.6L762.8 1073.9L763.2 1072.6L763.8 1074L764.2 1072.6L764.8 1074L765.2 1072.6L765.8 1073.9L766.2 1072.8L766.8 1073.7L767.2 1072.7L767.8 1073.9L768.2 1073L768.8 1073.6L769.2 1072.9L769.8 1074L770.2 1072.5L770.8 1074.1L771.2 1072.6L771.8 1073.5L772.2 1072.8L772.8 1074L773.2 1072.6L773.8 1073.7L774.2 1072.5L774.8 1074.1L775.2 1072.6L775.8 1073.8L776.2 1073L776.8 1073.5L777.2 1073L777.8 1073.8L778.2 1072.7L778.8 1074L779.2 1072.6L779.8 1073.6L780.2 1073L780.8 1073.4L781.2 1072.7L781.8 1073.3L782.2 1072.7L782.8 1073.7" fill="none" stroke="#3a7d3c" stroke-width="1.35" stroke-linejoin="round" stroke-linecap="butt"/>
<path d="M48.6 1067.75L49.95 1071.9L54.31 1071.9L50.78 1074.46L52.13 1078.6L48.6 1076.04L45.07 1078.6L46.42 1074.46L42.89 1071.9L47.25 1071.9Z" fill="none" stroke="#3a7d3c" stroke-width="1.05" stroke-linejoin="miter"/>
<path d="M105.3 1082.4L106.65 1086.55L111.01 1086.55L107.48 1089.11L108.83 1093.25L105.3 1090.69L101.77 1093.25L103.12 1089.11L99.59 1086.55L103.95 1086.55Z" fill="none" stroke="#3a7d3c" stroke-width="1.05" stroke-linejoin="miter"/>
<path d="M162 1065.37L163.35 1069.51L167.71 1069.51L164.18 1072.08L165.53 1076.22L162 1073.66L158.47 1076.22L159.82 1072.08L156.29 1069.51L160.65 1069.51Z" fill="none" stroke="#3a7d3c" stroke-width="1.05" stroke-linejoin="miter"/>
<path d="M218.7 1071.81L220.05 1075.96L224.41 1075.96L220.88 1078.52L222.23 1082.66L218.7 1080.1L215.17 1082.66L216.52 1078.52L212.99 1075.96L217.35 1075.96Z" fill="none" stroke="#3a7d3c" stroke-width="1.05" stroke-linejoin="miter"/>
<path d="M275.4 1068.66L276.75 1072.81L281.11 1072.81L277.58 1075.37L278.93 1079.52L275.4 1076.96L271.87 1079.52L273.22 1075.37L269.69 1072.81L274.05 1072.81Z" fill="none" stroke="#3a7d3c" stroke-width="1.05" stroke-linejoin="miter"/>
<path d="M332.1 1067.82L333.45 1071.97L337.81 1071.97L334.28 1074.53L335.63 1078.68L332.1 1076.12L328.57 1078.68L329.92 1074.53L326.39 1071.97L330.75 1071.97Z" fill="none" stroke="#3a7d3c" stroke-width="1.05" stroke-linejoin="miter"/>
<path d="M388.8 1077.48L390.15 1081.62L394.51 1081.62L390.98 1084.18L392.33 1088.33L388.8 1085.77L385.27 1088.33L386.62 1084.18L383.09 1081.62L387.45 1081.62Z" fill="none" stroke="#3a7d3c" stroke-width="1.05" stroke-linejoin="miter"/>
<path d="M445.5 1039.6L446.85 1043.75L451.21 1043.75L447.68 1046.31L449.03 1050.45L445.5 1047.89L441.97 1050.45L443.32 1046.31L439.79 1043.75L444.15 1043.75Z" fill="none" stroke="#3a7d3c" stroke-width="1.05" stroke-linejoin="miter"/>
<path d="M502.2 1045.83L503.55 1049.98L507.91 1049.98L504.38 1052.54L505.73 1056.69L502.2 1054.13L498.67 1056.69L500.02 1052.54L496.49 1049.98L500.85 1049.98Z" fill="none" stroke="#3a7d3c" stroke-width="1.05" stroke-linejoin="miter"/>
<path d="M558.9 1052.28L560.25 1056.43L564.61 1056.43L561.08 1058.99L562.43 1063.14L558.9 1060.57L555.37 1063.14L556.72 1058.99L553.19 1056.43L557.55 1056.43Z" fill="none" stroke="#3a7d3c" stroke-width="1.05" stroke-linejoin="miter"/>
<path d="M615.6 1068.99L616.95 1073.14L621.31 1073.14L617.78 1075.7L619.13 1079.84L615.6 1077.28L612.07 1079.84L613.42 1075.7L609.89 1073.14L614.25 1073.14Z" fill="none" stroke="#3a7d3c" stroke-width="1.05" stroke-linejoin="miter"/>
<path d="M672.3 1067.74L673.65 1071.88L678.01 1071.88L674.48 1074.44L675.83 1078.59L672.3 1076.03L668.77 1078.59L670.12 1074.44L666.59 1071.88L670.95 1071.88Z" fill="none" stroke="#3a7d3c" stroke-width="1.05" stroke-linejoin="miter"/>
<path d="M729 1066.51L730.35 1070.66L734.71 1070.66L731.18 1073.22L732.53 1077.37L729 1074.81L725.47 1077.37L726.82 1073.22L723.29 1070.66L727.65 1070.66Z" fill="none" stroke="#3a7d3c" stroke-width="1.05" stroke-linejoin="miter"/>
<path d="M48.8 1073.8L49.2 1073.7L49.8 1073.5L50.2 1073.4L50.8 1073.3L51.2 1073.3L51.8 1073.3L52.2 1073.3L52.8 1073L53.2 1072.8L53.8 1072.8L54.2 1072.7L54.8 1072.4L55.2 1072.1L55.8 1072.1L56.2 1072.3L56.8 1072.2L57.2 1071.9L57.8 1071.7L58.2 1071.6L58.8 1071.5L59.2 1071.2L59.8 1070.9L60.2 1070.9L60.8 1070.8L61.2 1070.8L61.8 1070.7L62.2 1070.6L62.8 1070.4L63.2 1070.3L63.8 1070.2L64.2 1070.1L64.8 1070L65.2 1070L65.8 1070L66.2 1070L66.8 1069.7L67.2 1069.5L67.8 1069.5L68.2 1069.8L68.8 1070L69.2 1070.1L69.8 1070.2L70.2 1070.4L70.8 1070.5L71.2 1070.2L71.8 1069.8L72.2 1070L72.8 1070.5L73.2 1070.5L73.8 1070.2L74.2 1070.1L74.8 1070.1L75.2 1070.2L75.8 1071.1L76.2 1072L76.8 1070.9L77.2 1069.8L77.8 1069.9L78.2 1070.4L78.8 1070.6L79.2 1070.6L79.8 1070.8L80.2 1071.4L80.8 1071.7L81.2 1071.4L81.8 1071.1L82.2 1071.8L82.8 1072.5L83.2 1072.7L83.8 1072.7L84.2 1073L84.8 1073.3L85.2 1073.5L85.8 1073.5L86.2 1073.5L86.8 1074.1L87.2 1074.6L87.8 1075L88.2 1075.5L88.8 1075.8L89.2 1076.2L89.8 1076.4L90.2 1076.6L90.8 1076.7L91.2 1076.8L91.8 1076.8L92.2 1077L92.8 1077.3L93.2 1077.4L93.8 1077.6L94.2 1077.7L94.8 1077.7L95.2 1077.9L95.8 1078.1L96.2 1078.6L96.8 1079.6L97.2 1080.3L97.8 1079.8L98.2 1079.4L98.8 1079.6L99.2 1079.8L99.8 1080.2L100.2 1080.6L100.8 1081L101.2 1081.4L101.8 1081.3L102.2 1080.6L102.8 1080.1L103.2 1080.8L103.8 1081.6L104.2 1082.2L104.8 1082.8L105.2 1082.7L105.8 1082.4L106.2 1081.6L106.8 1080.3L107.2 1080L107.8 1081.1L108.2 1082L108.8 1081.9L109.2 1081.8L109.8 1082L110.2 1082.2L110.8 1082L111.2 1081.8L111.8 1082.4L112.2 1083.7L112.8 1084.1L113.2 1082.9L113.8 1081.9L114.2 1081.3L114.8 1080.7L115.2 1081.2L115.8 1081.6L116.2 1081.5L116.8 1081.2L117.2 1080.3L117.8 1078.8L118.2 1078.2L118.8 1078.8L119.2 1079.6L119.8 1080.5L120.2 1081.4L120.8 1080.8L121.2 1080.1L121.8 1079.5L122.2 1078.9L122.8 1078.9L123.2 1079.3L123.8 1079.4L124.2 1079.2L124.8 1079.1L125.2 1078.6L125.8 1078.1L126.2 1077.8L126.8 1077.4L127.2 1077.9L127.8 1078.6L128.2 1078.9L128.8 1078.8L129.2 1078.7L129.8 1078.6L130.2 1078.4L130.8 1078.1L131.2 1077.9L131.8 1077.5L132.2 1077.2L132.8 1077.3L133.2 1077.4L133.8 1077.3L134.2 1077L134.8 1076.9L135.2 1077.4L135.8 1077.7L136.2 1077.3L136.8 1076.9L137.2 1076.9L137.8 1077L138.2 1076.1L138.8 1075L139.2 1074.5L139.8 1074.2L140.2 1074.2L140.8 1074.7L141.2 1074.9L141.8 1073.9L142.2 1072.9L142.8 1072.9L143.2 1073L143.8 1073.1L144.2 1073.3L144.8 1072.5L145.2 1071.2L145.8 1070.8L146.2 1071.9L146.8 1072.9L147.2 1073.5L147.8 1074.2L148.2 1074.1L148.8 1073.9L149.2 1073.7L149.8 1073.4L150.2 1073.4L150.8 1073.7L151.2 1073.9L151.8 1074L152.2 1073.9L152.8 1072.8L153.2 1071.8L153.8 1072.6L154.2 1073.4L154.8 1073.7L155.2 1074L155.8 1073.5L156.2 1072.5L156.8 1072L157.2 1072L157.8 1071.9L158.2 1071L158.8 1070.2L159.2 1070.2L159.8 1070.2L160.2 1069.4L160.8 1068.4L161.2 1068.2L161.8 1068.3L162.2 1068.9L162.8 1070L163.2 1070.8L163.8 1070.3L164.2 1069.9L164.8 1069.9L165.2 1070L165.8 1071.2L166.2 1072.8L166.8 1071.5L167.2 1068.4L167.8 1066.5L168.2 1066.6L168.8 1066.8L169.2 1067.5L169.8 1068.2L170.2 1067.6L170.8 1067L171.2 1067.3L171.8 1067.9L172.2 1068.5L172.8 1069.3L173.2 1069.4L173.8 1068.8L174.2 1068L174.8 1067.1L175.2 1066.3L175.8 1067.1L176.2 1068L176.8 1068.2L177.2 1068.2L177.8 1068.9L178.2 1070L178.8 1070.4L179.2 1069.7L179.8 1069.4L180.2 1070.8L180.8 1072.1L181.2 1071.4L181.8 1070.5L182.2 1069.4L182.8 1068.1L183.2 1069.9L183.8 1073.6L184.2 1075.2L184.8 1073.8L185.2 1072.7L185.8 1073.4L186.2 1074.1L186.8 1073.9L187.2 1073.8L187.8 1076.7L188.2 1080.3L188.8 1079.2L189.2 1074.9L189.8 1072.7L190.2 1073.5L190.8 1074.1L191.2 1074.3L191.8 1074.5L192.2 1074.9L192.8 1075.3L193.2 1075.5L193.8 1075.7L194.2 1074.4L194.8 1072L195.2 1071.3L195.8 1073.4L196.2 1075.5L196.8 1077.3L197.2 1079.2L197.8 1078.5L198.2 1077.7L198.8 1076.2L199.2 1074.5L199.8 1074.4L200.2 1075.4L200.8 1076L201.2 1075.7L201.8 1075.5L202.2 1075.7L202.8 1075.8L203.2 1074L203.8 1072.2L204.2 1070.7L204.8 1069.3L205.2 1070.7L205.8 1074.1L206.2 1076L206.8 1075.6L207.2 1075.4L207.8 1075.6L208.2 1075.8L208.8 1074.6L209.2 1073.4L209.8 1074.9L210.2 1077.2L210.8 1075.5L211.2 1071.1L211.8 1070.1L212.2 1073.9L212.8 1077.1L213.2 1077.2L213.8 1077.3L214.2 1076.9L214.8 1076.2L215.2 1078L215.8 1080.4L216.2 1077.5L216.8 1071.1L217.2 1068.1L217.8 1070.2L218.2 1072L218.8 1072.1L219.2 1072.4L219.8 1073.1L220.2 1073.9L220.8 1074.8L221.2 1075.8L221.8 1075.8L222.2 1075.3L222.8 1074.9L223.2 1074.6L223.8 1074.4L224.2 1074.3L224.8 1074.3L225.2 1075L225.8 1075.7L226.2 1075.7L226.8 1075.6L227.2 1075.9L227.8 1076.5L228.2 1075.9L228.8 1073.6L229.2 1071.6L229.8 1071.1L230.2 1070.6L230.8 1072.3L231.2 1074.1L231.8 1074.5L232.2 1074.6L232.8 1075.1L233.2 1075.7L233.8 1075.9L234.2 1075.4L234.8 1074.8L235.2 1073.9L235.8 1073L236.2 1075.4L236.8 1077.8L237.2 1076.3L237.8 1073.8L238.2 1073L238.8 1073.3L239.2 1073.4L239.8 1073L240.2 1072.8L240.8 1073.1L241.2 1073.5L241.8 1074.9L242.2 1076.3L242.8 1076.4L243.2 1076L243.8 1076.1L244.2 1076.5L244.8 1076.1L245.2 1074.6L245.8 1073.5L246.2 1074.5L246.8 1075.4L247.2 1076.5L247.8 1077.4L248.2 1076.7L248.8 1075.5L249.2 1075.6L249.8 1076.6L250.2 1075.7L250.8 1071.9L251.2 1069.3L251.8 1070.8L252.2 1072.3L252.8 1072.4L253.2 1072.5L253.8 1073.8L254.2 1075.4L254.8 1075.7L255.2 1075.1L255.8 1074.4L256.2 1073.5L256.8 1072.9L257.2 1073L257.8 1073.1L258.2 1074.2L258.8 1075.4L259.2 1073.4L259.8 1070.8L260.2 1070.1L260.8 1070.7L261.2 1071.2L261.8 1071.6L262.2 1072.1L262.8 1072.8L263.2 1073.6L263.8 1072.6L264.2 1071.5L264.8 1071.5L265.2 1071.7L265.8 1073.2L266.2 1075.7L266.8 1075.8L267.2 1072.3L267.8 1069.8L268.2 1071.4L268.8 1073L269.2 1073.1L269.8 1073.1L270.2 1071.2L270.8 1068.7L271.2 1070.2L271.8 1074.4L272.2 1075.3L272.8 1071.5L273.2 1068.1L273.8 1066.9L274.2 1065.8L274.8 1067.8L275.2 1069.9L275.8 1069.7L276.2 1069.3L276.8 1069.8L277.2 1070.9L277.8 1071.5L278.2 1071.7L278.8 1072L279.2 1072.4L279.8 1072.9L280.2 1071.6L280.8 1070.2L281.2 1068.7L281.8 1067.2L282.2 1067.7L282.8 1069.6L283.2 1070L283.8 1068.1L284.2 1066.5L284.8 1066.4L285.2 1066.3L285.8 1065.5L286.2 1064.2L286.8 1059.9L287.2 1056L287.8 1057L288.2 1062.7L288.8 1067.8L289.2 1067.7L289.8 1067.2L290.2 1067L290.8 1066.7L291.2 1069.2L291.8 1071.6L292.2 1069.4L292.8 1066.1L293.2 1065.2L293.8 1066L294.2 1067L294.8 1068.3L295.2 1069.8L295.8 1070.3L296.2 1070.6L296.8 1070.3L297.2 1070L297.8 1071.8L298.2 1074.1L298.8 1075.5L299.2 1076.1L299.8 1075.3L300.2 1072.6L300.8 1070.2L301.2 1069.5L301.8 1068.8L302.2 1068.7L302.8 1068.6L303.2 1068.1L303.8 1067.5L304.2 1069.9L304.8 1074.7L305.2 1076.5L305.8 1073.2L306.2 1069.6L306.8 1061.4L307.2 1053.2L307.8 1054.4L308.2 1062.5L308.8 1069.9L309.2 1070.9L309.8 1069.4L310.2 1066.8L310.8 1065.2L311.2 1065.2L311.8 1065.7L312.2 1068.4L312.8 1066.9L313.2 1059.3L313.8 1051.8L314.2 1057.2L314.8 1062.5L315.2 1066.6L315.8 1067.5L316.2 1068.4L316.8 1069L317.2 1069.5L317.8 1069.6L318.2 1070L318.8 1072.9L319.2 1075.9L319.8 1075L320.2 1073.2L320.8 1071.6L321.2 1070.2L321.8 1071.2L322.2 1076.1L322.8 1079.3L323.2 1076.3L323.8 1073.8L324.2 1077.3L324.8 1080.9L325.2 1081.9L325.8 1078.5L326.2 1074.3L326.8 1073.8L327.2 1073.5L327.8 1072.9L328.2 1072.1L328.8 1070.8L329.2 1069.5L329.8 1073.2L330.2 1077.2L330.8 1071.5L331.2 1063.4L331.8 1063.1L332.2 1068.1L332.8 1070.9L333.2 1070.2L333.8 1070.4L334.2 1074.2L334.8 1078L335.2 1075.4L335.8 1072.8L336.2 1072.3L336.8 1072.4L337.2 1073L337.8 1074.1L338.2 1072.6L338.8 1067.1L339.2 1063L339.8 1064.2L340.2 1065.4L340.8 1068.1L341.2 1070.7L341.8 1074L342.2 1077.3L342.8 1077.2L343.2 1074.9L343.8 1072.7L344.2 1070.8L344.8 1068.9L345.2 1067.6L345.8 1066.3L346.2 1067.3L346.8 1068.3L347.2 1068.7L347.8 1068.9L348.2 1069.4L348.8 1070.1L349.2 1069.5L349.8 1066.8L350.2 1065.2L350.8 1068.4L351.2 1071.5L351.8 1070.5L352.2 1069.4L352.8 1068.1L353.2 1066.6L353.8 1064.6L354.2 1062.2L354.8 1061.7L355.2 1063.9L355.8 1065.7L356.2 1066.1L356.8 1066.7L357.2 1066.7L357.8 1066.7L358.2 1065.3L358.8 1063.6L359.2 1064.8L359.8 1067.8L360.2 1069.4L360.8 1068.9L361.2 1068.2L361.8 1067.2L362.2 1066.3L362.8 1063.9L363.2 1061.5L363.8 1060.4L364.2 1057L364.8 1054.6L365.2 1056.7L365.8 1062L366.2 1066.4L366.8 1067.9L367.2 1068.4L367.8 1069L368.2 1071.2L368.8 1073.4L369.2 1074L369.8 1074.3L370.2 1075.2L370.8 1076.3L371.2 1076.1L371.8 1073.9L372.2 1071.7L372.8 1070L373.2 1068.3L373.8 1071.8L374.2 1075.4L374.8 1077.5L375.2 1080.4L375.8 1081.9L376.2 1081.7L376.8 1078.5L377.2 1077.8L377.8 1076.3L378.2 1069.4L378.8 1062.4L379.2 1063.9L379.8 1065.4L380.2 1067.5L380.8 1069.8L381.2 1070.8L381.8 1070.7L382.2 1070.2L382.8 1069.2L383.2 1068.8L383.8 1070.2L384.2 1071.6L384.8 1069.8L385.2 1068.1L385.8 1066.2L386.2 1064.2L386.8 1065.2L387.2 1068.1L387.8 1069.2L388.2 1067.7L388.8 1066.1L389.2 1064.6L389.8 1063.5L390.2 1068.6L390.8 1073.9L391.2 1072.6L391.8 1069.7L392.2 1068.8L392.8 1069.3L393.2 1069.9L393.8 1070.7L394.2 1070.9L394.8 1069L395.2 1067.2L395.8 1069.8L396.2 1072.4L396.8 1073.1L397.2 1073.2L397.8 1071.9L398.2 1069.5L398.8 1068.5L399.2 1069.6L399.8 1070.4L400.2 1066.2L400.8 1062.2L401.2 1052.8L401.8 1072.3L402.2 1073.1L402.8 1096.2L403.2 1086.5L403.8 1114.1L404.2 1089.8L404.8 1118.3L405.2 1098L405.8 1112.9L406.2 1103.7L406.8 1123.4L407.2 1101.4L407.8 1127.4L408.2 1107L408.8 1129.5L409.2 1105.9L409.8 1132.2L410.2 1106L410.8 1133.3L411.2 1109.3L411.8 1126.3L412.2 1106.1L412.8 1127.9L413.2 1105.2L413.8 1125.2L414.2 1107.3L414.8 1131.4L415.2 1105.7L415.8 1124.1L416.2 1106.2L416.8 1133.3L417.2 1108.2L417.8 1126L418.2 1112.1L418.8 1126.5L419.2 1106.7L419.8 1132.4L420.2 1110L420.8 1126.5L421.2 1111.7L421.8 1131.1L422.2 1112.4L422.8 1128.7L423.2 1110.1L423.8 1132.9L424.2 1104.7L424.8 1131.8L425.2 1108.6L425.8 1127.7L426.2 1108.7L426.8 1133.3L427.2 1104.5L427.8 1131.3L428.2 1106.9L428.8 1125.1L429.2 1109.5L429.8 1128.8L430.2 1108L430.8 1130.9L431.2 1106L431.8 1131.9L432.2 1103.7L432.8 1133.1L433.2 1105.8L433.8 1123.4L434.2 1107.3L434.8 1131.4L435.2 1108.5L435.8 1126.5L436.2 1112L436.8 1126.2L437.2 1113.8L437.8 1129.1L438.2 1113.4L438.8 1135.5L439.2 1107.3L439.8 1125.4L440.2 1105.4L440.8 1130L441.2 1102.2L441.8 1129.1L442.2 1107.5L442.8 1126.8L443.2 1112.8L443.8 1125.1L444.2 1115.8L444.8 1126.3L445.2 1113.2L445.8 1131.9L446.2 1112.6L446.8 1124.6L447.2 1110.2L447.8 1130.3L448.2 1108.4L448.8 1122L449.2 1114.8L449.8 1123.6L450.2 1110.7L450.8 1131.4L451.2 1108.7L451.8 1127.8L452.2 1106.9L452.8 1127.8L453.2 1103.1L453.8 1131.4L454.2 1100.5L454.8 1117.4L455.2 1104.8L455.8 1121.7L456.2 1106.3L456.8 1127.4L457.2 1103L457.8 1130.8L458.2 1102.2L458.8 1128L459.2 1106.2L459.8 1125.6L460.2 1105.7L460.8 1124.8L461.2 1104L461.8 1126.1L462.2 1105.4L462.8 1121.6L463.2 1103.3L463.8 1114.3L464.2 1107.8L464.8 1122.4L465.2 1106.1L465.8 1125.6L466.2 1105.1L466.8 1116.4L467.2 1103.4L467.8 1129.9L468.2 1107.5L468.8 1127.3L469.2 1109.8L469.8 1134.1L470.2 1101.2L470.8 1131.4L471.2 1104.6L471.8 1121.6L472.2 1105.3L472.8 1130.8L473.2 1103.1L473.8 1128.1L474.2 1104.3L474.8 1130.5L475.2 1104.1L475.8 1126.5L476.2 1102.6L476.8 1125.7L477.2 1103.8L477.8 1131.7L478.2 1104.5L478.8 1130L479.2 1105.9L479.8 1123L480.2 1108.8L480.8 1126.1L481.2 1109.8L481.8 1123.3L482.2 1111.2L482.8 1121L483.2 1108.8L483.8 1130.1L484.2 1104.3L484.8 1130.8L485.2 1102.4L485.8 1133.1L486.2 1109.9L486.8 1126.8L487.2 1109.8L487.8 1129.9L488.2 1105.7L488.8 1128.8L489.2 1107.3L489.8 1120.5L490.2 1108.1L490.8 1124.9L491.2 1109.9L491.8 1123.6L492.2 1106.2L492.8 1132.8L493.2 1106.3L493.8 1126.8L494.2 1107.7L494.8 1134.9L495.2 1105.7L495.8 1133.7L496.2 1105L496.8 1134.2L497.2 1106.2L497.8 1123.5L498.2 1108.4L498.8 1125.3L499.2 1108.6L499.8 1121.6L500.2 1111.4L500.8 1120.9L501.2 1112.1L501.8 1120.1L502.2 1111.2L502.8 1120.6L503.2 1111.2L503.8 1122.9L504.2 1110.5L504.8 1124.6L505.2 1107.1L505.8 1131.4L506.2 1105.8L506.8 1122.1L507.2 1102.9L507.8 1128.3L508.2 1104.1L508.8 1116.5L509.2 1107.7L509.8 1113.3L510.2 1097.8L510.8 1107.8L511.2 1094.5L511.8 1101.4L512.2 1092L512.8 1097.9L513.2 1083.8L513.8 1083.3L514.2 1076L514.8 1074.6L515.2 1067.4L515.8 1071.7L516.2 1064.4L516.8 1069.9L517.2 1069.5L517.8 1078.1L518.2 1076.9L518.8 1084L519.2 1081.6L519.8 1087.4L520.2 1083.8L520.8 1088.2L521.2 1086.7L521.8 1091.1L522.2 1088.3L522.8 1094.2L523.2 1090.4L523.8 1095.9L524.2 1092.2L524.8 1094.8L525.2 1091.4L525.8 1095.8L526.2 1090.4L526.8 1094L527.2 1089.8L527.8 1094.2L528.2 1089.9L528.8 1092.6L529.2 1090.3L529.8 1091.7L530.2 1088.7L530.8 1092.2L531.2 1087.8L531.8 1091.8L532.2 1088L532.8 1091.8L533.2 1087.8L533.8 1091.4L534.2 1087.4L534.8 1091L535.2 1087.5L535.8 1089.9L536.2 1088L536.8 1089.3L537.2 1087.2L537.8 1090.3L538.2 1086.7L538.8 1089.1L539.2 1086.8L539.8 1088.6L540.2 1086.9L540.8 1088.1L541.2 1086.3L541.8 1089L542.2 1085.6L542.8 1088.3L543.2 1085.8L543.8 1087.4L544.2 1085.4L544.8 1088.1L545.2 1084.8L545.8 1086.6L546.2 1084.7L546.8 1086.3L547.2 1084.1L547.8 1086.7L548.2 1083.6L548.8 1085.2L549.2 1083.1L549.8 1085.1L550.2 1082.3L550.8 1085.1L551.2 1082.6L551.8 1084.2L552.2 1082.1L552.8 1084.2L553.2 1081.2L553.8 1083.9L554.2 1080.8L554.8 1083.6L555.2 1080.3L555.8 1082.7L556.2 1080.2L556.8 1081.3L557.2 1079.9L557.8 1081L558.2 1079.6L558.8 1080.3L559.2 1079.5L559.8 1080.3L560.2 1079.3L560.8 1081L561.2 1078.5L561.8 1080.2L562.2 1078.6L562.8 1079.6L563.2 1078.4L563.8 1079.7L564.2 1078.1L564.8 1079.4L565.2 1077.7L565.8 1079.9L566.2 1078.1L566.8 1079.4L567.2 1078.1L567.8 1079.5L568.2 1077L568.8 1079.1L569.2 1076.9L569.8 1078.9L570.2 1077.3L570.8 1078.4L571.2 1076.3L571.8 1078.5L572.2 1076.3L572.8 1078L573.2 1077L573.8 1078.1L574.2 1076.8L574.8 1078.8L575.2 1076.6L575.8 1079.1L576.2 1077L576.8 1078.3L577.2 1077.2L577.8 1078.7L578.2 1077L578.8 1078.8L579.2 1077.2L579.8 1078.8L580.2 1077.7L580.8 1078.7L581.2 1078L581.8 1078.8L582.2 1077.9L582.8 1079.2L583.2 1077.4L583.8 1079.5L584.2 1077.6L584.8 1078.9L585.2 1078.3L585.8 1079.2L586.2 1078.1L586.8 1079.5L587.2 1078L587.8 1079.3L588.2 1077.9L588.8 1080.1L589.2 1078.1L589.8 1079.5L590.2 1078.5L590.8 1079.9L591.2 1078.4L591.8 1080.2L592.2 1078.4L592.8 1080.4L593.2 1078.9L593.8 1080.3L594.2 1078.8L594.8 1080.8L595.2 1078.8L595.8 1080.6L596.2 1079.1L596.8 1080.5L597.2 1079.5L597.8 1080.4L598.2 1079.5L598.8 1080.9L599.2 1079.2L599.8 1081.4L600.2 1079.6L600.8 1081.1L601.2 1080.1L601.8 1081.1L602.2 1080.1L602.8 1082.4L603.2 1080.8L603.8 1081.7L604.2 1080.1L604.8 1081.7L605.2 1080.3L605.8 1082L606.2 1080.7L606.8 1081.7L607.2 1081L607.8 1081.9L608.2 1081L608.8 1082.1L609.2 1081.1L609.8 1082.1L610.2 1081.3L610.8 1082.2L611.2 1081.2L611.8 1082.8L612.2 1081.3L612.8 1083L613.2 1081.9L613.8 1083L614.2 1081.8L614.8 1083.8L615.2 1081.9L615.8 1083.5L616.2 1081.6L616.8 1083.5L617.2 1081.6L617.8 1083.4L618.2 1081.9L618.8 1083.7L619.2 1081.9L619.8 1084.1L620.2 1082.2L620.8 1083.4L621.2 1082.6L621.8 1083.3L622.2 1082.3L622.8 1084.1L623.2 1081.9L623.8 1084L624.2 1082L624.8 1084.5L625.2 1082.6L625.8 1084.1L626.2 1083L626.8 1083.9L627.2 1082.9L627.8 1084.4L628.2 1083.1L628.8 1084.2L629.2 1083.2L629.8 1085.2L630.2 1082.9L630.8 1084.6L631.2 1083.3L631.8 1084.4L632.2 1083.5L632.8 1084.3L633.2 1083.3L633.8 1085.2L634.2 1083L634.8 1085.5L635.2 1083.3L635.8 1085.1L636.2 1083.3L636.8 1084.8L637.2 1083.5L637.8 1084.9L638.2 1083.3L638.8 1085.3L639.2 1082.9L639.8 1084.9L640.2 1082.9L640.8 1084.9L641.2 1083.2L641.8 1084.6L642.2 1083.2L642.8 1085L643.2 1082.9L643.8 1084.6L644.2 1082.8L644.8 1084.5L645.2 1082.9L645.8 1084.3L646.2 1083L646.8 1084.2L647.2 1083.1L647.8 1083.9L648.2 1082.5L648.8 1084.2L649.2 1082.9L649.8 1083.9L650.2 1082.6L650.8 1084.2L651.2 1082.5L651.8 1083.6L652.2 1082.7L652.8 1083.8L653.2 1082.6L653.8 1083.2L654.2 1082.2L654.8 1084L655.2 1082.1L655.8 1083.2L656.2 1082.1L656.8 1083.7L657.2 1082L657.8 1082.8L658.2 1082.1L658.8 1082.8L659.2 1081.8L659.8 1082.6L660.2 1081.5L660.8 1082.7L661.2 1081.3L661.8 1082.6L662.2 1080.9L662.8 1082.6L663.2 1080.6L663.8 1082.2L664.2 1080.8L664.8 1081.8L665.2 1080.7L665.8 1081.4L666.2 1080.5L666.8 1081.3L667.2 1080.2L667.8 1081.5L668.2 1079.9L668.8 1081.3L669.2 1079.8L669.8 1081L670.2 1079.7L670.8 1080.4L671.2 1079.6L671.8 1080.7L672.2 1079.3L672.8 1080.4L673.2 1079L673.8 1080.3L674.2 1078.6L674.8 1080.4L675.2 1078.7L675.8 1079.5L676.2 1078.7L676.8 1079.2L677.2 1078.1L677.8 1079.1L678.2 1077.6L678.8 1078.8L679.2 1077.4L679.8 1078.8L680.2 1077.5L680.8 1078.4L681.2 1077.4L681.8 1078.4L682.2 1077L682.8 1078.1L683.2 1076.6L683.8 1078.1L684.2 1076.4L684.8 1078.1L685.2 1076.3L685.8 1077.7L686.2 1076.3L686.8 1078.1L687.2 1076.1L687.8 1078L688.2 1076.1L688.8 1077.9L689.2 1076.1L689.8 1077.9L690.2 1075.9L690.8 1078.1L691.2 1076L691.8 1077.9L692.2 1076L692.8 1077.6L693.2 1076.4L693.8 1077.2L694.2 1076.4L694.8 1077.4L695.2 1076.3L695.8 1077.2L696.2 1076.7L696.8 1077.5L697.2 1076.4L697.8 1077.7L698.2 1076.1L698.8 1077.5L699.2 1076.3L699.8 1077L700.2 1076.2L700.8 1077.3L701.2 1076L701.8 1077.4L702.2 1075.8L702.8 1077.6L703.2 1075.8L703.8 1077.3L704.2 1076.3L704.8 1076.9L705.2 1076.3L705.8 1077L706.2 1076.2L706.8 1077L707.2 1076.3L707.8 1076.9L708.2 1076.2L708.8 1077.1L709.2 1076L709.8 1077.2L710.2 1076.2L710.8 1077L711.2 1076.2L711.8 1077.2L712.2 1075.9L712.8 1077L713.2 1075.9L713.8 1077.5L714.2 1075.8L714.8 1077.2L715.2 1075.7L715.8 1077.3L716.2 1075.9L716.8 1077.6L717.2 1076L717.8 1076.9L718.2 1076.2L718.8 1076.6L719.2 1076.1L719.8 1076.6L720.2 1075.8L720.8 1077.2L721.2 1075.5L721.8 1077.3L722.2 1075.4L722.8 1077L723.2 1075.4L723.8 1077.2L724.2 1075.4L724.8 1077.3L725.2 1075.4L725.8 1077.2L726.2 1075.4L726.8 1077.3L727.2 1075.7L727.8 1076.7L728.2 1075.7L728.8 1077.2L729.2 1075.5L729.8 1077.1L730.2 1075.7L730.8 1076.9L731.2 1075.6L731.8 1077.1L732.2 1075.6L732.8 1076.9L733.2 1075.9L733.8 1076.9L734.2 1075.6L734.8 1077.2L735.2 1075.7L735.8 1076.7L736.2 1075.8L736.8 1076.9L737.2 1075.8L737.8 1077.4L738.2 1075.6L738.8 1077.3L739.2 1075.7L739.8 1077.5L740.2 1075.7L740.8 1077.4L741.2 1075.7L741.8 1077.4L742.2 1075.8L742.8 1077L743.2 1076L743.8 1077.2L744.2 1076L744.8 1077.6L745.2 1076L745.8 1077.4L746.2 1075.9L746.8 1077.3L747.2 1076L747.8 1077.4L748.2 1075.9L748.8 1077.3L749.2 1075.8L749.8 1077.6L750.2 1075.9L750.8 1077.5L751.2 1075.9L751.8 1077.6L752.2 1075.8L752.8 1077.6L753.2 1075.9L753.8 1077.4L754.2 1076.1L754.8 1077.3L755.2 1076.2L755.8 1077.5L756.2 1076.3L756.8 1077.1L757.2 1076.3L757.8 1077.3L758.2 1076.2L758.8 1077.1L759.2 1076.6L759.8 1077.1L760.2 1076.5L760.8 1077.1L761.2 1076.2L761.8 1077.5L762.2 1076L762.8 1077.5L763.2 1075.9L763.8 1077.1L764.2 1076.1L764.8 1077.3L765.2 1076.1L765.8 1077.6L766.2 1076.1L766.8 1076.9L767.2 1076.2L767.8 1076.9L768.2 1076.4L768.8 1077.4L769.2 1076.1L769.8 1077.4L770.2 1076.5L770.8 1077.1L771.2 1076L771.8 1077.4L772.2 1076.1L772.8 1077L773.2 1076.4L773.8 1077.2L774.2 1076.4L774.8 1077.1L775.2 1076.1L775.8 1077.5L776.2 1076.2L776.8 1077.2L777.2 1076.1L777.8 1077.5L778.2 1076.2L778.8 1077.1L779.2 1076.4L779.8 1077.3L780.2 1076.2L780.8 1077.1L781.2 1076.5L781.8 1077.1L782.2 1076.5L782.8 1077.1" fill="none" stroke="#ff0000" stroke-width="1.35" stroke-linejoin="round" stroke-linecap="butt"/>
<path d="M41.8 1077.75L55.4 1077.75L48.6 1065.75Z" fill="none" stroke="#ff0000" stroke-width="1.05" stroke-linejoin="miter"/>
<path d="M98.5 1086.46L112.1 1086.46L105.3 1074.46Z" fill="none" stroke="#ff0000" stroke-width="1.05" stroke-linejoin="miter"/>
<path d="M155.2 1073.95L168.8 1073.95L162 1061.95Z" fill="none" stroke="#ff0000" stroke-width="1.05" stroke-linejoin="miter"/>
<path d="M211.9 1079L225.5 1079L218.7 1067Z" fill="none" stroke="#ff0000" stroke-width="1.05" stroke-linejoin="miter"/>
<path d="M268.6 1073.94L282.2 1073.94L275.4 1061.94Z" fill="none" stroke="#ff0000" stroke-width="1.05" stroke-linejoin="miter"/>
<path d="M325.3 1073.59L338.9 1073.59L332.1 1061.59Z" fill="none" stroke="#ff0000" stroke-width="1.05" stroke-linejoin="miter"/>
<path d="M382 1071.9L395.6 1071.9L388.8 1059.9Z" fill="none" stroke="#ff0000" stroke-width="1.05" stroke-linejoin="miter"/>
<path d="M438.7 1120.52L452.3 1120.52L445.5 1108.52Z" fill="none" stroke="#ff0000" stroke-width="1.05" stroke-linejoin="miter"/>
<path d="M495.4 1120.89L509 1120.89L502.2 1108.89Z" fill="none" stroke="#ff0000" stroke-width="1.05" stroke-linejoin="miter"/>
<path d="M552.1 1083.93L565.7 1083.93L558.9 1071.93Z" fill="none" stroke="#ff0000" stroke-width="1.05" stroke-linejoin="miter"/>
<path d="M608.8 1086.53L622.4 1086.53L615.6 1074.53Z" fill="none" stroke="#ff0000" stroke-width="1.05" stroke-linejoin="miter"/>
<path d="M665.5 1083.88L679.1 1083.88L672.3 1071.88Z" fill="none" stroke="#ff0000" stroke-width="1.05" stroke-linejoin="miter"/>
<path d="M722.2 1080.26L735.8 1080.26L729 1068.26Z" fill="none" stroke="#ff0000" stroke-width="1.05" stroke-linejoin="miter"/>
<path d="M48.8 1057L49.2 1056.7L49.8 1056.5L50.2 1056.2L50.8 1056L51.2 1055.7L51.8 1055.4L52.2 1055.2L52.8 1055L53.2 1054.7L53.8 1054.4L54.2 1054.1L54.8 1053.8L55.2 1053.5L55.8 1053.3L56.2 1053.2L56.8 1053L57.2 1052.7L57.8 1052L58.2 1051L58.8 1050L59.2 1049.1L59.8 1048.1L60.2 1047.1L60.8 1046L61.2 1044.9L61.8 1043.9L62.2 1042.9L62.8 1041.9L63.2 1040.9L63.8 1039.9L64.2 1038.9L64.8 1038.1L65.2 1037.4L65.8 1036.9L66.2 1036.3L66.8 1035.8L67.2 1035.3L67.8 1034.7L68.2 1034.2L68.8 1033.7L69.2 1033.2L69.8 1032.7L70.2 1032.3L70.8 1031.8L71.2 1031.2L71.8 1030.7L72.2 1030.2L72.8 1029.8L73.2 1029.2L73.8 1028.7L74.2 1028.2L74.8 1027.7L75.2 1027.3L75.8 1027.1L76.2 1026.8L76.8 1026.7L77.2 1026.7L77.8 1026.4L78.2 1026L78.8 1025.8L79.2 1025.6L79.8 1025.5L80.2 1025.3L80.8 1025.1L81.2 1024.9L81.8 1024.8L82.2 1024.5L82.8 1024.2L83.2 1024L83.8 1023.7L84.2 1024.4L84.8 1025L85.2 1025.6L85.8 1026.3L86.2 1026.9L86.8 1027.5L87.2 1028.1L87.8 1028.8L88.2 1029.5L88.8 1030.1L89.2 1030.7L89.8 1031.4L90.2 1032L90.8 1032.7L91.2 1033.4L91.8 1034.1L92.2 1034.7L92.8 1035.4L93.2 1036.2L93.8 1037.1L94.2 1038L94.8 1038.9L95.2 1039.6L95.8 1040.4L96.2 1041.2L96.8 1042.2L97.2 1043.1L97.8 1044L98.2 1044.9L98.8 1045.8L99.2 1046.7L99.8 1047.5L100.2 1048.3L100.8 1049.1L101.2 1050L101.8 1050.8L102.2 1051.7L102.8 1052.5L103.2 1053.5L103.8 1054.4L104.2 1055.2L104.8 1056L105.2 1057L105.8 1058L106.2 1058.8L106.8 1059.6L107.2 1060.3L107.8 1061L108.2 1061.8L108.8 1062.6L109.2 1063.5L109.8 1064.4L110.2 1065.2L110.8 1065.9L111.2 1066.6L111.8 1067.4L112.2 1068.2L112.8 1068.4L113.2 1067.9L113.8 1067.4L114.2 1067.5L114.8 1067.7L115.2 1067.3L115.8 1066.9L116.2 1066.6L116.8 1066.3L117.2 1066.2L117.8 1066L118.2 1065.5L118.8 1064.3L119.2 1063.4L119.8 1064.3L120.2 1065.3L120.8 1065.9L121.2 1066.5L121.8 1065.8L122.2 1064.7L122.8 1064.8L123.2 1065.8L123.8 1066.1L124.2 1065.2L124.8 1064.5L125.2 1065.1L125.8 1065.7L126.2 1065.7L126.8 1065.7L127.2 1065.9L127.8 1066L128.2 1066.4L128.8 1067L129.2 1066.6L129.8 1064.9L130.2 1063.6L130.8 1064L131.2 1064.4L131.8 1063.9L132.2 1063.4L132.8 1064L133.2 1064.9L133.8 1064.9L134.2 1064.3L134.8 1063.9L135.2 1064.1L135.8 1064.3L136.2 1064.9L136.8 1065.5L137.2 1064.3L137.8 1063.1L138.2 1063.4L138.8 1064.1L139.2 1065.1L139.8 1066.3L140.2 1066.6L140.8 1065.7L141.2 1064.7L141.8 1063.7L142.2 1062.7L142.8 1062.8L143.2 1062.9L143.8 1062.8L144.2 1062.6L144.8 1063.5L145.2 1065.2L145.8 1065.2L146.2 1062.6L146.8 1060.9L147.2 1062.8L147.8 1064.7L148.2 1061L148.8 1057.5L149.2 1057L149.8 1057.2L150.2 1057.8L150.8 1058.7L151.2 1059.3L151.8 1059.6L152.2 1060.3L152.8 1062.4L153.2 1064.5L153.8 1063.4L154.2 1062.3L154.8 1060.7L155.2 1058.9L155.8 1058.1L156.2 1057.9L156.8 1058.4L157.2 1059.9L157.8 1060.8L158.2 1059.4L158.8 1057.9L159.2 1058.5L159.8 1059.2L160.2 1058.9L160.8 1058.3L161.2 1058.3L161.8 1058.7L162.2 1059L162.8 1059.6L163.2 1060.3L163.8 1062.2L164.2 1064.1L164.8 1060.8L165.2 1057.6L165.8 1057.5L166.2 1058.1L166.8 1058.7L167.2 1059.1L167.8 1059.3L168.2 1058.8L168.8 1058.5L169.2 1058.9L169.8 1059.3L170.2 1057.7L170.8 1056L171.2 1055.8L171.8 1056L172.2 1055.4L172.8 1054.4L173.2 1054.7L173.8 1056.6L174.2 1058.3L174.8 1058.4L175.2 1058.7L175.8 1058.4L176.2 1058.1L176.8 1057.8L177.2 1057.6L177.8 1057.2L178.2 1056.6L178.8 1056.3L179.2 1056.5L179.8 1056.7L180.2 1056.9L180.8 1057L181.2 1061.6L181.8 1066.1L182.2 1066.3L182.8 1065.5L183.2 1063L183.8 1059.2L184.2 1057.2L184.8 1058L185.2 1058.8L185.8 1060.3L186.2 1061.9L186.8 1060.5L187.2 1059.2L187.8 1058.6L188.2 1058.2L188.8 1057.4L189.2 1056.3L189.8 1056.5L190.2 1058.5L190.8 1060.1L191.2 1060.4L191.8 1060.8L192.2 1059.1L192.8 1057.5L193.2 1056.4L193.8 1055.5L194.2 1056.3L194.8 1058.2L195.2 1058.8L195.8 1057.4L196.2 1056.2L196.8 1056.1L197.2 1055.9L197.8 1055.4L198.2 1055L198.8 1056.7L199.2 1058.8L199.8 1058.9L200.2 1057.6L200.8 1056.5L201.2 1055.7L201.8 1055.1L202.2 1055.7L202.8 1056.2L203.2 1055.8L203.8 1055.5L204.2 1055.6L204.8 1055.8L205.2 1055.9L205.8 1055.9L206.2 1055.4L206.8 1054.3L207.2 1053.3L207.8 1052.8L208.2 1052.2L208.8 1049.7L209.2 1047.2L209.8 1046.1L210.2 1045.3L210.8 1045.8L211.2 1047.1L211.8 1046.9L212.2 1044.5L212.8 1043.3L213.2 1046.6L213.8 1049.9L214.2 1048.2L214.8 1046.6L215.2 1047.8L215.8 1049.8L216.2 1048.7L216.8 1045.5L217.2 1044.5L217.8 1046.8L218.2 1048.4L218.8 1047.3L219.2 1046.4L219.8 1047.1L220.2 1047.8L220.8 1048.1L221.2 1048.3L221.8 1047L222.2 1045L222.8 1043.3L223.2 1042.1L223.8 1040.6L224.2 1034.5L224.8 1028.5L225.2 1028.7L225.8 1035L226.2 1041.9L226.8 1044.1L227.2 1045.6L227.8 1047L228.2 1047.1L228.8 1045.4L229.2 1044.3L229.8 1045.5L230.2 1046.7L230.8 1046.3L231.2 1045.8L231.8 1045.6L232.2 1045.4L232.8 1046.2L233.2 1047.6L233.8 1048.2L234.2 1047.4L234.8 1046.8L235.2 1047.5L235.8 1048.1L236.2 1049.3L236.8 1050.4L237.2 1051.2L237.8 1051.8L238.2 1051.9L238.8 1051.7L239.2 1051.5L239.8 1051.1L240.2 1050.7L240.8 1050.8L241.2 1050.8L241.8 1052.1L242.2 1053.5L242.8 1050.4L243.2 1046.6L243.8 1045.9L244.2 1047.3L244.8 1048.9L245.2 1050.9L245.8 1052.6L246.2 1053.4L246.8 1054.2L247.2 1051.8L247.8 1049.2L248.2 1049.6L248.8 1050.7L249.2 1051.1L249.8 1050.9L250.2 1050.8L250.8 1050.7L251.2 1050.6L251.8 1050.8L252.2 1050.9L252.8 1050.9L253.2 1050.9L253.8 1049.3L254.2 1047.4L254.8 1046.7L255.2 1046.8L255.8 1046.2L256.2 1044.4L256.8 1043.1L257.2 1044.2L257.8 1045.3L258.2 1047.7L258.8 1050.1L259.2 1050.1L259.8 1049.5L260.2 1048.8L260.8 1047.9L261.2 1047.4L261.8 1047.6L262.2 1048.2L262.8 1050.9L263.2 1053.6L263.8 1052.5L264.2 1051.5L264.8 1049.5L265.2 1047.5L265.8 1046.9L266.2 1047.3L266.8 1048.2L267.2 1049.6L267.8 1051L268.2 1052.5L268.8 1054L269.2 1051.9L269.8 1049.8L270.2 1049.6L270.8 1049.8L271.2 1049.8L271.8 1049.5L272.2 1049.3L272.8 1049.2L273.2 1048.8L273.8 1047.6L274.2 1046.3L274.8 1047.2L275.2 1047.7L275.8 1049.6L276.2 1052.3L276.8 1052.2L277.2 1050.1L277.8 1048.8L278.2 1048.8L278.8 1049.2L279.2 1051.5L279.8 1053.8L280.2 1051.6L280.8 1049.2L281.2 1049.2L281.8 1049.8L282.2 1049.6L282.8 1048.8L283.2 1045.6L283.8 1038.8L284.2 1034.5L284.8 1040.4L285.2 1044L285.8 1040.5L286.2 1037L286.8 1038.5L287.2 1039.2L287.8 1041.7L288.2 1044.1L288.8 1046.1L289.2 1047.5L289.8 1048.8L290.2 1049.9L290.8 1050.9L291.2 1047.3L291.8 1043.7L292.2 1044.5L292.8 1046.2L293.2 1047.9L293.8 1049.7L294.2 1049.5L294.8 1046.3L295.2 1043.9L295.8 1044.1L296.2 1044.3L296.8 1044.8L297.2 1045.2L297.8 1044L298.2 1042.4L298.8 1042.4L299.2 1043.5L299.8 1043.5L300.2 1042L300.8 1040.6L301.2 1039.8L301.8 1038.9L302.2 1038.6L302.8 1038.3L303.2 1036.9L303.8 1035L304.2 1031.5L304.8 1029.2L305.2 1030.5L305.8 1035.2L306.2 1038.8L306.8 1034.8L307.2 1030.5L307.8 1034.8L308.2 1039.1L308.8 1039.2L309.2 1038.7L309.8 1038.5L310.2 1038.6L310.8 1040.4L311.2 1044.9L311.8 1047.9L312.2 1045.2L312.8 1042.5L313.2 1041.4L313.8 1040.2L314.2 1040.3L314.8 1040.8L315.2 1042.8L315.8 1045.7L316.2 1045.7L316.8 1041.3L317.2 1038.2L317.8 1040.4L318.2 1042.6L318.8 1043.5L319.2 1044.4L319.8 1048.1L320.2 1052.7L320.8 1053.7L321.2 1052L321.8 1050L322.2 1047.4L322.8 1044.7L323.2 1041.8L323.8 1039L324.2 1044.5L324.8 1050.2L325.2 1054.2L325.8 1057.8L326.2 1056.4L326.8 1051.7L327.2 1047.4L327.8 1043.7L328.2 1041.4L328.8 1047.2L329.2 1053L329.8 1057L330.2 1061L330.8 1059.8L331.2 1057.2L331.8 1054.9L332.2 1052.6L332.8 1051.7L333.2 1052.8L333.8 1052.5L334.2 1046.1L334.8 1039.7L335.2 1044.4L335.8 1049.1L336.2 1046.4L336.8 1041.9L337.2 1043L337.8 1048.2L338.2 1051.1L338.8 1050.7L339.2 1050.8L339.8 1053.4L340.2 1056.1L340.8 1053.1L341.2 1050.1L341.8 1047.7L342.2 1045.3L342.8 1043.9L343.2 1043.4L343.8 1043.9L344.2 1046L344.8 1048.1L345.2 1049.9L345.8 1051.6L346.2 1052.2L346.8 1052.8L347.2 1052.1L347.8 1051L348.2 1051.2L348.8 1052.3L349.2 1054.3L349.8 1057.6L350.2 1059.5L350.8 1055.5L351.2 1051.6L351.8 1051.8L352.2 1051.7L352.8 1054.8L353.2 1058.5L353.8 1058.6L354.2 1056.3L354.8 1053.7L355.2 1050.6L355.8 1048.4L356.2 1049.6L356.8 1051.2L357.2 1044.9L357.8 1038.6L358.2 1039.2L358.8 1041.5L359.2 1043.4L359.8 1044.9L360.2 1046L360.8 1046.6L361.2 1046.5L361.8 1044.7L362.2 1043L362.8 1042.5L363.2 1042L363.8 1038.8L364.2 1034.9L364.8 1034L365.2 1035L365.8 1035.4L366.2 1035L366.8 1035.4L367.2 1038.7L367.8 1042.1L368.2 1039.6L368.8 1037.1L369.2 1032.8L369.8 1028L370.2 1025.9L370.8 1025.7L371.2 1024.8L371.8 1033.3L372.2 1040.6L372.8 1041.1L373.2 1038.9L373.8 1039.9L374.2 1040.9L374.8 1041.4L375.2 1040.7L375.8 1040L376.2 1039.7L376.8 1038.4L377.2 1035.6L377.8 1033.6L378.2 1034.8L378.8 1035.8L379.2 1032.6L379.8 1029.4L380.2 1028.8L380.8 1031.3L381.2 1034.3L381.8 1035.2L382.2 1035.4L382.8 1034.8L383.2 1034.2L383.8 1033.6L384.2 1033L384.8 1033.1L385.2 1033.2L385.8 1033.2L386.2 1033.2L386.8 1026.1L387.2 1014.3L387.8 1011.7L388.2 1023.1L388.8 1032.2L389.2 1031.8L389.8 1031.5L390.2 1031.4L390.8 1031.3L391.2 1032L391.8 1029.1L392.2 1023.3L392.8 1020.7L393.2 1024.1L393.8 1028.8L394.2 1029.8L394.8 1034.3L395.2 1030.9L395.8 1030.4L396.2 1018L396.8 1022.4L397.2 1013.5L397.8 1015.8L398.2 1004.9L398.8 1018.2L399.2 989.6L399.8 1005.7L400.2 975.6L400.8 1001.4L401.2 966.1L401.8 997.1L402.2 957.8L402.8 993.1L403.2 948.5L403.8 986.3L404.2 942L404.8 977.1L405.2 937.2L405.8 974.8L406.2 933.9L406.8 969.9L407.2 919.8L407.8 966.2L408.2 917.3L408.8 957.7L409.2 909.8L409.8 950.1L410.2 902L410.8 939.8L411.2 896.3L411.8 940.1L412.2 893.8L412.8 942.6L413.2 894.7L413.8 939.8L414.2 889.1L414.8 932.8L415.2 882.1L415.8 922.3L416.2 876.2L416.8 924L417.2 879.1L417.8 922.4L418.2 876.8L418.8 921.1L419.2 872.6L419.8 916.6L420.2 869.9L420.8 914.9L421.2 869.6L421.8 908.5L422.2 870.7L422.8 903.1L423.2 864.8L423.8 896.6L424.2 860.2L424.8 897.2L425.2 863.6L425.8 892L426.2 863.5L426.8 886.9L427.2 862.4L427.8 881.8L428.2 857.2L428.8 875.6L429.2 856.9L429.8 869.7L430.2 853.2L430.8 866.6L431.2 850.5L431.8 870.9L432.2 857L432.8 874.9L433.2 863.2L433.8 886.3L434.2 864.9L434.8 890.2L435.2 870.1L435.8 891.4L436.2 878.1L436.8 892.9L437.2 880.1L437.8 896.7L438.2 880.5L438.8 900.7L439.2 886.1L439.8 899.9L440.2 892.4L440.8 901.8L441.2 903.1L441.8 910.6L442.2 910.5L442.8 913.5L443.2 900.6L443.8 893.7L444.2 894.4L444.8 901.3L445.2 903.9L445.8 912.2L446.2 913.8L446.8 921.2L447.2 922.6L447.8 921L448.2 915.7L448.8 916.5L449.2 913L449.8 912.2L450.2 907.3L450.8 912.4L451.2 913.1L451.8 918.8L452.2 919.1L452.8 923.9L453.2 923.3L453.8 928.8L454.2 927.8L454.8 930.1L455.2 925L455.8 926.9L456.2 921.6L456.8 921.8L457.2 916.9L457.8 917.7L458.2 913.4L458.8 915.7L459.2 914.4L459.8 919.6L460.2 918.4L460.8 922.1L461.2 921L461.8 926.6L462.2 926.5L462.8 928.2L463.2 921.1L463.8 919.8L464.2 911.8L464.8 917L465.2 916.5L465.8 921.6L466.2 923.8L466.8 930.9L467.2 930.1L467.8 936L468.2 930.5L468.8 931.8L469.2 926.8L469.8 930L470.2 924.7L470.8 924.3L471.2 918L471.8 918L472.2 915.6L472.8 919.4L473.2 919.2L473.8 922.5L474.2 920.8L474.8 925.7L475.2 922.2L475.8 927.2L476.2 922.6L476.8 928.6L477.2 922.1L477.8 928.5L478.2 921L478.8 928.3L479.2 918.9L479.8 928.4L480.2 917.5L480.8 929.5L481.2 917.5L481.8 928.3L482.2 917.6L482.8 928L483.2 916.6L483.8 926.9L484.2 914.7L484.8 924.3L485.2 916.5L485.8 923.1L486.2 915L486.8 921.3L487.2 913.9L487.8 920.2L488.2 912.9L488.8 920.7L489.2 912.5L489.8 919.8L490.2 911.5L490.8 922.5L491.2 911.9L491.8 921.6L492.2 913.6L492.8 920.5L493.2 913.6L493.8 922.3L494.2 914.8L494.8 925.2L495.2 913.9L495.8 926L496.2 918.2L496.8 927.1L497.2 920.6L497.8 930.8L498.2 922.3L498.8 933.8L499.2 926.8L499.8 935.9L500.2 931L500.8 939.2L501.2 934.1L501.8 943.7L502.2 939.7L502.8 946.7L503.2 945.5L503.8 950.6L504.2 950.4L504.8 955.3L505.2 956.9L505.8 962.8L506.2 964.4L506.8 969.9L507.2 972L507.8 977.3L508.2 980.8L508.8 992.3L509.2 1002.4L509.8 1013.3L510.2 1023.9L510.8 1034.8L511.2 1042.9L511.8 1048.7L512.2 1054.5L512.8 1057.4L513.2 1057.2L513.8 1057L514.2 1056.7L514.8 1056.3L515.2 1056.1L515.8 1056.2L516.2 1056.4L516.8 1056.2L517.2 1055.9L517.8 1055.8L518.2 1055.7L518.8 1055.7L519.2 1055.8L519.8 1055.7L520.2 1055.5L520.8 1055.3L521.2 1055.2L521.8 1055.1L522.2 1054.7L522.8 1054.3L523.2 1054.5L523.8 1054.8L524.2 1054.8L524.8 1054.7L525.2 1054.7L525.8 1054.8L526.2 1054.8L526.8 1054.3L527.2 1053.9L527.8 1054.1L528.2 1054.3L528.8 1054.6L529.2 1054.9L529.8 1054.9L530.2 1054.7L530.8 1054.5L531.2 1054.4L531.8 1054.3L532.2 1054.3L532.8 1054.3L533.2 1054.2L533.8 1054L534.2 1054.1L534.8 1054.3L535.2 1054.4L535.8 1054.5L536.2 1054.5L536.8 1054.2L537.2 1054L537.8 1054.1L538.2 1054.3L538.8 1054.3L539.2 1054.3L539.8 1054.1L540.2 1054L540.8 1053.9L541.2 1054L541.8 1054.1L542.2 1054.1L542.8 1054.1L543.2 1054.1L543.8 1054.2L544.2 1054.3L544.8 1054.3L545.2 1054.3L545.8 1054.3L546.2 1054.3L546.8 1054.2L547.2 1054.1L547.8 1054L548.2 1053.9L548.8 1053.9L549.2 1053.9L549.8 1053.8L550.2 1053.7L550.8 1053.8L551.2 1053.8L551.8 1053.9L552.2 1053.9L552.8 1053.8L553.2 1053.8L553.8 1053.7L554.2 1053.9L554.8 1054L555.2 1054L555.8 1053.9L556.2 1053.7L556.8 1053.4L557.2 1053.4L557.8 1053.7L558.2 1053.8L558.8 1053.8L559.2 1053.8L559.8 1053.8L560.2 1053.8L560.8 1053.7L561.2 1053.5L561.8 1053.5L562.2 1053.4L562.8 1053.3L563.2 1053.1L563.8 1053.1L564.2 1053.3L564.8 1053.4L565.2 1053.4L565.8 1053.3L566.2 1053.5L566.8 1053.6L567.2 1053.5L567.8 1053.4L568.2 1053.5L568.8 1053.7L569.2 1053.8L569.8 1053.7L570.2 1053.6L570.8 1053.6L571.2 1053.5L571.8 1053.6L572.2 1053.6L572.8 1053.4L573.2 1053.1L573.8 1052.6L574.2 1052.1L574.8 1052.1L575.2 1053L575.8 1053.7L576.2 1053.5L576.8 1053.3L577.2 1053.4L577.8 1053.5L578.2 1053.5L578.8 1053.3L579.2 1053.3L579.8 1053.2L580.2 1053.2L580.8 1053.4L581.2 1053.5L581.8 1053.6L582.2 1053.8L582.8 1053.6L583.2 1053.3L583.8 1053.2L584.2 1053.2L584.8 1053.2L585.2 1053.1L585.8 1053.1L586.2 1053.1L586.8 1053.2L587.2 1053.2L587.8 1053.2L588.2 1053.2L588.8 1053.3L589.2 1053.3L589.8 1053.3L590.2 1053.2L590.8 1053.1L591.2 1053L591.8 1053.1L592.2 1053.2L592.8 1053.2L593.2 1053.2L593.8 1052.9L594.2 1052.7L594.8 1053.1L595.2 1053.6L595.8 1053.6L596.2 1053.2L596.8 1052.9L597.2 1053L597.8 1053L598.2 1053L598.8 1052.9L599.2 1052.9L599.8 1052.8L600.2 1053.1L600.8 1053.4L601.2 1053.2L601.8 1052.5L602.2 1052.3L602.8 1052.5L603.2 1052.7L603.8 1052.8L604.2 1052.9L604.8 1052.8L605.2 1052.7L605.8 1052.6L606.2 1052.6L606.8 1052.4L607.2 1052.2L607.8 1052.2L608.2 1052.3L608.8 1052.4L609.2 1052.5L609.8 1052.5L610.2 1052.5L610.8 1052.5L611.2 1052.5L611.8 1052.5L612.2 1052.6L612.8 1052.8L613.2 1052.8L613.8 1052.7L614.2 1052.5L614.8 1052.2L615.2 1052L615.8 1052.2L616.2 1052.4L616.8 1052.4L617.2 1052.4L617.8 1052.3L618.2 1052.2L618.8 1052.1L619.2 1052.3L619.8 1052.4L620.2 1052.1L620.8 1051.8L621.2 1051.8L621.8 1051.9L622.2 1051.8L622.8 1051.7L623.2 1051.5L623.8 1051.4L624.2 1051.2L624.8 1051.2L625.2 1051.2L625.8 1051L626.2 1050.9L626.8 1051L627.2 1051.1L627.8 1051.2L628.2 1051.3L628.8 1051.1L629.2 1050.8L629.8 1050.6L630.2 1050.7L630.8 1050.8L631.2 1050.9L631.8 1051L632.2 1050.7L632.8 1050.4L633.2 1050.2L633.8 1050.1L634.2 1050.1L634.8 1050.2L635.2 1050.2L635.8 1050L636.2 1049.8L636.8 1049.8L637.2 1049.8L637.8 1049.7L638.2 1049.7L638.8 1049.7L639.2 1049.7L639.8 1049.9L640.2 1050.3L640.8 1050.3L641.2 1049.9L641.8 1049.5L642.2 1049.5L642.8 1049.4L643.2 1049.2L643.8 1049L644.2 1049.1L644.8 1049.3L645.2 1049.3L645.8 1049.1L646.2 1049L646.8 1049L647.2 1049L647.8 1049.1L648.2 1049.2L648.8 1048.9L649.2 1048.6L649.8 1048.6L650.2 1048.7L650.8 1048.7L651.2 1048.8L651.8 1048.8L652.2 1048.8L652.8 1048.8L653.2 1048.9L653.8 1048.9L654.2 1048.9L654.8 1048.8L655.2 1048.6L655.8 1048.4L656.2 1048.5L656.8 1048.7L657.2 1048.8L657.8 1048.7L658.2 1048.6L658.8 1048.7L659.2 1048.8L659.8 1048.7L660.2 1048.6L660.8 1048.6L661.2 1048.6L661.8 1048.6L662.2 1048.6L662.8 1048.6L663.2 1048.6L663.8 1048.7L664.2 1049.1L664.8 1049.5L665.2 1049.1L665.8 1048.8L666.2 1048.6L666.8 1048.4L667.2 1048.5L667.8 1048.6L668.2 1048.7L668.8 1048.5L669.2 1048.4L669.8 1048.6L670.2 1048.7L670.8 1048.8L671.2 1048.9L671.8 1048.9L672.2 1048.9L672.8 1049.2L673.2 1049.7L673.8 1049.9L674.2 1049.7L674.8 1049.6L675.2 1049.9L675.8 1050.2L676.2 1050L676.8 1049.8L677.2 1050.1L677.8 1050.4L678.2 1050.7L678.8 1050.9L679.2 1051L679.8 1051.1L680.2 1051.2L680.8 1051.3L681.2 1051.3L681.8 1051.6L682.2 1051.8L682.8 1052L683.2 1052.2L683.8 1052.1L684.2 1052L684.8 1052.1L685.2 1052.5L685.8 1052.8L686.2 1052.7L686.8 1052.7L687.2 1052.9L687.8 1053.1L688.2 1052.9L688.8 1052.7L689.2 1052.7L689.8 1052.8L690.2 1052.9L690.8 1052.8L691.2 1052.8L691.8 1053L692.2 1053.1L692.8 1053L693.2 1053L693.8 1053.2L694.2 1053.6L694.8 1053.7L695.2 1053.7L695.8 1053.7L696.2 1053.7L696.8 1053.7L697.2 1053.8L697.8 1053.9L698.2 1054.3L698.8 1054.7L699.2 1054.6L699.8 1054.4L700.2 1054.3L700.8 1054.2L701.2 1054L701.8 1053.7L702.2 1053.5L702.8 1053.6L703.2 1053.7L703.8 1053.7L704.2 1053.7L704.8 1053.6L705.2 1053.5L705.8 1053.6L706.2 1053.7L706.8 1053.9L707.2 1054.1L707.8 1054.2L708.2 1054L708.8 1053.9L709.2 1053.9L709.8 1053.9L710.2 1053.9L710.8 1053.9L711.2 1054L711.8 1054.3L712.2 1054.4L712.8 1054.3L713.2 1054.2L713.8 1054.2L714.2 1054.3L714.8 1054.2L715.2 1054L715.8 1054.2L716.2 1054.4L716.8 1054.5L717.2 1054.6L717.8 1054.6L718.2 1054.5L718.8 1054.4L719.2 1054.3L719.8 1054.2L720.2 1054.2L720.8 1054.3L721.2 1054.3L721.8 1054.3L722.2 1054.3L722.8 1054.4L723.2 1054.4L723.8 1054.3L724.2 1054.3L724.8 1054.5L725.2 1054.8L725.8 1054.6L726.2 1054.4L726.8 1054.4L727.2 1054.5L727.8 1054.5L728.2 1054.4L728.8 1054.4L729.2 1054.5L729.8 1054.6L730.2 1054.6L730.8 1054.5L731.2 1054.5L731.8 1054.5L732.2 1054.4L732.8 1054.3L733.2 1054.3L733.8 1054.4L734.2 1054.5L734.8 1054.7L735.2 1054.7L735.8 1054.6L736.2 1054.4L736.8 1054.3L737.2 1054.2L737.8 1054.3L738.2 1054.4L738.8 1054.2L739.2 1053.9L739.8 1053.9L740.2 1054.5L740.8 1054.9L741.2 1054.8L741.8 1054.7L742.2 1054.9L742.8 1055L743.2 1054.8L743.8 1054.6L744.2 1054.6L744.8 1054.7L745.2 1054.6L745.8 1054.4L746.2 1054.3L746.8 1054.7L747.2 1055.2L747.8 1055.1L748.2 1054.9L748.8 1054.6L749.2 1054.4L749.8 1054.4L750.2 1054.5L750.8 1054.6L751.2 1054.5L751.8 1054.4L752.2 1054.4L752.8 1054.3L753.2 1054.4L753.8 1054.5L754.2 1054.4L754.8 1054.2L755.2 1054.3L755.8 1054.6L756.2 1054.9L756.8 1055.3L757.2 1055.5L757.8 1054.9L758.2 1054.3L758.8 1054.5L759.2 1054.6L759.8 1054.7L760.2 1054.8L760.8 1054.8L761.2 1054.9L761.8 1054.8L762.2 1054.5L762.8 1054.2L763.2 1054.4L763.8 1054.6L764.2 1054.6L764.8 1054.7L765.2 1054.6L765.8 1054.4L766.2 1054.4L766.8 1054.3L767.2 1054.3L767.8 1054.3L768.2 1054.4L768.8 1054.5L769.2 1054.6L769.8 1054.5L770.2 1054.3L770.8 1054.3L771.2 1054.4L771.8 1054.5L772.2 1054.6L772.8 1054.6L773.2 1054.4L773.8 1054.3L774.2 1054.4L774.8 1054.5L775.2 1054.9L775.8 1055.2L776.2 1054.8L776.8 1054.3L777.2 1054.2L777.8 1054.3L778.2 1054.5L778.8 1054.5L779.2 1054.5L779.8 1054.5L780.2 1054.4L780.8 1054.5L781.2 1054.5L781.8 1054.7L782.2 1055L782.8 1054.8" fill="none" stroke="#2bbdbd" stroke-width="1.35" stroke-linejoin="round" stroke-linecap="butt"/>
<rect x="43.6" y="1052" width="10" height="10" fill="none" stroke="#2bbdbd" stroke-width="1.05"/>
<rect x="100.3" y="1052.09" width="10" height="10" fill="none" stroke="#2bbdbd" stroke-width="1.05"/>
<rect x="157" y="1053.68" width="10" height="10" fill="none" stroke="#2bbdbd" stroke-width="1.05"/>
<rect x="213.7" y="1042.22" width="10" height="10" fill="none" stroke="#2bbdbd" stroke-width="1.05"/>
<rect x="270.4" y="1045.79" width="10" height="10" fill="none" stroke="#2bbdbd" stroke-width="1.05"/>
<rect x="327.1" y="1046.08" width="10" height="10" fill="none" stroke="#2bbdbd" stroke-width="1.05"/>
<rect x="383.8" y="1026.66" width="10" height="10" fill="none" stroke="#2bbdbd" stroke-width="1.05"/>
<rect x="440.5" y="913.6" width="10" height="10" fill="none" stroke="#2bbdbd" stroke-width="1.05"/>
<rect x="497.2" y="937.09" width="10" height="10" fill="none" stroke="#2bbdbd" stroke-width="1.05"/>
<rect x="553.9" y="1048.74" width="10" height="10" fill="none" stroke="#2bbdbd" stroke-width="1.05"/>
<rect x="610.6" y="1047.46" width="10" height="10" fill="none" stroke="#2bbdbd" stroke-width="1.05"/>
<rect x="667.3" y="1043.91" width="10" height="10" fill="none" stroke="#2bbdbd" stroke-width="1.05"/>
<rect x="724" y="1049.5" width="10" height="10" fill="none" stroke="#2bbdbd" stroke-width="1.05"/>
<rect x="48.6" y="846.1" width="756" height="294.1" fill="none" stroke="#000" stroke-width="1.4"/>
<text x="48.6" y="1180.67" font-size="38.33" text-anchor="middle" >0</text>
<text x="237.6" y="1180.67" font-size="38.33" text-anchor="middle" >1</text>
<text x="426.6" y="1180.67" font-size="38.33" text-anchor="middle" >2</text>
<text x="615.6" y="1180.67" font-size="38.33" text-anchor="middle" >3</text>
<text x="804.6" y="1180.67" font-size="38.33" text-anchor="middle" >4</text>
<text x="42.3" y="925.61" font-size="38.33" text-anchor="end" >10</text>
<text x="42.3" y="1007.11" font-size="38.33" text-anchor="end" >5</text>
<text x="42.3" y="1088.61" font-size="38.33" text-anchor="end" >0</text>
<path d="M237.6 1140.2v-7.15M237.6 846.1v7.15M426.6 1140.2v-7.15M426.6 846.1v7.15M615.6 1140.2v-7.15M615.6 846.1v7.15M48.6 911.4h7.15M804.6 911.4h-7.15M48.6 992.9h7.15M804.6 992.9h-7.15M48.6 1074.4h7.15M804.6 1074.4h-7.15" stroke="#000" stroke-width="1.4" fill="none"/>
<text x="426.3" y="1216.13" font-size="38.33" text-anchor="middle" textLength="153.3" lengthAdjust="spacingAndGlyphs">time steps</text>
<text x="792.03" y="1236.06" font-size="38.33" text-anchor="end" >x 10</text>
<text x="791.52" y="1211.94" font-size="25.04" text-anchor="start" >4</text>
<rect x="829.7" y="902.8" width="188" height="181.9" fill="#fff" stroke="#000" stroke-width="1.4"/>
<path d="M844 928.1H910.4" stroke="#0000ff" stroke-width="1.7" fill="none"/>
<circle cx="877.2" cy="928.1" r="6.54" fill="none" stroke="#0000ff" stroke-width="2.0"/>
<text x="917.5" y="941.9" font-size="38.33" text-anchor="start" textLength="97.6" lengthAdjust="spacingAndGlyphs">R[1,1]</text>
<path d="M844 971.75H910.4" stroke="#3a7d3c" stroke-width="1.7" fill="none"/>
<path d="M877.2 961.33L879.54 968.53L887.11 968.53L880.99 972.98L883.33 980.18L877.2 975.73L871.07 980.18L873.41 972.98L867.29 968.53L874.86 968.53Z" fill="none" stroke="#3a7d3c" stroke-width="2.0" stroke-linejoin="miter"/>
<text x="917.5" y="985.55" font-size="38.33" text-anchor="start" textLength="97.6" lengthAdjust="spacingAndGlyphs">R[1,2]</text>
<path d="M844 1015.1H910.4" stroke="#ff0000" stroke-width="1.7" fill="none"/>
<path d="M867.9 1020.72L886.5 1020.72L877.2 1004.06Z" fill="none" stroke="#ff0000" stroke-width="2.0" stroke-linejoin="miter"/>
<text x="917.5" y="1028.9" font-size="38.33" text-anchor="start" textLength="97.6" lengthAdjust="spacingAndGlyphs">R[2,1]</text>
<path d="M844 1058.8H910.4" stroke="#2bbdbd" stroke-width="1.7" fill="none"/>
<rect x="872.14" y="1053.74" width="10.12" height="10.12" fill="none" stroke="#2bbdbd" stroke-width="2.0"/>
<text x="917.5" y="1072.6" font-size="38.33" text-anchor="start" textLength="97.6" lengthAdjust="spacingAndGlyphs">R[2,2]</text>
</svg></body></html>
